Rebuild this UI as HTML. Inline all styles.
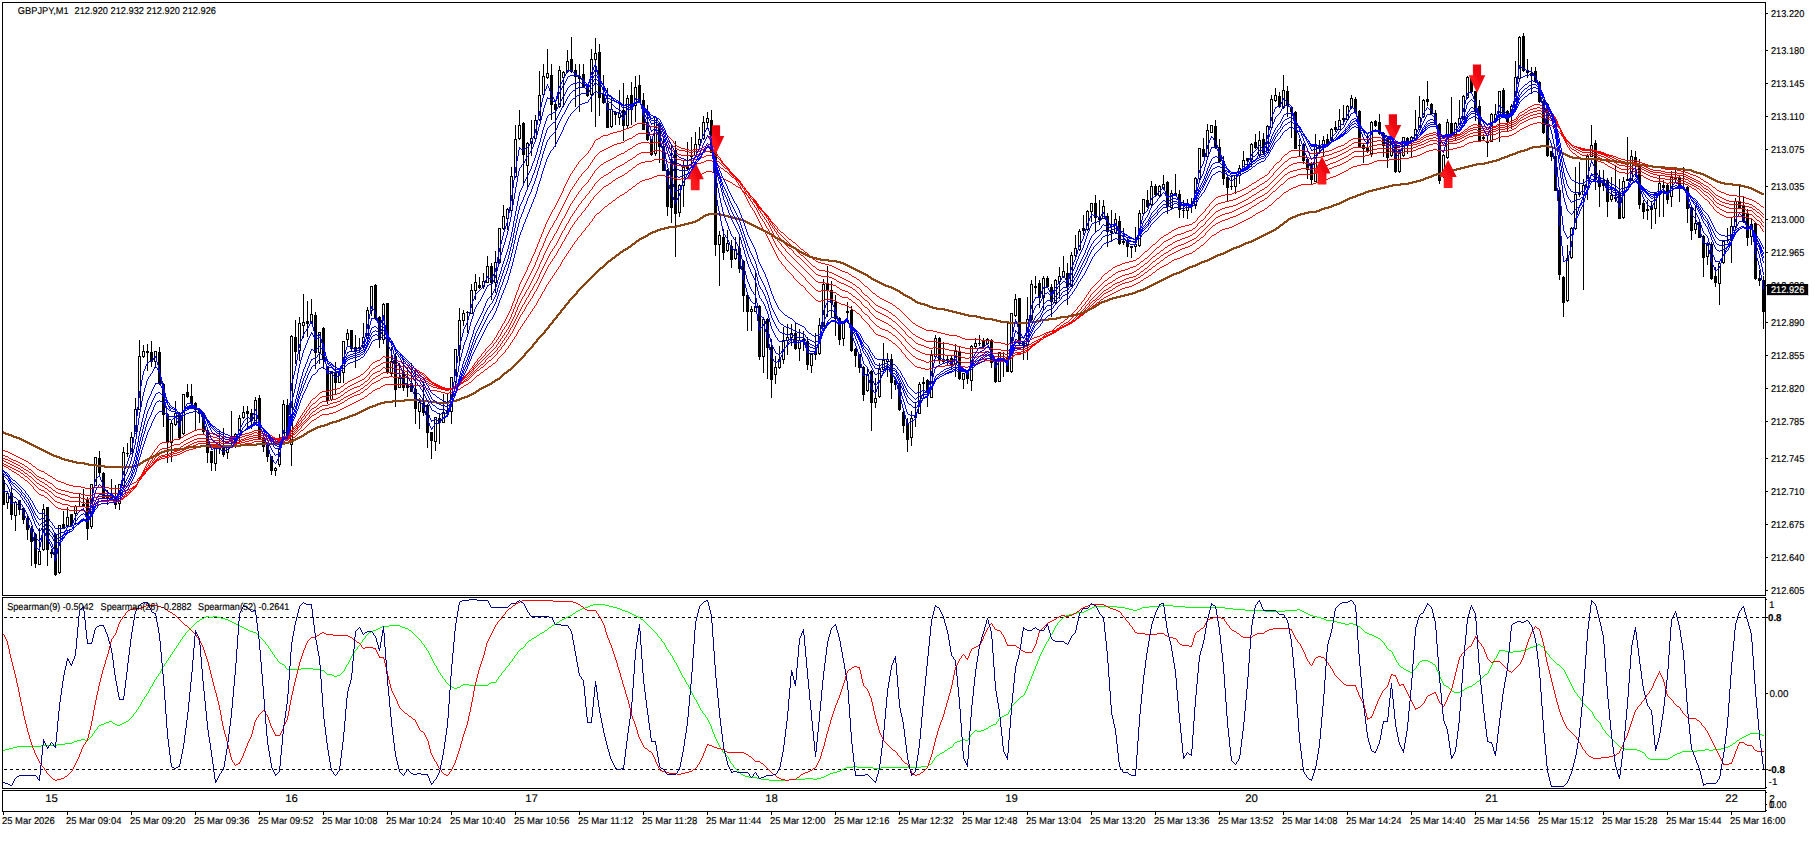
<!DOCTYPE html><html><head><meta charset="utf-8"><title>GBPJPY,M1</title><style>html,body{margin:0;padding:0;background:#fff;overflow:hidden}svg{display:block}</style></head><body><svg width="1816" height="847" viewBox="0 0 1816 847"><rect width="1816" height="847" fill="#fff"/><defs><clipPath id="cm"><rect x="3" y="3" width="1762" height="592"/></clipPath><clipPath id="ci"><rect x="3" y="598" width="1762" height="190"/></clipPath><linearGradient id="ag" x1="0" x2="1" y1="1" y2="0"><stop offset="0" stop-color="#ff2222"/><stop offset="0.45" stop-color="#fd1419"/><stop offset="0.55" stop-color="#ee0812"/><stop offset="1" stop-color="#e6000c"/></linearGradient></defs>
<g clip-path="url(#cm)" shape-rendering="crispEdges">
<g fill="#000"><rect x="3" y="473" width="1" height="32"/><rect x="2" y="480" width="3" height="25"/><rect x="7" y="493" width="1" height="16"/><rect x="6" y="493" width="3" height="10"/><rect x="7" y="494" width="1" height="8" fill="#fff"/><rect x="11" y="487" width="1" height="33"/><rect x="10" y="493" width="3" height="22"/><rect x="15" y="501" width="1" height="30"/><rect x="14" y="502" width="3" height="14"/><rect x="15" y="503" width="1" height="12" fill="#fff"/><rect x="19" y="500" width="1" height="15"/><rect x="18" y="500" width="3" height="10"/><rect x="23" y="507" width="1" height="17"/><rect x="22" y="508" width="3" height="12"/><rect x="27" y="516" width="1" height="24"/><rect x="26" y="518" width="3" height="12"/><rect x="31" y="526" width="1" height="40"/><rect x="30" y="528" width="3" height="14"/><rect x="35" y="533" width="1" height="35"/><rect x="34" y="534" width="3" height="30"/><rect x="39" y="528" width="1" height="37"/><rect x="38" y="551" width="3" height="14"/><rect x="39" y="552" width="1" height="12" fill="#fff"/><rect x="43" y="504" width="1" height="47"/><rect x="42" y="509" width="3" height="41"/><rect x="43" y="510" width="1" height="39" fill="#fff"/><rect x="47" y="507" width="1" height="59"/><rect x="46" y="507" width="3" height="43"/><rect x="51" y="549" width="1" height="9"/><rect x="50" y="552" width="3" height="2"/><rect x="55" y="533" width="1" height="43"/><rect x="54" y="534" width="3" height="41"/><rect x="59" y="525" width="1" height="49"/><rect x="58" y="525" width="3" height="48"/><rect x="59" y="526" width="1" height="46" fill="#fff"/><rect x="63" y="511" width="1" height="18"/><rect x="62" y="524" width="3" height="5"/><rect x="67" y="507" width="1" height="20"/><rect x="66" y="517" width="3" height="9"/><rect x="67" y="518" width="1" height="7" fill="#fff"/><rect x="71" y="514" width="1" height="13"/><rect x="70" y="514" width="3" height="12"/><rect x="75" y="505" width="1" height="20"/><rect x="74" y="506" width="3" height="8"/><rect x="75" y="507" width="1" height="6" fill="#fff"/><rect x="79" y="494" width="1" height="13"/><rect x="78" y="506" width="3" height="1"/><rect x="83" y="489" width="1" height="18"/><rect x="82" y="504" width="3" height="2"/><rect x="87" y="497" width="1" height="43"/><rect x="86" y="499" width="3" height="30"/><rect x="91" y="484" width="1" height="45"/><rect x="90" y="484" width="3" height="43"/><rect x="91" y="485" width="1" height="41" fill="#fff"/><rect x="95" y="457" width="1" height="29"/><rect x="94" y="457" width="3" height="29"/><rect x="95" y="458" width="1" height="27" fill="#fff"/><rect x="99" y="451" width="1" height="26"/><rect x="98" y="458" width="3" height="15"/><rect x="103" y="472" width="1" height="27"/><rect x="102" y="473" width="3" height="25"/><rect x="107" y="490" width="1" height="15"/><rect x="106" y="497" width="3" height="2"/><rect x="111" y="479" width="1" height="19"/><rect x="110" y="496" width="3" height="2"/><rect x="115" y="485" width="1" height="24"/><rect x="114" y="499" width="3" height="6"/><rect x="119" y="484" width="1" height="26"/><rect x="118" y="484" width="3" height="20"/><rect x="119" y="485" width="1" height="18" fill="#fff"/><rect x="123" y="447" width="1" height="39"/><rect x="122" y="452" width="3" height="34"/><rect x="123" y="453" width="1" height="32" fill="#fff"/><rect x="127" y="443" width="1" height="14"/><rect x="126" y="453" width="3" height="1"/><rect x="131" y="432" width="1" height="22"/><rect x="130" y="437" width="3" height="17"/><rect x="131" y="438" width="1" height="15" fill="#fff"/><rect x="135" y="398" width="1" height="36"/><rect x="134" y="409" width="3" height="25"/><rect x="135" y="410" width="1" height="23" fill="#fff"/><rect x="139" y="340" width="1" height="70"/><rect x="138" y="356" width="3" height="54"/><rect x="139" y="357" width="1" height="52" fill="#fff"/><rect x="143" y="345" width="1" height="13"/><rect x="142" y="351" width="3" height="6"/><rect x="143" y="352" width="1" height="4" fill="#fff"/><rect x="147" y="344" width="1" height="27"/><rect x="146" y="351" width="3" height="2"/><rect x="151" y="341" width="1" height="26"/><rect x="150" y="352" width="3" height="10"/><rect x="155" y="351" width="1" height="17"/><rect x="154" y="351" width="3" height="11"/><rect x="155" y="352" width="1" height="9" fill="#fff"/><rect x="159" y="347" width="1" height="38"/><rect x="158" y="352" width="3" height="32"/><rect x="163" y="383" width="1" height="44"/><rect x="162" y="384" width="3" height="31"/><rect x="167" y="413" width="1" height="50"/><rect x="166" y="414" width="3" height="29"/><rect x="171" y="420" width="1" height="42"/><rect x="170" y="423" width="3" height="20"/><rect x="171" y="424" width="1" height="18" fill="#fff"/><rect x="175" y="401" width="1" height="25"/><rect x="174" y="413" width="3" height="12"/><rect x="175" y="414" width="1" height="10" fill="#fff"/><rect x="179" y="412" width="1" height="28"/><rect x="178" y="413" width="3" height="25"/><rect x="183" y="394" width="1" height="41"/><rect x="182" y="394" width="3" height="40"/><rect x="183" y="395" width="1" height="38" fill="#fff"/><rect x="187" y="384" width="1" height="14"/><rect x="186" y="392" width="3" height="5"/><rect x="191" y="384" width="1" height="21"/><rect x="190" y="396" width="3" height="8"/><rect x="195" y="402" width="1" height="28"/><rect x="194" y="403" width="3" height="7"/><rect x="199" y="409" width="1" height="14"/><rect x="198" y="409" width="3" height="5"/><rect x="203" y="412" width="1" height="23"/><rect x="202" y="413" width="3" height="19"/><rect x="207" y="430" width="1" height="33"/><rect x="206" y="431" width="3" height="22"/><rect x="211" y="451" width="1" height="20"/><rect x="210" y="451" width="3" height="12"/><rect x="215" y="447" width="1" height="24"/><rect x="214" y="447" width="3" height="17"/><rect x="215" y="448" width="1" height="15" fill="#fff"/><rect x="219" y="430" width="1" height="24"/><rect x="218" y="444" width="3" height="5"/><rect x="223" y="428" width="1" height="29"/><rect x="222" y="446" width="3" height="9"/><rect x="227" y="445" width="1" height="14"/><rect x="226" y="446" width="3" height="7"/><rect x="227" y="447" width="1" height="5" fill="#fff"/><rect x="231" y="411" width="1" height="37"/><rect x="230" y="445" width="3" height="2"/><rect x="235" y="433" width="1" height="15"/><rect x="234" y="434" width="3" height="13"/><rect x="235" y="435" width="1" height="11" fill="#fff"/><rect x="239" y="415" width="1" height="28"/><rect x="238" y="418" width="3" height="16"/><rect x="239" y="419" width="1" height="14" fill="#fff"/><rect x="243" y="406" width="1" height="13"/><rect x="242" y="412" width="3" height="6"/><rect x="243" y="413" width="1" height="4" fill="#fff"/><rect x="247" y="406" width="1" height="24"/><rect x="246" y="411" width="3" height="3"/><rect x="251" y="409" width="1" height="20"/><rect x="250" y="413" width="3" height="8"/><rect x="255" y="397" width="1" height="27"/><rect x="254" y="400" width="3" height="24"/><rect x="255" y="401" width="1" height="22" fill="#fff"/><rect x="259" y="395" width="1" height="45"/><rect x="258" y="398" width="3" height="41"/><rect x="263" y="437" width="1" height="15"/><rect x="262" y="437" width="3" height="10"/><rect x="267" y="443" width="1" height="19"/><rect x="266" y="444" width="3" height="13"/><rect x="271" y="456" width="1" height="19"/><rect x="270" y="456" width="3" height="15"/><rect x="275" y="467" width="1" height="9"/><rect x="274" y="468" width="3" height="3"/><rect x="275" y="469" width="1" height="1" fill="#fff"/><rect x="279" y="434" width="1" height="33"/><rect x="278" y="449" width="3" height="16"/><rect x="279" y="450" width="1" height="14" fill="#fff"/><rect x="283" y="400" width="1" height="38"/><rect x="282" y="404" width="3" height="33"/><rect x="283" y="405" width="1" height="31" fill="#fff"/><rect x="287" y="399" width="1" height="39"/><rect x="286" y="405" width="3" height="32"/><rect x="291" y="335" width="1" height="131"/><rect x="290" y="336" width="3" height="109"/><rect x="291" y="337" width="1" height="107" fill="#fff"/><rect x="295" y="320" width="1" height="44"/><rect x="294" y="337" width="3" height="15"/><rect x="299" y="317" width="1" height="44"/><rect x="298" y="323" width="3" height="28"/><rect x="299" y="324" width="1" height="26" fill="#fff"/><rect x="303" y="294" width="1" height="44"/><rect x="302" y="322" width="3" height="4"/><rect x="303" y="323" width="1" height="2" fill="#fff"/><rect x="307" y="301" width="1" height="36"/><rect x="306" y="321" width="3" height="3"/><rect x="311" y="299" width="1" height="25"/><rect x="310" y="314" width="3" height="9"/><rect x="311" y="315" width="1" height="7" fill="#fff"/><rect x="315" y="312" width="1" height="57"/><rect x="314" y="315" width="3" height="38"/><rect x="319" y="332" width="1" height="32"/><rect x="318" y="332" width="3" height="21"/><rect x="319" y="333" width="1" height="19" fill="#fff"/><rect x="323" y="327" width="1" height="42"/><rect x="322" y="328" width="3" height="32"/><rect x="327" y="366" width="1" height="38"/><rect x="326" y="367" width="3" height="34"/><rect x="331" y="372" width="1" height="29"/><rect x="330" y="372" width="3" height="28"/><rect x="331" y="373" width="1" height="26" fill="#fff"/><rect x="335" y="362" width="1" height="33"/><rect x="334" y="372" width="3" height="11"/><rect x="339" y="372" width="1" height="11"/><rect x="338" y="372" width="3" height="11"/><rect x="339" y="373" width="1" height="9" fill="#fff"/><rect x="343" y="341" width="1" height="42"/><rect x="342" y="341" width="3" height="32"/><rect x="343" y="342" width="1" height="30" fill="#fff"/><rect x="347" y="329" width="1" height="18"/><rect x="346" y="333" width="3" height="7"/><rect x="347" y="334" width="1" height="5" fill="#fff"/><rect x="351" y="330" width="1" height="22"/><rect x="350" y="330" width="3" height="19"/><rect x="355" y="335" width="1" height="33"/><rect x="354" y="347" width="3" height="5"/><rect x="359" y="338" width="1" height="15"/><rect x="358" y="347" width="3" height="2"/><rect x="363" y="323" width="1" height="26"/><rect x="362" y="337" width="3" height="11"/><rect x="363" y="338" width="1" height="9" fill="#fff"/><rect x="367" y="307" width="1" height="32"/><rect x="366" y="310" width="3" height="28"/><rect x="367" y="311" width="1" height="26" fill="#fff"/><rect x="371" y="286" width="1" height="30"/><rect x="370" y="286" width="3" height="25"/><rect x="371" y="287" width="1" height="23" fill="#fff"/><rect x="375" y="284" width="1" height="36"/><rect x="374" y="285" width="3" height="34"/><rect x="379" y="316" width="1" height="32"/><rect x="378" y="317" width="3" height="23"/><rect x="383" y="303" width="1" height="41"/><rect x="382" y="304" width="3" height="36"/><rect x="383" y="305" width="1" height="34" fill="#fff"/><rect x="387" y="303" width="1" height="71"/><rect x="386" y="303" width="3" height="70"/><rect x="391" y="347" width="1" height="29"/><rect x="390" y="361" width="3" height="13"/><rect x="391" y="362" width="1" height="11" fill="#fff"/><rect x="395" y="353" width="1" height="54"/><rect x="394" y="356" width="3" height="34"/><rect x="399" y="363" width="1" height="25"/><rect x="398" y="378" width="3" height="10"/><rect x="399" y="379" width="1" height="8" fill="#fff"/><rect x="403" y="358" width="1" height="33"/><rect x="402" y="372" width="3" height="16"/><rect x="407" y="367" width="1" height="30"/><rect x="406" y="384" width="3" height="4"/><rect x="411" y="363" width="1" height="29"/><rect x="410" y="383" width="3" height="9"/><rect x="415" y="369" width="1" height="55"/><rect x="414" y="389" width="3" height="20"/><rect x="419" y="398" width="1" height="31"/><rect x="418" y="402" width="3" height="10"/><rect x="419" y="403" width="1" height="8" fill="#fff"/><rect x="423" y="382" width="1" height="34"/><rect x="422" y="403" width="3" height="10"/><rect x="427" y="404" width="1" height="44"/><rect x="426" y="405" width="3" height="28"/><rect x="431" y="432" width="1" height="27"/><rect x="430" y="432" width="3" height="9"/><rect x="435" y="417" width="1" height="34"/><rect x="434" y="417" width="3" height="25"/><rect x="435" y="418" width="1" height="23" fill="#fff"/><rect x="439" y="413" width="1" height="31"/><rect x="438" y="418" width="3" height="5"/><rect x="443" y="394" width="1" height="29"/><rect x="442" y="412" width="3" height="11"/><rect x="443" y="413" width="1" height="9" fill="#fff"/><rect x="447" y="393" width="1" height="24"/><rect x="446" y="411" width="3" height="2"/><rect x="451" y="377" width="1" height="47"/><rect x="450" y="377" width="3" height="35"/><rect x="451" y="378" width="1" height="33" fill="#fff"/><rect x="455" y="349" width="1" height="34"/><rect x="454" y="349" width="3" height="33"/><rect x="455" y="350" width="1" height="31" fill="#fff"/><rect x="459" y="308" width="1" height="53"/><rect x="458" y="320" width="3" height="30"/><rect x="459" y="321" width="1" height="28" fill="#fff"/><rect x="463" y="310" width="1" height="16"/><rect x="462" y="313" width="3" height="8"/><rect x="463" y="314" width="1" height="6" fill="#fff"/><rect x="467" y="311" width="1" height="22"/><rect x="466" y="312" width="3" height="1"/><rect x="471" y="284" width="1" height="30"/><rect x="470" y="290" width="3" height="24"/><rect x="471" y="291" width="1" height="22" fill="#fff"/><rect x="475" y="274" width="1" height="26"/><rect x="474" y="282" width="3" height="9"/><rect x="475" y="283" width="1" height="7" fill="#fff"/><rect x="479" y="277" width="1" height="12"/><rect x="478" y="285" width="3" height="3"/><rect x="483" y="273" width="1" height="16"/><rect x="482" y="281" width="3" height="6"/><rect x="483" y="282" width="1" height="4" fill="#fff"/><rect x="487" y="256" width="1" height="27"/><rect x="486" y="266" width="3" height="17"/><rect x="487" y="267" width="1" height="15" fill="#fff"/><rect x="491" y="263" width="1" height="37"/><rect x="490" y="266" width="3" height="17"/><rect x="495" y="251" width="1" height="42"/><rect x="494" y="262" width="3" height="21"/><rect x="495" y="263" width="1" height="19" fill="#fff"/><rect x="499" y="228" width="1" height="36"/><rect x="498" y="228" width="3" height="35"/><rect x="499" y="229" width="1" height="33" fill="#fff"/><rect x="503" y="205" width="1" height="25"/><rect x="502" y="216" width="3" height="13"/><rect x="503" y="217" width="1" height="11" fill="#fff"/><rect x="507" y="208" width="1" height="22"/><rect x="506" y="209" width="3" height="10"/><rect x="507" y="210" width="1" height="8" fill="#fff"/><rect x="511" y="167" width="1" height="45"/><rect x="510" y="176" width="3" height="35"/><rect x="511" y="177" width="1" height="33" fill="#fff"/><rect x="515" y="125" width="1" height="53"/><rect x="514" y="139" width="3" height="38"/><rect x="515" y="140" width="1" height="36" fill="#fff"/><rect x="519" y="110" width="1" height="30"/><rect x="518" y="125" width="3" height="14"/><rect x="519" y="126" width="1" height="12" fill="#fff"/><rect x="523" y="122" width="1" height="61"/><rect x="522" y="123" width="3" height="32"/><rect x="527" y="142" width="1" height="45"/><rect x="526" y="143" width="3" height="23"/><rect x="527" y="144" width="1" height="21" fill="#fff"/><rect x="531" y="120" width="1" height="36"/><rect x="530" y="138" width="3" height="6"/><rect x="531" y="139" width="1" height="4" fill="#fff"/><rect x="535" y="115" width="1" height="25"/><rect x="534" y="120" width="3" height="19"/><rect x="535" y="121" width="1" height="17" fill="#fff"/><rect x="539" y="71" width="1" height="50"/><rect x="538" y="95" width="3" height="25"/><rect x="539" y="96" width="1" height="23" fill="#fff"/><rect x="543" y="64" width="1" height="32"/><rect x="542" y="76" width="3" height="19"/><rect x="543" y="77" width="1" height="17" fill="#fff"/><rect x="547" y="49" width="1" height="30"/><rect x="546" y="73" width="3" height="5"/><rect x="547" y="74" width="1" height="3" fill="#fff"/><rect x="551" y="64" width="1" height="56"/><rect x="550" y="75" width="3" height="30"/><rect x="555" y="103" width="1" height="44"/><rect x="554" y="104" width="3" height="6"/><rect x="559" y="66" width="1" height="42"/><rect x="558" y="70" width="3" height="37"/><rect x="559" y="71" width="1" height="35" fill="#fff"/><rect x="563" y="71" width="1" height="36"/><rect x="562" y="72" width="3" height="6"/><rect x="563" y="73" width="1" height="4" fill="#fff"/><rect x="567" y="50" width="1" height="23"/><rect x="566" y="61" width="3" height="11"/><rect x="567" y="62" width="1" height="9" fill="#fff"/><rect x="571" y="37" width="1" height="36"/><rect x="570" y="59" width="3" height="13"/><rect x="575" y="64" width="1" height="43"/><rect x="574" y="70" width="3" height="7"/><rect x="579" y="64" width="1" height="48"/><rect x="578" y="76" width="3" height="3"/><rect x="583" y="64" width="1" height="24"/><rect x="582" y="74" width="3" height="13"/><rect x="587" y="84" width="1" height="13"/><rect x="586" y="85" width="3" height="11"/><rect x="591" y="49" width="1" height="63"/><rect x="590" y="59" width="3" height="36"/><rect x="591" y="60" width="1" height="34" fill="#fff"/><rect x="595" y="38" width="1" height="89"/><rect x="594" y="53" width="3" height="7"/><rect x="595" y="54" width="1" height="5" fill="#fff"/><rect x="599" y="44" width="1" height="72"/><rect x="598" y="52" width="3" height="46"/><rect x="603" y="75" width="1" height="29"/><rect x="602" y="94" width="3" height="9"/><rect x="607" y="88" width="1" height="40"/><rect x="606" y="103" width="3" height="25"/><rect x="611" y="98" width="1" height="30"/><rect x="610" y="109" width="3" height="18"/><rect x="611" y="110" width="1" height="16" fill="#fff"/><rect x="615" y="111" width="1" height="14"/><rect x="614" y="112" width="3" height="3"/><rect x="619" y="90" width="1" height="35"/><rect x="618" y="113" width="3" height="5"/><rect x="619" y="114" width="1" height="3" fill="#fff"/><rect x="623" y="83" width="1" height="58"/><rect x="622" y="110" width="3" height="16"/><rect x="627" y="95" width="1" height="34"/><rect x="626" y="98" width="3" height="28"/><rect x="627" y="99" width="1" height="26" fill="#fff"/><rect x="631" y="82" width="1" height="43"/><rect x="630" y="95" width="3" height="15"/><rect x="635" y="76" width="1" height="46"/><rect x="634" y="87" width="3" height="19"/><rect x="635" y="88" width="1" height="17" fill="#fff"/><rect x="639" y="75" width="1" height="28"/><rect x="638" y="85" width="3" height="17"/><rect x="643" y="93" width="1" height="37"/><rect x="642" y="100" width="3" height="30"/><rect x="647" y="105" width="1" height="36"/><rect x="646" y="122" width="3" height="18"/><rect x="651" y="139" width="1" height="17"/><rect x="650" y="139" width="3" height="16"/><rect x="655" y="117" width="1" height="39"/><rect x="654" y="117" width="3" height="37"/><rect x="655" y="118" width="1" height="35" fill="#fff"/><rect x="659" y="122" width="1" height="41"/><rect x="658" y="124" width="3" height="23"/><rect x="663" y="136" width="1" height="35"/><rect x="662" y="146" width="3" height="25"/><rect x="667" y="169" width="1" height="47"/><rect x="666" y="170" width="3" height="37"/><rect x="671" y="146" width="1" height="77"/><rect x="670" y="159" width="3" height="49"/><rect x="675" y="141" width="1" height="116"/><rect x="674" y="150" width="3" height="64"/><rect x="679" y="184" width="1" height="33"/><rect x="678" y="185" width="3" height="28"/><rect x="679" y="186" width="1" height="26" fill="#fff"/><rect x="683" y="161" width="1" height="46"/><rect x="682" y="167" width="3" height="19"/><rect x="683" y="168" width="1" height="17" fill="#fff"/><rect x="687" y="142" width="1" height="28"/><rect x="686" y="166" width="3" height="3"/><rect x="691" y="137" width="1" height="28"/><rect x="690" y="155" width="3" height="2"/><rect x="695" y="132" width="1" height="25"/><rect x="694" y="144" width="3" height="12"/><rect x="695" y="145" width="1" height="10" fill="#fff"/><rect x="699" y="127" width="1" height="19"/><rect x="698" y="139" width="3" height="6"/><rect x="699" y="140" width="1" height="4" fill="#fff"/><rect x="703" y="116" width="1" height="24"/><rect x="702" y="122" width="3" height="17"/><rect x="703" y="123" width="1" height="15" fill="#fff"/><rect x="707" y="112" width="1" height="17"/><rect x="706" y="118" width="3" height="5"/><rect x="707" y="119" width="1" height="3" fill="#fff"/><rect x="711" y="110" width="1" height="43"/><rect x="710" y="120" width="3" height="33"/><rect x="715" y="151" width="1" height="105"/><rect x="714" y="152" width="3" height="93"/><rect x="719" y="231" width="1" height="55"/><rect x="718" y="235" width="3" height="10"/><rect x="719" y="236" width="1" height="8" fill="#fff"/><rect x="723" y="229" width="1" height="31"/><rect x="722" y="237" width="3" height="16"/><rect x="727" y="230" width="1" height="22"/><rect x="726" y="243" width="3" height="8"/><rect x="727" y="244" width="1" height="6" fill="#fff"/><rect x="731" y="240" width="1" height="28"/><rect x="730" y="246" width="3" height="14"/><rect x="735" y="237" width="1" height="23"/><rect x="734" y="249" width="3" height="10"/><rect x="735" y="250" width="1" height="8" fill="#fff"/><rect x="739" y="237" width="1" height="36"/><rect x="738" y="248" width="3" height="21"/><rect x="743" y="260" width="1" height="52"/><rect x="742" y="261" width="3" height="35"/><rect x="747" y="294" width="1" height="37"/><rect x="746" y="295" width="3" height="17"/><rect x="751" y="306" width="1" height="25"/><rect x="750" y="309" width="3" height="3"/><rect x="751" y="310" width="1" height="1" fill="#fff"/><rect x="755" y="272" width="1" height="40"/><rect x="754" y="306" width="3" height="6"/><rect x="755" y="307" width="1" height="4" fill="#fff"/><rect x="759" y="305" width="1" height="55"/><rect x="758" y="306" width="3" height="51"/><rect x="763" y="318" width="1" height="55"/><rect x="762" y="319" width="3" height="38"/><rect x="763" y="320" width="1" height="36" fill="#fff"/><rect x="767" y="318" width="1" height="61"/><rect x="766" y="319" width="3" height="29"/><rect x="771" y="339" width="1" height="59"/><rect x="770" y="347" width="3" height="33"/><rect x="775" y="356" width="1" height="28"/><rect x="774" y="367" width="3" height="8"/><rect x="775" y="368" width="1" height="6" fill="#fff"/><rect x="779" y="346" width="1" height="23"/><rect x="778" y="359" width="3" height="9"/><rect x="779" y="360" width="1" height="7" fill="#fff"/><rect x="783" y="327" width="1" height="37"/><rect x="782" y="340" width="3" height="20"/><rect x="783" y="341" width="1" height="18" fill="#fff"/><rect x="787" y="324" width="1" height="31"/><rect x="786" y="337" width="3" height="4"/><rect x="787" y="338" width="1" height="2" fill="#fff"/><rect x="791" y="324" width="1" height="22"/><rect x="790" y="333" width="3" height="5"/><rect x="791" y="334" width="1" height="3" fill="#fff"/><rect x="795" y="323" width="1" height="27"/><rect x="794" y="333" width="3" height="16"/><rect x="799" y="329" width="1" height="32"/><rect x="798" y="340" width="3" height="9"/><rect x="799" y="341" width="1" height="7" fill="#fff"/><rect x="803" y="331" width="1" height="20"/><rect x="802" y="339" width="3" height="2"/><rect x="807" y="337" width="1" height="33"/><rect x="806" y="341" width="3" height="24"/><rect x="811" y="353" width="1" height="20"/><rect x="810" y="354" width="3" height="12"/><rect x="811" y="355" width="1" height="10" fill="#fff"/><rect x="815" y="333" width="1" height="27"/><rect x="814" y="352" width="3" height="3"/><rect x="815" y="353" width="1" height="1" fill="#fff"/><rect x="819" y="318" width="1" height="37"/><rect x="818" y="325" width="3" height="29"/><rect x="819" y="326" width="1" height="27" fill="#fff"/><rect x="823" y="279" width="1" height="48"/><rect x="822" y="284" width="3" height="43"/><rect x="823" y="285" width="1" height="41" fill="#fff"/><rect x="827" y="266" width="1" height="51"/><rect x="826" y="284" width="3" height="7"/><rect x="831" y="281" width="1" height="36"/><rect x="830" y="290" width="3" height="13"/><rect x="835" y="295" width="1" height="41"/><rect x="834" y="302" width="3" height="17"/><rect x="839" y="317" width="1" height="28"/><rect x="838" y="318" width="3" height="22"/><rect x="843" y="321" width="1" height="25"/><rect x="842" y="321" width="3" height="18"/><rect x="843" y="322" width="1" height="16" fill="#fff"/><rect x="847" y="302" width="1" height="21"/><rect x="846" y="311" width="3" height="2"/><rect x="851" y="306" width="1" height="46"/><rect x="850" y="310" width="3" height="41"/><rect x="855" y="348" width="1" height="19"/><rect x="854" y="349" width="3" height="7"/><rect x="859" y="354" width="1" height="19"/><rect x="858" y="354" width="3" height="14"/><rect x="863" y="366" width="1" height="35"/><rect x="862" y="367" width="3" height="28"/><rect x="867" y="368" width="1" height="24"/><rect x="866" y="374" width="3" height="17"/><rect x="867" y="375" width="1" height="15" fill="#fff"/><rect x="871" y="370" width="1" height="61"/><rect x="870" y="371" width="3" height="32"/><rect x="875" y="378" width="1" height="30"/><rect x="874" y="398" width="3" height="5"/><rect x="875" y="399" width="1" height="3" fill="#fff"/><rect x="879" y="363" width="1" height="35"/><rect x="878" y="369" width="3" height="28"/><rect x="879" y="370" width="1" height="26" fill="#fff"/><rect x="883" y="343" width="1" height="31"/><rect x="882" y="360" width="3" height="10"/><rect x="883" y="361" width="1" height="8" fill="#fff"/><rect x="887" y="353" width="1" height="24"/><rect x="886" y="359" width="3" height="3"/><rect x="887" y="360" width="1" height="1" fill="#fff"/><rect x="891" y="354" width="1" height="45"/><rect x="890" y="359" width="3" height="24"/><rect x="895" y="379" width="1" height="11"/><rect x="894" y="380" width="3" height="5"/><rect x="899" y="382" width="1" height="29"/><rect x="898" y="383" width="3" height="27"/><rect x="903" y="411" width="1" height="22"/><rect x="902" y="412" width="3" height="14"/><rect x="907" y="418" width="1" height="34"/><rect x="906" y="423" width="3" height="17"/><rect x="911" y="411" width="1" height="35"/><rect x="910" y="418" width="3" height="20"/><rect x="911" y="419" width="1" height="18" fill="#fff"/><rect x="915" y="402" width="1" height="25"/><rect x="914" y="415" width="3" height="3"/><rect x="919" y="382" width="1" height="32"/><rect x="918" y="384" width="3" height="30"/><rect x="919" y="385" width="1" height="28" fill="#fff"/><rect x="923" y="377" width="1" height="21"/><rect x="922" y="382" width="3" height="2"/><rect x="927" y="379" width="1" height="28"/><rect x="926" y="380" width="3" height="12"/><rect x="931" y="350" width="1" height="48"/><rect x="930" y="355" width="3" height="43"/><rect x="931" y="356" width="1" height="41" fill="#fff"/><rect x="935" y="335" width="1" height="23"/><rect x="934" y="338" width="3" height="19"/><rect x="935" y="339" width="1" height="17" fill="#fff"/><rect x="939" y="337" width="1" height="27"/><rect x="938" y="338" width="3" height="22"/><rect x="943" y="342" width="1" height="22"/><rect x="942" y="359" width="3" height="3"/><rect x="947" y="356" width="1" height="10"/><rect x="946" y="359" width="3" height="2"/><rect x="951" y="356" width="1" height="14"/><rect x="950" y="358" width="3" height="7"/><rect x="955" y="344" width="1" height="33"/><rect x="954" y="351" width="3" height="13"/><rect x="955" y="352" width="1" height="11" fill="#fff"/><rect x="959" y="346" width="1" height="34"/><rect x="958" y="351" width="3" height="28"/><rect x="963" y="373" width="1" height="16"/><rect x="962" y="373" width="3" height="7"/><rect x="963" y="374" width="1" height="5" fill="#fff"/><rect x="967" y="370" width="1" height="14"/><rect x="966" y="371" width="3" height="8"/><rect x="971" y="345" width="1" height="46"/><rect x="970" y="346" width="3" height="35"/><rect x="971" y="347" width="1" height="33" fill="#fff"/><rect x="975" y="338" width="1" height="10"/><rect x="974" y="343" width="3" height="4"/><rect x="975" y="344" width="1" height="2" fill="#fff"/><rect x="979" y="335" width="1" height="11"/><rect x="978" y="343" width="3" height="1"/><rect x="983" y="338" width="1" height="10"/><rect x="982" y="340" width="3" height="7"/><rect x="987" y="338" width="1" height="6"/><rect x="986" y="339" width="3" height="5"/><rect x="987" y="340" width="1" height="3" fill="#fff"/><rect x="991" y="339" width="1" height="29"/><rect x="990" y="340" width="3" height="23"/><rect x="995" y="362" width="1" height="21"/><rect x="994" y="362" width="3" height="20"/><rect x="999" y="352" width="1" height="30"/><rect x="998" y="352" width="3" height="30"/><rect x="999" y="353" width="1" height="28" fill="#fff"/><rect x="1003" y="352" width="1" height="25"/><rect x="1002" y="358" width="3" height="2"/><rect x="1007" y="323" width="1" height="49"/><rect x="1006" y="358" width="3" height="14"/><rect x="1011" y="313" width="1" height="60"/><rect x="1010" y="313" width="3" height="59"/><rect x="1011" y="314" width="1" height="57" fill="#fff"/><rect x="1015" y="294" width="1" height="23"/><rect x="1014" y="299" width="3" height="17"/><rect x="1015" y="300" width="1" height="15" fill="#fff"/><rect x="1019" y="298" width="1" height="48"/><rect x="1018" y="298" width="3" height="46"/><rect x="1023" y="341" width="1" height="19"/><rect x="1022" y="342" width="3" height="4"/><rect x="1027" y="297" width="1" height="63"/><rect x="1026" y="319" width="3" height="26"/><rect x="1027" y="320" width="1" height="24" fill="#fff"/><rect x="1031" y="280" width="1" height="41"/><rect x="1030" y="284" width="3" height="36"/><rect x="1031" y="285" width="1" height="34" fill="#fff"/><rect x="1035" y="276" width="1" height="18"/><rect x="1034" y="286" width="3" height="2"/><rect x="1039" y="280" width="1" height="28"/><rect x="1038" y="283" width="3" height="15"/><rect x="1043" y="276" width="1" height="35"/><rect x="1042" y="278" width="3" height="20"/><rect x="1043" y="279" width="1" height="18" fill="#fff"/><rect x="1047" y="276" width="1" height="12"/><rect x="1046" y="278" width="3" height="9"/><rect x="1051" y="284" width="1" height="33"/><rect x="1050" y="287" width="3" height="15"/><rect x="1055" y="279" width="1" height="25"/><rect x="1054" y="280" width="3" height="23"/><rect x="1055" y="281" width="1" height="21" fill="#fff"/><rect x="1059" y="267" width="1" height="32"/><rect x="1058" y="276" width="3" height="6"/><rect x="1059" y="277" width="1" height="4" fill="#fff"/><rect x="1063" y="256" width="1" height="22"/><rect x="1062" y="271" width="3" height="6"/><rect x="1063" y="272" width="1" height="4" fill="#fff"/><rect x="1067" y="263" width="1" height="42"/><rect x="1066" y="273" width="3" height="14"/><rect x="1071" y="252" width="1" height="35"/><rect x="1070" y="255" width="3" height="31"/><rect x="1071" y="256" width="1" height="29" fill="#fff"/><rect x="1075" y="235" width="1" height="22"/><rect x="1074" y="248" width="3" height="8"/><rect x="1075" y="249" width="1" height="6" fill="#fff"/><rect x="1079" y="229" width="1" height="22"/><rect x="1078" y="231" width="3" height="19"/><rect x="1079" y="232" width="1" height="17" fill="#fff"/><rect x="1083" y="215" width="1" height="20"/><rect x="1082" y="228" width="3" height="3"/><rect x="1087" y="210" width="1" height="21"/><rect x="1086" y="211" width="3" height="19"/><rect x="1087" y="212" width="1" height="17" fill="#fff"/><rect x="1091" y="203" width="1" height="19"/><rect x="1090" y="203" width="3" height="9"/><rect x="1091" y="204" width="1" height="7" fill="#fff"/><rect x="1095" y="195" width="1" height="38"/><rect x="1094" y="203" width="3" height="15"/><rect x="1099" y="200" width="1" height="25"/><rect x="1098" y="217" width="3" height="3"/><rect x="1103" y="200" width="1" height="19"/><rect x="1102" y="206" width="3" height="13"/><rect x="1103" y="207" width="1" height="11" fill="#fff"/><rect x="1107" y="213" width="1" height="34"/><rect x="1106" y="216" width="3" height="16"/><rect x="1111" y="210" width="1" height="31"/><rect x="1110" y="231" width="3" height="2"/><rect x="1115" y="213" width="1" height="21"/><rect x="1114" y="219" width="3" height="14"/><rect x="1115" y="220" width="1" height="12" fill="#fff"/><rect x="1119" y="216" width="1" height="29"/><rect x="1118" y="221" width="3" height="23"/><rect x="1123" y="228" width="1" height="17"/><rect x="1122" y="241" width="3" height="2"/><rect x="1127" y="239" width="1" height="18"/><rect x="1126" y="240" width="3" height="7"/><rect x="1131" y="246" width="1" height="12"/><rect x="1130" y="246" width="3" height="2"/><rect x="1135" y="227" width="1" height="25"/><rect x="1134" y="244" width="3" height="3"/><rect x="1135" y="245" width="1" height="1" fill="#fff"/><rect x="1139" y="210" width="1" height="37"/><rect x="1138" y="213" width="3" height="33"/><rect x="1139" y="214" width="1" height="31" fill="#fff"/><rect x="1143" y="199" width="1" height="15"/><rect x="1142" y="199" width="3" height="15"/><rect x="1143" y="200" width="1" height="13" fill="#fff"/><rect x="1147" y="190" width="1" height="18"/><rect x="1146" y="200" width="3" height="7"/><rect x="1151" y="181" width="1" height="25"/><rect x="1150" y="186" width="3" height="19"/><rect x="1151" y="187" width="1" height="17" fill="#fff"/><rect x="1155" y="184" width="1" height="12"/><rect x="1154" y="186" width="3" height="9"/><rect x="1159" y="185" width="1" height="12"/><rect x="1158" y="186" width="3" height="10"/><rect x="1159" y="187" width="1" height="8" fill="#fff"/><rect x="1163" y="175" width="1" height="15"/><rect x="1162" y="184" width="3" height="5"/><rect x="1163" y="185" width="1" height="3" fill="#fff"/><rect x="1167" y="181" width="1" height="33"/><rect x="1166" y="182" width="3" height="25"/><rect x="1171" y="190" width="1" height="19"/><rect x="1170" y="193" width="3" height="15"/><rect x="1171" y="194" width="1" height="13" fill="#fff"/><rect x="1175" y="174" width="1" height="21"/><rect x="1174" y="193" width="3" height="2"/><rect x="1179" y="190" width="1" height="28"/><rect x="1178" y="194" width="3" height="16"/><rect x="1183" y="200" width="1" height="18"/><rect x="1182" y="210" width="3" height="1"/><rect x="1187" y="199" width="1" height="20"/><rect x="1186" y="205" width="3" height="6"/><rect x="1187" y="206" width="1" height="4" fill="#fff"/><rect x="1191" y="198" width="1" height="15"/><rect x="1190" y="205" width="3" height="2"/><rect x="1195" y="177" width="1" height="32"/><rect x="1194" y="178" width="3" height="28"/><rect x="1195" y="179" width="1" height="26" fill="#fff"/><rect x="1199" y="148" width="1" height="32"/><rect x="1198" y="148" width="3" height="31"/><rect x="1199" y="149" width="1" height="29" fill="#fff"/><rect x="1203" y="138" width="1" height="19"/><rect x="1202" y="149" width="3" height="8"/><rect x="1207" y="124" width="1" height="33"/><rect x="1206" y="130" width="3" height="27"/><rect x="1207" y="131" width="1" height="25" fill="#fff"/><rect x="1211" y="125" width="1" height="8"/><rect x="1210" y="125" width="3" height="8"/><rect x="1211" y="126" width="1" height="6" fill="#fff"/><rect x="1215" y="120" width="1" height="29"/><rect x="1214" y="126" width="3" height="22"/><rect x="1219" y="139" width="1" height="24"/><rect x="1218" y="147" width="3" height="15"/><rect x="1223" y="156" width="1" height="29"/><rect x="1222" y="161" width="3" height="18"/><rect x="1227" y="176" width="1" height="25"/><rect x="1226" y="177" width="3" height="11"/><rect x="1231" y="176" width="1" height="14"/><rect x="1230" y="186" width="3" height="1"/><rect x="1235" y="175" width="1" height="19"/><rect x="1234" y="175" width="3" height="12"/><rect x="1235" y="176" width="1" height="10" fill="#fff"/><rect x="1239" y="165" width="1" height="19"/><rect x="1238" y="168" width="3" height="8"/><rect x="1239" y="169" width="1" height="6" fill="#fff"/><rect x="1243" y="151" width="1" height="19"/><rect x="1242" y="160" width="3" height="9"/><rect x="1243" y="161" width="1" height="7" fill="#fff"/><rect x="1247" y="158" width="1" height="11"/><rect x="1246" y="158" width="3" height="3"/><rect x="1251" y="143" width="1" height="24"/><rect x="1250" y="144" width="3" height="16"/><rect x="1251" y="145" width="1" height="14" fill="#fff"/><rect x="1255" y="134" width="1" height="15"/><rect x="1254" y="142" width="3" height="6"/><rect x="1259" y="131" width="1" height="26"/><rect x="1258" y="140" width="3" height="16"/><rect x="1259" y="141" width="1" height="14" fill="#fff"/><rect x="1263" y="133" width="1" height="21"/><rect x="1262" y="139" width="3" height="14"/><rect x="1267" y="125" width="1" height="29"/><rect x="1266" y="126" width="3" height="27"/><rect x="1267" y="127" width="1" height="25" fill="#fff"/><rect x="1271" y="95" width="1" height="34"/><rect x="1270" y="99" width="3" height="29"/><rect x="1271" y="100" width="1" height="27" fill="#fff"/><rect x="1275" y="88" width="1" height="14"/><rect x="1274" y="95" width="3" height="6"/><rect x="1275" y="96" width="1" height="4" fill="#fff"/><rect x="1279" y="92" width="1" height="16"/><rect x="1278" y="96" width="3" height="11"/><rect x="1283" y="75" width="1" height="34"/><rect x="1282" y="90" width="3" height="18"/><rect x="1283" y="91" width="1" height="16" fill="#fff"/><rect x="1287" y="86" width="1" height="31"/><rect x="1286" y="91" width="3" height="15"/><rect x="1291" y="106" width="1" height="32"/><rect x="1290" y="107" width="3" height="5"/><rect x="1295" y="111" width="1" height="38"/><rect x="1294" y="112" width="3" height="37"/><rect x="1299" y="139" width="1" height="17"/><rect x="1298" y="145" width="3" height="1"/><rect x="1303" y="143" width="1" height="21"/><rect x="1302" y="144" width="3" height="17"/><rect x="1307" y="158" width="1" height="21"/><rect x="1306" y="159" width="3" height="11"/><rect x="1311" y="162" width="1" height="22"/><rect x="1310" y="163" width="3" height="17"/><rect x="1315" y="134" width="1" height="48"/><rect x="1314" y="146" width="3" height="36"/><rect x="1315" y="147" width="1" height="34" fill="#fff"/><rect x="1319" y="140" width="1" height="14"/><rect x="1318" y="146" width="3" height="2"/><rect x="1323" y="136" width="1" height="21"/><rect x="1322" y="140" width="3" height="7"/><rect x="1323" y="141" width="1" height="5" fill="#fff"/><rect x="1327" y="134" width="1" height="10"/><rect x="1326" y="139" width="3" height="5"/><rect x="1331" y="128" width="1" height="13"/><rect x="1330" y="129" width="3" height="11"/><rect x="1331" y="130" width="1" height="9" fill="#fff"/><rect x="1335" y="121" width="1" height="11"/><rect x="1334" y="127" width="3" height="3"/><rect x="1339" y="109" width="1" height="21"/><rect x="1338" y="120" width="3" height="10"/><rect x="1339" y="121" width="1" height="8" fill="#fff"/><rect x="1343" y="105" width="1" height="20"/><rect x="1342" y="118" width="3" height="2"/><rect x="1347" y="105" width="1" height="16"/><rect x="1346" y="106" width="3" height="14"/><rect x="1347" y="107" width="1" height="12" fill="#fff"/><rect x="1351" y="95" width="1" height="14"/><rect x="1350" y="98" width="3" height="10"/><rect x="1351" y="99" width="1" height="8" fill="#fff"/><rect x="1355" y="97" width="1" height="16"/><rect x="1354" y="99" width="3" height="13"/><rect x="1359" y="110" width="1" height="38"/><rect x="1358" y="111" width="3" height="36"/><rect x="1363" y="144" width="1" height="19"/><rect x="1362" y="145" width="3" height="4"/><rect x="1367" y="133" width="1" height="20"/><rect x="1366" y="148" width="3" height="3"/><rect x="1371" y="121" width="1" height="36"/><rect x="1370" y="122" width="3" height="32"/><rect x="1371" y="123" width="1" height="30" fill="#fff"/><rect x="1375" y="120" width="1" height="7"/><rect x="1374" y="121" width="3" height="5"/><rect x="1379" y="114" width="1" height="21"/><rect x="1378" y="122" width="3" height="12"/><rect x="1383" y="132" width="1" height="25"/><rect x="1382" y="133" width="3" height="13"/><rect x="1387" y="137" width="1" height="31"/><rect x="1386" y="138" width="3" height="20"/><rect x="1391" y="137" width="1" height="20"/><rect x="1390" y="138" width="3" height="18"/><rect x="1391" y="139" width="1" height="16" fill="#fff"/><rect x="1395" y="142" width="1" height="31"/><rect x="1394" y="143" width="3" height="29"/><rect x="1399" y="149" width="1" height="24"/><rect x="1398" y="150" width="3" height="22"/><rect x="1399" y="151" width="1" height="20" fill="#fff"/><rect x="1403" y="137" width="1" height="20"/><rect x="1402" y="137" width="3" height="19"/><rect x="1403" y="138" width="1" height="17" fill="#fff"/><rect x="1407" y="137" width="1" height="17"/><rect x="1406" y="138" width="3" height="5"/><rect x="1411" y="136" width="1" height="21"/><rect x="1410" y="137" width="3" height="5"/><rect x="1411" y="138" width="1" height="3" fill="#fff"/><rect x="1415" y="110" width="1" height="30"/><rect x="1414" y="129" width="3" height="10"/><rect x="1415" y="130" width="1" height="8" fill="#fff"/><rect x="1419" y="96" width="1" height="35"/><rect x="1418" y="117" width="3" height="13"/><rect x="1419" y="118" width="1" height="11" fill="#fff"/><rect x="1423" y="99" width="1" height="19"/><rect x="1422" y="100" width="3" height="17"/><rect x="1423" y="101" width="1" height="15" fill="#fff"/><rect x="1427" y="81" width="1" height="25"/><rect x="1426" y="99" width="3" height="3"/><rect x="1431" y="103" width="1" height="12"/><rect x="1430" y="104" width="3" height="10"/><rect x="1435" y="110" width="1" height="15"/><rect x="1434" y="113" width="3" height="11"/><rect x="1439" y="123" width="1" height="61"/><rect x="1438" y="124" width="3" height="57"/><rect x="1443" y="154" width="1" height="24"/><rect x="1442" y="155" width="3" height="22"/><rect x="1443" y="156" width="1" height="20" fill="#fff"/><rect x="1447" y="119" width="1" height="40"/><rect x="1446" y="122" width="3" height="36"/><rect x="1447" y="123" width="1" height="34" fill="#fff"/><rect x="1451" y="97" width="1" height="40"/><rect x="1450" y="123" width="3" height="13"/><rect x="1455" y="122" width="1" height="18"/><rect x="1454" y="123" width="3" height="12"/><rect x="1455" y="124" width="1" height="10" fill="#fff"/><rect x="1459" y="100" width="1" height="25"/><rect x="1458" y="118" width="3" height="7"/><rect x="1459" y="119" width="1" height="5" fill="#fff"/><rect x="1463" y="95" width="1" height="25"/><rect x="1462" y="96" width="3" height="23"/><rect x="1463" y="97" width="1" height="21" fill="#fff"/><rect x="1467" y="76" width="1" height="23"/><rect x="1466" y="77" width="3" height="21"/><rect x="1467" y="78" width="1" height="19" fill="#fff"/><rect x="1471" y="76" width="1" height="16"/><rect x="1470" y="77" width="3" height="15"/><rect x="1475" y="91" width="1" height="30"/><rect x="1474" y="91" width="3" height="21"/><rect x="1479" y="100" width="1" height="42"/><rect x="1478" y="106" width="3" height="35"/><rect x="1483" y="134" width="1" height="7"/><rect x="1482" y="137" width="3" height="2"/><rect x="1487" y="136" width="1" height="21"/><rect x="1486" y="141" width="3" height="2"/><rect x="1491" y="113" width="1" height="29"/><rect x="1490" y="114" width="3" height="28"/><rect x="1491" y="115" width="1" height="26" fill="#fff"/><rect x="1495" y="104" width="1" height="17"/><rect x="1494" y="114" width="3" height="6"/><rect x="1495" y="115" width="1" height="4" fill="#fff"/><rect x="1499" y="91" width="1" height="51"/><rect x="1498" y="91" width="3" height="24"/><rect x="1499" y="92" width="1" height="22" fill="#fff"/><rect x="1503" y="88" width="1" height="26"/><rect x="1502" y="90" width="3" height="24"/><rect x="1507" y="110" width="1" height="22"/><rect x="1506" y="111" width="3" height="11"/><rect x="1511" y="104" width="1" height="25"/><rect x="1510" y="106" width="3" height="10"/><rect x="1511" y="107" width="1" height="8" fill="#fff"/><rect x="1515" y="61" width="1" height="47"/><rect x="1514" y="77" width="3" height="30"/><rect x="1515" y="78" width="1" height="28" fill="#fff"/><rect x="1519" y="36" width="1" height="44"/><rect x="1518" y="37" width="3" height="42"/><rect x="1519" y="38" width="1" height="40" fill="#fff"/><rect x="1523" y="33" width="1" height="39"/><rect x="1522" y="36" width="3" height="35"/><rect x="1527" y="59" width="1" height="19"/><rect x="1526" y="71" width="3" height="2"/><rect x="1531" y="67" width="1" height="27"/><rect x="1530" y="73" width="3" height="3"/><rect x="1531" y="74" width="1" height="1" fill="#fff"/><rect x="1535" y="67" width="1" height="16"/><rect x="1534" y="71" width="3" height="11"/><rect x="1539" y="81" width="1" height="22"/><rect x="1538" y="82" width="3" height="20"/><rect x="1543" y="100" width="1" height="34"/><rect x="1542" y="101" width="3" height="32"/><rect x="1547" y="103" width="1" height="54"/><rect x="1546" y="104" width="3" height="52"/><rect x="1551" y="151" width="1" height="10"/><rect x="1550" y="151" width="3" height="6"/><rect x="1555" y="155" width="1" height="36"/><rect x="1554" y="156" width="3" height="35"/><rect x="1559" y="189" width="1" height="91"/><rect x="1558" y="190" width="3" height="85"/><rect x="1563" y="276" width="1" height="41"/><rect x="1562" y="277" width="3" height="26"/><rect x="1567" y="245" width="1" height="57"/><rect x="1566" y="258" width="3" height="43"/><rect x="1567" y="259" width="1" height="41" fill="#fff"/><rect x="1571" y="227" width="1" height="32"/><rect x="1570" y="228" width="3" height="30"/><rect x="1571" y="229" width="1" height="28" fill="#fff"/><rect x="1575" y="167" width="1" height="63"/><rect x="1574" y="194" width="3" height="35"/><rect x="1575" y="195" width="1" height="33" fill="#fff"/><rect x="1579" y="162" width="1" height="35"/><rect x="1578" y="192" width="3" height="3"/><rect x="1583" y="179" width="1" height="111"/><rect x="1582" y="185" width="3" height="10"/><rect x="1583" y="186" width="1" height="8" fill="#fff"/><rect x="1587" y="154" width="1" height="46"/><rect x="1586" y="156" width="3" height="31"/><rect x="1587" y="157" width="1" height="29" fill="#fff"/><rect x="1591" y="125" width="1" height="32"/><rect x="1590" y="145" width="3" height="12"/><rect x="1591" y="146" width="1" height="10" fill="#fff"/><rect x="1595" y="140" width="1" height="50"/><rect x="1594" y="143" width="3" height="36"/><rect x="1599" y="170" width="1" height="37"/><rect x="1598" y="177" width="3" height="10"/><rect x="1603" y="170" width="1" height="21"/><rect x="1602" y="180" width="3" height="6"/><rect x="1607" y="178" width="1" height="39"/><rect x="1606" y="180" width="3" height="22"/><rect x="1611" y="177" width="1" height="25"/><rect x="1610" y="195" width="3" height="5"/><rect x="1611" y="196" width="1" height="3" fill="#fff"/><rect x="1615" y="165" width="1" height="37"/><rect x="1614" y="197" width="3" height="2"/><rect x="1619" y="179" width="1" height="40"/><rect x="1618" y="192" width="3" height="27"/><rect x="1623" y="177" width="1" height="42"/><rect x="1622" y="181" width="3" height="37"/><rect x="1623" y="182" width="1" height="35" fill="#fff"/><rect x="1627" y="137" width="1" height="44"/><rect x="1626" y="179" width="3" height="2"/><rect x="1631" y="150" width="1" height="31"/><rect x="1630" y="156" width="3" height="25"/><rect x="1631" y="157" width="1" height="23" fill="#fff"/><rect x="1635" y="151" width="1" height="26"/><rect x="1634" y="157" width="3" height="7"/><rect x="1639" y="159" width="1" height="50"/><rect x="1638" y="166" width="3" height="39"/><rect x="1643" y="200" width="1" height="19"/><rect x="1642" y="203" width="3" height="9"/><rect x="1647" y="200" width="1" height="20"/><rect x="1646" y="209" width="3" height="2"/><rect x="1651" y="201" width="1" height="28"/><rect x="1650" y="207" width="3" height="3"/><rect x="1655" y="192" width="1" height="32"/><rect x="1654" y="193" width="3" height="16"/><rect x="1655" y="194" width="1" height="14" fill="#fff"/><rect x="1659" y="175" width="1" height="42"/><rect x="1658" y="183" width="3" height="12"/><rect x="1659" y="184" width="1" height="10" fill="#fff"/><rect x="1663" y="180" width="1" height="37"/><rect x="1662" y="185" width="3" height="3"/><rect x="1667" y="183" width="1" height="21"/><rect x="1666" y="185" width="3" height="15"/><rect x="1671" y="171" width="1" height="36"/><rect x="1670" y="177" width="3" height="20"/><rect x="1671" y="178" width="1" height="18" fill="#fff"/><rect x="1675" y="167" width="1" height="15"/><rect x="1674" y="178" width="3" height="1"/><rect x="1679" y="176" width="1" height="26"/><rect x="1678" y="177" width="3" height="11"/><rect x="1683" y="167" width="1" height="23"/><rect x="1682" y="187" width="3" height="2"/><rect x="1687" y="186" width="1" height="37"/><rect x="1686" y="187" width="3" height="22"/><rect x="1691" y="206" width="1" height="34"/><rect x="1690" y="207" width="3" height="24"/><rect x="1695" y="205" width="1" height="29"/><rect x="1694" y="223" width="3" height="7"/><rect x="1695" y="224" width="1" height="5" fill="#fff"/><rect x="1699" y="221" width="1" height="17"/><rect x="1698" y="222" width="3" height="16"/><rect x="1703" y="235" width="1" height="42"/><rect x="1702" y="236" width="3" height="22"/><rect x="1707" y="242" width="1" height="23"/><rect x="1706" y="243" width="3" height="14"/><rect x="1707" y="244" width="1" height="12" fill="#fff"/><rect x="1711" y="242" width="1" height="38"/><rect x="1710" y="244" width="3" height="35"/><rect x="1715" y="267" width="1" height="20"/><rect x="1714" y="276" width="3" height="7"/><rect x="1719" y="262" width="1" height="43"/><rect x="1718" y="263" width="3" height="21"/><rect x="1719" y="264" width="1" height="19" fill="#fff"/><rect x="1723" y="240" width="1" height="24"/><rect x="1722" y="241" width="3" height="22"/><rect x="1723" y="242" width="1" height="20" fill="#fff"/><rect x="1727" y="228" width="1" height="15"/><rect x="1726" y="240" width="3" height="1"/><rect x="1731" y="217" width="1" height="46"/><rect x="1730" y="226" width="3" height="14"/><rect x="1731" y="227" width="1" height="12" fill="#fff"/><rect x="1735" y="198" width="1" height="30"/><rect x="1734" y="201" width="3" height="26"/><rect x="1735" y="202" width="1" height="24" fill="#fff"/><rect x="1739" y="186" width="1" height="23"/><rect x="1738" y="201" width="3" height="7"/><rect x="1743" y="196" width="1" height="27"/><rect x="1742" y="206" width="3" height="16"/><rect x="1747" y="209" width="1" height="37"/><rect x="1746" y="213" width="3" height="25"/><rect x="1751" y="219" width="1" height="26"/><rect x="1750" y="224" width="3" height="13"/><rect x="1751" y="225" width="1" height="11" fill="#fff"/><rect x="1755" y="222" width="1" height="58"/><rect x="1754" y="223" width="3" height="56"/><rect x="1759" y="270" width="1" height="16"/><rect x="1758" y="278" width="3" height="3"/><rect x="1763" y="276" width="1" height="53"/><rect x="1762" y="280" width="3" height="32"/></g>
<path d="M3.5 465v1m1 0v1m1 -1v1m1 0v1m1 -1v1m1 0v1m1 0v1m1 -1v1m1 0v1m1 0v1m1 -1v1m1 0v1m1 -1v1m1 0v1m1 0v1m1 -1v1m1 0v1m1 0v1m1 0v1m1 -1v1m1 0v1m1 0v1m1 0v1m1 -1v1m1 0v1m1 0v1m1 0v1m1 0v1m1 0v1m1 0v1m1 0v2m1 0v1m1 0v1m1 0v1m1 0v1m1 0v1m1 0v1m1 -1v1m1 0v1m1 -1v1m1 -1v1m1 0v1m1 0v1m1 -1v1m1 0v1m1 0v1m1 0v1m1 0v1m1 0v1m1 0v1m1 0v1m1 0v1m1 0v1m1 0v1m1 -1v1m1 0v1m1 -1v1m1 -1v1m1 0v1m1 -1v1m1 -1v1m1 -1v1m1 -1v1m1 -1v1m1 -1v1m1 -1v1m1 0v1m1 -1v1m1 -1v1m1 -1v1m1 -1v1m1 -1v1m1 -1v1m1 -1v1m1 -1v1m1 -1v1m1 -1v1m1 -1v1m1 -1v1m1 -1v1m1 -1v1m1 -1v1m1 0v1m1 -1v1m1 -1v1m1 -2v1m1 -1v1m1 -2v1m1 -1v1m1 -2v1m1 -2v1m1 -1v1m1 -2v1m1 -2v1m1 -1v1m1 -2v1m1 -1v1m1 -1v1m1 -2v1m1 -1v1m1 -1v1m1 -1v1m1 -1v1m1 -1v1m1 -1v1m1 -1v1m1 -2v1m1 -1v1m1 -1v1m1 -1v1m1 -1v1m1 -1v1m1 -1v1m1 -1v1m1 -2v1m1 -1v1m1 -1v1m1 -2v1m1 -2v1m1 -1v1m1 -2v1m1 -2v1m1 -2v1m1 -1v1m1 -2v1m1 -2v1m1 -2v1m1 -2v1m1 -2v1m1 -2v1m1 -3v2m1 -3v1m1 -2v1m1 -3v2m1 -4v2m1 -4v2m1 -4v2m1 -4v2m1 -4v2m1 -4v2m1 -4v2m1 -4v2m1 -4v2m1 -4v2m1 -4v2m1 -4v2m1 -4v2m1 -4v2m1 -3v1m1 -3v2m1 -3v1m1 -3v2m1 -3v1m1 -2v1m1 -3v2m1 -3v1m1 -2v1m1 -2v1m1 -1v1m1 -2v1m1 -1v1m1 -1v1m1 -1v1m1 -1v1m1 -1v1m1 -1v1m1 -2v1m1 -1v1m1 -1v1m1 -2v1m1 -1v1m1 -2v1m1 -1v1m1 -1v1m1 -1v1m1 -1v1m1 -1v1m1 -2v1m1 -2v1m1 -1v1m1 -2v1m1 -2v1m1 -1v1m1 -2v1m1 -1v1m1 -2v1m1 -1v1m1 -2v1m1 -1v1m1 -2v1m1 -1v1m1 -2v1m1 -1v1m1 -1v1m1 -2v1m1 -1v1m1 -1v1m1 -1v1m1 -1v1m1 -1v1m1 -1v1m1 0v1m1 -1v1m1 0v1m1 -1v1m1 0v1m1 -1v1m1 0v1m1 -1v1m1 -1v1m1 0v1m1 -1v1m1 -1v1m1 -1v1m1 0v1m1 -1v1m1 -1v1m1 -1v1m1 0v1m1 -1v1m1 -1v1m1 -1v1m1 0v1m1 -1v1m1 -1v1m1 -1v1m1 -1v1m1 -1v1m1 -1v1m1 -1v1m1 -1v1m1 -1v1m1 -1v1m1 -1v1m1 -2v1m1 -1v1m1 -1v1m1 -2v1m1 -1v1m1 -2v1m1 -1v1m1 -1v1m1 -2v1m1 -1v1m1 -1v1m1 -1v1m1 -2v1m1 -1v1m1 -1v1m1 -2v1m1 -1v1m1 -2v1m1 -1v1m1 -1v1m1 -1v1m1 -1v1m1 -1v1m1 -1v1m1 0v1m1 -1v1m1 -1v1m1 0v1m1 -1v1m1 0v1m1 -1v1m1 0v1m1 -1v1m1 0v1m1 -1v1m1 0v1m1 0v1m1 -1v1m1 0v1m1 -1v1m1 -1v1m1 -1v1m1 -1v1m1 -2v1m1 -1v1m1 -2v1m1 -1v1m1 -1v1m1 -1v1m1 -1v1m1 -1v1m1 -3v2m1 -3v1m1 -3v2m1 -3v1m1 -2v1m1 -3v2m1 -3v1m1 -2v1m1 -3v2m1 -4v2m1 -4v2m1 -3v1m1 -3v2m1 -3v1m1 -3v2m1 -3v1m1 -3v2m1 -3v1m1 -3v2m1 -3v1m1 -3v2m1 -3v1m1 -3v2m1 -3v1m1 -2v1m1 -2v1m1 -1v1m1 -2v1m1 -2v1m1 -2v1m1 -2v1m1 -2v1m1 -2v1m1 -1v1m1 -2v1m1 -1v1m1 -1v1m1 -1v1m1 -1v1m1 -1v1m1 -1v1m1 -2v1m1 -1v1m1 -1v1m1 -1v1m1 -2v1m1 -1v1m1 -1v1m1 -1v1m1 -2v1m1 -1v1m1 -1v1m1 -2v1m1 -2v1m1 -1v1m1 -2v1m1 -2v1m1 -2v1m1 -1v1m1 -2v1m1 -2v1m1 -1v1m1 -2v1m1 -1v1m1 -2v1m1 -1v1m1 -2v1m1 -1v1m1 -2v1m1 -1v1m1 -2v1m1 -1v1m1 -2v1m1 -2v1m1 -1v1m1 -2v1m1 -2v1m1 -2v1m1 -2v1m1 -2v1m1 -2v1m1 -3v2m1 -3v1m1 -2v1m1 -2v1m1 -2v1m1 -1v1m1 -2v1m1 -1v1m1 -2v1m1 -1v1m1 -1v1m1 -2v1m1 -2v1m1 -2v1m1 -2v1m1 -1v1m1 0v1m1 -1v1m1 -1v1m1 -1v1m1 -1v1m1 -1v1m1 -1v1m1 0v1m1 -1v1m1 0v1m1 -1v1m1 0v1m1 -1v1m1 0v1m1 -1v1m1 -1v1m1 0v1m1 -1v1m1 -1v1m1 0v1m1 -1v1m1 0v1m1 -1v1m1 0v1m1 -1v1m1 0v1m1 -1v1m1 0v1m1 -1v1m1 0v1m1 -1v1m1 0v1m1 0v1m1 -1v1m1 0v1m1 0v1m1 -1v1m1 0v1m1 -1v1m1 0v1m1 0v1m1 0v1m1 0v1m1 0v1m1 0v1m1 0v1m1 0v1m1 0v1m1 -1v1m1 0v1m1 -1v1m1 0v1m1 0v1m1 -1v1m1 0v1m1 0v1m1 -1v1m1 0v1m1 -1v1m1 -1v1m1 0v1m1 -1v1m1 -1v1m1 -1v1m1 -2v1m1 -1v1m1 -1v1m1 -2v1m1 -1v1m1 -2v1m1 -1v1m1 -2v1m1 -2v1m1 -2v1m1 -2v1m1 -2v1m1 -3v2m1 -3v1m1 -2v1m1 -2v1m1 -2v1m1 -2v1m1 -2v1m1 -2v1m1 -3v2m1 -3v1m1 -2v1m1 -3v2m1 -3v1m1 -3v2m1 -3v1m1 -2v1m1 -3v2m1 -3v1m1 -2v1m1 -2v1m1 -3v2m1 -3v1m1 -2v1m1 -2v1m1 -3v2m1 -3v1m1 -2v1m1 -2v1m1 -2v1m1 -2v1m1 -2v1m1 -3v2m1 -3v1m1 -3v2m1 -3v1m1 -3v2m1 -4v2m1 -4v2m1 -3v1m1 -3v2m1 -4v2m1 -4v2m1 -3v1m1 -3v2m1 -4v2m1 -4v2m1 -4v2m1 -4v2m1 -4v2m1 -4v2m1 -5v3m1 -6v3m1 -5v2m1 -5v3m1 -6v3m1 -6v3m1 -5v2m1 -5v3m1 -6v3m1 -5v2m1 -4v2m1 -4v2m1 -4v2m1 -4v2m1 -4v2m1 -4v2m1 -5v3m1 -5v2m1 -4v2m1 -4v2m1 -5v3m1 -5v2m1 -4v2m1 -4v2m1 -5v3m1 -5v2m1 -5v3m1 -5v2m1 -5v3m1 -5v2m1 -5v3m1 -5v2m1 -5v3m1 -5v2m1 -5v3m1 -5v2m1 -4v2m1 -4v2m1 -4v2m1 -4v2m1 -4v2m1 -4v2m1 -3v1m1 -3v2m1 -4v2m1 -4v2m1 -4v2m1 -4v2m1 -4v2m1 -4v2m1 -4v2m1 -4v2m1 -5v3m1 -5v2m1 -4v2m1 -4v2m1 -4v2m1 -4v2m1 -4v2m1 -4v2m1 -3v1m1 -3v2m1 -3v1m1 -3v2m1 -3v1m1 -3v2m1 -3v1m1 -3v2m1 -3v1m1 -2v1m1 -2v1m1 -2v1m1 -2v1m1 -2v1m1 -2v1m1 -2v1m1 -2v1m1 -3v2m1 -3v1m1 -3v2m1 -3v1m1 -3v2m1 -4v2m1 -4v2m1 -3v1m1 -2v1m1 -1v1m1 -2v1m1 -1v1m1 -2v1m1 -2v1m1 -1v1m1 -2v1m1 -1v1m1 -1v1m1 -1v1m1 -1v1m1 -2v1m1 -1v1m1 -2v1m1 -1v1m1 -1v1m1 -2v1m1 -1v1m1 -1v1m1 -1v1m1 -2v1m1 -1v1m1 -1v1m1 -1v1m1 -2v1m1 -1v1m1 -1v1m1 -2v1m1 -1v1m1 -2v1m1 -1v1m1 -1v1m1 -2v1m1 -1v1m1 -1v1m1 -2v1m1 -2v1m1 -1v1m1 -2v1m1 -1v1m1 -2v1m1 -1v1m1 -1v1m1 -1v1m1 -1v1m1 -1v1m1 -1v1m1 -1v1m1 0v1m1 -1v1m1 -1v1m1 0v1m1 -1v1m1 0v1m1 -1v1m1 -1v1m1 -1v1m1 -1v1m1 -1v1m1 -1v1m1 0v1m1 -1v1m1 -1v1m1 0v1m1 0v1m1 -1v1m1 0v1m1 0v1m1 0v2m1 0v1m1 0v1m1 0v1m1 0v1m1 0v1m1 0v1m1 0v1m1 0v2m1 0v1m1 0v1m1 0v1m1 0v1m1 -1v1m1 0v1m1 -1v1m1 0v1m1 -1v1m1 -1v1m1 -1v1m1 0v1m1 -1v1m1 -1v1m1 -1v1m1 0v1m1 -1v1m1 -1v1m1 -1v1m1 -2v1m1 -1v1m1 -1v1m1 -1v1m1 -1v1m1 -1v1m1 -1v1m1 -2v1m1 -1v1m1 -2v1m1 -1v1m1 -2v1m1 -1v1m1 -2v1m1 -1v1m1 -1v1m1 0v1m1 -1v1m1 -1v1m1 0v2m1 0v1m1 0v2m1 0v1m1 0v1m1 0v2m1 0v1m1 0v1m1 0v2m1 0v1m1 0v2m1 0v1m1 0v2m1 0v1m1 0v2m1 0v1m1 0v1m1 0v2m1 0v1m1 0v1m1 0v1m1 0v2m1 0v1m1 0v1m1 0v2m1 0v1m1 0v2m1 0v1m1 0v2m1 0v2m1 0v2m1 0v1m1 0v2m1 0v2m1 0v2m1 0v2m1 0v2m1 0v2m1 0v2m1 0v1m1 0v2m1 0v1m1 0v2m1 0v2m1 0v2m1 0v2m1 0v2m1 0v2m1 0v2m1 0v2m1 0v2m1 0v1m1 0v2m1 0v2m1 0v2m1 0v2m1 0v2m1 0v2m1 0v2m1 0v2m1 0v2m1 0v2m1 0v2m1 0v2m1 0v2m1 0v2m1 0v2m1 0v1m1 0v1m1 0v2m1 0v1m1 0v1m1 0v1m1 0v2m1 0v1m1 0v1m1 0v1m1 0v1m1 0v1m1 0v1m1 0v1m1 0v2m1 0v1m1 0v1m1 0v1m1 0v1m1 0v1m1 0v1m1 0v1m1 0v1m1 -1v1m1 0v1m1 0v1m1 0v2m1 0v1m1 0v1m1 0v1m1 0v1m1 0v1m1 0v1m1 0v1m1 0v1m1 0v1m1 0v1m1 0v1m1 -1v1m1 0v1m1 -1v1m1 -1v1m1 -2v1m1 -1v1m1 -1v1m1 -1v1m1 -2v1m1 -1v1m1 -1v1m1 -1v1m1 -1v1m1 -1v1m1 -1v1m1 -1v1m1 0v1m1 -1v1m1 -1v1m1 0v1m1 0v1m1 -1v1m1 0v1m1 -1v1m1 0v1m1 -1v1m1 -1v1m1 -1v1m1 0v1m1 -1v1m1 -1v1m1 0v1m1 0v1m1 -1v1m1 0v1m1 0v1m1 0v1m1 -1v1m1 0v1m1 0v1m1 0v1m1 -1v1m1 0v1m1 0v1m1 0v2m1 0v1m1 0v1m1 0v1m1 0v1m1 0v1m1 0v1m1 0v1m1 0v2m1 0v1m1 0v1m1 0v1m1 0v2m1 0v1m1 0v1m1 0v1m1 -1v1m1 0v1m1 -1v1m1 -1v1m1 0v1m1 -1v1m1 -1v1m1 0v1m1 -1v1m1 0v1m1 -1v1m1 0v1m1 0v1m1 -1v1m1 0v1m1 0v1m1 0v1m1 -1v1m1 0v1m1 0v1m1 0v1m1 0v1m1 0v1m1 0v1m1 0v2m1 0v1m1 0v1m1 0v1m1 0v2m1 0v1m1 0v1m1 0v1m1 0v1m1 0v1m1 0v1m1 0v1m1 0v1m1 0v1m1 0v1m1 -1v1m1 0v1m1 -1v1m1 -1v1m1 -1v1m1 0v1m1 -1v1m1 -1v1m1 -1v1m1 0v1m1 -1v1m1 -1v1m1 -1v1m1 -2v1m1 -1v1m1 -1v1m1 -1v1m1 -2v1m1 -1v1m1 -1v1m1 -1v1m1 -2v1m1 -1v1m1 -1v1m1 -1v1m1 -1v1m1 -1v1m1 -1v1m1 -1v1m1 -2v1m1 -1v1m1 -1v1m1 -1v1m1 -1v1m1 -1v1m1 -1v1m1 -1v1m1 -2v1m1 -1v1m1 -1v1m1 -1v1m1 0v1m1 -1v1m1 -1v1m1 -1v1m1 0v1m1 -1v1m1 -1v1m1 -1v1m1 0v1m1 -1v1m1 -1v1m1 -2v1m1 -1v1m1 -2v1m1 -1v1m1 -1v1m1 -2v1m1 -1v1m1 -1v1m1 -2v1m1 -1v1m1 -2v1m1 -1v1m1 -1v1m1 -2v1m1 -1v1m1 -1v1m1 -1v1m1 -2v1m1 -1v1m1 -1v1m1 -1v1m1 -1v1m1 -1v1m1 -1v1m1 -1v1m1 0v1m1 -1v1m1 -1v1m1 -1v1m1 -1v1m1 -1v1m1 -1v1m1 -1v1m1 -1v1m1 -1v1m1 -1v1m1 -1v1m1 -1v1m1 -1v1m1 -1v1m1 -2v1m1 -2v1m1 -1v1m1 -2v1m1 -2v1m1 -2v1m1 -2v1m1 -2v1m1 -1v1m1 -1v1m1 -1v1m1 -1v1m1 -1v1m1 -2v1m1 -1v1m1 -1v1m1 -2v1m1 -1v1m1 -2v1m1 -1v1m1 -2v1m1 -2v1m1 -2v1m1 -2v1m1 -2v1m1 -2v1m1 -2v1m1 -2v1m1 -2v1m1 -2v1m1 -1v1m1 -2v1m1 -2v1m1 -2v1m1 -2v1m1 -2v1m1 -2v1m1 -2v1m1 -1v1m1 -2v1m1 -2v1m1 -1v1m1 -2v1m1 -1v1m1 -2v1m1 -2v1m1 -2v1m1 -2v1m1 -2v1m1 -2v1m1 -1v1m1 -2v1m1 -2v1m1 -2v1m1 -1v1m1 -2v1m1 -2v1m1 -2v1m1 -1v1m1 -2v1m1 -2v1m1 -2v1m1 -2v1m1 -2v1m1 -2v1m1 -2v1m1 -2v1m1 -2v1m1 -2v1m1 -3v2m1 -3v1m1 -2v1m1 -2v1m1 -3v2m1 -3v1m1 -2v1m1 -3v2m1 -3v1m1 -3v2m1 -3v1m1 -3v2m1 -3v1m1 -3v2m1 -3v1m1 -2v1m1 -2v1m1 -2v1m1 -2v1m1 -2v1m1 -2v1m1 -2v1m1 -2v1m1 -2v1m1 -3v2m1 -3v1m1 -2v1m1 -2v1m1 -2v1m1 -1v1m1 -2v1m1 -2v1m1 -2v1m1 -1v1m1 -2v1m1 -2v1m1 -2v1m1 -1v1m1 -2v1m1 -1v1m1 -2v1m1 -1v1m1 -1v1m1 -2v1m1 -1v1m1 -2v1m1 -1v1m1 -1v1m1 -2v1m1 -1v1m1 -1v1m1 -1v1m1 -2v1m1 -1v1m1 -1v1m1 -1v1m1 -2v1m1 -1v1m1 -1v1m1 -2v1m1 -2v1m1 -1v1m1 -2v1m1 -2v1m1 -2v1m1 -2v1m1 -2v1m1 -2v1m1 -2v1m1 -1v1m1 -2v1m1 -2v1m1 -2v1m1 -2v1m1 -2v1m1 -2v1m1 -2v1m1 -1v1m1 -2v1m1 -2v1m1 -2v1m1 -2v1m1 -2v1m1 -2v1m1 -2v1m1 -1v1m1 -2v1m1 -2v1m1 -1v1m1 -2v1m1 -1v1m1 -2v1m1 -2v1m1 -1v1m1 -2v1m1 -2v1m1 -1v1m1 -2v1m1 -1v1m1 -2v1m1 -1v1m1 -2v1m1 -1v1m1 -1v1m1 -2v1m1 -1v1m1 -1v1m1 -1v1m1 -2v1m1 -1v1m1 -1v1m1 -1v1m1 -2v1m1 -1v1m1 -1v1m1 -2v1m1 -2v1m1 -1v1m1 -2v1m1 -2v1m1 -3v2m1 -3v1m1 -2v1m1 -2v1m1 -2v1m1 -2v1m1 -2v1m1 -2v1m1 -3v2m1 -3v1m1 -2v1m1 -2v1m1 -3v2m1 -3v1m1 -2v1m1 -2v1m1 -2v1m1 -2v1m1 -2v1m1 -2v1m1 -1v1m1 -2v1m1 -1v1m1 -1v1m1 -2v1m1 -1v1m1 -1v1m1 -1v1m1 -2v1m1 -1v1m1 -1v1m1 -1v1m1 -1v1m1 -1v1m1 -1v1m1 -2v1m1 -1v1m1 -2v1m1 -1v1m1 -1v1m1 -2v1m1 -1v1m1 -1v1m1 -2v1m1 -1v1m1 -2v1m1 -1v1m1 -2v1m1 -1v1m1 -2v1m1 -1v1m1 -2v1m1 -2v1m1 -1v1m1 -2v1m1 -2v1m1 -1v1m1 -2v1m1 -1v1m1 -2v1m1 -2v1m1 -1v1m1 -2v1m1 -2v1m1 -1v1m1 -2v1m1 -1v1m1 -2v1m1 -2v1m1 -1v1m1 -2v1m1 -2v1m1 -3v2m1 -3v1m1 -2v1m1 -2v1m1 -3v2m1 -3v1m1 -2v1m1 -2v1m1 -2v1m1 -1v1m1 -2v1m1 -2v1m1 -3v2m1 -3v1m1 -2v1m1 -2v1m1 -2v1m1 -1v1m1 -2v1m1 -2v1m1 -2v1m1 -1v1m1 -2v1m1 -1v1m1 -1v1m1 -1v1m1 -1v1m1 -1v1m1 -1v1m1 -1v1m1 -1v1m1 -1v1m1 -1v1m1 -1v1m1 -1v1m1 -1v1m1 0v1m1 -1v1m1 -1v1m1 0v1m1 -1v1m1 0v1m1 -1v1m1 -1v1m1 -1v1m1 -1v1m1 -1v1m1 -1v1m1 -2v1m1 -1v1m1 -1v1m1 -1v1m1 -1v1m1 -1v1m1 -1v1m1 -1v1m1 -2v1m1 -1v1m1 -1v1m1 -1v1m1 -2v1m1 -1v1m1 -1v1m1 -2v1m1 -1v1m1 -2v1m1 -1v1m1 -2v1m1 -1v1m1 -2v1m1 -1v1m1 -1v1m1 -2v1m1 -1v1m1 -1v1m1 -2v1m1 -2v1m1 -1v1m1 -2v1m1 -2v1m1 -2v1m1 -1v1m1 -2v1m1 -1v1m1 -2v1m1 -1v1m1 -1v1m1 -1v1m1 -1v1m1 -1v1m1 -1v1m1 -1v1m1 0v1m1 -1v1m1 -1v1m1 -1v1m1 -1v1m1 -1v1m1 -1v1m1 -1v1m1 -2v1m1 -1v1m1 -1v1m1 -1v1m1 -2v1m1 -1v1m1 -1v1m1 -1v1m1 -1v1m1 -1v1m1 -1v1m1 -1v1m1 0v1m1 -1v1m1 -1v1m1 -1v1m1 0v1m1 -1v1m1 -1v1m1 -1v1m1 -1v1m1 -1v1m1 -1v1m1 0v1m1 -1v1m1 0v1m1 -1v1m1 -1v1m1 0v1m1 -1v1m1 -1v1m1 -1v1m1 -2v1m1 -1v1m1 -1v1m1 -1v1m1 -1v1m1 -1v1m1 -1v1m1 -1v1m1 -1v1m1 -1v1m1 -1v1m1 -1v1m1 -2v1m1 -1v1m1 -1v1m1 -1v1m1 -2v1m1 -1v1m1 -1v1m1 -2v1m1 -2v1m1 -1v1m1 -2v1m1 -2v1m1 -1v1m1 -2v1m1 -1v1m1 -1v1m1 -2v1m1 -1v1m1 -1v1m1 -1v1m1 -2v1m1 -1v1m1 -1v1m1 0v1m1 0v1m1 -1v1m1 0v1m1 -1v1m1 0v1m1 -1v1m1 -1v1m1 -1v1m1 -2v1m1 -1v1m1 -1v1m1 -1v1m1 -1v1m1 -1v1m1 -1v1m1 -1v1m1 -1v1m1 -1v1m1 -1v1m1 -1v1m1 -2v1m1 -1v1m1 -1v1m1 -2v1m1 -2v1m1 -1v1m1 -2v1m1 -2v1m1 -2v1m1 -1v1m1 -2v1m1 -2v1m1 -2v1m1 -1v1m1 -2v1m1 -1v1m1 -2v1m1 -1v1m1 -1v1m1 -1v1m1 0v1m1 -1v1m1 -1v1m1 -1v1m1 0v1m1 -1v1m1 -1v1m1 -1v1m1 0v1m1 -1v1m1 -1v1m1 -1v1m1 -2v1m1 -1v1m1 -1v1m1 -1v1m1 -1v1m1 -1v1m1 -1v1m1 -2v1m1 -2v1m1 -1v1m1 -2v1m1 -1v1m1 -1v1m1 -1v1m1 -1v1m1 -1v1m1 -1v1m1 -1v1m1 -1v1m1 -2v1m1 -1v1m1 -2v1m1 -1v1m1 -2v1m1 -1v1m1 -2v1m1 -1v1m1 -3v2m1 -3v1m1 -3v2m1 -3v1m1 -2v1m1 -1v1m1 -2v1m1 -1v1m1 -2v1m1 -2v1m1 -1v1m1 -2v1m1 -2v1m1 -1v1m1 -2v1m1 -1v1m1 -2v1m1 -1v1m1 -2v1m1 -1v1m1 -1v1m1 -1v1m1 -1v1m1 -1v1m1 0v1m1 -1v1m1 0v1m1 -1v1m1 0v1m1 0v1m1 -1v1m1 0v1m1 0v1m1 0v1m1 -1v1m1 0v1m1 0v1m1 0v2m1 0v1m1 0v2m1 0v2m1 0v3m1 0v2m1 0v3m1 0v3m1 0v2m1 0v3m1 0v2m1 0v2m1 0v2m1 0v2m1 0v2m1 0v1m1 0v2m1 0v1m1 0v1m1 0v1m1 0v1m1 -1v1m1 0v1m1 0v1m1 0v1m1 -1v1m1 0v1m1 0v1m1 -1v1m1 0v1m1 -1v1m1 -1v1m1 -2v1m1 -1v1m1 -1v1m1 -1v1m1 -1v1m1 -1v1m1 -1v1m1 -1v1m1 0v1m1 -1v1m1 -1v1m1 0v1m1 -1v1m1 0v1m1 -1v1m1 -1v1m1 0v1m1 -1v1m1 -1v1m1 0v1m1 0v1m1 -1v1m1 0v1m1 0v1m1 -1v1m1 0v1m1 -1v1m1 0v1m1 -1v1m1 0v1m1 -1v1m1 0v1m1 0v1m1 -1v1m1 0v1m1 -1v1m1 -1v1m1 -1v1m1 -1v1m1 -1v1m1 0v1m1 -1v1m1 -1v1m1 -1v1m1 -2v1m1 -1v1m1 -1v1m1 -1v1m1 -2v1m1 -1v1m1 -1v1m1 0v1m1 -1v1m1 0v1m1 -1v1m1 0v1m1 0v1m1 -1v1m1 0v1m1 0v1m1 -1v1m1 0v1m1 -1v1m1 0v1m1 -1v1m1 0v1m1 -1v1m1 -1v1m1 0v1m1 -1v1m1 -1v1m1 -1v1m1 -1v1m1 -1v1m1 -1v1m1 -1v1m1 -1v1m1 -1v1m1 -1v1m1 0v1m1 -1v1m1 0v1m1 -1v1m1 -1v1m1 -2v1m1 -1v1m1 -1v1m1 -1v1m1 -1v1m1 -1v1m1 -1v1m1 -1v1m1 -1v1m1 -1v1m1 -1v1m1 -1v1m1 0v1m1 -1v1m1 -1v1m1 -1v1m1 0v1m1 -1v1m1 -1v1m1 0v1m1 0v1m1 -1v1m1 0v1m1 0v1m1 -1v1m1 0v1m1 -1v1m1 0v1m1 0v1m1 0v1m1 0v1m1 0v1m1 0v1m1 0v1m1 0v1m1 0v1m1 0v1m1 -1v1m1 0v1m1 0v1m1 0v2m1 0v1m1 0v1m1 0v1m1 0v2m1 0v1m1 0v1m1 0v1m1 0v1m1 -1v1m1 0v1m1 0v1m1 -1v1m1 0v1m1 -1v1m1 0v1m1 -1v1m1 0v1m1 -1v1m1 -1v1m1 -1v1m1 -1v1m1 -1v1m1 -1v1m1 -2v1m1 -1v1m1 -1v1m1 -1v1m1 -1v1m1 -1v1m1 -1v1m1 -1v1m1 -1v1m1 -1v1m1 -1v1m1 -1v1m1 0v1m1 -1v1m1 -1v1m1 -1v1m1 0v1m1 -1v1m1 -1v1m1 0v1m1 0v1m1 0v1m1 0v1m1 0v1m1 0v1m1 -1v1m1 0v1m1 0v2m1 0v1m1 0v2m1 0v1" fill="none" stroke="#ff0000" stroke-width="1"/>
<path d="M3.5 463v1m1 0v1m1 -1v1m1 0v1m1 -1v1m1 0v1m1 -1v1m1 0v1m1 -1v1m1 0v1m1 -1v1m1 0v1m1 -1v1m1 0v1m1 -1v1m1 0v1m1 -1v1m1 0v1m1 0v1m1 -1v1m1 0v1m1 0v1m1 0v1m1 -1v1m1 0v1m1 0v1m1 0v1m1 0v1m1 0v1m1 0v1m1 0v1m1 0v1m1 0v1m1 0v1m1 0v1m1 0v1m1 0v1m1 -1v1m1 0v1m1 -1v1m1 -1v1m1 0v1m1 0v1m1 -1v1m1 0v1m1 0v1m1 0v1m1 0v1m1 0v1m1 0v1m1 0v1m1 0v1m1 0v1m1 -1v1m1 0v1m1 -1v1m1 -1v1m1 0v1m1 -1v1m1 0v1m1 -1v1m1 -1v1m1 -1v1m1 -1v1m1 -1v1m1 0v1m1 -1v1m1 0v1m1 -1v1m1 -1v1m1 -1v1m1 -1v1m1 -1v1m1 -1v1m1 -1v1m1 -1v1m1 -1v1m1 -1v1m1 -1v1m1 -1v1m1 -1v1m1 -1v1m1 0v1m1 -1v1m1 -1v1m1 -1v1m1 -2v1m1 -1v1m1 -1v1m1 -2v1m1 -2v1m1 -1v1m1 -2v1m1 -2v1m1 -1v1m1 -2v1m1 -1v1m1 -1v1m1 -1v1m1 -1v1m1 -1v1m1 -1v1m1 -1v1m1 -1v1m1 -1v1m1 -1v1m1 -2v1m1 -1v1m1 -1v1m1 -1v1m1 0v1m1 -1v1m1 -1v1m1 -1v1m1 -2v1m1 -1v1m1 -1v1m1 -2v1m1 -2v1m1 -1v1m1 -2v1m1 -2v1m1 -1v1m1 -2v1m1 -1v1m1 -2v1m1 -2v1m1 -2v1m1 -2v1m1 -2v1m1 -2v1m1 -2v1m1 -2v1m1 -3v2m1 -4v2m1 -4v2m1 -3v1m1 -3v2m1 -4v2m1 -4v2m1 -4v2m1 -4v2m1 -3v1m1 -3v2m1 -3v1m1 -3v2m1 -3v1m1 -3v2m1 -3v1m1 -3v2m1 -3v1m1 -3v2m1 -3v1m1 -2v1m1 -2v1m1 -2v1m1 -2v1m1 -2v1m1 -1v1m1 -2v1m1 -1v1m1 -1v1m1 -1v1m1 -1v1m1 -1v1m1 -2v1m1 -1v1m1 -2v1m1 -1v1m1 -2v1m1 -1v1m1 -2v1m1 -1v1m1 -1v1m1 -1v1m1 -1v1m1 -1v1m1 -2v1m1 -2v1m1 -1v1m1 -2v1m1 -2v1m1 -1v1m1 -2v1m1 -1v1m1 -2v1m1 -1v1m1 -2v1m1 -1v1m1 -2v1m1 -1v1m1 -2v1m1 -1v1m1 -1v1m1 -2v1m1 -1v1m1 -1v1m1 -1v1m1 -1v1m1 -1v1m1 -1v1m1 -1v1m1 0v1m1 -1v1m1 -1v1m1 -1v1m1 0v1m1 -1v1m1 -1v1m1 -1v1m1 0v1m1 -1v1m1 -1v1m1 -1v1m1 0v1m1 -1v1m1 -1v1m1 -1v1m1 -1v1m1 -1v1m1 -1v1m1 -1v1m1 0v1m1 -1v1m1 -1v1m1 -1v1m1 -1v1m1 -1v1m1 -1v1m1 -1v1m1 -1v1m1 -1v1m1 -1v1m1 -1v1m1 -2v1m1 -1v1m1 -1v1m1 -2v1m1 -1v1m1 -2v1m1 -1v1m1 -1v1m1 -2v1m1 -1v1m1 -1v1m1 -1v1m1 -2v1m1 -1v1m1 -1v1m1 -2v1m1 -1v1m1 -2v1m1 -1v1m1 -1v1m1 0v1m1 -1v1m1 -1v1m1 -1v1m1 -1v1m1 -1v1m1 -1v1m1 0v1m1 -1v1m1 0v1m1 -1v1m1 0v1m1 -1v1m1 0v1m1 -1v1m1 -1v1m1 0v1m1 -1v1m1 -1v1m1 -1v1m1 0v1m1 -1v1m1 -1v1m1 -2v1m1 -1v1m1 -2v1m1 -1v1m1 -1v1m1 -1v1m1 -1v1m1 -1v1m1 -3v2m1 -3v1m1 -3v2m1 -3v1m1 -2v1m1 -2v1m1 -2v1m1 -2v1m1 -3v2m1 -3v1m1 -3v2m1 -3v1m1 -2v1m1 -3v2m1 -3v1m1 -2v1m1 -3v2m1 -3v1m1 -3v2m1 -3v1m1 -2v1m1 -3v2m1 -3v1m1 -2v1m1 -2v1m1 -2v1m1 -1v1m1 -2v1m1 -2v1m1 -2v1m1 -2v1m1 -2v1m1 -2v1m1 -1v1m1 -2v1m1 -1v1m1 -1v1m1 -1v1m1 -1v1m1 -1v1m1 -1v1m1 -2v1m1 -1v1m1 -1v1m1 -1v1m1 -2v1m1 -1v1m1 -1v1m1 -1v1m1 -2v1m1 -1v1m1 -1v1m1 -2v1m1 -2v1m1 -1v1m1 -2v1m1 -2v1m1 -2v1m1 -1v1m1 -2v1m1 -2v1m1 -1v1m1 -2v1m1 -1v1m1 -2v1m1 -1v1m1 -2v1m1 -1v1m1 -2v1m1 -1v1m1 -2v1m1 -1v1m1 -2v1m1 -1v1m1 -2v1m1 -1v1m1 -2v1m1 -2v1m1 -2v1m1 -2v1m1 -2v1m1 -3v2m1 -3v1m1 -2v1m1 -2v1m1 -2v1m1 -1v1m1 -2v1m1 -2v1m1 -1v1m1 -2v1m1 -1v1m1 -2v1m1 -2v1m1 -1v1m1 -2v1m1 -1v1m1 -1v1m1 -1v1m1 -1v1m1 -1v1m1 -1v1m1 -1v1m1 -1v1m1 0v1m1 -1v1m1 0v1m1 -1v1m1 -1v1m1 0v1m1 -1v1m1 -1v1m1 -1v1m1 0v1m1 -1v1m1 -1v1m1 -1v1m1 0v1m1 -1v1m1 -1v1m1 -1v1m1 0v1m1 -1v1m1 -1v1m1 0v1m1 0v1m1 -1v1m1 0v1m1 -1v1m1 0v1m1 -1v1m1 -1v1m1 0v1m1 0v1m1 -1v1m1 0v1m1 0v1m1 0v1m1 -1v1m1 0v1m1 0v1m1 0v1m1 -1v1m1 0v1m1 0v1m1 -1v1m1 0v1m1 -1v1m1 0v1m1 -1v1m1 0v1m1 -1v1m1 0v1m1 -1v1m1 0v1m1 -1v1m1 -1v1m1 0v1m1 -1v1m1 -1v1m1 -1v1m1 -1v1m1 -1v1m1 -1v1m1 -2v1m1 -2v1m1 -1v1m1 -2v1m1 -2v1m1 -2v1m1 -1v1m1 -2v1m1 -2v1m1 -2v1m1 -2v1m1 -2v1m1 -2v1m1 -2v1m1 -2v1m1 -2v1m1 -2v1m1 -2v1m1 -2v1m1 -2v1m1 -2v1m1 -3v2m1 -3v1m1 -2v1m1 -2v1m1 -3v2m1 -3v1m1 -2v1m1 -2v1m1 -2v1m1 -2v1m1 -2v1m1 -2v1m1 -3v2m1 -3v1m1 -2v1m1 -2v1m1 -2v1m1 -2v1m1 -2v1m1 -2v1m1 -3v2m1 -3v1m1 -2v1m1 -3v2m1 -3v1m1 -3v2m1 -3v1m1 -3v2m1 -4v2m1 -4v2m1 -3v1m1 -3v2m1 -3v1m1 -3v2m1 -3v1m1 -3v2m1 -4v2m1 -4v2m1 -5v3m1 -5v2m1 -5v3m1 -5v2m1 -5v3m1 -5v2m1 -5v3m1 -5v2m1 -4v2m1 -4v2m1 -4v2m1 -4v2m1 -4v2m1 -4v2m1 -4v2m1 -4v2m1 -4v2m1 -4v2m1 -4v2m1 -4v2m1 -4v2m1 -4v2m1 -4v2m1 -4v2m1 -5v3m1 -5v2m1 -5v3m1 -5v2m1 -5v3m1 -5v2m1 -4v2m1 -4v2m1 -5v3m1 -5v2m1 -5v3m1 -5v2m1 -4v2m1 -4v2m1 -4v2m1 -4v2m1 -3v1m1 -3v2m1 -4v2m1 -4v2m1 -3v1m1 -3v2m1 -4v2m1 -4v2m1 -4v2m1 -4v2m1 -4v2m1 -4v2m1 -4v2m1 -4v2m1 -4v2m1 -4v2m1 -4v2m1 -4v2m1 -4v2m1 -4v2m1 -3v1m1 -3v2m1 -3v1m1 -3v2m1 -3v1m1 -3v2m1 -3v1m1 -3v2m1 -3v1m1 -2v1m1 -3v2m1 -3v1m1 -2v1m1 -2v1m1 -2v1m1 -2v1m1 -2v1m1 -3v2m1 -3v1m1 -3v2m1 -3v1m1 -3v2m1 -3v1m1 -3v2m1 -3v1m1 -2v1m1 -2v1m1 -2v1m1 -2v1m1 -2v1m1 -1v1m1 -2v1m1 -1v1m1 -2v1m1 -1v1m1 -2v1m1 -1v1m1 -2v1m1 -1v1m1 -2v1m1 -1v1m1 -2v1m1 -1v1m1 -2v1m1 -1v1m1 -1v1m1 -2v1m1 -1v1m1 -1v1m1 -1v1m1 -2v1m1 -1v1m1 -1v1m1 -2v1m1 -2v1m1 -1v1m1 -2v1m1 -1v1m1 -2v1m1 -1v1m1 -1v1m1 -2v1m1 -2v1m1 -1v1m1 -2v1m1 -2v1m1 -1v1m1 -2v1m1 -1v1m1 -1v1m1 -1v1m1 -1v1m1 -1v1m1 -1v1m1 -1v1m1 -1v1m1 -1v1m1 -1v1m1 0v1m1 -1v1m1 -1v1m1 -1v1m1 -2v1m1 -1v1m1 -1v1m1 -1v1m1 0v1m1 -1v1m1 -1v1m1 0v1m1 -1v1m1 0v1m1 -1v1m1 0v1m1 0v1m1 0v1m1 0v1m1 0v1m1 0v1m1 0v1m1 0v1m1 0v1m1 0v1m1 -1v1m1 0v1m1 0v1m1 0v1m1 -1v1m1 0v1m1 -1v1m1 -1v1m1 -1v1m1 -1v1m1 -1v1m1 0v1m1 -1v1m1 -1v1m1 -1v1m1 0v1m1 -1v1m1 -1v1m1 -1v1m1 -2v1m1 -1v1m1 -1v1m1 -1v1m1 -1v1m1 -1v1m1 -1v1m1 -2v1m1 -1v1m1 -2v1m1 -1v1m1 -2v1m1 -1v1m1 -2v1m1 -1v1m1 -1v1m1 0v1m1 -1v1m1 -1v1m1 0v1m1 0v2m1 0v1m1 0v1m1 0v1m1 0v1m1 0v1m1 0v1m1 0v2m1 0v1m1 0v2m1 0v1m1 0v1m1 0v1m1 0v1m1 0v1m1 0v1m1 0v2m1 0v1m1 0v1m1 0v1m1 0v2m1 0v1m1 0v1m1 0v1m1 0v2m1 0v1m1 0v1m1 0v2m1 0v1m1 0v2m1 0v1m1 0v2m1 0v2m1 0v2m1 0v1m1 0v2m1 0v1m1 0v2m1 0v1m1 0v2m1 0v1m1 0v2m1 0v1m1 0v2m1 0v2m1 0v2m1 0v2m1 0v2m1 0v1m1 0v2m1 0v1m1 0v2m1 0v2m1 0v2m1 0v1m1 0v2m1 0v2m1 0v2m1 0v2m1 0v2m1 0v2m1 0v2m1 0v2m1 0v2m1 0v1m1 0v2m1 0v1m1 0v1m1 0v2m1 0v1m1 0v1m1 0v1m1 0v2m1 0v1m1 0v1m1 0v1m1 0v1m1 0v1m1 0v1m1 0v1m1 0v1m1 0v1m1 0v1m1 0v1m1 0v1m1 0v1m1 0v1m1 0v1m1 0v1m1 0v1m1 0v1m1 0v1m1 0v2m1 0v1m1 0v1m1 0v1m1 0v1m1 0v1m1 0v1m1 0v1m1 0v1m1 0v1m1 0v1m1 0v1m1 -1v1m1 0v1m1 -1v1m1 -1v1m1 -2v1m1 -1v1m1 -1v1m1 -1v1m1 -1v1m1 -1v1m1 -1v1m1 -1v1m1 0v1m1 -1v1m1 -1v1m1 -1v1m1 0v1m1 -1v1m1 -1v1m1 0v1m1 0v1m1 -1v1m1 0v1m1 0v1m1 -1v1m1 0v1m1 -1v1m1 -1v1m1 -1v1m1 -1v1m1 -1v1m1 0v1m1 0v1m1 -1v1m1 0v1m1 0v1m1 0v1m1 -1v1m1 0v1m1 0v1m1 0v1m1 0v1m1 0v1m1 0v1m1 0v2m1 0v1m1 0v1m1 0v1m1 0v1m1 -1v1m1 0v1m1 0v1m1 0v2m1 0v1m1 0v1m1 0v1m1 0v1m1 0v1m1 0v1m1 0v1m1 0v1m1 -1v1m1 0v1m1 0v1m1 -1v1m1 0v1m1 -1v1m1 -1v1m1 0v1m1 -1v1m1 -1v1m1 0v1m1 0v1m1 -1v1m1 0v1m1 0v1m1 0v1m1 -1v1m1 0v1m1 0v1m1 0v1m1 0v1m1 0v1m1 0v1m1 0v2m1 0v1m1 0v1m1 0v1m1 0v2m1 0v1m1 0v1m1 0v1m1 0v1m1 0v1m1 0v1m1 0v1m1 0v1m1 -1v1m1 0v1m1 0v1m1 -1v1m1 0v1m1 -1v1m1 -1v1m1 0v1m1 -1v1m1 -1v1m1 0v1m1 -1v1m1 0v1m1 -1v1m1 -1v1m1 -2v1m1 -1v1m1 -1v1m1 -1v1m1 -2v1m1 -1v1m1 -1v1m1 -1v1m1 -1v1m1 -1v1m1 -1v1m1 -1v1m1 -1v1m1 -1v1m1 -1v1m1 -1v1m1 -1v1m1 -1v1m1 -1v1m1 -1v1m1 -1v1m1 -1v1m1 -1v1m1 -1v1m1 -1v1m1 -1v1m1 -1v1m1 -1v1m1 0v1m1 -1v1m1 -1v1m1 -1v1m1 0v1m1 -1v1m1 -1v1m1 -1v1m1 -1v1m1 -1v1m1 -1v1m1 -1v1m1 -1v1m1 -1v1m1 -1v1m1 -1v1m1 -2v1m1 -1v1m1 -1v1m1 -1v1m1 -2v1m1 -1v1m1 -1v1m1 -1v1m1 -2v1m1 -1v1m1 -1v1m1 -1v1m1 -2v1m1 -1v1m1 -1v1m1 -1v1m1 -1v1m1 -1v1m1 -1v1m1 -1v1m1 0v1m1 -1v1m1 -1v1m1 -1v1m1 -1v1m1 -1v1m1 -1v1m1 -1v1m1 -1v1m1 -1v1m1 -1v1m1 -1v1m1 -1v1m1 -1v1m1 -1v1m1 -2v1m1 -1v1m1 -2v1m1 -1v1m1 -2v1m1 -2v1m1 -1v1m1 -2v1m1 -1v1m1 -2v1m1 -1v1m1 -1v1m1 -1v1m1 -1v1m1 -1v1m1 -1v1m1 -2v1m1 -1v1m1 -2v1m1 -1v1m1 -2v1m1 -2v1m1 -2v1m1 -2v1m1 -2v1m1 -2v1m1 -1v1m1 -2v1m1 -2v1m1 -2v1m1 -1v1m1 -2v1m1 -2v1m1 -2v1m1 -1v1m1 -2v1m1 -2v1m1 -2v1m1 -1v1m1 -2v1m1 -2v1m1 -1v1m1 -2v1m1 -1v1m1 -2v1m1 -2v1m1 -1v1m1 -2v1m1 -2v1m1 -2v1m1 -1v1m1 -2v1m1 -2v1m1 -2v1m1 -1v1m1 -2v1m1 -2v1m1 -1v1m1 -2v1m1 -1v1m1 -2v1m1 -2v1m1 -2v1m1 -2v1m1 -2v1m1 -2v1m1 -2v1m1 -2v1m1 -2v1m1 -2v1m1 -2v1m1 -2v1m1 -2v1m1 -3v2m1 -3v1m1 -2v1m1 -2v1m1 -3v2m1 -3v1m1 -2v1m1 -3v2m1 -3v1m1 -3v2m1 -3v1m1 -2v1m1 -2v1m1 -2v1m1 -2v1m1 -2v1m1 -2v1m1 -2v1m1 -2v1m1 -2v1m1 -2v1m1 -2v1m1 -2v1m1 -2v1m1 -2v1m1 -1v1m1 -2v1m1 -2v1m1 -2v1m1 -1v1m1 -2v1m1 -2v1m1 -2v1m1 -1v1m1 -2v1m1 -2v1m1 -1v1m1 -2v1m1 -1v1m1 -1v1m1 -2v1m1 -1v1m1 -1v1m1 -1v1m1 -2v1m1 -1v1m1 -1v1m1 -2v1m1 -1v1m1 -2v1m1 -1v1m1 -1v1m1 -2v1m1 -1v1m1 -1v1m1 -2v1m1 -2v1m1 -1v1m1 -2v1m1 -2v1m1 -2v1m1 -1v1m1 -2v1m1 -2v1m1 -2v1m1 -1v1m1 -2v1m1 -2v1m1 -2v1m1 -2v1m1 -2v1m1 -2v1m1 -2v1m1 -2v1m1 -2v1m1 -2v1m1 -2v1m1 -1v1m1 -2v1m1 -2v1m1 -2v1m1 -2v1m1 -2v1m1 -2v1m1 -1v1m1 -2v1m1 -1v1m1 -2v1m1 -1v1m1 -2v1m1 -1v1m1 -2v1m1 -2v1m1 -1v1m1 -2v1m1 -1v1m1 -2v1m1 -1v1m1 -1v1m1 -1v1m1 -2v1m1 -1v1m1 -1v1m1 -2v1m1 -1v1m1 -2v1m1 -1v1m1 -1v1m1 -2v1m1 -1v1m1 -1v1m1 -2v1m1 -2v1m1 -1v1m1 -2v1m1 -2v1m1 -3v2m1 -3v1m1 -2v1m1 -2v1m1 -2v1m1 -1v1m1 -2v1m1 -2v1m1 -3v2m1 -3v1m1 -2v1m1 -2v1m1 -3v2m1 -3v1m1 -2v1m1 -2v1m1 -2v1m1 -2v1m1 -2v1m1 -2v1m1 -1v1m1 -2v1m1 -1v1m1 -1v1m1 -2v1m1 -1v1m1 -1v1m1 -1v1m1 -2v1m1 -1v1m1 -1v1m1 -1v1m1 -2v1m1 -1v1m1 -1v1m1 -1v1m1 -2v1m1 -1v1m1 -1v1m1 -2v1m1 -1v1m1 -2v1m1 -1v1m1 -2v1m1 -1v1m1 -2v1m1 -1v1m1 -2v1m1 -1v1m1 -2v1m1 -1v1m1 -2v1m1 -2v1m1 -1v1m1 -2v1m1 -2v1m1 -1v1m1 -2v1m1 -1v1m1 -2v1m1 -2v1m1 -1v1m1 -2v1m1 -2v1m1 -1v1m1 -2v1m1 -1v1m1 -2v1m1 -2v1m1 -1v1m1 -2v1m1 -2v1m1 -2v1m1 -2v1m1 -2v1m1 -2v1m1 -3v2m1 -3v1m1 -2v1m1 -2v1m1 -2v1m1 -2v1m1 -2v1m1 -2v1m1 -2v1m1 -2v1m1 -2v1m1 -2v1m1 -2v1m1 -1v1m1 -2v1m1 -2v1m1 -2v1m1 -1v1m1 -2v1m1 -1v1m1 -1v1m1 -1v1m1 -1v1m1 -1v1m1 -2v1m1 -1v1m1 -1v1m1 -1v1m1 -1v1m1 -1v1m1 -1v1m1 -1v1m1 0v1m1 -1v1m1 -1v1m1 -1v1m1 0v1m1 -1v1m1 -1v1m1 -1v1m1 -1v1m1 -1v1m1 -1v1m1 -1v1m1 -2v1m1 -1v1m1 -1v1m1 -1v1m1 -2v1m1 -1v1m1 -1v1m1 -1v1m1 -2v1m1 -1v1m1 -1v1m1 -1v1m1 -2v1m1 -1v1m1 -1v1m1 -2v1m1 -1v1m1 -2v1m1 -1v1m1 -1v1m1 -2v1m1 -1v1m1 -1v1m1 -2v1m1 -1v1m1 -2v1m1 -1v1m1 -2v1m1 -1v1m1 -2v1m1 -1v1m1 -2v1m1 -2v1m1 -1v1m1 -2v1m1 -2v1m1 -1v1m1 -2v1m1 -1v1m1 -1v1m1 -1v1m1 -1v1m1 -1v1m1 -1v1m1 0v1m1 -1v1m1 -1v1m1 -1v1m1 -1v1m1 -1v1m1 -1v1m1 -1v1m1 -2v1m1 -1v1m1 -1v1m1 -1v1m1 -2v1m1 -1v1m1 -1v1m1 -1v1m1 -2v1m1 -1v1m1 -1v1m1 -1v1m1 0v1m1 -1v1m1 -1v1m1 -1v1m1 0v1m1 -1v1m1 -1v1m1 -1v1m1 -2v1m1 -1v1m1 -1v1m1 0v1m1 -1v1m1 0v1m1 -1v1m1 -1v1m1 -1v1m1 -1v1m1 -1v1m1 -1v1m1 -1v1m1 -1v1m1 -1v1m1 -1v1m1 -1v1m1 -1v1m1 -1v1m1 -1v1m1 -1v1m1 -1v1m1 -1v1m1 -1v1m1 -2v1m1 -1v1m1 -1v1m1 -1v1m1 -2v1m1 -1v1m1 -1v1m1 -2v1m1 -2v1m1 -1v1m1 -2v1m1 -2v1m1 -1v1m1 -2v1m1 -1v1m1 -1v1m1 -2v1m1 -1v1m1 -1v1m1 -1v1m1 -2v1m1 -1v1m1 -1v1m1 0v1m1 0v1m1 -1v1m1 0v1m1 -1v1m1 0v1m1 -1v1m1 -1v1m1 -1v1m1 -2v1m1 -1v1m1 -1v1m1 -1v1m1 -1v1m1 -1v1m1 -1v1m1 -1v1m1 -2v1m1 -1v1m1 -1v1m1 -1v1m1 -2v1m1 -1v1m1 -1v1m1 -2v1m1 -1v1m1 -2v1m1 -1v1m1 -2v1m1 -2v1m1 -1v1m1 -2v1m1 -2v1m1 -1v1m1 -2v1m1 -1v1m1 -1v1m1 -2v1m1 -1v1m1 -1v1m1 -1v1m1 -1v1m1 -1v1m1 -1v1m1 -1v1m1 0v1m1 -1v1m1 -1v1m1 -1v1m1 0v1m1 -1v1m1 -1v1m1 -1v1m1 -2v1m1 -1v1m1 -1v1m1 -1v1m1 -2v1m1 -1v1m1 -1v1m1 -2v1m1 -1v1m1 -2v1m1 -1v1m1 -1v1m1 -1v1m1 -1v1m1 -1v1m1 -1v1m1 -2v1m1 -1v1m1 -1v1m1 -1v1m1 -2v1m1 -1v1m1 -1v1m1 -2v1m1 -1v1m1 -2v1m1 -1v1m1 -2v1m1 -3v2m1 -3v1m1 -2v1m1 -2v1m1 -1v1m1 -2v1m1 -1v1m1 -2v1m1 -2v1m1 -1v1m1 -2v1m1 -2v1m1 -1v1m1 -2v1m1 -1v1m1 -1v1m1 -2v1m1 -1v1m1 -1v1m1 -1v1m1 -2v1m1 -1v1m1 -1v1m1 0v1m1 -1v1m1 0v1m1 -1v1m1 0v1m1 -1v1m1 0v1m1 -1v1m1 0v1m1 0v1m1 -1v1m1 0v1m1 0v1m1 0v1m1 0v1m1 0v2m1 0v2m1 0v2m1 0v2m1 0v3m1 0v2m1 0v2m1 0v2m1 0v2m1 0v2m1 0v2m1 0v2m1 0v1m1 0v1m1 0v2m1 0v1m1 0v1m1 0v1m1 -1v1m1 0v1m1 -1v1m1 0v1m1 0v1m1 -1v1m1 0v1m1 0v1m1 -1v1m1 0v1m1 -1v1m1 -1v1m1 -1v1m1 -1v1m1 -1v1m1 -1v1m1 -2v1m1 -1v1m1 -1v1m1 -1v1m1 0v1m1 -1v1m1 -1v1m1 0v1m1 -1v1m1 0v1m1 -1v1m1 0v1m1 -1v1m1 0v1m1 -1v1m1 0v1m1 -1v1m1 0v1m1 -1v1m1 0v1m1 -1v1m1 0v1m1 -1v1m1 0v1m1 -1v1m1 0v1m1 -1v1m1 0v1m1 0v1m1 -1v1m1 0v1m1 -1v1m1 0v1m1 -1v1m1 -1v1m1 -1v1m1 -1v1m1 -1v1m1 -1v1m1 -1v1m1 -2v1m1 -1v1m1 -1v1m1 -1v1m1 -1v1m1 -1v1m1 -1v1m1 0v1m1 -1v1m1 0v1m1 -1v1m1 0v1m1 -1v1m1 0v1m1 -1v1m1 0v1m1 -1v1m1 0v1m1 -1v1m1 0v1m1 -1v1m1 0v1m1 -1v1m1 -1v1m1 0v1m1 -1v1m1 -1v1m1 -1v1m1 0v1m1 -1v1m1 -1v1m1 -1v1m1 -1v1m1 -1v1m1 -1v1m1 -1v1m1 0v1m1 -1v1m1 -1v1m1 -1v1m1 -1v1m1 -1v1m1 -1v1m1 -1v1m1 -1v1m1 -1v1m1 -1v1m1 -1v1m1 0v1m1 -1v1m1 -1v1m1 -1v1m1 -1v1m1 -1v1m1 -1v1m1 0v1m1 -1v1m1 0v1m1 -1v1m1 0v1m1 -1v1m1 0v1m1 -1v1m1 0v1m1 -1v1m1 0v1m1 -1v1m1 0v1m1 0v1m1 -1v1m1 0v1m1 0v1m1 0v1m1 0v1m1 0v1m1 0v1m1 0v1m1 -1v1m1 0v1m1 0v1m1 0v1m1 0v1m1 0v1m1 0v1m1 0v2m1 0v1m1 0v1m1 0v1m1 0v1m1 -1v1m1 0v1m1 0v1m1 -1v1m1 0v1m1 -1v1m1 0v1m1 -1v1m1 0v1m1 -1v1m1 -1v1m1 -1v1m1 -1v1m1 -1v1m1 -1v1m1 -1v1m1 -1v1m1 -1v1m1 -1v1m1 -1v1m1 -1v1m1 -1v1m1 -1v1m1 -1v1m1 -1v1m1 -1v1m1 -1v1m1 0v1m1 -1v1m1 -1v1m1 -1v1m1 0v1m1 -1v1m1 -1v1m1 0v1m1 0v1m1 0v1m1 0v1m1 0v1m1 0v1m1 -1v1m1 0v1m1 0v1m1 0v2m1 0v1m1 0v1" fill="none" stroke="#ff0000" stroke-width="1"/>
<path d="M3.5 460v1m1 0v1m1 -1v1m1 0v1m1 -1v1m1 0v1m1 -1v1m1 0v1m1 -1v1m1 0v1m1 -1v1m1 0v1m1 -1v1m1 0v1m1 -1v1m1 0v1m1 -1v1m1 0v1m1 0v1m1 -1v1m1 0v1m1 0v1m1 0v1m1 -1v1m1 0v1m1 0v1m1 0v1m1 -1v1m1 0v1m1 0v1m1 0v1m1 0v1m1 0v1m1 0v1m1 0v1m1 -1v1m1 0v1m1 0v1m1 -1v1m1 0v1m1 -1v1m1 0v1m1 0v1m1 -1v1m1 0v1m1 0v1m1 0v1m1 -1v1m1 0v1m1 0v1m1 0v1m1 0v1m1 0v1m1 -1v1m1 0v1m1 -1v1m1 -1v1m1 0v1m1 -1v1m1 0v1m1 -1v1m1 -1v1m1 0v1m1 -1v1m1 -1v1m1 -1v1m1 0v1m1 -1v1m1 -1v1m1 -1v1m1 -1v1m1 -1v1m1 -1v1m1 -1v1m1 -1v1m1 -1v1m1 -1v1m1 -1v1m1 0v1m1 -1v1m1 -1v1m1 -1v1m1 0v1m1 -1v1m1 -1v1m1 -1v1m1 -2v1m1 -1v1m1 -1v1m1 -2v1m1 -1v1m1 -2v1m1 -1v1m1 -2v1m1 -1v1m1 -2v1m1 -1v1m1 -1v1m1 -1v1m1 -1v1m1 -1v1m1 -1v1m1 -1v1m1 -1v1m1 -1v1m1 -1v1m1 -1v1m1 -1v1m1 -1v1m1 -1v1m1 0v1m1 -1v1m1 -1v1m1 -1v1m1 -2v1m1 -1v1m1 -1v1m1 -2v1m1 -1v1m1 -2v1m1 -1v1m1 -2v1m1 -2v1m1 -1v1m1 -2v1m1 -2v1m1 -1v1m1 -2v1m1 -1v1m1 -2v1m1 -2v1m1 -2v1m1 -2v1m1 -3v2m1 -4v2m1 -4v2m1 -3v1m1 -3v2m1 -3v1m1 -3v2m1 -3v1m1 -3v2m1 -3v1m1 -3v2m1 -3v1m1 -2v1m1 -3v2m1 -3v1m1 -2v1m1 -3v2m1 -3v1m1 -3v2m1 -3v1m1 -2v1m1 -2v1m1 -1v1m1 -2v1m1 -2v1m1 -1v1m1 -2v1m1 -1v1m1 -1v1m1 -2v1m1 -1v1m1 -1v1m1 -1v1m1 -2v1m1 -1v1m1 -1v1m1 -2v1m1 -1v1m1 -2v1m1 -1v1m1 -1v1m1 -1v1m1 -1v1m1 -1v1m1 -2v1m1 -2v1m1 -1v1m1 -2v1m1 -2v1m1 -1v1m1 -2v1m1 -1v1m1 -2v1m1 -1v1m1 -2v1m1 -1v1m1 -2v1m1 -1v1m1 -2v1m1 -1v1m1 -1v1m1 -2v1m1 -1v1m1 -1v1m1 -1v1m1 -1v1m1 -1v1m1 -1v1m1 -1v1m1 -1v1m1 -1v1m1 -1v1m1 -1v1m1 0v1m1 -1v1m1 -1v1m1 -1v1m1 0v1m1 -1v1m1 -1v1m1 -1v1m1 -1v1m1 -1v1m1 -1v1m1 -1v1m1 0v1m1 -1v1m1 -1v1m1 -1v1m1 -1v1m1 -1v1m1 -1v1m1 -1v1m1 -1v1m1 -1v1m1 -1v1m1 -1v1m1 -1v1m1 -1v1m1 -1v1m1 -1v1m1 -2v1m1 -1v1m1 -1v1m1 -1v1m1 -2v1m1 -1v1m1 -1v1m1 -2v1m1 -1v1m1 -2v1m1 -1v1m1 -1v1m1 -2v1m1 -1v1m1 -1v1m1 -1v1m1 -2v1m1 -1v1m1 -1v1m1 -1v1m1 -1v1m1 -1v1m1 -1v1m1 -1v1m1 -1v1m1 -1v1m1 -1v1m1 -1v1m1 0v1m1 -1v1m1 -1v1m1 0v1m1 -1v1m1 0v1m1 -1v1m1 -1v1m1 0v1m1 -1v1m1 -1v1m1 -1v1m1 0v1m1 -1v1m1 -1v1m1 -2v1m1 -1v1m1 -2v1m1 -1v1m1 -1v1m1 -1v1m1 -1v1m1 -1v1m1 -2v1m1 -3v2m1 -3v1m1 -2v1m1 -2v1m1 -2v1m1 -2v1m1 -2v1m1 -2v1m1 -3v2m1 -3v1m1 -2v1m1 -2v1m1 -3v2m1 -3v1m1 -2v1m1 -2v1m1 -3v2m1 -3v1m1 -2v1m1 -2v1m1 -3v2m1 -3v1m1 -2v1m1 -2v1m1 -1v1m1 -2v1m1 -1v1m1 -2v1m1 -2v1m1 -2v1m1 -2v1m1 -2v1m1 -1v1m1 -2v1m1 -1v1m1 -1v1m1 -1v1m1 -1v1m1 -1v1m1 -2v1m1 -1v1m1 -2v1m1 -1v1m1 -1v1m1 -1v1m1 -1v1m1 -1v1m1 -2v1m1 -1v1m1 -2v1m1 -1v1m1 -2v1m1 -2v1m1 -1v1m1 -2v1m1 -2v1m1 -2v1m1 -1v1m1 -2v1m1 -2v1m1 -1v1m1 -2v1m1 -1v1m1 -2v1m1 -1v1m1 -2v1m1 -1v1m1 -1v1m1 -2v1m1 -1v1m1 -1v1m1 -2v1m1 -2v1m1 -1v1m1 -2v1m1 -2v1m1 -2v1m1 -1v1m1 -2v1m1 -2v1m1 -3v2m1 -3v1m1 -2v1m1 -2v1m1 -2v1m1 -1v1m1 -2v1m1 -1v1m1 -2v1m1 -1v1m1 -1v1m1 -2v1m1 -2v1m1 -2v1m1 -2v1m1 -1v1m1 0v1m1 -1v1m1 -1v1m1 -1v1m1 -2v1m1 -1v1m1 -1v1m1 -1v1m1 0v1m1 -1v1m1 -1v1m1 -1v1m1 0v1m1 -1v1m1 -1v1m1 -1v1m1 0v1m1 -1v1m1 -1v1m1 -1v1m1 0v1m1 -1v1m1 -1v1m1 -1v1m1 0v1m1 -1v1m1 -1v1m1 -1v1m1 0v1m1 -1v1m1 -1v1m1 0v1m1 -1v1m1 0v1m1 -1v1m1 0v1m1 -1v1m1 0v1m1 -1v1m1 0v1m1 -1v1m1 0v1m1 -1v1m1 0v1m1 0v1m1 -1v1m1 0v1m1 0v1m1 -1v1m1 0v1m1 -1v1m1 0v1m1 -1v1m1 0v1m1 -1v1m1 -1v1m1 0v1m1 -1v1m1 -1v1m1 -1v1m1 0v1m1 -1v1m1 -1v1m1 -1v1m1 -1v1m1 -1v1m1 -1v1m1 -2v1m1 -1v1m1 -2v1m1 -1v1m1 -2v1m1 -2v1m1 -1v1m1 -2v1m1 -2v1m1 -2v1m1 -2v1m1 -2v1m1 -2v1m1 -2v1m1 -1v1m1 -2v1m1 -2v1m1 -2v1m1 -2v1m1 -2v1m1 -2v1m1 -3v2m1 -3v1m1 -2v1m1 -2v1m1 -2v1m1 -2v1m1 -2v1m1 -2v1m1 -2v1m1 -2v1m1 -2v1m1 -2v1m1 -2v1m1 -2v1m1 -2v1m1 -2v1m1 -2v1m1 -2v1m1 -2v1m1 -2v1m1 -2v1m1 -2v1m1 -2v1m1 -3v2m1 -3v1m1 -3v2m1 -3v1m1 -3v2m1 -3v1m1 -3v2m1 -3v1m1 -3v2m1 -3v1m1 -3v2m1 -3v1m1 -3v2m1 -4v2m1 -4v2m1 -4v2m1 -4v2m1 -4v2m1 -4v2m1 -5v3m1 -5v2m1 -5v3m1 -5v2m1 -4v2m1 -4v2m1 -4v2m1 -4v2m1 -3v1m1 -3v2m1 -4v2m1 -4v2m1 -3v1m1 -3v2m1 -4v2m1 -4v2m1 -4v2m1 -4v2m1 -4v2m1 -4v2m1 -4v2m1 -4v2m1 -4v2m1 -4v2m1 -5v3m1 -5v2m1 -4v2m1 -4v2m1 -5v3m1 -5v2m1 -4v2m1 -4v2m1 -4v2m1 -4v2m1 -4v2m1 -4v2m1 -3v1m1 -3v2m1 -4v2m1 -4v2m1 -3v1m1 -3v2m1 -4v2m1 -4v2m1 -4v2m1 -4v2m1 -4v2m1 -4v2m1 -3v1m1 -3v2m1 -4v2m1 -4v2m1 -4v2m1 -4v2m1 -4v2m1 -4v2m1 -3v1m1 -3v2m1 -3v1m1 -3v2m1 -3v1m1 -3v2m1 -3v1m1 -3v2m1 -3v1m1 -2v1m1 -3v2m1 -3v1m1 -2v1m1 -2v1m1 -2v1m1 -2v1m1 -2v1m1 -3v2m1 -3v1m1 -3v2m1 -3v1m1 -3v2m1 -3v1m1 -3v2m1 -3v1m1 -2v1m1 -2v1m1 -2v1m1 -2v1m1 -2v1m1 -2v1m1 -1v1m1 -2v1m1 -2v1m1 -1v1m1 -2v1m1 -1v1m1 -2v1m1 -1v1m1 -2v1m1 -1v1m1 -2v1m1 -1v1m1 -2v1m1 -1v1m1 -2v1m1 -2v1m1 -1v1m1 -2v1m1 -1v1m1 -2v1m1 -1v1m1 -1v1m1 -2v1m1 -2v1m1 -1v1m1 -2v1m1 -2v1m1 -1v1m1 -2v1m1 -1v1m1 -2v1m1 -2v1m1 -1v1m1 -2v1m1 -2v1m1 -1v1m1 -2v1m1 -1v1m1 -1v1m1 -2v1m1 -1v1m1 -1v1m1 -1v1m1 -1v1m1 -1v1m1 -1v1m1 -1v1m1 0v1m1 -1v1m1 -1v1m1 -1v1m1 -2v1m1 -1v1m1 -1v1m1 -1v1m1 -1v1m1 -1v1m1 -1v1m1 -1v1m1 0v1m1 -1v1m1 -1v1m1 0v1m1 0v1m1 -1v1m1 0v1m1 0v1m1 0v1m1 -1v1m1 0v1m1 0v1m1 0v1m1 -1v1m1 0v1m1 0v1m1 -1v1m1 0v1m1 -1v1m1 -1v1m1 0v1m1 -1v1m1 -1v1m1 -1v1m1 -1v1m1 -1v1m1 -1v1m1 -1v1m1 -1v1m1 -1v1m1 -1v1m1 -1v1m1 -1v1m1 -1v1m1 -1v1m1 -1v1m1 -2v1m1 -1v1m1 -1v1m1 -2v1m1 -1v1m1 -2v1m1 -1v1m1 -1v1m1 -2v1m1 -1v1m1 -1v1m1 -1v1m1 -1v1m1 -1v1m1 -1v1m1 0v1m1 0v1m1 0v1m1 0v1m1 0v1m1 0v1m1 0v1m1 0v1m1 0v1m1 0v2m1 0v1m1 0v1m1 0v1m1 0v1m1 0v1m1 0v1m1 0v1m1 0v1m1 0v1m1 0v1m1 0v1m1 0v1m1 0v1m1 0v1m1 0v1m1 0v1m1 0v1m1 0v1m1 0v2m1 0v1m1 0v2m1 0v1m1 0v2m1 0v1m1 0v2m1 0v1m1 0v2m1 0v1m1 0v2m1 0v1m1 0v1m1 0v2m1 0v1m1 0v1m1 0v2m1 0v2m1 0v2m1 0v1m1 0v2m1 0v1m1 0v2m1 0v1m1 0v2m1 0v1m1 0v2m1 0v1m1 0v2m1 0v2m1 0v2m1 0v2m1 0v2m1 0v2m1 0v2m1 0v1m1 0v1m1 0v2m1 0v1m1 0v1m1 0v1m1 0v2m1 0v1m1 0v1m1 0v1m1 0v2m1 0v1m1 0v1m1 0v1m1 0v1m1 0v1m1 0v1m1 0v1m1 0v1m1 0v1m1 0v1m1 0v1m1 0v1m1 0v1m1 0v1m1 0v1m1 0v1m1 0v1m1 0v1m1 0v1m1 0v1m1 0v1m1 0v1m1 0v1m1 0v1m1 0v1m1 0v1m1 0v1m1 0v1m1 0v1m1 0v1m1 0v1m1 -1v1m1 0v1m1 -1v1m1 -1v1m1 -1v1m1 -1v1m1 -1v1m1 -1v1m1 0v1m1 -1v1m1 -1v1m1 -1v1m1 0v1m1 -1v1m1 -1v1m1 -1v1m1 0v1m1 -1v1m1 -1v1m1 0v1m1 0v1m1 -1v1m1 0v1m1 0v1m1 -1v1m1 0v1m1 -1v1m1 -1v1m1 0v1m1 -1v1m1 -1v1m1 0v1m1 0v1m1 -1v1m1 0v1m1 0v1m1 0v1m1 -1v1m1 0v1m1 0v1m1 0v1m1 -1v1m1 0v1m1 0v1m1 0v2m1 0v1m1 0v1m1 0v1m1 0v1m1 -1v1m1 0v1m1 0v1m1 0v2m1 0v1m1 0v1m1 0v1m1 0v1m1 0v1m1 0v1m1 0v1m1 -1v1m1 0v1m1 -1v1m1 0v1m1 -1v1m1 0v1m1 -1v1m1 0v1m1 -1v1m1 0v1m1 -1v1m1 0v1m1 0v1m1 -1v1m1 0v1m1 0v1m1 0v1m1 -1v1m1 0v1m1 0v1m1 0v1m1 0v1m1 0v1m1 0v1m1 0v1m1 0v1m1 0v1m1 0v1m1 0v2m1 0v1m1 0v1m1 0v1m1 0v1m1 0v1m1 0v1m1 0v1m1 0v1m1 -1v1m1 0v1m1 0v1m1 -1v1m1 0v1m1 -1v1m1 0v1m1 -1v1m1 0v1m1 -1v1m1 -1v1m1 0v1m1 -1v1m1 -1v1m1 -1v1m1 -1v1m1 -1v1m1 -1v1m1 -1v1m1 -1v1m1 -1v1m1 -1v1m1 -1v1m1 -1v1m1 -1v1m1 -1v1m1 -1v1m1 -1v1m1 -1v1m1 -1v1m1 -1v1m1 0v1m1 -1v1m1 -1v1m1 -1v1m1 -1v1m1 -1v1m1 -1v1m1 -1v1m1 -1v1m1 -1v1m1 -1v1m1 -1v1m1 0v1m1 -1v1m1 -1v1m1 -1v1m1 0v1m1 -1v1m1 -1v1m1 -1v1m1 0v1m1 -1v1m1 -1v1m1 -1v1m1 -2v1m1 -1v1m1 -1v1m1 -1v1m1 -1v1m1 -1v1m1 -1v1m1 -1v1m1 -2v1m1 -1v1m1 -1v1m1 -1v1m1 -2v1m1 -1v1m1 -1v1m1 -1v1m1 -1v1m1 -1v1m1 -1v1m1 -1v1m1 -1v1m1 -1v1m1 -1v1m1 -1v1m1 0v1m1 -1v1m1 -1v1m1 -1v1m1 -1v1m1 -1v1m1 -1v1m1 -1v1m1 -1v1m1 -1v1m1 -1v1m1 -1v1m1 0v1m1 -1v1m1 -1v1m1 -2v1m1 -1v1m1 -2v1m1 -1v1m1 -2v1m1 -2v1m1 -1v1m1 -2v1m1 -1v1m1 -1v1m1 -1v1m1 -1v1m1 -1v1m1 -2v1m1 -1v1m1 -1v1m1 -1v1m1 -2v1m1 -1v1m1 -1v1m1 -2v1m1 -2v1m1 -2v1m1 -2v1m1 -2v1m1 -1v1m1 -2v1m1 -1v1m1 -2v1m1 -2v1m1 -1v1m1 -2v1m1 -2v1m1 -2v1m1 -1v1m1 -2v1m1 -2v1m1 -1v1m1 -2v1m1 -1v1m1 -2v1m1 -1v1m1 -2v1m1 -1v1m1 -2v1m1 -2v1m1 -1v1m1 -2v1m1 -2v1m1 -1v1m1 -2v1m1 -1v1m1 -2v1m1 -2v1m1 -1v1m1 -2v1m1 -2v1m1 -1v1m1 -2v1m1 -1v1m1 -2v1m1 -2v1m1 -1v1m1 -2v1m1 -2v1m1 -2v1m1 -2v1m1 -2v1m1 -2v1m1 -2v1m1 -2v1m1 -2v1m1 -2v1m1 -2v1m1 -2v1m1 -2v1m1 -2v1m1 -3v2m1 -3v1m1 -2v1m1 -2v1m1 -3v2m1 -3v1m1 -2v1m1 -2v1m1 -2v1m1 -2v1m1 -2v1m1 -2v1m1 -2v1m1 -2v1m1 -2v1m1 -2v1m1 -2v1m1 -2v1m1 -2v1m1 -2v1m1 -2v1m1 -1v1m1 -2v1m1 -2v1m1 -1v1m1 -2v1m1 -1v1m1 -2v1m1 -2v1m1 -1v1m1 -2v1m1 -2v1m1 -1v1m1 -2v1m1 -1v1m1 -2v1m1 -1v1m1 -2v1m1 -1v1m1 -1v1m1 -2v1m1 -1v1m1 -1v1m1 -1v1m1 -2v1m1 -1v1m1 -1v1m1 -2v1m1 -1v1m1 -2v1m1 -1v1m1 -2v1m1 -2v1m1 -1v1m1 -2v1m1 -2v1m1 -2v1m1 -1v1m1 -2v1m1 -2v1m1 -2v1m1 -1v1m1 -2v1m1 -2v1m1 -2v1m1 -2v1m1 -2v1m1 -2v1m1 -2v1m1 -1v1m1 -2v1m1 -2v1m1 -2v1m1 -1v1m1 -2v1m1 -2v1m1 -2v1m1 -1v1m1 -2v1m1 -2v1m1 -2v1m1 -1v1m1 -2v1m1 -2v1m1 -1v1m1 -2v1m1 -1v1m1 -2v1m1 -2v1m1 -1v1m1 -2v1m1 -1v1m1 -2v1m1 -1v1m1 -1v1m1 -2v1m1 -1v1m1 -2v1m1 -1v1m1 -1v1m1 -2v1m1 -1v1m1 -1v1m1 -2v1m1 -1v1m1 -2v1m1 -1v1m1 -2v1m1 -2v1m1 -1v1m1 -2v1m1 -2v1m1 -2v1m1 -2v1m1 -2v1m1 -2v1m1 -2v1m1 -1v1m1 -2v1m1 -2v1m1 -3v2m1 -3v1m1 -2v1m1 -2v1m1 -2v1m1 -2v1m1 -2v1m1 -2v1m1 -2v1m1 -2v1m1 -2v1m1 -2v1m1 -1v1m1 -2v1m1 -1v1m1 -2v1m1 -1v1m1 -2v1m1 -1v1m1 -1v1m1 -2v1m1 -1v1m1 -1v1m1 -1v1m1 -2v1m1 -1v1m1 -1v1m1 -1v1m1 -2v1m1 -1v1m1 -1v1m1 -2v1m1 -1v1m1 -2v1m1 -1v1m1 -2v1m1 -1v1m1 -2v1m1 -1v1m1 -2v1m1 -1v1m1 -2v1m1 -1v1m1 -2v1m1 -2v1m1 -1v1m1 -2v1m1 -2v1m1 -1v1m1 -2v1m1 -1v1m1 -2v1m1 -2v1m1 -1v1m1 -2v1m1 -2v1m1 -1v1m1 -2v1m1 -1v1m1 -2v1m1 -2v1m1 -1v1m1 -2v1m1 -2v1m1 -2v1m1 -2v1m1 -2v1m1 -2v1m1 -2v1m1 -2v1m1 -2v1m1 -2v1m1 -2v1m1 -2v1m1 -2v1m1 -2v1m1 -2v1m1 -2v1m1 -2v1m1 -2v1m1 -2v1m1 -1v1m1 -2v1m1 -2v1m1 -2v1m1 -1v1m1 -2v1m1 -1v1m1 -2v1m1 -1v1m1 -1v1m1 -1v1m1 -2v1m1 -1v1m1 -1v1m1 -1v1m1 -1v1m1 -1v1m1 -1v1m1 -1v1m1 0v1m1 -1v1m1 -1v1m1 -1v1m1 -1v1m1 -1v1m1 -1v1m1 -1v1m1 -1v1m1 -1v1m1 -1v1m1 -1v1m1 -2v1m1 -1v1m1 -1v1m1 -1v1m1 -2v1m1 -1v1m1 -1v1m1 -1v1m1 -2v1m1 -1v1m1 -1v1m1 -2v1m1 -1v1m1 -2v1m1 -1v1m1 -1v1m1 -2v1m1 -1v1m1 -1v1m1 -2v1m1 -1v1m1 -2v1m1 -1v1m1 -2v1m1 -1v1m1 -2v1m1 -1v1m1 -2v1m1 -1v1m1 -2v1m1 -1v1m1 -2v1m1 -2v1m1 -1v1m1 -2v1m1 -1v1m1 -2v1m1 -1v1m1 -1v1m1 -1v1m1 -1v1m1 -1v1m1 -1v1m1 -1v1m1 -1v1m1 -1v1m1 -1v1m1 -1v1m1 -1v1m1 -1v1m1 -1v1m1 -1v1m1 -2v1m1 -1v1m1 -1v1m1 -1v1m1 -2v1m1 -1v1m1 -1v1m1 -1v1m1 -2v1m1 -1v1m1 -1v1m1 -1v1m1 -1v1m1 -1v1m1 -1v1m1 -1v1m1 0v1m1 -1v1m1 -1v1m1 -1v1m1 -2v1m1 -1v1m1 -1v1m1 0v1m1 -1v1m1 0v1m1 -1v1m1 -1v1m1 -1v1m1 -1v1m1 -1v1m1 -1v1m1 -2v1m1 -1v1m1 -1v1m1 -1v1m1 -1v1m1 -1v1m1 -1v1m1 -1v1m1 -1v1m1 -1v1m1 -1v1m1 -1v1m1 -2v1m1 -1v1m1 -1v1m1 -1v1m1 -2v1m1 -1v1m1 -1v1m1 -2v1m1 -1v1m1 -2v1m1 -1v1m1 -2v1m1 -1v1m1 -2v1m1 -1v1m1 -1v1m1 -2v1m1 -1v1m1 -1v1m1 -1v1m1 -2v1m1 -1v1m1 -1v1m1 0v1m1 -1v1m1 0v1m1 -1v1m1 -1v1m1 0v1m1 -1v1m1 -1v1m1 -1v1m1 -2v1m1 -1v1m1 -1v1m1 -1v1m1 -1v1m1 -1v1m1 -1v1m1 -1v1m1 -2v1m1 -1v1m1 -1v1m1 -1v1m1 -2v1m1 -1v1m1 -1v1m1 -2v1m1 -1v1m1 -2v1m1 -1v1m1 -2v1m1 -2v1m1 -1v1m1 -2v1m1 -2v1m1 -1v1m1 -2v1m1 -1v1m1 -1v1m1 -2v1m1 -1v1m1 -1v1m1 -1v1m1 0v1m1 -1v1m1 -1v1m1 -1v1m1 -1v1m1 -1v1m1 -1v1m1 -1v1m1 0v1m1 -1v1m1 -1v1m1 -1v1m1 -2v1m1 -1v1m1 -1v1m1 -1v1m1 -2v1m1 -1v1m1 -1v1m1 -2v1m1 -1v1m1 -2v1m1 -1v1m1 -1v1m1 -1v1m1 -1v1m1 -1v1m1 -1v1m1 -2v1m1 -1v1m1 -1v1m1 -1v1m1 -2v1m1 -1v1m1 -1v1m1 -2v1m1 -1v1m1 -2v1m1 -1v1m1 -2v1m1 -2v1m1 -2v1m1 -2v1m1 -2v1m1 -2v1m1 -1v1m1 -2v1m1 -2v1m1 -1v1m1 -2v1m1 -1v1m1 -2v1m1 -1v1m1 -2v1m1 -1v1m1 -1v1m1 -2v1m1 -1v1m1 -1v1m1 -1v1m1 -2v1m1 -1v1m1 -1v1m1 -1v1m1 0v1m1 -1v1m1 -1v1m1 0v1m1 -1v1m1 0v1m1 -1v1m1 0v1m1 -1v1m1 0v1m1 -1v1m1 0v1m1 0v1m1 0v1m1 0v1m1 0v2m1 0v2m1 0v2m1 0v2m1 0v2m1 0v2m1 0v2m1 0v2m1 0v2m1 0v1m1 0v2m1 0v1m1 0v1m1 0v1m1 0v1m1 0v1m1 0v1m1 0v1m1 -1v1m1 0v1m1 0v1m1 -1v1m1 0v1m1 -1v1m1 0v1m1 -1v1m1 0v1m1 -1v1m1 -1v1m1 -1v1m1 -1v1m1 -1v1m1 -1v1m1 -1v1m1 -1v1m1 -1v1m1 -1v1m1 0v1m1 -1v1m1 -1v1m1 0v1m1 -1v1m1 0v1m1 -1v1m1 -1v1m1 0v1m1 -1v1m1 -1v1m1 0v1m1 -1v1m1 0v1m1 -1v1m1 0v1m1 -1v1m1 0v1m1 -1v1m1 0v1m1 -1v1m1 0v1m1 -1v1m1 0v1m1 0v1m1 -1v1m1 0v1m1 -1v1m1 -1v1m1 -1v1m1 -1v1m1 -1v1m1 0v1m1 -1v1m1 -1v1m1 -1v1m1 -1v1m1 -1v1m1 -1v1m1 -1v1m1 -2v1m1 -1v1m1 -1v1m1 0v1m1 -1v1m1 0v1m1 -1v1m1 0v1m1 -1v1m1 0v1m1 -1v1m1 0v1m1 -1v1m1 0v1m1 -1v1m1 0v1m1 -1v1m1 0v1m1 -1v1m1 -1v1m1 0v1m1 -1v1m1 -1v1m1 -1v1m1 0v1m1 -1v1m1 -1v1m1 -1v1m1 -1v1m1 -1v1m1 -1v1m1 -1v1m1 0v1m1 -1v1m1 -1v1m1 -1v1m1 -1v1m1 -1v1m1 -1v1m1 -1v1m1 0v1m1 -1v1m1 -1v1m1 -1v1m1 -1v1m1 -1v1m1 -1v1m1 -1v1m1 0v1m1 -1v1m1 -1v1m1 -1v1m1 0v1m1 -1v1m1 -1v1m1 0v1m1 0v1m1 -1v1m1 0v1m1 0v1m1 -1v1m1 0v1m1 -1v1m1 0v1m1 -1v1m1 0v1m1 -1v1m1 0v1m1 0v1m1 0v1m1 0v1m1 0v1m1 -1v1m1 0v1m1 -1v1m1 0v1m1 0v1m1 0v1m1 0v1m1 0v1m1 0v2m1 0v1m1 0v1m1 0v1m1 0v1m1 -1v1m1 0v1m1 -1v1m1 0v1m1 -1v1m1 -1v1m1 0v1m1 -1v1m1 0v1m1 -1v1m1 -1v1m1 0v1m1 -1v1m1 -1v1m1 -1v1m1 -1v1m1 -1v1m1 -1v1m1 -1v1m1 -1v1m1 -1v1m1 -1v1m1 -1v1m1 -1v1m1 -1v1m1 -1v1m1 0v1m1 -1v1m1 0v1m1 -1v1m1 -1v1m1 -1v1m1 -1v1m1 -1v1m1 0v1m1 0v1m1 0v1m1 0v1m1 0v1m1 0v1m1 -1v1m1 0v1m1 0v1m1 0v2m1 0v1m1 0v1" fill="none" stroke="#ff0000" stroke-width="1"/>
<path d="M3.5 458v1m1 -1v1m1 0v1m1 -1v1m1 -1v1m1 0v1m1 -1v1m1 0v1m1 -1v1m1 0v1m1 -1v1m1 0v1m1 -1v1m1 0v1m1 -1v1m1 0v1m1 -1v1m1 0v1m1 0v1m1 -1v1m1 0v1m1 0v1m1 -1v1m1 0v1m1 -1v1m1 0v1m1 0v1m1 -1v1m1 0v1m1 0v1m1 0v1m1 0v1m1 0v1m1 0v1m1 0v1m1 -1v1m1 0v1m1 0v1m1 -1v1m1 0v1m1 -1v1m1 0v1m1 0v1m1 -1v1m1 0v1m1 0v1m1 0v1m1 -1v1m1 0v1m1 0v1m1 0v1m1 -1v1m1 0v1m1 0v1m1 -1v1m1 0v1m1 -1v1m1 -1v1m1 0v1m1 -1v1m1 -1v1m1 -1v1m1 0v1m1 -1v1m1 -1v1m1 0v1m1 -1v1m1 0v1m1 -1v1m1 -1v1m1 -1v1m1 -1v1m1 -1v1m1 -1v1m1 -1v1m1 -1v1m1 -1v1m1 -1v1m1 0v1m1 -1v1m1 -1v1m1 -1v1m1 0v1m1 -1v1m1 -1v1m1 -1v1m1 -2v1m1 -1v1m1 -1v1m1 -1v1m1 -2v1m1 -1v1m1 -1v1m1 -1v1m1 -2v1m1 -1v1m1 -1v1m1 -1v1m1 -1v1m1 -1v1m1 -1v1m1 -1v1m1 -1v1m1 -1v1m1 -1v1m1 -1v1m1 -1v1m1 -1v1m1 -1v1m1 -1v1m1 -1v1m1 -1v1m1 -1v1m1 -1v1m1 -1v1m1 -1v1m1 -1v1m1 -2v1m1 -1v1m1 -2v1m1 -1v1m1 -2v1m1 -1v1m1 -2v1m1 -1v1m1 -2v1m1 -2v1m1 -1v1m1 -2v1m1 -2v1m1 -2v1m1 -1v1m1 -2v1m1 -3v2m1 -3v1m1 -3v2m1 -3v1m1 -2v1m1 -3v2m1 -3v1m1 -2v1m1 -3v2m1 -3v1m1 -3v2m1 -3v1m1 -2v1m1 -2v1m1 -2v1m1 -2v1m1 -2v1m1 -3v2m1 -3v1m1 -2v1m1 -2v1m1 -2v1m1 -2v1m1 -2v1m1 -1v1m1 -2v1m1 -1v1m1 -1v1m1 -1v1m1 -2v1m1 -1v1m1 -1v1m1 -1v1m1 -2v1m1 -1v1m1 -1v1m1 -2v1m1 -1v1m1 -2v1m1 -1v1m1 -1v1m1 -2v1m1 -1v1m1 -1v1m1 -2v1m1 -1v1m1 -2v1m1 -1v1m1 -2v1m1 -1v1m1 -2v1m1 -1v1m1 -2v1m1 -1v1m1 -2v1m1 -1v1m1 -2v1m1 -1v1m1 -2v1m1 -1v1m1 -1v1m1 -2v1m1 -1v1m1 -1v1m1 -1v1m1 -1v1m1 -1v1m1 -1v1m1 -1v1m1 -1v1m1 -1v1m1 -1v1m1 -1v1m1 0v1m1 -1v1m1 -1v1m1 -1v1m1 -1v1m1 -1v1m1 -1v1m1 -1v1m1 -1v1m1 -1v1m1 -1v1m1 -1v1m1 0v1m1 -1v1m1 -1v1m1 -1v1m1 -1v1m1 -1v1m1 -1v1m1 -1v1m1 -1v1m1 -1v1m1 -1v1m1 -1v1m1 -1v1m1 -1v1m1 -1v1m1 -1v1m1 -2v1m1 -1v1m1 -1v1m1 -2v1m1 -1v1m1 -2v1m1 -1v1m1 -1v1m1 -2v1m1 -1v1m1 -1v1m1 -1v1m1 -2v1m1 -1v1m1 -1v1m1 -1v1m1 -2v1m1 -1v1m1 -1v1m1 -1v1m1 -1v1m1 -1v1m1 -1v1m1 -1v1m1 -1v1m1 -1v1m1 -1v1m1 -1v1m1 0v1m1 -1v1m1 -1v1m1 -1v1m1 0v1m1 -1v1m1 -1v1m1 0v1m1 -1v1m1 0v1m1 -1v1m1 -1v1m1 -1v1m1 -1v1m1 -1v1m1 -2v1m1 -1v1m1 -2v1m1 -1v1m1 -1v1m1 -1v1m1 -1v1m1 -1v1m1 -2v1m1 -2v1m1 -2v1m1 -2v1m1 -2v1m1 -2v1m1 -2v1m1 -2v1m1 -2v1m1 -3v2m1 -3v1m1 -2v1m1 -2v1m1 -2v1m1 -2v1m1 -2v1m1 -2v1m1 -2v1m1 -2v1m1 -2v1m1 -2v1m1 -3v2m1 -3v1m1 -2v1m1 -2v1m1 -2v1m1 -1v1m1 -2v1m1 -2v1m1 -2v1m1 -1v1m1 -2v1m1 -2v1m1 -1v1m1 -2v1m1 -1v1m1 -1v1m1 -1v1m1 -1v1m1 -1v1m1 -2v1m1 -1v1m1 -2v1m1 -1v1m1 -1v1m1 -2v1m1 -1v1m1 -1v1m1 -1v1m1 -2v1m1 -1v1m1 -1v1m1 -2v1m1 -2v1m1 -1v1m1 -2v1m1 -2v1m1 -1v1m1 -2v1m1 -1v1m1 -2v1m1 -1v1m1 -2v1m1 -1v1m1 -2v1m1 -1v1m1 -2v1m1 -1v1m1 -2v1m1 -1v1m1 -2v1m1 -1v1m1 -2v1m1 -2v1m1 -1v1m1 -2v1m1 -2v1m1 -2v1m1 -1v1m1 -2v1m1 -2v1m1 -2v1m1 -2v1m1 -2v1m1 -2v1m1 -2v1m1 -1v1m1 -2v1m1 -2v1m1 -1v1m1 -2v1m1 -1v1m1 -2v1m1 -2v1m1 -1v1m1 -2v1m1 -1v1m1 -1v1m1 -1v1m1 -1v1m1 -1v1m1 -1v1m1 -1v1m1 -1v1m1 -1v1m1 0v1m1 -1v1m1 -1v1m1 -1v1m1 -1v1m1 -1v1m1 -1v1m1 -1v1m1 -1v1m1 -1v1m1 -1v1m1 -1v1m1 0v1m1 -1v1m1 -1v1m1 -1v1m1 0v1m1 -1v1m1 -1v1m1 -1v1m1 0v1m1 -1v1m1 -1v1m1 -1v1m1 0v1m1 -1v1m1 -1v1m1 0v1m1 -1v1m1 0v1m1 -1v1m1 0v1m1 -1v1m1 0v1m1 -1v1m1 0v1m1 0v1m1 -1v1m1 0v1m1 -1v1m1 0v1m1 -1v1m1 -1v1m1 0v1m1 -1v1m1 0v1m1 -1v1m1 -1v1m1 0v1m1 -1v1m1 -1v1m1 -1v1m1 0v1m1 -1v1m1 -1v1m1 -1v1m1 -2v1m1 -1v1m1 -1v1m1 -1v1m1 -2v1m1 -1v1m1 -1v1m1 -2v1m1 -2v1m1 -1v1m1 -2v1m1 -2v1m1 -2v1m1 -1v1m1 -2v1m1 -2v1m1 -2v1m1 -1v1m1 -2v1m1 -2v1m1 -2v1m1 -2v1m1 -2v1m1 -2v1m1 -2v1m1 -2v1m1 -2v1m1 -2v1m1 -2v1m1 -2v1m1 -2v1m1 -2v1m1 -2v1m1 -1v1m1 -2v1m1 -2v1m1 -3v2m1 -3v1m1 -2v1m1 -2v1m1 -2v1m1 -1v1m1 -2v1m1 -2v1m1 -2v1m1 -2v1m1 -2v1m1 -2v1m1 -3v2m1 -3v1m1 -2v1m1 -3v2m1 -3v1m1 -3v2m1 -3v1m1 -3v2m1 -3v1m1 -3v2m1 -3v1m1 -3v2m1 -4v2m1 -4v2m1 -3v1m1 -3v2m1 -4v2m1 -4v2m1 -4v2m1 -4v2m1 -4v2m1 -4v2m1 -4v2m1 -4v2m1 -4v2m1 -4v2m1 -3v1m1 -3v2m1 -4v2m1 -4v2m1 -3v1m1 -3v2m1 -4v2m1 -4v2m1 -3v1m1 -3v2m1 -4v2m1 -4v2m1 -3v1m1 -3v2m1 -4v2m1 -4v2m1 -5v3m1 -5v2m1 -4v2m1 -4v2m1 -4v2m1 -4v2m1 -4v2m1 -4v2m1 -4v2m1 -4v2m1 -4v2m1 -4v2m1 -3v1m1 -3v2m1 -3v1m1 -3v2m1 -3v1m1 -3v2m1 -4v2m1 -4v2m1 -4v2m1 -4v2m1 -4v2m1 -4v2m1 -3v1m1 -3v2m1 -4v2m1 -4v2m1 -3v1m1 -3v2m1 -4v2m1 -4v2m1 -3v1m1 -3v2m1 -3v1m1 -3v2m1 -3v1m1 -3v2m1 -3v1m1 -3v2m1 -3v1m1 -2v1m1 -3v2m1 -3v1m1 -2v1m1 -2v1m1 -3v2m1 -3v1m1 -2v1m1 -2v1m1 -3v2m1 -3v1m1 -2v1m1 -3v2m1 -3v1m1 -3v2m1 -3v1m1 -2v1m1 -2v1m1 -2v1m1 -2v1m1 -2v1m1 -2v1m1 -1v1m1 -2v1m1 -2v1m1 -1v1m1 -2v1m1 -1v1m1 -2v1m1 -2v1m1 -1v1m1 -2v1m1 -2v1m1 -2v1m1 -1v1m1 -2v1m1 -2v1m1 -1v1m1 -2v1m1 -1v1m1 -2v1m1 -1v1m1 -2v1m1 -1v1m1 -2v1m1 -2v1m1 -1v1m1 -2v1m1 -2v1m1 -1v1m1 -2v1m1 -1v1m1 -2v1m1 -2v1m1 -1v1m1 -2v1m1 -2v1m1 -2v1m1 -1v1m1 -2v1m1 -1v1m1 -2v1m1 -1v1m1 -1v1m1 -1v1m1 -1v1m1 -1v1m1 -1v1m1 -1v1m1 -1v1m1 -1v1m1 -1v1m1 -2v1m1 -1v1m1 -2v1m1 -1v1m1 -1v1m1 -1v1m1 -1v1m1 -1v1m1 -1v1m1 0v1m1 -1v1m1 -1v1m1 0v1m1 -1v1m1 0v1m1 -1v1m1 0v1m1 0v1m1 -1v1m1 0v1m1 0v1m1 -1v1m1 0v1m1 -1v1m1 -1v1m1 0v1m1 -1v1m1 -1v1m1 -1v1m1 0v1m1 -1v1m1 -1v1m1 -1v1m1 -1v1m1 -1v1m1 -1v1m1 -1v1m1 -1v1m1 -1v1m1 -1v1m1 -1v1m1 -2v1m1 -1v1m1 -1v1m1 -1v1m1 -2v1m1 -1v1m1 -1v1m1 -1v1m1 -2v1m1 -1v1m1 -1v1m1 -2v1m1 -1v1m1 -2v1m1 -1v1m1 -1v1m1 -1v1m1 -1v1m1 -1v1m1 0v1m1 0v1m1 0v1m1 0v1m1 0v1m1 0v1m1 -1v1m1 0v1m1 0v1m1 0v1m1 0v1m1 0v1m1 0v1m1 0v1m1 -1v1m1 0v1m1 0v1m1 0v1m1 0v1m1 0v1m1 0v1m1 0v1m1 0v1m1 0v1m1 0v1m1 0v1m1 0v1m1 0v1m1 0v1m1 0v2m1 0v1m1 0v1m1 0v1m1 0v2m1 0v1m1 0v1m1 0v1m1 0v2m1 0v1m1 0v1m1 0v1m1 0v2m1 0v1m1 0v1m1 0v2m1 0v2m1 0v2m1 0v1m1 0v1m1 0v1m1 0v1m1 0v1m1 0v2m1 0v1m1 0v2m1 0v1m1 0v2m1 0v2m1 0v2m1 0v1m1 0v2m1 0v1m1 0v2m1 0v1m1 0v2m1 0v1m1 0v2m1 0v1m1 0v1m1 0v1m1 0v1m1 0v1m1 0v1m1 0v2m1 0v1m1 0v1m1 0v1m1 0v1m1 -1v1m1 0v1m1 0v1m1 0v2m1 0v1m1 0v1m1 0v1m1 0v1m1 -1v1m1 0v1m1 0v1m1 0v1m1 0v1m1 0v1m1 0v1m1 0v1m1 0v1m1 0v1m1 0v1m1 0v1m1 0v1m1 0v1m1 0v1m1 0v1m1 0v1m1 0v1m1 0v1m1 -1v1m1 0v1m1 -1v1m1 -1v1m1 0v1m1 -1v1m1 -1v1m1 -1v1m1 -1v1m1 -1v1m1 -1v1m1 -1v1m1 0v1m1 -1v1m1 -1v1m1 0v1m1 -1v1m1 0v1m1 -1v1m1 0v1m1 0v1m1 -1v1m1 0v1m1 -1v1m1 0v1m1 -1v1m1 -1v1m1 0v1m1 -1v1m1 0v1m1 -1v1m1 0v1m1 -1v1m1 0v1m1 -1v1m1 0v1m1 0v1m1 -1v1m1 0v1m1 0v1m1 0v1m1 0v1m1 0v1m1 0v1m1 0v1m1 0v1m1 0v1m1 0v1m1 0v1m1 -1v1m1 0v1m1 0v1m1 0v2m1 0v1m1 0v1m1 0v1m1 0v1m1 0v1m1 0v1m1 0v1m1 -1v1m1 0v1m1 -1v1m1 0v1m1 -1v1m1 0v1m1 -1v1m1 0v1m1 -1v1m1 0v1m1 -1v1m1 0v1m1 0v1m1 -1v1m1 0v1m1 0v1m1 0v1m1 -1v1m1 0v1m1 0v1m1 0v1m1 0v1m1 0v1m1 0v1m1 0v1m1 0v1m1 0v1m1 0v1m1 0v2m1 0v1m1 0v1m1 0v1m1 0v1m1 -1v1m1 0v1m1 0v1m1 0v1m1 0v1m1 0v1m1 0v1m1 -1v1m1 0v1m1 -1v1m1 -1v1m1 0v1m1 -1v1m1 -1v1m1 0v1m1 -1v1m1 0v1m1 -1v1m1 -1v1m1 0v1m1 -1v1m1 -1v1m1 -1v1m1 -2v1m1 -1v1m1 -1v1m1 -1v1m1 0v1m1 -1v1m1 -1v1m1 -1v1m1 -1v1m1 -1v1m1 -1v1m1 -1v1m1 0v1m1 -1v1m1 -1v1m1 -1v1m1 0v1m1 -1v1m1 -1v1m1 -1v1m1 -1v1m1 -1v1m1 -1v1m1 -1v1m1 0v1m1 -1v1m1 -1v1m1 -1v1m1 0v1m1 -1v1m1 -1v1m1 -1v1m1 0v1m1 -1v1m1 -1v1m1 -1v1m1 -1v1m1 -1v1m1 -1v1m1 -1v1m1 -2v1m1 -1v1m1 -1v1m1 -1v1m1 -1v1m1 -1v1m1 -1v1m1 -1v1m1 -1v1m1 -1v1m1 -1v1m1 -1v1m1 -2v1m1 -1v1m1 -1v1m1 -1v1m1 0v1m1 -1v1m1 -1v1m1 -1v1m1 0v1m1 -1v1m1 -1v1m1 -1v1m1 -1v1m1 -1v1m1 -1v1m1 -1v1m1 -1v1m1 -1v1m1 -1v1m1 -1v1m1 0v1m1 -1v1m1 -1v1m1 -2v1m1 -1v1m1 -2v1m1 -1v1m1 -2v1m1 -1v1m1 -2v1m1 -1v1m1 -1v1m1 -2v1m1 -1v1m1 -1v1m1 -1v1m1 -1v1m1 -1v1m1 -1v1m1 -1v1m1 -2v1m1 -1v1m1 -1v1m1 -2v1m1 -2v1m1 -1v1m1 -2v1m1 -2v1m1 -1v1m1 -2v1m1 -1v1m1 -2v1m1 -1v1m1 -2v1m1 -1v1m1 -2v1m1 -2v1m1 -1v1m1 -2v1m1 -2v1m1 -1v1m1 -2v1m1 -1v1m1 -2v1m1 -1v1m1 -2v1m1 -1v1m1 -2v1m1 -1v1m1 -2v1m1 -1v1m1 -2v1m1 -2v1m1 -1v1m1 -2v1m1 -2v1m1 -1v1m1 -2v1m1 -1v1m1 -2v1m1 -1v1m1 -2v1m1 -1v1m1 -2v1m1 -2v1m1 -1v1m1 -2v1m1 -2v1m1 -2v1m1 -1v1m1 -2v1m1 -2v1m1 -2v1m1 -2v1m1 -2v1m1 -2v1m1 -2v1m1 -2v1m1 -2v1m1 -2v1m1 -2v1m1 -2v1m1 -2v1m1 -2v1m1 -3v2m1 -3v1m1 -2v1m1 -2v1m1 -2v1m1 -1v1m1 -2v1m1 -2v1m1 -2v1m1 -2v1m1 -2v1m1 -2v1m1 -2v1m1 -2v1m1 -2v1m1 -2v1m1 -1v1m1 -2v1m1 -1v1m1 -2v1m1 -2v1m1 -1v1m1 -2v1m1 -2v1m1 -2v1m1 -1v1m1 -2v1m1 -1v1m1 -2v1m1 -1v1m1 -1v1m1 -2v1m1 -1v1m1 -2v1m1 -1v1m1 -2v1m1 -1v1m1 -2v1m1 -1v1m1 -1v1m1 -2v1m1 -1v1m1 -1v1m1 -1v1m1 -2v1m1 -1v1m1 -1v1m1 -2v1m1 -2v1m1 -1v1m1 -2v1m1 -2v1m1 -2v1m1 -1v1m1 -2v1m1 -2v1m1 -2v1m1 -1v1m1 -2v1m1 -2v1m1 -2v1m1 -2v1m1 -2v1m1 -2v1m1 -2v1m1 -1v1m1 -2v1m1 -2v1m1 -2v1m1 -1v1m1 -2v1m1 -2v1m1 -2v1m1 -1v1m1 -2v1m1 -2v1m1 -1v1m1 -2v1m1 -1v1m1 -2v1m1 -2v1m1 -1v1m1 -2v1m1 -2v1m1 -1v1m1 -2v1m1 -1v1m1 -2v1m1 -1v1m1 -2v1m1 -1v1m1 -1v1m1 -2v1m1 -1v1m1 -1v1m1 -2v1m1 -1v1m1 -2v1m1 -1v1m1 -2v1m1 -1v1m1 -2v1m1 -1v1m1 -2v1m1 -1v1m1 -2v1m1 -1v1m1 -2v1m1 -2v1m1 -2v1m1 -2v1m1 -2v1m1 -2v1m1 -2v1m1 -2v1m1 -2v1m1 -2v1m1 -2v1m1 -2v1m1 -2v1m1 -2v1m1 -2v1m1 -2v1m1 -2v1m1 -2v1m1 -2v1m1 -2v1m1 -2v1m1 -1v1m1 -2v1m1 -1v1m1 -2v1m1 -1v1m1 -2v1m1 -1v1m1 -1v1m1 -2v1m1 -1v1m1 -1v1m1 -1v1m1 -2v1m1 -1v1m1 -1v1m1 -2v1m1 -1v1m1 -2v1m1 -1v1m1 -2v1m1 -1v1m1 -2v1m1 -1v1m1 -2v1m1 -1v1m1 -2v1m1 -1v1m1 -2v1m1 -1v1m1 -2v1m1 -1v1m1 -2v1m1 -1v1m1 -2v1m1 -1v1m1 -2v1m1 -2v1m1 -1v1m1 -2v1m1 -2v1m1 -1v1m1 -2v1m1 -1v1m1 -2v1m1 -1v1m1 -2v1m1 -1v1m1 -2v1m1 -2v1m1 -1v1m1 -2v1m1 -2v1m1 -2v1m1 -2v1m1 -2v1m1 -2v1m1 -2v1m1 -2v1m1 -2v1m1 -2v1m1 -2v1m1 -2v1m1 -2v1m1 -2v1m1 -2v1m1 -2v1m1 -2v1m1 -2v1m1 -2v1m1 -1v1m1 -2v1m1 -2v1m1 -1v1m1 -2v1m1 -1v1m1 -1v1m1 -2v1m1 -1v1m1 -1v1m1 -1v1m1 -2v1m1 -1v1m1 -1v1m1 -1v1m1 -2v1m1 -1v1m1 -1v1m1 -1v1m1 -1v1m1 -1v1m1 -1v1m1 -1v1m1 0v1m1 -1v1m1 -1v1m1 -1v1m1 -2v1m1 -1v1m1 -1v1m1 -1v1m1 -2v1m1 -1v1m1 -1v1m1 -1v1m1 -2v1m1 -1v1m1 -1v1m1 -1v1m1 -2v1m1 -1v1m1 -1v1m1 -2v1m1 -1v1m1 -2v1m1 -1v1m1 -1v1m1 -2v1m1 -1v1m1 -1v1m1 -2v1m1 -1v1m1 -2v1m1 -1v1m1 -2v1m1 -1v1m1 -2v1m1 -1v1m1 -2v1m1 -1v1m1 -2v1m1 -1v1m1 -2v1m1 -2v1m1 -1v1m1 -2v1m1 -2v1m1 -1v1m1 -2v1m1 -1v1m1 -1v1m1 -1v1m1 -1v1m1 -1v1m1 -1v1m1 -1v1m1 -1v1m1 -1v1m1 -1v1m1 -1v1m1 -1v1m1 -1v1m1 -1v1m1 -2v1m1 -1v1m1 -1v1m1 -1v1m1 -2v1m1 -1v1m1 -1v1m1 -1v1m1 -2v1m1 -1v1m1 -1v1m1 -1v1m1 -1v1m1 -1v1m1 -1v1m1 -1v1m1 -1v1m1 -1v1m1 -1v1m1 -1v1m1 -1v1m1 -1v1m1 -1v1m1 -1v1m1 0v1m1 -1v1m1 -1v1m1 -1v1m1 -1v1m1 -1v1m1 -1v1m1 -1v1m1 -2v1m1 -1v1m1 -1v1m1 -1v1m1 -1v1m1 -1v1m1 -1v1m1 -1v1m1 -1v1m1 -1v1m1 -1v1m1 -1v1m1 -2v1m1 -1v1m1 -1v1m1 -2v1m1 -1v1m1 -2v1m1 -1v1m1 -1v1m1 -2v1m1 -1v1m1 -1v1m1 -2v1m1 -1v1m1 -2v1m1 -1v1m1 -2v1m1 -1v1m1 -2v1m1 -1v1m1 -1v1m1 -1v1m1 -1v1m1 -1v1m1 -1v1m1 0v1m1 -1v1m1 -1v1m1 -1v1m1 0v1m1 -1v1m1 -1v1m1 -1v1m1 -2v1m1 -1v1m1 -1v1m1 -1v1m1 -1v1m1 -1v1m1 -1v1m1 -1v1m1 -2v1m1 -1v1m1 -1v1m1 -1v1m1 -2v1m1 -1v1m1 -1v1m1 -2v1m1 -1v1m1 -2v1m1 -1v1m1 -2v1m1 -1v1m1 -2v1m1 -1v1m1 -2v1m1 -1v1m1 -2v1m1 -1v1m1 -1v1m1 -2v1m1 -1v1m1 -1v1m1 -1v1m1 -1v1m1 -1v1m1 -1v1m1 -1v1m1 -1v1m1 -1v1m1 -1v1m1 -1v1m1 0v1m1 -1v1m1 -1v1m1 -1v1m1 -2v1m1 -1v1m1 -1v1m1 -1v1m1 -2v1m1 -1v1m1 -1v1m1 -2v1m1 -1v1m1 -2v1m1 -1v1m1 -1v1m1 -1v1m1 -1v1m1 -1v1m1 -1v1m1 -2v1m1 -1v1m1 -1v1m1 -1v1m1 -2v1m1 -1v1m1 -1v1m1 -2v1m1 -1v1m1 -2v1m1 -1v1m1 -2v1m1 -2v1m1 -2v1m1 -2v1m1 -2v1m1 -1v1m1 -2v1m1 -1v1m1 -2v1m1 -1v1m1 -2v1m1 -1v1m1 -2v1m1 -1v1m1 -2v1m1 -1v1m1 -1v1m1 -2v1m1 -1v1m1 -1v1m1 -1v1m1 -2v1m1 -1v1m1 -1v1m1 -1v1m1 0v1m1 -1v1m1 -1v1m1 0v1m1 -1v1m1 0v1m1 -1v1m1 0v1m1 -1v1m1 0v1m1 -1v1m1 0v1m1 0v1m1 -1v1m1 0v1m1 0v2m1 0v1m1 0v2m1 0v1m1 0v2m1 0v2m1 0v2m1 0v2m1 0v1m1 0v2m1 0v1m1 0v1m1 0v1m1 0v1m1 0v1m1 0v1m1 0v1m1 -1v1m1 0v1m1 -1v1m1 0v1m1 -1v1m1 0v1m1 -1v1m1 0v1m1 -1v1m1 0v1m1 -1v1m1 -1v1m1 -1v1m1 -1v1m1 -1v1m1 -1v1m1 -1v1m1 -1v1m1 -1v1m1 -1v1m1 0v1m1 -1v1m1 -1v1m1 0v1m1 -1v1m1 0v1m1 -1v1m1 -1v1m1 0v1m1 -1v1m1 -1v1m1 0v1m1 -1v1m1 0v1m1 -1v1m1 0v1m1 -1v1m1 0v1m1 -1v1m1 0v1m1 -1v1m1 0v1m1 -1v1m1 0v1m1 -1v1m1 0v1m1 -1v1m1 -1v1m1 0v1m1 -1v1m1 -1v1m1 -1v1m1 0v1m1 -1v1m1 -1v1m1 -1v1m1 -2v1m1 -1v1m1 -1v1m1 -1v1m1 -1v1m1 -1v1m1 -1v1m1 0v1m1 -1v1m1 0v1m1 -1v1m1 0v1m1 -1v1m1 0v1m1 -1v1m1 0v1m1 -1v1m1 0v1m1 -1v1m1 0v1m1 -1v1m1 0v1m1 -1v1m1 -1v1m1 0v1m1 -1v1m1 -1v1m1 -1v1m1 -1v1m1 -1v1m1 -1v1m1 -1v1m1 0v1m1 -1v1m1 -1v1m1 -1v1m1 0v1m1 -1v1m1 -1v1m1 -1v1m1 -1v1m1 -1v1m1 -1v1m1 -1v1m1 -1v1m1 -1v1m1 -1v1m1 -1v1m1 0v1m1 -1v1m1 -1v1m1 -1v1m1 -1v1m1 -1v1m1 -1v1m1 0v1m1 -1v1m1 0v1m1 -1v1m1 0v1m1 -1v1m1 0v1m1 -1v1m1 0v1m1 -1v1m1 0v1m1 -1v1m1 0v1m1 -1v1m1 0v1m1 -1v1m1 0v1m1 0v1m1 0v1m1 0v1m1 0v1m1 -1v1m1 0v1m1 -1v1m1 0v1m1 0v1m1 0v1m1 0v1m1 0v1m1 0v1m1 0v1m1 0v1m1 0v1m1 0v1m1 -1v1m1 0v1m1 0v1m1 -1v1m1 0v1m1 -1v1m1 -1v1m1 0v1m1 -1v1m1 -1v1m1 -1v1m1 0v1m1 -1v1m1 -1v1m1 -1v1m1 -1v1m1 -1v1m1 -1v1m1 -1v1m1 -1v1m1 -1v1m1 -1v1m1 -1v1m1 0v1m1 -1v1m1 -1v1m1 -1v1m1 0v1m1 -1v1m1 -1v1m1 -1v1m1 0v1m1 -1v1m1 -1v1m1 0v1m1 0v1m1 -1v1m1 0v1m1 0v1m1 0v1m1 -1v1m1 0v1m1 0v1m1 0v1m1 0v1m1 0v1" fill="none" stroke="#ff0000" stroke-width="1"/>
<path d="M3.5 455v1m1 -1v1m1 0v1m1 -1v1m1 -1v1m1 0v1m1 0v1m1 -1v1m1 0v1m1 -1v1m1 0v1m1 -1v1m1 -1v1m1 0v1m1 -1v1m1 0v1m1 -1v1m1 0v1m1 -1v1m1 0v1m1 -1v1m1 0v1m1 0v1m1 -1v1m1 0v1m1 0v1m1 0v1m1 -1v1m1 0v1m1 0v1m1 0v1m1 0v1m1 0v1m1 0v1m1 0v1m1 -1v1m1 0v1m1 -1v1m1 0v1m1 -1v1m1 -1v1m1 0v1m1 0v1m1 -1v1m1 0v1m1 0v1m1 -1v1m1 0v1m1 -1v1m1 0v1m1 0v1m1 0v1m1 0v1m1 0v1m1 -1v1m1 0v1m1 -1v1m1 -1v1m1 0v1m1 -1v1m1 -1v1m1 -1v1m1 0v1m1 -1v1m1 -1v1m1 -1v1m1 0v1m1 -1v1m1 -1v1m1 -1v1m1 0v1m1 -1v1m1 -1v1m1 -1v1m1 -1v1m1 -1v1m1 -1v1m1 -1v1m1 0v1m1 -1v1m1 -1v1m1 -1v1m1 0v1m1 -1v1m1 -1v1m1 -1v1m1 -1v1m1 -1v1m1 -1v1m1 -2v1m1 -1v1m1 -2v1m1 -1v1m1 -1v1m1 -1v1m1 -1v1m1 -1v1m1 -1v1m1 -1v1m1 -1v1m1 -1v1m1 -1v1m1 -1v1m1 -1v1m1 -1v1m1 -1v1m1 -1v1m1 -1v1m1 -1v1m1 -1v1m1 -1v1m1 -1v1m1 -1v1m1 -1v1m1 -1v1m1 -1v1m1 -1v1m1 -2v1m1 -1v1m1 -2v1m1 -1v1m1 -1v1m1 -2v1m1 -1v1m1 -1v1m1 -2v1m1 -1v1m1 -2v1m1 -1v1m1 -2v1m1 -2v1m1 -1v1m1 -2v1m1 -2v1m1 -3v2m1 -3v1m1 -2v1m1 -2v1m1 -3v2m1 -3v1m1 -2v1m1 -2v1m1 -3v2m1 -3v1m1 -2v1m1 -2v1m1 -2v1m1 -2v1m1 -2v1m1 -2v1m1 -3v2m1 -3v1m1 -2v1m1 -2v1m1 -2v1m1 -1v1m1 -2v1m1 -2v1m1 -1v1m1 -2v1m1 -1v1m1 -1v1m1 -1v1m1 -1v1m1 -1v1m1 -2v1m1 -1v1m1 -2v1m1 -1v1m1 -1v1m1 -2v1m1 -1v1m1 -1v1m1 -1v1m1 -2v1m1 -1v1m1 -1v1m1 -2v1m1 -1v1m1 -2v1m1 -1v1m1 -2v1m1 -1v1m1 -2v1m1 -1v1m1 -2v1m1 -1v1m1 -2v1m1 -1v1m1 -1v1m1 -2v1m1 -1v1m1 -1v1m1 -2v1m1 -1v1m1 -2v1m1 -1v1m1 -1v1m1 -1v1m1 -1v1m1 -1v1m1 -1v1m1 -1v1m1 -1v1m1 -1v1m1 -1v1m1 0v1m1 -1v1m1 -1v1m1 -1v1m1 -1v1m1 -1v1m1 -1v1m1 -1v1m1 -1v1m1 -1v1m1 -1v1m1 -1v1m1 0v1m1 -1v1m1 -1v1m1 -1v1m1 -1v1m1 -1v1m1 -1v1m1 -1v1m1 -1v1m1 -1v1m1 -1v1m1 -1v1m1 -2v1m1 -1v1m1 -1v1m1 -1v1m1 -2v1m1 -1v1m1 -1v1m1 -1v1m1 -2v1m1 -1v1m1 -1v1m1 -1v1m1 -2v1m1 -1v1m1 -1v1m1 -1v1m1 -2v1m1 -1v1m1 -1v1m1 -1v1m1 -2v1m1 -1v1m1 -1v1m1 -1v1m1 -1v1m1 -1v1m1 -1v1m1 -1v1m1 -1v1m1 -1v1m1 -1v1m1 -1v1m1 -1v1m1 -1v1m1 -1v1m1 0v1m1 -1v1m1 0v1m1 -1v1m1 -1v1m1 0v1m1 -1v1m1 -1v1m1 -1v1m1 -1v1m1 -1v1m1 -1v1m1 -1v1m1 -2v1m1 -1v1m1 -1v1m1 -1v1m1 -2v1m1 -1v1m1 -1v1m1 -2v1m1 -2v1m1 -2v1m1 -2v1m1 -2v1m1 -2v1m1 -1v1m1 -2v1m1 -2v1m1 -2v1m1 -2v1m1 -2v1m1 -2v1m1 -3v2m1 -3v1m1 -2v1m1 -2v1m1 -2v1m1 -2v1m1 -2v1m1 -2v1m1 -2v1m1 -2v1m1 -2v1m1 -2v1m1 -1v1m1 -2v1m1 -1v1m1 -2v1m1 -2v1m1 -1v1m1 -2v1m1 -2v1m1 -1v1m1 -2v1m1 -1v1m1 -1v1m1 -2v1m1 -1v1m1 -1v1m1 -1v1m1 -2v1m1 -1v1m1 -1v1m1 -1v1m1 -2v1m1 -1v1m1 -1v1m1 -2v1m1 -1v1m1 -2v1m1 -1v1m1 -2v1m1 -1v1m1 -2v1m1 -1v1m1 -2v1m1 -2v1m1 -1v1m1 -2v1m1 -2v1m1 -1v1m1 -2v1m1 -1v1m1 -2v1m1 -1v1m1 -2v1m1 -1v1m1 -1v1m1 -2v1m1 -1v1m1 -1v1m1 -2v1m1 -2v1m1 -1v1m1 -2v1m1 -2v1m1 -2v1m1 -1v1m1 -2v1m1 -2v1m1 -2v1m1 -2v1m1 -2v1m1 -2v1m1 -1v1m1 -2v1m1 -1v1m1 -2v1m1 -1v1m1 -2v1m1 -1v1m1 -2v1m1 -2v1m1 -1v1m1 -2v1m1 -1v1m1 -1v1m1 -1v1m1 -1v1m1 -1v1m1 -2v1m1 -1v1m1 -1v1m1 -1v1m1 0v1m1 -1v1m1 -1v1m1 -1v1m1 -1v1m1 -1v1m1 -1v1m1 -1v1m1 -1v1m1 -1v1m1 -1v1m1 -1v1m1 -1v1m1 -1v1m1 -1v1m1 -1v1m1 0v1m1 -1v1m1 -1v1m1 -1v1m1 0v1m1 -1v1m1 -1v1m1 -1v1m1 0v1m1 -1v1m1 -1v1m1 -1v1m1 0v1m1 -1v1m1 -1v1m1 0v1m1 -1v1m1 0v1m1 -1v1m1 0v1m1 0v1m1 -1v1m1 0v1m1 -1v1m1 0v1m1 -1v1m1 -1v1m1 -1v1m1 0v1m1 -1v1m1 -1v1m1 -1v1m1 0v1m1 -1v1m1 -1v1m1 -1v1m1 0v1m1 -1v1m1 -1v1m1 -1v1m1 -2v1m1 -1v1m1 -1v1m1 -1v1m1 -2v1m1 -1v1m1 -1v1m1 -2v1m1 -2v1m1 -1v1m1 -2v1m1 -2v1m1 -2v1m1 -1v1m1 -2v1m1 -2v1m1 -1v1m1 -2v1m1 -1v1m1 -2v1m1 -2v1m1 -2v1m1 -2v1m1 -2v1m1 -2v1m1 -2v1m1 -2v1m1 -2v1m1 -2v1m1 -1v1m1 -2v1m1 -2v1m1 -2v1m1 -1v1m1 -2v1m1 -2v1m1 -2v1m1 -2v1m1 -2v1m1 -2v1m1 -2v1m1 -1v1m1 -2v1m1 -2v1m1 -2v1m1 -2v1m1 -2v1m1 -2v1m1 -3v2m1 -3v1m1 -2v1m1 -2v1m1 -3v2m1 -3v1m1 -2v1m1 -3v2m1 -3v1m1 -3v2m1 -3v1m1 -3v2m1 -3v1m1 -3v2m1 -3v1m1 -3v2m1 -4v2m1 -4v2m1 -4v2m1 -4v2m1 -4v2m1 -4v2m1 -4v2m1 -4v2m1 -3v1m1 -3v2m1 -3v1m1 -3v2m1 -4v2m1 -4v2m1 -3v1m1 -3v2m1 -3v1m1 -3v2m1 -3v1m1 -3v2m1 -4v2m1 -4v2m1 -3v1m1 -3v2m1 -4v2m1 -4v2m1 -4v2m1 -4v2m1 -4v2m1 -4v2m1 -4v2m1 -4v2m1 -4v2m1 -4v2m1 -4v2m1 -4v2m1 -3v1m1 -3v2m1 -3v1m1 -3v2m1 -3v1m1 -3v2m1 -3v1m1 -3v2m1 -4v2m1 -4v2m1 -3v1m1 -3v2m1 -4v2m1 -4v2m1 -3v1m1 -3v2m1 -4v2m1 -4v2m1 -3v1m1 -3v2m1 -4v2m1 -4v2m1 -3v1m1 -3v2m1 -3v1m1 -3v2m1 -3v1m1 -2v1m1 -3v2m1 -3v1m1 -2v1m1 -2v1m1 -3v2m1 -3v1m1 -2v1m1 -2v1m1 -3v2m1 -3v1m1 -2v1m1 -3v2m1 -3v1m1 -3v2m1 -3v1m1 -2v1m1 -3v2m1 -3v1m1 -2v1m1 -2v1m1 -2v1m1 -2v1m1 -2v1m1 -2v1m1 -2v1m1 -2v1m1 -2v1m1 -2v1m1 -1v1m1 -2v1m1 -1v1m1 -2v1m1 -2v1m1 -1v1m1 -2v1m1 -2v1m1 -2v1m1 -1v1m1 -2v1m1 -2v1m1 -1v1m1 -2v1m1 -1v1m1 -2v1m1 -1v1m1 -2v1m1 -1v1m1 -2v1m1 -2v1m1 -1v1m1 -2v1m1 -2v1m1 -2v1m1 -1v1m1 -2v1m1 -2v1m1 -2v1m1 -1v1m1 -2v1m1 -2v1m1 -2v1m1 -1v1m1 -2v1m1 -1v1m1 -2v1m1 -1v1m1 -1v1m1 -1v1m1 -2v1m1 -1v1m1 -1v1m1 -1v1m1 -1v1m1 -1v1m1 -1v1m1 -2v1m1 -1v1m1 -2v1m1 -1v1m1 -1v1m1 -1v1m1 -1v1m1 -1v1m1 -1v1m1 -1v1m1 -1v1m1 -1v1m1 0v1m1 -1v1m1 0v1m1 -1v1m1 0v1m1 -1v1m1 0v1m1 -1v1m1 0v1m1 -1v1m1 0v1m1 -1v1m1 -1v1m1 -1v1m1 -1v1m1 -1v1m1 -1v1m1 0v1m1 -1v1m1 -1v1m1 -1v1m1 -1v1m1 -1v1m1 -1v1m1 -1v1m1 -2v1m1 -1v1m1 -1v1m1 -1v1m1 -2v1m1 -1v1m1 -1v1m1 -1v1m1 -2v1m1 -1v1m1 -1v1m1 -1v1m1 -2v1m1 -1v1m1 -1v1m1 -2v1m1 -1v1m1 -2v1m1 -1v1m1 -1v1m1 -1v1m1 -1v1m1 -1v1m1 0v1m1 0v1m1 -1v1m1 0v1m1 0v1m1 0v1m1 -1v1m1 0v1m1 0v1m1 0v1m1 -1v1m1 0v1m1 0v1m1 0v1m1 -1v1m1 0v1m1 0v1m1 0v1m1 0v1m1 0v1m1 0v1m1 -1v1m1 0v1m1 -1v1m1 0v1m1 0v1m1 0v1m1 0v1m1 0v1m1 0v1m1 0v1m1 0v1m1 0v1m1 0v2m1 0v1m1 0v1m1 0v1m1 0v2m1 0v1m1 0v1m1 0v1m1 0v1m1 0v1m1 0v1m1 0v2m1 0v1m1 0v2m1 0v1m1 0v1m1 0v2m1 0v1m1 0v1m1 0v1m1 0v2m1 0v1m1 0v1m1 0v2m1 0v1m1 0v2m1 0v1m1 0v2m1 0v1m1 0v2m1 0v1m1 0v1m1 0v2m1 0v1m1 0v1m1 0v1m1 0v1m1 0v1m1 0v1m1 0v1m1 0v1m1 0v1m1 0v1m1 0v1m1 0v1m1 0v1m1 0v1m1 0v1m1 0v1m1 0v1m1 0v1m1 0v1m1 0v1m1 0v1m1 0v1m1 0v1m1 0v1m1 -1v1m1 0v1m1 0v1m1 0v1m1 0v1m1 0v1m1 0v1m1 0v1m1 0v1m1 0v1m1 0v1m1 0v1m1 -1v1m1 0v1m1 0v1m1 0v1m1 -1v1m1 0v1m1 -1v1m1 -1v1m1 -1v1m1 -1v1m1 -1v1m1 0v1m1 -1v1m1 -1v1m1 -1v1m1 0v1m1 -1v1m1 -1v1m1 0v1m1 -1v1m1 0v1m1 -1v1m1 0v1m1 -1v1m1 0v1m1 -1v1m1 0v1m1 -1v1m1 0v1m1 -1v1m1 0v1m1 -1v1m1 0v1m1 -1v1m1 0v1m1 -1v1m1 0v1m1 -1v1m1 0v1m1 0v1m1 -1v1m1 0v1m1 0v1m1 0v1m1 -1v1m1 0v1m1 0v1m1 0v2m1 0v1m1 0v1m1 0v1m1 0v1m1 -1v1m1 0v1m1 0v1m1 0v1m1 0v1m1 0v1m1 0v1m1 0v1m1 0v1m1 0v1m1 0v1m1 -1v1m1 0v1m1 -1v1m1 0v1m1 -1v1m1 0v1m1 -1v1m1 0v1m1 -1v1m1 0v1m1 -1v1m1 0v1m1 0v1m1 -1v1m1 0v1m1 0v1m1 0v1m1 -1v1m1 0v1m1 0v1m1 0v1m1 0v1m1 0v1m1 0v1m1 0v1m1 0v1m1 0v1m1 0v1m1 0v1m1 0v1m1 0v1m1 0v1m1 0v1m1 0v1m1 0v1m1 0v1m1 0v1m1 -1v1m1 0v1m1 0v1m1 -1v1m1 0v1m1 -1v1m1 0v1m1 -1v1m1 0v1m1 -1v1m1 0v1m1 -1v1m1 0v1m1 -1v1m1 -1v1m1 -1v1m1 -1v1m1 -1v1m1 -1v1m1 -1v1m1 -1v1m1 -1v1m1 -1v1m1 0v1m1 -1v1m1 -1v1m1 -1v1m1 0v1m1 -1v1m1 -1v1m1 -1v1m1 -1v1m1 -1v1m1 -1v1m1 -1v1m1 0v1m1 -1v1m1 -1v1m1 -1v1m1 0v1m1 -1v1m1 -1v1m1 -1v1m1 0v1m1 -1v1m1 -1v1m1 -1v1m1 0v1m1 -1v1m1 -1v1m1 -1v1m1 0v1m1 -1v1m1 -1v1m1 -1v1m1 -1v1m1 -1v1m1 -1v1m1 -1v1m1 -1v1m1 -1v1m1 -1v1m1 -1v1m1 -1v1m1 -1v1m1 -1v1m1 -1v1m1 -1v1m1 -1v1m1 -1v1m1 -1v1m1 -2v1m1 -1v1m1 -1v1m1 -1v1m1 0v1m1 -1v1m1 -1v1m1 -1v1m1 0v1m1 -1v1m1 -1v1m1 -1v1m1 -1v1m1 -1v1m1 -1v1m1 -1v1m1 0v1m1 -1v1m1 -1v1m1 -1v1m1 -1v1m1 -1v1m1 -1v1m1 -1v1m1 -2v1m1 -1v1m1 -1v1m1 -2v1m1 -1v1m1 -2v1m1 -1v1m1 -1v1m1 -1v1m1 -1v1m1 -1v1m1 -1v1m1 -1v1m1 -1v1m1 -1v1m1 -1v1m1 -2v1m1 -1v1m1 -1v1m1 -2v1m1 -2v1m1 -1v1m1 -2v1m1 -2v1m1 -1v1m1 -2v1m1 -1v1m1 -2v1m1 -1v1m1 -2v1m1 -1v1m1 -2v1m1 -1v1m1 -2v1m1 -1v1m1 -2v1m1 -1v1m1 -2v1m1 -1v1m1 -1v1m1 -2v1m1 -1v1m1 -1v1m1 -2v1m1 -1v1m1 -2v1m1 -1v1m1 -2v1m1 -2v1m1 -1v1m1 -2v1m1 -2v1m1 -1v1m1 -2v1m1 -1v1m1 -2v1m1 -1v1m1 -2v1m1 -1v1m1 -2v1m1 -1v1m1 -2v1m1 -1v1m1 -2v1m1 -2v1m1 -1v1m1 -2v1m1 -2v1m1 -2v1m1 -2v1m1 -2v1m1 -2v1m1 -2v1m1 -1v1m1 -2v1m1 -2v1m1 -2v1m1 -2v1m1 -2v1m1 -2v1m1 -2v1m1 -2v1m1 -2v1m1 -2v1m1 -2v1m1 -2v1m1 -2v1m1 -2v1m1 -2v1m1 -1v1m1 -2v1m1 -2v1m1 -2v1m1 -2v1m1 -2v1m1 -2v1m1 -1v1m1 -2v1m1 -1v1m1 -2v1m1 -1v1m1 -2v1m1 -1v1m1 -2v1m1 -2v1m1 -1v1m1 -2v1m1 -2v1m1 -1v1m1 -2v1m1 -1v1m1 -2v1m1 -1v1m1 -2v1m1 -1v1m1 -1v1m1 -2v1m1 -1v1m1 -1v1m1 -1v1m1 -2v1m1 -1v1m1 -1v1m1 -2v1m1 -1v1m1 -2v1m1 -1v1m1 -2v1m1 -1v1m1 -2v1m1 -1v1m1 -2v1m1 -2v1m1 -1v1m1 -2v1m1 -2v1m1 -2v1m1 -1v1m1 -2v1m1 -2v1m1 -2v1m1 -1v1m1 -2v1m1 -2v1m1 -2v1m1 -1v1m1 -2v1m1 -2v1m1 -2v1m1 -1v1m1 -2v1m1 -2v1m1 -2v1m1 -1v1m1 -2v1m1 -2v1m1 -2v1m1 -1v1m1 -2v1m1 -2v1m1 -1v1m1 -2v1m1 -1v1m1 -2v1m1 -1v1m1 -2v1m1 -1v1m1 -2v1m1 -1v1m1 -2v1m1 -1v1m1 -2v1m1 -1v1m1 -2v1m1 -1v1m1 -1v1m1 -2v1m1 -1v1m1 -1v1m1 -2v1m1 -1v1m1 -2v1m1 -1v1m1 -2v1m1 -2v1m1 -1v1m1 -2v1m1 -2v1m1 -2v1m1 -1v1m1 -2v1m1 -2v1m1 -2v1m1 -1v1m1 -2v1m1 -2v1m1 -3v2m1 -3v1m1 -2v1m1 -2v1m1 -2v1m1 -2v1m1 -2v1m1 -2v1m1 -2v1m1 -1v1m1 -2v1m1 -2v1m1 -1v1m1 -2v1m1 -1v1m1 -2v1m1 -1v1m1 -2v1m1 -1v1m1 -1v1m1 -2v1m1 -1v1m1 -1v1m1 -2v1m1 -1v1m1 -2v1m1 -1v1m1 -1v1m1 -2v1m1 -1v1m1 -1v1m1 -2v1m1 -1v1m1 -2v1m1 -1v1m1 -2v1m1 -1v1m1 -2v1m1 -1v1m1 -2v1m1 -1v1m1 -2v1m1 -1v1m1 -2v1m1 -2v1m1 -1v1m1 -2v1m1 -2v1m1 -1v1m1 -2v1m1 -1v1m1 -2v1m1 -2v1m1 -1v1m1 -2v1m1 -2v1m1 -1v1m1 -2v1m1 -1v1m1 -2v1m1 -2v1m1 -1v1m1 -2v1m1 -2v1m1 -2v1m1 -2v1m1 -2v1m1 -2v1m1 -2v1m1 -1v1m1 -2v1m1 -2v1m1 -2v1m1 -2v1m1 -2v1m1 -2v1m1 -2v1m1 -1v1m1 -2v1m1 -2v1m1 -2v1m1 -2v1m1 -2v1m1 -2v1m1 -1v1m1 -2v1m1 -1v1m1 -1v1m1 -2v1m1 -1v1m1 -1v1m1 -2v1m1 -1v1m1 -2v1m1 -1v1m1 -1v1m1 -1v1m1 -1v1m1 -1v1m1 -1v1m1 -1v1m1 -1v1m1 -1v1m1 -1v1m1 -1v1m1 -1v1m1 -1v1m1 -1v1m1 -2v1m1 -1v1m1 -1v1m1 -1v1m1 -2v1m1 -1v1m1 -1v1m1 -1v1m1 -2v1m1 -1v1m1 -1v1m1 -2v1m1 -1v1m1 -2v1m1 -1v1m1 -1v1m1 -2v1m1 -1v1m1 -1v1m1 -2v1m1 -1v1m1 -2v1m1 -1v1m1 -1v1m1 -2v1m1 -1v1m1 -1v1m1 -2v1m1 -1v1m1 -2v1m1 -1v1m1 -2v1m1 -1v1m1 -2v1m1 -1v1m1 -2v1m1 -2v1m1 -1v1m1 -2v1m1 -2v1m1 -1v1m1 -2v1m1 -1v1m1 -1v1m1 -1v1m1 -1v1m1 -1v1m1 -1v1m1 -1v1m1 -1v1m1 -1v1m1 -1v1m1 -2v1m1 -1v1m1 -1v1m1 -1v1m1 -2v1m1 -1v1m1 -1v1m1 -1v1m1 -2v1m1 -1v1m1 -1v1m1 -1v1m1 -2v1m1 -1v1m1 -1v1m1 -1v1m1 -1v1m1 -1v1m1 -1v1m1 -1v1m1 -1v1m1 -1v1m1 -1v1m1 -1v1m1 -2v1m1 -1v1m1 -1v1m1 -1v1m1 0v1m1 -1v1m1 -1v1m1 -1v1m1 -1v1m1 -1v1m1 -1v1m1 -1v1m1 -1v1m1 -1v1m1 -1v1m1 -1v1m1 -2v1m1 -1v1m1 -1v1m1 -1v1m1 -1v1m1 -1v1m1 -1v1m1 -1v1m1 -2v1m1 -1v1m1 -1v1m1 -2v1m1 -1v1m1 -2v1m1 -1v1m1 -1v1m1 -2v1m1 -1v1m1 -1v1m1 -2v1m1 -1v1m1 -2v1m1 -1v1m1 -1v1m1 -2v1m1 -1v1m1 -1v1m1 -1v1m1 -2v1m1 -1v1m1 -1v1m1 -1v1m1 0v1m1 -1v1m1 -1v1m1 -1v1m1 0v1m1 -1v1m1 -1v1m1 -1v1m1 -2v1m1 -1v1m1 -1v1m1 -1v1m1 -2v1m1 -1v1m1 -1v1m1 -1v1m1 -1v1m1 -1v1m1 -1v1m1 -1v1m1 -2v1m1 -1v1m1 -1v1m1 -2v1m1 -1v1m1 -2v1m1 -1v1m1 -2v1m1 -2v1m1 -1v1m1 -2v1m1 -1v1m1 -2v1m1 -1v1m1 -1v1m1 -1v1m1 -2v1m1 -1v1m1 -1v1m1 -1v1m1 -1v1m1 -1v1m1 -1v1m1 -1v1m1 -1v1m1 -1v1m1 -1v1m1 -1v1m1 -1v1m1 -1v1m1 -1v1m1 -1v1m1 -2v1m1 -1v1m1 -1v1m1 -1v1m1 -1v1m1 -1v1m1 -1v1m1 -2v1m1 -1v1m1 -2v1m1 -1v1m1 -1v1m1 -2v1m1 -1v1m1 -1v1m1 -1v1m1 -1v1m1 -1v1m1 -1v1m1 -1v1m1 -2v1m1 -1v1m1 -1v1m1 -2v1m1 -1v1m1 -2v1m1 -1v1m1 -2v1m1 -2v1m1 -2v1m1 -2v1m1 -2v1m1 -1v1m1 -2v1m1 -1v1m1 -2v1m1 -1v1m1 -2v1m1 -1v1m1 -2v1m1 -1v1m1 -2v1m1 -1v1m1 -1v1m1 -2v1m1 -1v1m1 -1v1m1 -1v1m1 -2v1m1 -1v1m1 -1v1m1 -1v1m1 0v1m1 -1v1m1 -1v1m1 -1v1m1 0v1m1 -1v1m1 -1v1m1 0v1m1 -1v1m1 0v1m1 -1v1m1 0v1m1 0v1m1 -1v1m1 0v1m1 0v1m1 0v2m1 0v1m1 0v1m1 0v2m1 0v2m1 0v2m1 0v1m1 0v1m1 0v2m1 0v1m1 0v1m1 0v1m1 0v1m1 0v1m1 0v1m1 0v1m1 -1v1m1 0v1m1 -1v1m1 -1v1m1 0v1m1 -1v1m1 -1v1m1 0v1m1 -1v1m1 0v1m1 -1v1m1 -1v1m1 -1v1m1 -1v1m1 -1v1m1 -1v1m1 -1v1m1 -1v1m1 -1v1m1 -1v1m1 0v1m1 -1v1m1 -1v1m1 0v1m1 -1v1m1 0v1m1 -1v1m1 -1v1m1 0v1m1 -1v1m1 -1v1m1 0v1m1 -1v1m1 0v1m1 -1v1m1 -1v1m1 0v1m1 -1v1m1 -1v1m1 0v1m1 -1v1m1 0v1m1 -1v1m1 0v1m1 -1v1m1 0v1m1 -1v1m1 -1v1m1 0v1m1 -1v1m1 -1v1m1 -1v1m1 0v1m1 -1v1m1 -1v1m1 -1v1m1 -1v1m1 -1v1m1 -1v1m1 -1v1m1 -1v1m1 -1v1m1 -1v1m1 -1v1m1 0v1m1 -1v1m1 -1v1m1 0v1m1 -1v1m1 0v1m1 -1v1m1 0v1m1 -1v1m1 0v1m1 -1v1m1 0v1m1 -1v1m1 0v1m1 -1v1m1 -1v1m1 0v1m1 -1v1m1 -1v1m1 -1v1m1 -1v1m1 -1v1m1 -1v1m1 -1v1m1 0v1m1 -1v1m1 -1v1m1 -1v1m1 0v1m1 -1v1m1 -1v1m1 -1v1m1 -1v1m1 -1v1m1 -1v1m1 -1v1m1 -1v1m1 -1v1m1 -1v1m1 -1v1m1 0v1m1 -1v1m1 -1v1m1 -1v1m1 -1v1m1 -1v1m1 -1v1m1 0v1m1 -1v1m1 0v1m1 -1v1m1 0v1m1 -1v1m1 0v1m1 -1v1m1 0v1m1 -1v1m1 0v1m1 -1v1m1 0v1m1 -1v1m1 0v1m1 -1v1m1 0v1m1 0v1m1 -1v1m1 0v1m1 0v1m1 -1v1m1 0v1m1 -1v1m1 0v1m1 0v1m1 0v1m1 0v1m1 0v1m1 0v1m1 0v1m1 0v1m1 0v1m1 -1v1m1 0v1m1 -1v1m1 0v1m1 -1v1m1 0v1m1 -1v1m1 0v1m1 -1v1m1 0v1m1 -1v1m1 -1v1m1 0v1m1 -1v1m1 -1v1m1 -1v1m1 -1v1m1 -1v1m1 -1v1m1 -1v1m1 -1v1m1 -1v1m1 -1v1m1 -1v1m1 0v1m1 -1v1m1 -1v1m1 -1v1m1 0v1m1 -1v1m1 -1v1m1 -1v1m1 0v1m1 -1v1m1 -1v1m1 0v1m1 0v1m1 -1v1m1 0v1m1 0v1m1 0v1m1 -1v1m1 0v1m1 0v1m1 0v1m1 0v1m1 0v1" fill="none" stroke="#ff0000" stroke-width="1"/>
<path d="M3.5 450v1m1 -1v1m1 0v1m1 -1v1m1 -1v1m1 0v1m1 -1v1m1 0v1m1 -1v1m1 0v1m1 -1v1m1 0v1m1 -1v1m1 0v1m1 -1v1m1 0v1m1 -1v1m1 0v1m1 -1v1m1 0v1m1 -1v1m1 0v1m1 -1v1m1 0v1m1 -1v1m1 0v1m1 0v1m1 -1v1m1 0v1m1 0v1m1 0v1m1 -1v1m1 0v1m1 0v1m1 0v1m1 -1v1m1 0v1m1 -1v1m1 0v1m1 -1v1m1 -1v1m1 0v1m1 0v1m1 -1v1m1 0v1m1 0v1m1 -1v1m1 0v1m1 -1v1m1 0v1m1 0v1m1 -1v1m1 0v1m1 0v1m1 -1v1m1 0v1m1 -1v1m1 -1v1m1 0v1m1 -1v1m1 -1v1m1 0v1m1 -1v1m1 0v1m1 -1v1m1 -1v1m1 0v1m1 -1v1m1 -1v1m1 -1v1m1 0v1m1 -1v1m1 -1v1m1 -1v1m1 -1v1m1 -1v1m1 -1v1m1 -1v1m1 0v1m1 -1v1m1 -1v1m1 -1v1m1 0v1m1 -1v1m1 -1v1m1 -1v1m1 -1v1m1 -1v1m1 -1v1m1 -1v1m1 -2v1m1 -1v1m1 -1v1m1 -1v1m1 -1v1m1 -1v1m1 -1v1m1 -1v1m1 -1v1m1 -1v1m1 -1v1m1 -1v1m1 -1v1m1 -1v1m1 -1v1m1 -1v1m1 0v1m1 -1v1m1 -1v1m1 -1v1m1 -1v1m1 -1v1m1 -1v1m1 -1v1m1 -1v1m1 -1v1m1 -1v1m1 -1v1m1 -2v1m1 -1v1m1 -1v1m1 -1v1m1 -2v1m1 -1v1m1 -1v1m1 -2v1m1 -1v1m1 -2v1m1 -1v1m1 -2v1m1 -1v1m1 -2v1m1 -1v1m1 -2v1m1 -3v2m1 -3v1m1 -2v1m1 -2v1m1 -2v1m1 -2v1m1 -2v1m1 -2v1m1 -2v1m1 -2v1m1 -2v1m1 -2v1m1 -2v1m1 -1v1m1 -2v1m1 -2v1m1 -2v1m1 -2v1m1 -2v1m1 -2v1m1 -2v1m1 -1v1m1 -2v1m1 -1v1m1 -2v1m1 -1v1m1 -1v1m1 -1v1m1 -2v1m1 -1v1m1 -1v1m1 -1v1m1 -2v1m1 -1v1m1 -1v1m1 -1v1m1 -2v1m1 -1v1m1 -1v1m1 -1v1m1 -2v1m1 -1v1m1 -1v1m1 -2v1m1 -1v1m1 -2v1m1 -1v1m1 -2v1m1 -1v1m1 -2v1m1 -1v1m1 -1v1m1 -2v1m1 -1v1m1 -1v1m1 -1v1m1 -2v1m1 -1v1m1 -1v1m1 -2v1m1 -1v1m1 -2v1m1 -1v1m1 -1v1m1 -1v1m1 -1v1m1 -1v1m1 -1v1m1 -1v1m1 -1v1m1 -1v1m1 -1v1m1 0v1m1 -1v1m1 -1v1m1 -1v1m1 -1v1m1 -1v1m1 -1v1m1 -1v1m1 -1v1m1 -1v1m1 -1v1m1 -1v1m1 -1v1m1 -1v1m1 -1v1m1 -1v1m1 -1v1m1 -1v1m1 -1v1m1 -1v1m1 -1v1m1 -1v1m1 -1v1m1 -1v1m1 -2v1m1 -1v1m1 -1v1m1 -1v1m1 -1v1m1 -1v1m1 -1v1m1 -2v1m1 -1v1m1 -2v1m1 -1v1m1 -1v1m1 -2v1m1 -1v1m1 -1v1m1 -1v1m1 -1v1m1 -1v1m1 -1v1m1 -2v1m1 -1v1m1 -2v1m1 -1v1m1 -1v1m1 -1v1m1 -1v1m1 -1v1m1 -1v1m1 -1v1m1 -1v1m1 -1v1m1 -1v1m1 0v1m1 -1v1m1 -1v1m1 -1v1m1 0v1m1 -1v1m1 -1v1m1 -1v1m1 0v1m1 -1v1m1 -1v1m1 -1v1m1 -1v1m1 -1v1m1 -1v1m1 -2v1m1 -1v1m1 -2v1m1 -1v1m1 -1v1m1 -1v1m1 -1v1m1 -1v1m1 -2v1m1 -2v1m1 -1v1m1 -2v1m1 -2v1m1 -2v1m1 -1v1m1 -2v1m1 -2v1m1 -2v1m1 -2v1m1 -2v1m1 -2v1m1 -2v1m1 -1v1m1 -2v1m1 -2v1m1 -2v1m1 -2v1m1 -2v1m1 -2v1m1 -2v1m1 -2v1m1 -2v1m1 -2v1m1 -1v1m1 -2v1m1 -1v1m1 -2v1m1 -2v1m1 -1v1m1 -2v1m1 -2v1m1 -1v1m1 -2v1m1 -1v1m1 -1v1m1 -1v1m1 -1v1m1 -1v1m1 -1v1m1 -2v1m1 -1v1m1 -1v1m1 -1v1m1 -2v1m1 -1v1m1 -1v1m1 -2v1m1 -1v1m1 -2v1m1 -1v1m1 -2v1m1 -1v1m1 -2v1m1 -1v1m1 -2v1m1 -1v1m1 -2v1m1 -1v1m1 -2v1m1 -1v1m1 -2v1m1 -1v1m1 -2v1m1 -1v1m1 -2v1m1 -1v1m1 -2v1m1 -1v1m1 -2v1m1 -1v1m1 -2v1m1 -1v1m1 -2v1m1 -1v1m1 -2v1m1 -2v1m1 -1v1m1 -2v1m1 -2v1m1 -2v1m1 -1v1m1 -2v1m1 -2v1m1 -2v1m1 -1v1m1 -2v1m1 -1v1m1 -2v1m1 -1v1m1 -1v1m1 -2v1m1 -2v1m1 -1v1m1 -2v1m1 -1v1m1 -2v1m1 -1v1m1 -1v1m1 -1v1m1 -1v1m1 -1v1m1 -1v1m1 -1v1m1 -1v1m1 -1v1m1 -1v1m1 -1v1m1 -1v1m1 -1v1m1 -1v1m1 -1v1m1 -1v1m1 -1v1m1 -1v1m1 -1v1m1 -1v1m1 -1v1m1 -1v1m1 -1v1m1 -1v1m1 -1v1m1 -1v1m1 -1v1m1 0v1m1 -1v1m1 -1v1m1 -1v1m1 -1v1m1 -1v1m1 -1v1m1 -1v1m1 0v1m1 -1v1m1 -1v1m1 0v1m1 -1v1m1 0v1m1 -1v1m1 0v1m1 -1v1m1 0v1m1 -1v1m1 -1v1m1 -1v1m1 -1v1m1 -1v1m1 -1v1m1 0v1m1 -1v1m1 -1v1m1 -1v1m1 0v1m1 -1v1m1 -1v1m1 -1v1m1 0v1m1 -1v1m1 -1v1m1 -1v1m1 -2v1m1 -1v1m1 -1v1m1 -1v1m1 -2v1m1 -1v1m1 -1v1m1 -2v1m1 -1v1m1 -2v1m1 -1v1m1 -2v1m1 -2v1m1 -1v1m1 -2v1m1 -2v1m1 -1v1m1 -2v1m1 -1v1m1 -2v1m1 -2v1m1 -1v1m1 -2v1m1 -2v1m1 -2v1m1 -2v1m1 -2v1m1 -2v1m1 -2v1m1 -1v1m1 -2v1m1 -2v1m1 -2v1m1 -1v1m1 -2v1m1 -2v1m1 -2v1m1 -1v1m1 -2v1m1 -2v1m1 -2v1m1 -1v1m1 -2v1m1 -2v1m1 -2v1m1 -1v1m1 -2v1m1 -2v1m1 -3v2m1 -3v1m1 -2v1m1 -2v1m1 -2v1m1 -2v1m1 -2v1m1 -2v1m1 -3v2m1 -3v1m1 -2v1m1 -3v2m1 -3v1m1 -3v2m1 -3v1m1 -3v2m1 -3v1m1 -3v2m1 -3v1m1 -3v2m1 -4v2m1 -4v2m1 -3v1m1 -3v2m1 -3v1m1 -3v2m1 -3v1m1 -3v2m1 -3v1m1 -3v2m1 -3v1m1 -3v2m1 -3v1m1 -3v2m1 -3v1m1 -3v2m1 -3v1m1 -3v2m1 -3v1m1 -3v2m1 -4v2m1 -4v2m1 -3v1m1 -3v2m1 -4v2m1 -4v2m1 -3v1m1 -3v2m1 -4v2m1 -4v2m1 -3v1m1 -3v2m1 -3v1m1 -3v2m1 -3v1m1 -3v2m1 -3v1m1 -3v2m1 -3v1m1 -3v2m1 -3v1m1 -3v2m1 -3v1m1 -3v2m1 -4v2m1 -4v2m1 -3v1m1 -3v2m1 -3v1m1 -3v2m1 -3v1m1 -3v2m1 -3v1m1 -3v2m1 -3v1m1 -3v2m1 -3v1m1 -3v2m1 -3v1m1 -2v1m1 -3v2m1 -3v1m1 -2v1m1 -2v1m1 -3v2m1 -3v1m1 -2v1m1 -2v1m1 -3v2m1 -3v1m1 -2v1m1 -2v1m1 -3v2m1 -3v1m1 -2v1m1 -3v2m1 -3v1m1 -3v2m1 -3v1m1 -2v1m1 -2v1m1 -1v1m1 -2v1m1 -2v1m1 -2v1m1 -2v1m1 -2v1m1 -2v1m1 -2v1m1 -1v1m1 -2v1m1 -2v1m1 -2v1m1 -1v1m1 -2v1m1 -2v1m1 -2v1m1 -1v1m1 -2v1m1 -2v1m1 -2v1m1 -1v1m1 -2v1m1 -2v1m1 -1v1m1 -2v1m1 -1v1m1 -2v1m1 -2v1m1 -1v1m1 -2v1m1 -2v1m1 -2v1m1 -1v1m1 -2v1m1 -2v1m1 -2v1m1 -1v1m1 -2v1m1 -2v1m1 -2v1m1 -1v1m1 -2v1m1 -2v1m1 -1v1m1 -2v1m1 -1v1m1 -1v1m1 -2v1m1 -1v1m1 -1v1m1 -1v1m1 -2v1m1 -1v1m1 -1v1m1 -2v1m1 -1v1m1 -2v1m1 -1v1m1 -1v1m1 -2v1m1 -1v1m1 -1v1m1 -1v1m1 -1v1m1 -1v1m1 -1v1m1 -1v1m1 0v1m1 -1v1m1 -1v1m1 -1v1m1 0v1m1 -1v1m1 -1v1m1 -1v1m1 0v1m1 -1v1m1 -1v1m1 -1v1m1 0v1m1 -1v1m1 -1v1m1 -1v1m1 -2v1m1 -1v1m1 -1v1m1 -1v1m1 -1v1m1 -1v1m1 -1v1m1 -1v1m1 -2v1m1 -1v1m1 -1v1m1 -1v1m1 -2v1m1 -1v1m1 -1v1m1 -1v1m1 -2v1m1 -1v1m1 -1v1m1 -2v1m1 -1v1m1 -2v1m1 -1v1m1 -2v1m1 -1v1m1 -2v1m1 -1v1m1 -1v1m1 -1v1m1 -1v1m1 -1v1m1 0v1m1 -1v1m1 0v1m1 -1v1m1 0v1m1 -1v1m1 0v1m1 -1v1m1 0v1m1 0v1m1 -1v1m1 0v1m1 0v1m1 -1v1m1 0v1m1 -1v1m1 0v1m1 -1v1m1 0v1m1 -1v1m1 0v1m1 0v1m1 -1v1m1 0v1m1 0v1m1 -1v1m1 0v1m1 -1v1m1 0v1m1 0v1m1 0v1m1 0v1m1 0v1m1 0v1m1 0v1m1 0v1m1 0v1m1 0v1m1 -1v1m1 0v1m1 0v1m1 0v1m1 0v1m1 0v1m1 0v1m1 0v2m1 0v1m1 0v1m1 0v1m1 0v1m1 0v1m1 0v1m1 0v1m1 0v1m1 0v1m1 0v1m1 0v2m1 0v1m1 0v2m1 0v1m1 0v1m1 0v1m1 0v1m1 0v1m1 0v1m1 0v2m1 0v1m1 0v1m1 0v1m1 0v1m1 -1v1m1 0v1m1 0v1m1 0v1m1 0v1m1 0v1m1 0v1m1 0v1m1 -1v1m1 0v1m1 0v1m1 0v1m1 -1v1m1 0v1m1 0v1m1 0v1m1 0v1m1 0v1m1 0v1m1 0v1m1 -1v1m1 0v1m1 0v1m1 0v1m1 -1v1m1 0v1m1 0v1m1 0v1m1 0v1m1 0v1m1 0v1m1 0v1m1 -1v1m1 0v1m1 0v1m1 -1v1m1 0v1m1 -1v1m1 -1v1m1 0v1m1 -1v1m1 -1v1m1 -1v1m1 0v1m1 -1v1m1 -1v1m1 -1v1m1 0v1m1 -1v1m1 -1v1m1 0v1m1 -1v1m1 0v1m1 -1v1m1 0v1m1 -1v1m1 0v1m1 -1v1m1 0v1m1 -1v1m1 0v1m1 -1v1m1 -1v1m1 0v1m1 -1v1m1 -1v1m1 0v1m1 0v1m1 -1v1m1 0v1m1 0v1m1 -1v1m1 0v1m1 -1v1m1 0v1m1 0v1m1 -1v1m1 0v1m1 0v1m1 0v1m1 0v1m1 0v1m1 0v1m1 0v1m1 -1v1m1 0v1m1 0v1m1 0v1m1 0v1m1 0v1m1 0v1m1 0v1m1 -1v1m1 0v1m1 0v1m1 0v1m1 -1v1m1 0v1m1 0v1m1 -1v1m1 0v1m1 -1v1m1 0v1m1 -1v1m1 0v1m1 -1v1m1 0v1m1 -1v1m1 0v1m1 -1v1m1 0v1m1 0v1m1 -1v1m1 0v1m1 0v1m1 0v1m1 -1v1m1 0v1m1 0v1m1 0v1m1 0v1m1 0v1m1 0v1m1 0v1m1 0v1m1 0v1m1 0v1m1 0v1m1 0v1m1 0v1m1 0v1m1 0v1m1 -1v1m1 0v1m1 0v1m1 -1v1m1 0v1m1 -1v1m1 0v1m1 -1v1m1 0v1m1 -1v1m1 0v1m1 -1v1m1 0v1m1 -1v1m1 -1v1m1 -1v1m1 -1v1m1 -1v1m1 -1v1m1 0v1m1 -1v1m1 -1v1m1 -1v1m1 0v1m1 -1v1m1 -1v1m1 -1v1m1 0v1m1 -1v1m1 -1v1m1 -1v1m1 0v1m1 -1v1m1 -1v1m1 -1v1m1 0v1m1 -1v1m1 -1v1m1 -1v1m1 -1v1m1 -1v1m1 -1v1m1 -1v1m1 0v1m1 -1v1m1 -1v1m1 0v1m1 -1v1m1 0v1m1 -1v1m1 -1v1m1 0v1m1 -1v1m1 -1v1m1 -1v1m1 -1v1m1 -1v1m1 -1v1m1 -1v1m1 -1v1m1 -1v1m1 -1v1m1 -1v1m1 -1v1m1 -1v1m1 -1v1m1 -1v1m1 0v1m1 -1v1m1 -1v1m1 -1v1m1 -1v1m1 -1v1m1 -1v1m1 -1v1m1 -1v1m1 -1v1m1 -1v1m1 0v1m1 -1v1m1 0v1m1 -1v1m1 -1v1m1 -1v1m1 -1v1m1 -1v1m1 -1v1m1 0v1m1 -1v1m1 -1v1m1 -1v1m1 0v1m1 -1v1m1 -1v1m1 -1v1m1 -2v1m1 -1v1m1 -1v1m1 -2v1m1 -1v1m1 -2v1m1 -1v1m1 -1v1m1 -1v1m1 -1v1m1 -1v1m1 -1v1m1 -1v1m1 -1v1m1 -1v1m1 -1v1m1 -1v1m1 -1v1m1 -1v1m1 -2v1m1 -1v1m1 -2v1m1 -1v1m1 -2v1m1 -1v1m1 -2v1m1 -1v1m1 -1v1m1 -2v1m1 -1v1m1 -1v1m1 -2v1m1 -1v1m1 -2v1m1 -1v1m1 -2v1m1 -1v1m1 -2v1m1 -1v1m1 -1v1m1 -2v1m1 -1v1m1 -1v1m1 -1v1m1 -2v1m1 -1v1m1 -1v1m1 -2v1m1 -1v1m1 -2v1m1 -1v1m1 -2v1m1 -1v1m1 -2v1m1 -1v1m1 -1v1m1 -2v1m1 -1v1m1 -1v1m1 -2v1m1 -2v1m1 -1v1m1 -2v1m1 -2v1m1 -1v1m1 -2v1m1 -1v1m1 -2v1m1 -2v1m1 -1v1m1 -2v1m1 -2v1m1 -2v1m1 -1v1m1 -2v1m1 -2v1m1 -2v1m1 -1v1m1 -2v1m1 -2v1m1 -2v1m1 -2v1m1 -2v1m1 -2v1m1 -2v1m1 -1v1m1 -2v1m1 -2v1m1 -2v1m1 -1v1m1 -2v1m1 -2v1m1 -2v1m1 -1v1m1 -2v1m1 -2v1m1 -1v1m1 -2v1m1 -1v1m1 -2v1m1 -1v1m1 -2v1m1 -1v1m1 -2v1m1 -1v1m1 -2v1m1 -1v1m1 -2v1m1 -1v1m1 -2v1m1 -1v1m1 -2v1m1 -1v1m1 -2v1m1 -1v1m1 -1v1m1 -2v1m1 -1v1m1 -1v1m1 -1v1m1 -2v1m1 -1v1m1 -1v1m1 -2v1m1 -1v1m1 -2v1m1 -1v1m1 -2v1m1 -1v1m1 -2v1m1 -1v1m1 -2v1m1 -2v1m1 -1v1m1 -2v1m1 -2v1m1 -1v1m1 -2v1m1 -1v1m1 -2v1m1 -2v1m1 -1v1m1 -2v1m1 -2v1m1 -2v1m1 -1v1m1 -2v1m1 -2v1m1 -2v1m1 -1v1m1 -2v1m1 -2v1m1 -1v1m1 -2v1m1 -1v1m1 -2v1m1 -1v1m1 -2v1m1 -1v1m1 -2v1m1 -2v1m1 -1v1m1 -2v1m1 -2v1m1 -1v1m1 -2v1m1 -1v1m1 -1v1m1 -2v1m1 -1v1m1 -1v1m1 -2v1m1 -1v1m1 -2v1m1 -1v1m1 -2v1m1 -1v1m1 -2v1m1 -1v1m1 -1v1m1 -2v1m1 -1v1m1 -1v1m1 -2v1m1 -2v1m1 -1v1m1 -2v1m1 -2v1m1 -2v1m1 -1v1m1 -2v1m1 -2v1m1 -2v1m1 -1v1m1 -2v1m1 -2v1m1 -2v1m1 -2v1m1 -2v1m1 -2v1m1 -2v1m1 -2v1m1 -2v1m1 -2v1m1 -1v1m1 -2v1m1 -1v1m1 -2v1m1 -2v1m1 -1v1m1 -2v1m1 -2v1m1 -1v1m1 -2v1m1 -1v1m1 -1v1m1 -2v1m1 -1v1m1 -1v1m1 -1v1m1 -2v1m1 -1v1m1 -1v1m1 -2v1m1 -1v1m1 -2v1m1 -1v1m1 -2v1m1 -1v1m1 -2v1m1 -1v1m1 -2v1m1 -1v1m1 -2v1m1 -1v1m1 -2v1m1 -1v1m1 -2v1m1 -1v1m1 -2v1m1 -1v1m1 -2v1m1 -1v1m1 -2v1m1 -2v1m1 -1v1m1 -2v1m1 -2v1m1 -1v1m1 -2v1m1 -1v1m1 -2v1m1 -1v1m1 -2v1m1 -1v1m1 -2v1m1 -2v1m1 -1v1m1 -2v1m1 -2v1m1 -2v1m1 -1v1m1 -2v1m1 -2v1m1 -2v1m1 -2v1m1 -2v1m1 -2v1m1 -2v1m1 -1v1m1 -2v1m1 -2v1m1 -2v1m1 -2v1m1 -2v1m1 -2v1m1 -1v1m1 -2v1m1 -1v1m1 -2v1m1 -2v1m1 -1v1m1 -2v1m1 -1v1m1 -2v1m1 -1v1m1 -1v1m1 -2v1m1 -1v1m1 -2v1m1 -1v1m1 -1v1m1 -2v1m1 -1v1m1 -1v1m1 -1v1m1 -1v1m1 -1v1m1 -1v1m1 -1v1m1 -1v1m1 -1v1m1 -1v1m1 -1v1m1 -2v1m1 -1v1m1 -1v1m1 -2v1m1 -1v1m1 -2v1m1 -1v1m1 -1v1m1 -2v1m1 -1v1m1 -1v1m1 -1v1m1 -2v1m1 -1v1m1 -1v1m1 -2v1m1 -1v1m1 -2v1m1 -1v1m1 -1v1m1 -2v1m1 -1v1m1 -1v1m1 -2v1m1 -1v1m1 -2v1m1 -1v1m1 -2v1m1 -1v1m1 -2v1m1 -1v1m1 -2v1m1 -1v1m1 -2v1m1 -1v1m1 -2v1m1 -2v1m1 -1v1m1 -2v1m1 -1v1m1 -2v1m1 -1v1m1 -1v1m1 -1v1m1 -2v1m1 -1v1m1 -1v1m1 -1v1m1 -2v1m1 -1v1m1 -1v1m1 -1v1m1 -1v1m1 -1v1m1 -1v1m1 -1v1m1 -2v1m1 -1v1m1 -1v1m1 -2v1m1 -1v1m1 -2v1m1 -1v1m1 -1v1m1 -2v1m1 -1v1m1 -1v1m1 -1v1m1 -1v1m1 -1v1m1 -1v1m1 -1v1m1 -1v1m1 -1v1m1 -1v1m1 -1v1m1 -2v1m1 -1v1m1 -1v1m1 -1v1m1 -1v1m1 -1v1m1 -1v1m1 -1v1m1 -1v1m1 -1v1m1 -1v1m1 -1v1m1 -2v1m1 -1v1m1 -1v1m1 -1v1m1 -1v1m1 -1v1m1 -1v1m1 -1v1m1 -2v1m1 -1v1m1 -1v1m1 -1v1m1 -2v1m1 -1v1m1 -1v1m1 -1v1m1 -2v1m1 -1v1m1 -1v1m1 -2v1m1 -1v1m1 -2v1m1 -1v1m1 -2v1m1 -1v1m1 -2v1m1 -1v1m1 -1v1m1 -2v1m1 -1v1m1 -1v1m1 -1v1m1 -2v1m1 -1v1m1 -1v1m1 -1v1m1 0v1m1 -1v1m1 -1v1m1 -1v1m1 -1v1m1 -1v1m1 -1v1m1 -1v1m1 -1v1m1 -1v1m1 -1v1m1 -1v1m1 -2v1m1 -1v1m1 -1v1m1 -1v1m1 -2v1m1 -1v1m1 -1v1m1 -1v1m1 -2v1m1 -1v1m1 -1v1m1 -1v1m1 -2v1m1 -1v1m1 -1v1m1 -2v1m1 -2v1m1 -1v1m1 -2v1m1 -1v1m1 -2v1m1 -1v1m1 -1v1m1 -1v1m1 -2v1m1 -1v1m1 -1v1m1 -1v1m1 -1v1m1 -1v1m1 -1v1m1 -1v1m1 -2v1m1 -1v1m1 -1v1m1 -1v1m1 0v1m1 -1v1m1 -1v1m1 -1v1m1 -2v1m1 -1v1m1 -1v1m1 -1v1m1 -2v1m1 -1v1m1 -1v1m1 -2v1m1 -1v1m1 -2v1m1 -1v1m1 -1v1m1 -2v1m1 -1v1m1 -1v1m1 -1v1m1 -1v1m1 -1v1m1 -1v1m1 -1v1m1 -2v1m1 -1v1m1 -1v1m1 -2v1m1 -1v1m1 -2v1m1 -1v1m1 -2v1m1 -2v1m1 -1v1m1 -2v1m1 -2v1m1 -1v1m1 -2v1m1 -1v1m1 -2v1m1 -1v1m1 -2v1m1 -1v1m1 -2v1m1 -1v1m1 -2v1m1 -1v1m1 -1v1m1 -2v1m1 -1v1m1 -1v1m1 -1v1m1 -2v1m1 -1v1m1 -1v1m1 -1v1m1 0v1m1 -1v1m1 -1v1m1 -1v1m1 0v1m1 -1v1m1 -1v1m1 -1v1m1 0v1m1 -1v1m1 -1v1m1 0v1m1 -1v1m1 0v1m1 -1v1m1 0v1m1 0v2m1 0v1m1 0v1m1 0v1m1 0v2m1 0v1m1 0v1m1 0v1m1 0v1m1 0v1m1 0v1m1 0v1m1 0v1m1 -1v1m1 0v1m1 0v1m1 -1v1m1 0v1m1 -1v1m1 -1v1m1 0v1m1 -1v1m1 -1v1m1 -1v1m1 0v1m1 -1v1m1 -1v1m1 -1v1m1 0v1m1 -1v1m1 -1v1m1 -1v1m1 -1v1m1 -1v1m1 -1v1m1 -1v1m1 0v1m1 -1v1m1 -1v1m1 -1v1m1 0v1m1 -1v1m1 -1v1m1 -1v1m1 0v1m1 -1v1m1 -1v1m1 0v1m1 -1v1m1 0v1m1 -1v1m1 -1v1m1 0v1m1 -1v1m1 -1v1m1 -1v1m1 0v1m1 -1v1m1 -1v1m1 0v1m1 -1v1m1 0v1m1 -1v1m1 -1v1m1 0v1m1 -1v1m1 -1v1m1 -1v1m1 0v1m1 -1v1m1 -1v1m1 -1v1m1 -1v1m1 -1v1m1 -1v1m1 -1v1m1 -1v1m1 -1v1m1 -1v1m1 -1v1m1 0v1m1 -1v1m1 -1v1m1 0v1m1 -1v1m1 0v1m1 -1v1m1 -1v1m1 0v1m1 -1v1m1 -1v1m1 0v1m1 -1v1m1 0v1m1 -1v1m1 -1v1m1 0v1m1 -1v1m1 -1v1m1 -1v1m1 -1v1m1 -1v1m1 -1v1m1 -1v1m1 0v1m1 -1v1m1 -1v1m1 -1v1m1 0v1m1 -1v1m1 -1v1m1 -1v1m1 -1v1m1 -1v1m1 -1v1m1 -1v1m1 -1v1m1 -1v1m1 -1v1m1 -1v1m1 0v1m1 -1v1m1 -1v1m1 -1v1m1 0v1m1 -1v1m1 -1v1m1 -1v1m1 0v1m1 -1v1m1 -1v1m1 0v1m1 -1v1m1 0v1m1 -1v1m1 -1v1m1 0v1m1 -1v1m1 -1v1m1 0v1m1 -1v1m1 0v1m1 -1v1m1 0v1m1 0v1m1 -1v1m1 0v1m1 0v1m1 -1v1m1 0v1m1 -1v1m1 0v1m1 0v1m1 -1v1m1 0v1m1 0v1m1 0v1m1 -1v1m1 0v1m1 0v1m1 0v1m1 -1v1m1 0v1m1 -1v1m1 0v1m1 -1v1m1 -1v1m1 0v1m1 -1v1m1 0v1m1 -1v1m1 -1v1m1 0v1m1 -1v1m1 -1v1m1 -1v1m1 -1v1m1 -1v1m1 -1v1m1 -1v1m1 0v1m1 -1v1m1 -1v1m1 -1v1m1 -1v1m1 -1v1m1 -1v1m1 0v1m1 -1v1m1 0v1m1 -1v1m1 -1v1m1 0v1m1 -1v1m1 -1v1m1 0v1m1 -1v1m1 0v1m1 -1v1m1 0v1m1 0v1m1 -1v1m1 0v1m1 0v1m1 0v1m1 -1v1m1 0v1" fill="none" stroke="#ff0000" stroke-width="1"/>
<path d="M1540 145h9v1h-9zM1532 146h21v1h-21zM1529 147h12v1h-12zM1548 147h8v1h-8zM1527 148h6v1h-6zM1552 148h5v1h-5zM1524 149h6v1h-6zM1555 149h4v1h-4zM1520 150h8v1h-8zM1556 150h4v1h-4zM1517 151h8v1h-8zM1558 151h4v1h-4zM1515 152h6v1h-6zM1559 152h5v1h-5zM1512 153h6v1h-6zM1561 153h5v1h-5zM1509 154h7v1h-7zM1563 154h5v1h-5zM1507 155h6v1h-6zM1565 155h5v1h-5zM1504 156h6v1h-6zM1567 156h6v1h-6zM1501 157h7v1h-7zM1569 157h12v1h-12zM1499 158h6v1h-6zM1572 158h29v1h-29zM1496 159h6v1h-6zM1580 159h29v1h-29zM1492 160h8v1h-8zM1600 160h17v1h-17zM1488 161h9v1h-9zM1608 161h17v1h-17zM1484 162h9v1h-9zM1616 162h17v1h-17zM1476 163h13v1h-13zM1624 163h13v1h-13zM1472 164h13v1h-13zM1632 164h13v1h-13zM1468 165h9v1h-9zM1636 165h17v1h-17zM1464 166h9v1h-9zM1644 166h21v1h-21zM1460 167h9v1h-9zM1652 167h25v1h-25zM1456 168h9v1h-9zM1664 168h21v1h-21zM1452 169h9v1h-9zM1676 169h16v1h-16zM1448 170h9v1h-9zM1684 170h10v1h-10zM1444 171h9v1h-9zM1691 171h6v1h-6zM1440 172h9v1h-9zM1693 172h8v1h-8zM1436 173h9v1h-9zM1696 173h8v1h-8zM1433 174h8v1h-8zM1700 174h6v1h-6zM1431 175h6v1h-6zM1703 175h5v1h-5zM1428 176h6v1h-6zM1705 176h5v1h-5zM1425 177h7v1h-7zM1707 177h5v1h-5zM1423 178h6v1h-6zM1709 178h5v1h-5zM1420 179h6v1h-6zM1711 179h5v1h-5zM1416 180h8v1h-8zM1713 180h5v1h-5zM1412 181h9v1h-9zM1715 181h6v1h-6zM1408 182h9v1h-9zM1717 182h8v1h-8zM1400 183h13v1h-13zM1720 183h13v1h-13zM1392 184h17v1h-17zM1724 184h17v1h-17zM1388 185h13v1h-13zM1732 185h13v1h-13zM1384 186h9v1h-9zM1740 186h9v1h-9zM1380 187h9v1h-9zM1744 187h8v1h-8zM1376 188h9v1h-9zM1748 188h6v1h-6zM1372 189h9v1h-9zM1751 189h5v1h-5zM1368 190h9v1h-9zM1753 190h5v1h-5zM1365 191h8v1h-8zM1755 191h5v1h-5zM1363 192h6v1h-6zM1757 192h5v1h-5zM1360 193h6v1h-6zM1759 193h5v1h-5zM1357 194h7v1h-7zM1761 194h3v1h-3zM1355 195h6v1h-6zM1352 196h6v1h-6zM1349 197h7v1h-7zM1347 198h6v1h-6zM1345 199h5v1h-5zM1343 200h5v1h-5zM1341 201h5v1h-5zM1339 202h5v1h-5zM1336 203h6v1h-6zM1333 204h7v1h-7zM1331 205h6v1h-6zM1328 206h6v1h-6zM1324 207h8v1h-8zM1321 208h8v1h-8zM1319 209h6v1h-6zM1316 210h6v1h-6zM1308 211h12v1h-12zM1304 212h13v1h-13zM708 213h13v1h-13zM1300 213h9v1h-9zM705 214h20v1h-20zM1297 214h8v1h-8zM703 215h6v1h-6zM720 215h9v1h-9zM1295 215h6v1h-6zM702 216h4v1h-4zM724 216h9v1h-9zM1292 216h6v1h-6zM700 217h4v1h-4zM728 217h9v1h-9zM1290 217h6v1h-6zM699 218h4v1h-4zM732 218h9v1h-9zM1288 218h5v1h-5zM697 219h4v1h-4zM736 219h8v1h-8zM1287 219h4v1h-4zM695 220h5v1h-5zM740 220h6v1h-6zM1286 220h3v1h-3zM692 221h6v1h-6zM743 221h5v1h-5zM1284 221h4v1h-4zM688 222h8v1h-8zM745 222h5v1h-5zM1283 222h4v1h-4zM684 223h9v1h-9zM747 223h5v1h-5zM1282 223h3v1h-3zM680 224h9v1h-9zM749 224h5v1h-5zM1280 224h4v1h-4zM676 225h9v1h-9zM751 225h5v1h-5zM1279 225h4v1h-4zM668 226h13v1h-13zM753 226h5v1h-5zM1278 226h3v1h-3zM664 227h13v1h-13zM755 227h5v1h-5zM1276 227h4v1h-4zM660 228h9v1h-9zM757 228h5v1h-5zM1275 228h4v1h-4zM657 229h8v1h-8zM759 229h5v1h-5zM1273 229h4v1h-4zM655 230h6v1h-6zM761 230h5v1h-5zM1271 230h5v1h-5zM652 231h6v1h-6zM763 231h5v1h-5zM1269 231h5v1h-5zM650 232h6v1h-6zM765 232h5v1h-5zM1267 232h5v1h-5zM648 233h5v1h-5zM767 233h5v1h-5zM1265 233h5v1h-5zM647 234h4v1h-4zM769 234h4v1h-4zM1263 234h5v1h-5zM645 235h4v1h-4zM771 235h4v1h-4zM1261 235h5v1h-5zM643 236h5v1h-5zM772 236h4v1h-4zM1259 236h5v1h-5zM641 237h5v1h-5zM774 237h4v1h-4zM1257 237h5v1h-5zM639 238h5v1h-5zM775 238h5v1h-5zM1255 238h5v1h-5zM638 239h4v1h-4zM777 239h5v1h-5zM1253 239h5v1h-5zM636 240h4v1h-4zM779 240h5v1h-5zM1251 240h5v1h-5zM635 241h4v1h-4zM781 241h4v1h-4zM1248 241h6v1h-6zM634 242h3v1h-3zM783 242h4v1h-4zM1245 242h7v1h-7zM632 243h4v1h-4zM784 243h4v1h-4zM1243 243h6v1h-6zM631 244h4v1h-4zM786 244h4v1h-4zM1241 244h5v1h-5zM630 245h3v1h-3zM787 245h5v1h-5zM1239 245h5v1h-5zM628 246h4v1h-4zM789 246h5v1h-5zM1236 246h6v1h-6zM627 247h4v1h-4zM791 247h5v1h-5zM1233 247h7v1h-7zM625 248h4v1h-4zM793 248h4v1h-4zM1231 248h6v1h-6zM623 249h5v1h-5zM795 249h4v1h-4zM1229 249h5v1h-5zM622 250h4v1h-4zM796 250h4v1h-4zM1227 250h5v1h-5zM620 251h4v1h-4zM798 251h4v1h-4zM1225 251h5v1h-5zM619 252h4v1h-4zM799 252h5v1h-5zM1223 252h5v1h-5zM618 253h3v1h-3zM801 253h5v1h-5zM1220 253h6v1h-6zM616 254h4v1h-4zM803 254h5v1h-5zM1217 254h7v1h-7zM615 255h4v1h-4zM805 255h5v1h-5zM1215 255h6v1h-6zM614 256h3v1h-3zM807 256h6v1h-6zM1213 256h5v1h-5zM612 257h4v1h-4zM809 257h8v1h-8zM1211 257h5v1h-5zM611 258h4v1h-4zM812 258h9v1h-9zM1209 258h5v1h-5zM610 259h3v1h-3zM816 259h13v1h-13zM1207 259h5v1h-5zM608 260h4v1h-4zM820 260h17v1h-17zM1204 260h6v1h-6zM607 261h4v1h-4zM828 261h13v1h-13zM1201 261h7v1h-7zM606 262h3v1h-3zM836 262h8v1h-8zM1199 262h6v1h-6zM605 263h3v1h-3zM840 263h6v1h-6zM1197 263h5v1h-5zM604 264h3v1h-3zM843 264h5v1h-5zM1195 264h5v1h-5zM603 265h3v1h-3zM845 265h5v1h-5zM1192 265h6v1h-6zM602 266h3v1h-3zM847 266h5v1h-5zM1189 266h7v1h-7zM600 267h4v1h-4zM849 267h5v1h-5zM1187 267h6v1h-6zM599 268h4v1h-4zM851 268h5v1h-5zM1185 268h5v1h-5zM598 269h3v1h-3zM853 269h5v1h-5zM1183 269h5v1h-5zM597 270h3v1h-3zM855 270h5v1h-5zM1181 270h5v1h-5zM596 271h3v1h-3zM857 271h5v1h-5zM1179 271h5v1h-5zM595 272h3v1h-3zM859 272h5v1h-5zM1176 272h6v1h-6zM594 273h3v1h-3zM861 273h5v1h-5zM1173 273h7v1h-7zM593 274h3v1h-3zM863 274h5v1h-5zM1171 274h6v1h-6zM592 275h3v1h-3zM865 275h4v1h-4zM1169 275h5v1h-5zM591 276h3v1h-3zM867 276h4v1h-4zM1167 276h5v1h-5zM590 277h3v1h-3zM868 277h4v1h-4zM1165 277h5v1h-5zM589 278h3v1h-3zM870 278h4v1h-4zM1163 278h5v1h-5zM588 279h3v1h-3zM871 279h5v1h-5zM1161 279h5v1h-5zM587 280h3v1h-3zM873 280h5v1h-5zM1159 280h5v1h-5zM586 281h3v1h-3zM875 281h5v1h-5zM1157 281h5v1h-5zM585 282h3v1h-3zM877 282h5v1h-5zM1155 282h5v1h-5zM584 283h3v1h-3zM879 283h5v1h-5zM1153 283h5v1h-5zM583 284h3v1h-3zM881 284h5v1h-5zM1151 284h5v1h-5zM582 285h3v1h-3zM883 285h6v1h-6zM1149 285h5v1h-5zM581 286h3v1h-3zM885 286h7v1h-7zM1147 286h5v1h-5zM580 287h3v1h-3zM888 287h6v1h-6zM1145 287h5v1h-5zM579 288h3v1h-3zM891 288h5v1h-5zM1143 288h5v1h-5zM578 289h3v1h-3zM893 289h5v1h-5zM1140 289h6v1h-6zM577 290h3v1h-3zM895 290h5v1h-5zM1137 290h7v1h-7zM576 291h3v1h-3zM897 291h4v1h-4zM1135 291h6v1h-6zM576 292h2v1h-2zM899 292h4v1h-4zM1132 292h6v1h-6zM575 293h3v1h-3zM900 293h4v1h-4zM1128 293h8v1h-8zM574 294h3v1h-3zM902 294h4v1h-4zM1124 294h9v1h-9zM573 295h3v1h-3zM903 295h5v1h-5zM1120 295h9v1h-9zM572 296h3v1h-3zM905 296h5v1h-5zM1116 296h9v1h-9zM571 297h3v1h-3zM907 297h5v1h-5zM1112 297h9v1h-9zM570 298h3v1h-3zM909 298h4v1h-4zM1109 298h8v1h-8zM569 299h3v1h-3zM911 299h4v1h-4zM1107 299h6v1h-6zM568 300h3v1h-3zM912 300h4v1h-4zM1104 300h6v1h-6zM568 301h2v1h-2zM914 301h4v1h-4zM1101 301h7v1h-7zM567 302h3v1h-3zM915 302h6v1h-6zM1099 302h6v1h-6zM566 303h3v1h-3zM917 303h8v1h-8zM1098 303h4v1h-4zM565 304h3v1h-3zM920 304h8v1h-8zM1096 304h4v1h-4zM564 305h3v1h-3zM924 305h6v1h-6zM1095 305h4v1h-4zM564 306h2v1h-2zM927 306h6v1h-6zM1093 306h4v1h-4zM563 307h3v1h-3zM929 307h8v1h-8zM1091 307h5v1h-5zM562 308h3v1h-3zM932 308h13v1h-13zM1089 308h5v1h-5zM561 309h3v1h-3zM936 309h13v1h-13zM1087 309h5v1h-5zM560 310h3v1h-3zM944 310h9v1h-9zM1085 310h5v1h-5zM560 311h2v1h-2zM948 311h9v1h-9zM1083 311h5v1h-5zM559 312h3v1h-3zM952 312h9v1h-9zM1080 312h6v1h-6zM558 313h3v1h-3zM956 313h9v1h-9zM1076 313h8v1h-8zM557 314h3v1h-3zM960 314h9v1h-9zM1072 314h9v1h-9zM556 315h3v1h-3zM964 315h13v1h-13zM1068 315h9v1h-9zM556 316h2v1h-2zM968 316h13v1h-13zM1060 316h13v1h-13zM555 317h3v1h-3zM976 317h9v1h-9zM1056 317h13v1h-13zM554 318h3v1h-3zM980 318h13v1h-13zM1048 318h13v1h-13zM553 319h3v1h-3zM984 319h13v1h-13zM1040 319h17v1h-17zM552 320h3v1h-3zM992 320h9v1h-9zM1036 320h13v1h-13zM552 321h2v1h-2zM996 321h13v1h-13zM1028 321h13v1h-13zM551 322h3v1h-3zM1000 322h37v1h-37zM550 323h3v1h-3zM1008 323h21v1h-21zM549 324h3v1h-3zM548 325h3v1h-3zM548 326h2v1h-2zM547 327h3v1h-3zM546 328h3v1h-3zM545 329h3v1h-3zM544 330h3v1h-3zM544 331h2v1h-2zM543 332h3v1h-3zM542 333h3v1h-3zM541 334h3v1h-3zM540 335h3v1h-3zM539 336h3v1h-3zM538 337h3v1h-3zM537 338h3v1h-3zM536 339h3v1h-3zM536 340h2v1h-2zM535 341h3v1h-3zM534 342h3v1h-3zM533 343h3v1h-3zM532 344h3v1h-3zM532 345h2v1h-2zM531 346h3v1h-3zM530 347h3v1h-3zM529 348h3v1h-3zM528 349h3v1h-3zM527 350h3v1h-3zM526 351h3v1h-3zM525 352h3v1h-3zM524 353h3v1h-3zM524 354h2v1h-2zM523 355h3v1h-3zM522 356h3v1h-3zM521 357h3v1h-3zM520 358h3v1h-3zM519 359h3v1h-3zM518 360h3v1h-3zM517 361h3v1h-3zM516 362h3v1h-3zM515 363h3v1h-3zM514 364h3v1h-3zM513 365h3v1h-3zM512 366h3v1h-3zM511 367h3v1h-3zM510 368h3v1h-3zM508 369h4v1h-4zM507 370h4v1h-4zM506 371h3v1h-3zM504 372h4v1h-4zM503 373h4v1h-4zM502 374h3v1h-3zM501 375h3v1h-3zM500 376h3v1h-3zM499 377h3v1h-3zM497 378h4v1h-4zM495 379h5v1h-5zM494 380h4v1h-4zM492 381h4v1h-4zM491 382h4v1h-4zM489 383h4v1h-4zM487 384h5v1h-5zM485 385h5v1h-5zM483 386h5v1h-5zM481 387h5v1h-5zM479 388h5v1h-5zM478 389h4v1h-4zM476 390h4v1h-4zM475 391h4v1h-4zM473 392h4v1h-4zM471 393h5v1h-5zM469 394h5v1h-5zM467 395h5v1h-5zM464 396h6v1h-6zM461 397h7v1h-7zM459 398h6v1h-6zM404 399h17v1h-17zM456 399h6v1h-6zM392 400h37v1h-37zM452 400h8v1h-8zM384 401h21v1h-21zM420 401h17v1h-17zM448 401h9v1h-9zM380 402h13v1h-13zM428 402h25v1h-25zM377 403h8v1h-8zM436 403h13v1h-13zM375 404h6v1h-6zM372 405h6v1h-6zM369 406h7v1h-7zM367 407h6v1h-6zM365 408h5v1h-5zM363 409h5v1h-5zM361 410h5v1h-5zM359 411h5v1h-5zM357 412h5v1h-5zM355 413h5v1h-5zM352 414h6v1h-6zM349 415h7v1h-7zM347 416h6v1h-6zM344 417h6v1h-6zM341 418h7v1h-7zM339 419h6v1h-6zM336 420h6v1h-6zM332 421h8v1h-8zM329 422h8v1h-8zM327 423h6v1h-6zM324 424h6v1h-6zM320 425h8v1h-8zM317 426h8v1h-8zM315 427h6v1h-6zM313 428h5v1h-5zM311 429h5v1h-5zM309 430h5v1h-5zM2 431h2v1h-2zM307 431h5v1h-5zM2 432h4v1h-4zM306 432h4v1h-4zM3 433h6v1h-6zM304 433h4v1h-4zM5 434h7v1h-7zM303 434h4v1h-4zM8 435h6v1h-6zM301 435h4v1h-4zM11 436h6v1h-6zM299 436h5v1h-5zM13 437h7v1h-7zM297 437h5v1h-5zM16 438h6v1h-6zM295 438h5v1h-5zM19 439h5v1h-5zM293 439h5v1h-5zM21 440h5v1h-5zM291 440h5v1h-5zM23 441h5v1h-5zM288 441h6v1h-6zM25 442h5v1h-5zM284 442h8v1h-8zM27 443h5v1h-5zM256 443h33v1h-33zM29 444h5v1h-5zM240 444h45v1h-45zM31 445h5v1h-5zM200 445h57v1h-57zM33 446h5v1h-5zM188 446h53v1h-53zM35 447h5v1h-5zM184 447h17v1h-17zM37 448h5v1h-5zM176 448h13v1h-13zM39 449h5v1h-5zM168 449h17v1h-17zM41 450h5v1h-5zM164 450h13v1h-13zM43 451h5v1h-5zM161 451h8v1h-8zM45 452h5v1h-5zM159 452h6v1h-6zM47 453h5v1h-5zM157 453h5v1h-5zM49 454h5v1h-5zM155 454h5v1h-5zM51 455h6v1h-6zM153 455h5v1h-5zM53 456h7v1h-7zM151 456h5v1h-5zM56 457h6v1h-6zM149 457h5v1h-5zM59 458h6v1h-6zM147 458h5v1h-5zM61 459h8v1h-8zM145 459h5v1h-5zM64 460h9v1h-9zM143 460h5v1h-5zM68 461h9v1h-9zM142 461h4v1h-4zM72 462h13v1h-13zM140 462h4v1h-4zM76 463h13v1h-13zM139 463h4v1h-4zM84 464h13v1h-13zM136 464h5v1h-5zM88 465h17v1h-17zM132 465h8v1h-8zM96 466h41v1h-41zM104 467h29v1h-29z" fill="#8b4513"/>
</g>
<g clip-path="url(#cm)">
<path d="M695.2 162 L703.8 179.3 L699.6 179.3 L699.6 190.2 L690.8 190.2 L690.8 179.3 L686.6 179.3 Z" fill="url(#ag)"/>
<path d="M1322 156.2 L1330.6 173.5 L1326.4 173.5 L1326.4 184.4 L1317.6 184.4 L1317.6 173.5 L1313.4 173.5 Z" fill="url(#ag)"/>
<path d="M1448.1 159.7 L1456.7 177 L1452.5 177 L1452.5 187.9 L1443.7 187.9 L1443.7 177 L1439.5 177 Z" fill="url(#ag)"/>
<path d="M716 153.7 L724.3 135.9 L720.1 135.9 L720.1 125.3 L711.9 125.3 L711.9 135.9 L707.7 135.9 Z" fill="url(#ag)"/>
<path d="M1392.9 142.7 L1401.2 124.9 L1397 124.9 L1397 114.3 L1388.8 114.3 L1388.8 124.9 L1384.6 124.9 Z" fill="url(#ag)"/>
<path d="M1477 93 L1485.3 75.2 L1481.1 75.2 L1481.1 64.6 L1472.9 64.6 L1472.9 75.2 L1468.7 75.2 Z" fill="url(#ag)"/>
</g>
<g clip-path="url(#cm)" shape-rendering="crispEdges">
<path d="M3.5 470v1m1 0v1m1 0v1m1 -1v1m1 0v1m1 0v1m1 0v2m1 0v1m1 0v1m1 0v1m1 0v1m1 -1v1m1 0v1m1 0v1m1 0v1m1 0v1m1 0v1m1 0v1m1 0v1m1 0v1m1 0v1m1 0v1m1 0v2m1 0v1m1 0v1m1 0v2m1 0v1m1 0v2m1 0v1m1 0v2m1 0v2m1 0v2m1 0v2m1 0v1m1 0v2m1 0v1m1 0v1m1 -1v1m1 -1v1m1 -1v1m1 -1v1m1 0v1m1 0v1m1 0v1m1 0v1m1 0v1m1 0v2m1 0v1m1 0v1m1 0v2m1 0v1m1 0v2m1 0v1m1 -1v1m1 -1v1m1 -1v1m1 -1v1m1 -1v1m1 -1v1m1 -1v1m1 -1v1m1 -2v1m1 -1v1m1 -2v1m1 -1v1m1 -1v1m1 -1v1m1 -1v1m1 -1v1m1 -2v1m1 -1v1m1 -2v1m1 -1v1m1 -2v1m1 -1v1m1 -2v1m1 -1v1m1 -2v1m1 -2v1m1 -1v1m1 -2v1m1 0v1m1 -1v1m1 0v1m1 -1v1m1 -2v1m1 -3v2m1 -3v1m1 -2v1m1 -3v2m1 -4v2m1 -4v2m1 -3v1m1 -2v1m1 -3v2m1 -3v1m1 -2v1m1 -1v1m1 -2v1m1 -1v1m1 -1v1m1 -1v1m1 -1v1m1 -1v1m1 -1v1m1 -1v1m1 -2v1m1 -1v1m1 -1v1m1 -1v1m1 -1v1m1 -1v1m1 -1v1m1 -2v1m1 -1v1m1 -2v1m1 -1v1m1 -3v2m1 -3v1m1 -3v2m1 -3v1m1 -2v1m1 -3v2m1 -3v1m1 -2v1m1 -3v2m1 -4v2m1 -4v2m1 -4v2m1 -4v2m1 -4v2m1 -4v2m1 -5v3m1 -7v4m1 -8v4m1 -8v4m1 -7v3m1 -6v3m1 -7v4m1 -7v3m1 -6v3m1 -6v3m1 -6v3m1 -6v3m1 -6v3m1 -5v2m1 -4v2m1 -4v2m1 -5v3m1 -5v2m1 -4v2m1 -4v2m1 -4v2m1 -3v1m1 -2v1m1 -2v1m1 -2v1m1 -1v1m1 -1v1m1 -1v1m1 -1v1m1 0v1m1 0v1m1 0v1m1 0v1m1 -1v1m1 0v1m1 -1v1m1 -1v1m1 -1v1m1 -1v1m1 -1v1m1 -1v1m1 0v1m1 0v1m1 -1v1m1 0v1m1 -2v1m1 -2v1m1 -2v1m1 -2v1m1 -2v1m1 -1v1m1 -2v1m1 -1v1m1 -1v1m1 -2v1m1 -1v1m1 -1v1m1 -1v1m1 -2v1m1 -1v1m1 -1v1m1 -1v1m1 0v1m1 -1v1m1 -1v1m1 0v1m1 -1v1m1 0v1m1 -1v1m1 0v1m1 0v2m1 0v1m1 0v1m1 0v1m1 0v2m1 0v1m1 0v1m1 0v1m1 0v1m1 -1v1m1 0v1m1 0v1m1 0v1m1 -1v1m1 0v1m1 0v1m1 0v1m1 -1v1m1 0v1m1 -1v1m1 0v1m1 -1v1m1 -1v1m1 0v1m1 -1v1m1 0v1m1 -1v1m1 -1v1m1 -1v1m1 -1v1m1 -1v1m1 -2v1m1 -2v1m1 -1v1m1 -2v1m1 -2v1m1 -1v1m1 -2v1m1 -1v1m1 -2v1m1 -1v1m1 -2v1m1 -1v1m1 -2v1m1 -1v1m1 -2v1m1 -1v1m1 -2v1m1 -2v1m1 -1v1m1 -2v1m1 0v1m1 -1v1m1 0v1m1 -1v1m1 0v1m1 -1v1m1 0v1m1 -1v1m1 0v1m1 0v1m1 0v1m1 0v1m1 0v1m1 0v2m1 0v1m1 0v1m1 0v1m1 0v1m1 -1v1m1 0v1m1 0v1m1 -1v1m1 0v1m1 -1v1m1 -2v1m1 -3v2m1 -3v1m1 -2v1m1 -1v1m1 -1v1m1 -1v1m1 -2v2m1 -5v3m1 -7v4m1 -7v3m1 -6v3m1 -5v2m1 -4v2m1 -4v2m1 -5v3m1 -6v3m1 -5v2m1 -5v3m1 -6v3m1 -6v3m1 -5v2m1 -5v3m1 -5v2m1 -4v2m1 -4v2m1 -4v2m1 -5v3m1 -5v2m1 -4v2m1 -4v2m1 -4v2m1 -3v1m1 -2v1m1 -1v1m1 -2v1m1 -2v1m1 -3v2m1 -3v1m1 -2v1m1 -1v1m1 -2v1m1 -1v1m1 -1v1m1 0v1m1 0v1m1 0v1m1 0v1m1 -1v1m1 -1v1m1 -1v1m1 -1v1m1 -1v1m1 0v1m1 -1v1m1 -1v1m1 -1v1m1 -1v1m1 -1v1m1 -1v1m1 -2v1m1 -2v1m1 -2v1m1 -2v1m1 -2v1m1 -2v1m1 -2v1m1 -2v1m1 -2v1m1 -1v1m1 -2v1m1 -1v1m1 -1v1m1 -2v1m1 -1v1m1 -1v1m1 -2v1m1 -1v1m1 -2v1m1 -1v1m1 -2v1m1 -2v1m1 -1v1m1 -2v1m1 -3v2m1 -3v1m1 -3v2m1 -3v1m1 -3v2m1 -4v2m1 -4v2m1 -4v2m1 -3v1m1 -2v1m1 -1v1m1 -2v1m1 -1v1m1 -1v1m1 -1v1m1 -1v1m1 -2v1m1 -2v1m1 -2v1m1 -2v1m1 0v1m1 0v2m1 0v1m1 0v1m1 0v1m1 -1v1m1 0v1m1 -1v1m1 0v2m1 0v1m1 0v2m1 0v1m1 0v1m1 0v1m1 0v1m1 0v1m1 0v1m1 0v1m1 0v1m1 0v1m1 0v1m1 0v1m1 0v1m1 0v1m1 0v1m1 0v1m1 0v1m1 0v1m1 0v1m1 0v2m1 0v1m1 0v1m1 0v1m1 0v2m1 0v1m1 0v1m1 0v1m1 0v1m1 0v1m1 0v1m1 0v2m1 0v2m1 0v2m1 0v1m1 0v2m1 0v2m1 0v2m1 0v1m1 0v1m1 0v1m1 -1v1m1 0v1m1 0v1m1 0v1m1 -1v1m1 0v1m1 0v1m1 -1v1m1 0v1m1 -1v1m1 0v1m1 -1v1m1 0v1m1 -1v1m1 -2v1m1 -2v1m1 -1v1m1 -2v1m1 -3v2m1 -4v2m1 -4v2m1 -4v2m1 -4v2m1 -4v2m1 -4v2m1 -4v2m1 -4v2m1 -4v2m1 -4v2m1 -4v2m1 -4v2m1 -4v2m1 -4v2m1 -5v3m1 -5v2m1 -5v3m1 -5v2m1 -5v3m1 -5v2m1 -4v2m1 -4v2m1 -4v2m1 -4v2m1 -4v2m1 -4v2m1 -4v2m1 -4v2m1 -4v2m1 -4v2m1 -4v2m1 -4v2m1 -4v2m1 -4v2m1 -4v2m1 -3v1m1 -3v2m1 -3v1m1 -2v1m1 -3v2m1 -4v2m1 -4v2m1 -4v2m1 -5v3m1 -5v2m1 -5v3m1 -6v3m1 -5v2m1 -5v3m1 -5v2m1 -5v3m1 -5v2m1 -5v3m1 -5v2m1 -5v3m1 -7v4m1 -7v3m1 -7v4m1 -7v3m1 -7v4m1 -8v4m1 -8v4m1 -8v4m1 -8v4m1 -8v4m1 -8v4m1 -7v3m1 -6v3m1 -5v2m1 -5v3m1 -6v3m1 -5v2m1 -5v3m1 -5v2m1 -5v3m1 -5v2m1 -5v3m1 -5v2m1 -5v3m1 -5v2m1 -5v3m1 -5v2m1 -5v3m1 -6v3m1 -7v4m1 -7v3m1 -6v3m1 -6v3m1 -7v4m1 -7v3m1 -6v3m1 -6v3m1 -6v3m1 -6v3m1 -5v2m1 -4v2m1 -4v2m1 -4v2m1 -3v1m1 -2v1m1 -3v2m1 -3v1m1 -3v2m1 -4v2m1 -4v2m1 -4v2m1 -4v2m1 -4v2m1 -4v2m1 -4v2m1 -5v3m1 -5v2m1 -4v2m1 -4v2m1 -4v2m1 -4v2m1 -3v1m1 -3v2m1 -3v1m1 -2v1m1 -2v1m1 -2v1m1 -2v1m1 -2v1m1 -2v1m1 -2v1m1 -2v1m1 -2v1m1 -1v1m1 -2v1m1 -1v1m1 -1v1m1 -2v1m1 -1v1m1 -1v1m1 -3v2m1 -3v1m1 -3v2m1 -3v1m1 -2v1m1 -3v2m1 -3v1m1 -2v1m1 -1v1m1 0v1m1 -1v1m1 -1v1m1 -1v1m1 0v1m1 -1v1m1 -1v1m1 0v1m1 0v1m1 0v1m1 0v1m1 0v1m1 -1v1m1 0v1m1 -1v1m1 0v1m1 -1v1m1 0v1m1 -1v1m1 -1v1m1 0v1m1 -1v1m1 -1v1m1 0v1m1 0v1m1 -1v1m1 0v1m1 -1v1m1 -2v1m1 -1v1m1 -1v1m1 -1v1m1 0v1m1 -1v1m1 -1v1m1 -2v1m1 -1v1m1 -2v1m1 -1v1m1 -1v1m1 -2v1m1 -1v1m1 -1v1m1 0v1m1 0v1m1 0v1m1 0v1m1 0v1m1 0v1m1 0v1m1 0v1m1 0v1m1 0v2m1 0v1m1 0v1m1 -1v1m1 0v1m1 -1v1m1 -1v1m1 0v1m1 0v1m1 -1v1m1 0v1m1 0v2m1 0v2m1 0v2m1 0v2m1 0v2m1 0v3m1 0v2m1 0v3m1 0v2m1 0v2m1 0v2m1 0v2m1 0v2m1 0v2m1 0v2m1 0v2m1 0v1m1 0v1m1 0v1m1 0v1m1 -1v1m1 0v1m1 -1v1m1 -1v1m1 0v1m1 -1v1m1 0v1m1 -1v1m1 -1v1m1 -2v1m1 -1v1m1 -1v1m1 -2v1m1 -1v1m1 -2v1m1 -1v1m1 -2v1m1 -1v1m1 -2v1m1 -1v1m1 -2v1m1 -2v1m1 -2v1m1 -2v1m1 -2v1m1 -2v1m1 -2v1m1 -2v1m1 -1v1m1 -1v1m1 -1v1m1 -1v2m1 0v3m1 0v3m1 0v3m1 0v3m1 0v2m1 0v3m1 0v2m1 0v3m1 0v2m1 0v3m1 0v2m1 0v2m1 0v2m1 0v2m1 0v2m1 0v3m1 0v2m1 0v2m1 0v2m1 0v2m1 0v2m1 0v2m1 0v2m1 0v1m1 0v2m1 0v2m1 0v2m1 0v3m1 0v2m1 0v3m1 0v2m1 0v3m1 0v3m1 0v3m1 0v3m1 0v3m1 0v2m1 0v2m1 0v2m1 0v2m1 0v2m1 0v2m1 0v2m1 0v3m1 0v3m1 0v4m1 0v3m1 0v2m1 0v2m1 0v2m1 0v2m1 0v2m1 0v2m1 0v3m1 0v2m1 0v3m1 0v3m1 0v3m1 0v3m1 0v3m1 0v2m1 0v3m1 0v2m1 0v2m1 0v2m1 0v2m1 0v2m1 0v1m1 0v1m1 0v1m1 0v1m1 0v1m1 0v1m1 0v1m1 -1v1m1 0v1m1 0v1m1 -1v1m1 0v1m1 -1v1m1 0v1m1 0v1m1 0v1m1 0v1m1 0v1m1 -1v1m1 0v1m1 -1v1m1 0v1m1 -1v1m1 0v1m1 -1v1m1 0v1m1 0v2m1 0v1m1 0v1m1 0v1m1 0v1m1 -1v1m1 0v1m1 0v1m1 -1v1m1 0v1m1 -1v1m1 -2v1m1 -1v1m1 -2v1m1 -1v1m1 -3v2m1 -3v1m1 -3v2m1 -3v1m1 -2v1m1 -3v2m1 -3v1m1 -2v1m1 -2v1m1 -1v1m1 -2v1m1 -1v1m1 -1v1m1 -2v1m1 -1v1m1 -1v1m1 0v1m1 0v1m1 -1v1m1 0v1m1 -1v1m1 -1v1m1 -1v1m1 -1v1m1 -2v1m1 -1v1m1 -2v1m1 -1v1m1 0v1m1 0v1m1 0v1m1 0v1m1 0v1m1 0v1m1 0v1m1 0v1m1 0v1m1 0v1m1 0v1m1 0v1m1 0v2m1 0v2m1 0v2m1 0v2m1 0v1m1 0v1m1 0v1m1 0v1m1 0v2m1 0v2m1 0v2m1 0v1m1 0v2m1 0v1m1 0v2m1 0v1m1 -1v1m1 0v1m1 -1v1m1 -1v1m1 -1v1m1 -1v1m1 -1v1m1 -1v1m1 -1v1m1 -1v1m1 -1v1m1 -1v1m1 0v1m1 0v1m1 -1v1m1 0v1m1 0v1m1 0v1m1 -1v1m1 0v1m1 0v1m1 0v2m1 0v1m1 0v1m1 0v2m1 0v2m1 0v2m1 0v1m1 0v2m1 0v2m1 0v2m1 0v2m1 0v1m1 0v1m1 0v1m1 0v1m1 0v1m1 0v1m1 0v1m1 0v1m1 -1v1m1 -2v1m1 -1v1m1 -1v1m1 -2v1m1 -1v1m1 -2v1m1 -1v1m1 -1v1m1 0v1m1 -1v1m1 -1v1m1 -2v1m1 -3v2m1 -3v1m1 -2v1m1 -3v2m1 -3v1m1 -3v2m1 -3v1m1 -2v1m1 -2v1m1 -1v1m1 -2v1m1 -2v1m1 -1v1m1 -2v1m1 -1v1m1 -2v1m1 -1v1m1 -2v1m1 -1v1m1 -1v1m1 -2v1m1 -1v1m1 -1v1m1 -2v1m1 -1v1m1 -2v1m1 -1v1m1 -1v1m1 0v1m1 -1v1m1 -1v1m1 -1v1m1 -1v1m1 -1v1m1 -1v1m1 -1v1m1 0v1m1 -1v1m1 -1v1m1 -2v1m1 -2v1m1 -1v1m1 -2v1m1 -2v1m1 -2v1m1 -2v1m1 -2v1m1 -2v1m1 -1v1m1 -2v1m1 -1v1m1 -2v1m1 -1v1m1 -2v1m1 -1v1m1 -2v1m1 -2v1m1 -1v1m1 -2v1m1 -1v1m1 -1v1m1 -1v1m1 -1v1m1 0v1m1 0v1m1 -1v1m1 0v1m1 -1v1m1 -2v1m1 -1v1m1 -1v1m1 -1v1m1 -1v1m1 -1v1m1 -1v1m1 -1v1m1 0v1m1 -1v1m1 -1v1m1 -3v2m1 -3v1m1 -3v2m1 -3v1m1 -3v2m1 -4v2m1 -4v2m1 -3v1m1 -1v1m1 -1v1m1 -1v1m1 -1v1m1 -1v1m1 -2v1m1 -1v1m1 -1v1m1 -2v1m1 -2v1m1 -1v1m1 -2v1m1 -3v2m1 -4v2m1 -4v2m1 -4v2m1 -4v2m1 -3v1m1 -3v2m1 -3v1m1 -2v1m1 -2v1m1 -2v1m1 -2v1m1 -3v2m1 -3v1m1 -3v2m1 -3v1m1 -2v1m1 -2v1m1 -2v1m1 -2v1m1 -2v1m1 -1v1m1 -2v1m1 -1v1m1 -2v1m1 -2v1m1 -2v1m1 -2v1m1 -2v1m1 -3v2m1 -3v1m1 -2v1m1 -2v1m1 -2v1m1 -2v1m1 -2v1m1 -2v1m1 -1v1m1 -2v1m1 -1v1m1 -2v1m1 -3v2m1 -3v1m1 -2v1m1 -3v2m1 -3v1m1 -3v2m1 -3v1m1 -3v2m1 -4v2m1 -4v2m1 -3v1m1 -3v2m1 -3v1m1 -3v2m1 -3v1m1 -3v2m1 -4v2m1 -4v2m1 -4v2m1 -4v2m1 -4v2m1 -4v2m1 -4v2m1 -4v2m1 -3v1m1 -3v2m1 -3v1m1 -2v1m1 -2v1m1 -2v1m1 -2v1m1 -2v1m1 -3v2m1 -3v1m1 -2v1m1 -2v1m1 -1v1m1 -2v1m1 -1v1m1 -1v1m1 -2v1m1 -1v1m1 -1v1m1 -2v1m1 -2v1m1 -1v1m1 -2v1m1 -1v1m1 0v1m1 -1v1m1 -1v1m1 -1v1m1 -1v1m1 -1v1m1 -1v1m1 -1v1m1 0v1m1 -1v1m1 -1v1m1 -1v1m1 0v1m1 -1v1m1 -1v1m1 -1v1m1 -1v1m1 -1v1m1 -1v1m1 -2v1m1 -2v1m1 -1v1m1 -2v1m1 -2v1m1 -3v2m1 -3v1m1 -2v1m1 -2v1m1 -2v1m1 -1v1m1 -2v1m1 -3v2m1 -3v1m1 -3v2m1 -3v1m1 -2v1m1 -2v1m1 -2v1m1 -2v1m1 -2v1m1 -2v1m1 -2v1m1 -2v1m1 -2v1m1 -2v1m1 -2v1m1 -2v1m1 -1v1m1 -2v1m1 -1v1m1 -1v1m1 -2v1m1 -1v1m1 -2v1m1 -1v1m1 -2v1m1 -1v1m1 -2v1m1 -1v1m1 -1v1m1 -1v1m1 -1v1m1 -1v1m1 -1v1m1 0v1m1 -1v1m1 -1v1m1 -1v1m1 -2v1m1 -1v1m1 -1v1m1 -1v1m1 -1v1m1 -1v1m1 -1v1m1 -2v1m1 -2v1m1 -1v1m1 -2v1m1 -3v2m1 -4v2m1 -4v2m1 -3v1m1 -2v1m1 -3v2m1 -3v1m1 -2v1m1 -3v2m1 -4v2m1 -4v2m1 -4v2m1 -4v2m1 -4v2m1 -4v2m1 -4v2m1 -3v1m1 -2v1m1 -1v1m1 -2v1m1 -2v1m1 -1v1m1 -2v1m1 -1v1m1 -1v1m1 0v1m1 -1v1m1 -1v1m1 0v1m1 -1v1m1 0v1m1 -1v1m1 0v1m1 -1v1m1 0v1m1 -1v1m1 -1v1m1 -2v1m1 -1v1m1 -1v1m1 -1v1m1 -1v1m1 -1v1m1 -1v1m1 -2v1m1 -1v1m1 -2v1m1 -1v1m1 -2v1m1 -1v1m1 -2v1m1 -1v1m1 -2v1m1 -2v1m1 -1v1m1 -2v1m1 -2v1m1 -2v1m1 -1v1m1 -2v1m1 -2v1m1 -2v1m1 -1v1m1 -2v1m1 -1v1m1 -2v1m1 -1v1m1 -1v1m1 -2v1m1 -3v2m1 -3v1m1 -2v1m1 -3v2m1 -4v2m1 -4v2m1 -3v1m1 -3v2m1 -4v2m1 -4v2m1 -3v1m1 -2v1m1 -2v1m1 -2v1m1 -2v1m1 -3v2m1 -3v1m1 -3v2m1 -3v1m1 -2v1m1 -2v1m1 -1v1m1 -2v1m1 -2v1m1 -2v1m1 -1v1m1 -2v1m1 0v1m1 0v1m1 -1v1m1 0v1m1 0v1m1 -1v1m1 0v1m1 -1v1m1 0v1m1 0v1m1 0v1m1 0v1m1 0v1m1 0v1m1 0v1m1 0v1m1 0v1m1 0v2m1 0v1m1 0v1m1 -1v1m1 -1v1m1 -1v1m1 -1v1m1 -1v1m1 0v1m1 -1v1m1 -1v1m1 -1v1m1 -2v1m1 -1v1m1 -1v1m1 -1v1m1 -1v1m1 -1v1m1 -1v1m1 -2v1m1 -1v1m1 -2v1m1 -1v1m1 -2v1m1 -1v1m1 -2v1m1 -1v1m1 -2v1m1 -1v1m1 -2v1m1 -1v1m1 -2v1m1 -2v1m1 -1v1m1 -2v1m1 -2v1m1 -2v1m1 -1v1m1 -2v1m1 -2v1m1 -2v1m1 -2v1m1 -2v1m1 -2v1m1 -1v1m1 -2v1m1 -1v1m1 0v1m1 -1v1m1 0v1m1 -1v1m1 0v1m1 0v1m1 -1v1m1 0v1m1 0v1m1 -1v1m1 0v1m1 -1v1m1 -1v1m1 -2v1m1 -1v1m1 -1v1m1 -1v1m1 -2v1m1 -1v1m1 -1v1m1 -1v1m1 -1v1m1 -1v1m1 -1v1m1 0v1m1 -1v1m1 0v1m1 -1v1m1 0v1m1 0v1m1 -1v1m1 0v1m1 -1v1m1 -1v1m1 -1v1m1 -1v1m1 0v1m1 0v1m1 0v1m1 0v1m1 0v1m1 -1v1m1 0v1m1 -1v1m1 -1v1m1 -2v1m1 -1v1m1 -1v1m1 -1v1m1 -1v1m1 -1v1m1 -1v1m1 -1v1m1 -1v1m1 -1v1m1 -1v1m1 -2v1m1 -1v1m1 -2v1m1 -1v1m1 -2v1m1 -2v1m1 -1v1m1 -2v1m1 -2v1m1 -2v1m1 -2v1m1 -2v1m1 -2v1m1 -2v1m1 -2v1m1 -2v1m1 -2v1m1 -1v1m1 -2v1m1 -1v1m1 -1v1m1 -1v1m1 -1v1m1 -1v1m1 0v2m1 0v2m1 0v2m1 0v1m1 0v1m1 -1v1m1 0v1m1 -1v1m1 -1v1m1 -2v1m1 -1v1m1 -1v1m1 -1v1m1 -1v1m1 -1v1m1 -1v1m1 -2v1m1 -1v1m1 -2v1m1 -1v1m1 -1v1m1 -2v1m1 -1v1m1 -1v1m1 -2v1m1 -3v2m1 -3v1m1 -2v1m1 -3v2m1 -3v1m1 -3v2m1 -3v1m1 -2v1m1 -2v1m1 -1v1m1 -2v1m1 -1v1m1 -2v1m1 -1v1m1 -1v1m1 0v1m1 0v1m1 -1v1m1 0v1m1 0v1m1 -1v1m1 0v1m1 -1v1m1 0v1m1 0v1m1 -1v1m1 0v1m1 -1v1m1 -2v1m1 -1v1m1 -1v1m1 -1v1m1 -2v1m1 -1v1m1 -1v1m1 -2v1m1 -2v1m1 -2v1m1 -2v1m1 -1v1m1 -2v1m1 -1v1m1 -1v1m1 -1v1m1 0v1m1 -1v1m1 -1v1m1 -2v1m1 -1v1m1 -2v1m1 -1v1m1 -2v1m1 -3v2m1 -3v1m1 -3v2m1 -4v2m1 -4v2m1 -4v2m1 -4v2m1 -3v1m1 -2v1m1 -2v1m1 -2v1m1 -2v1m1 -2v1m1 -1v1m1 -2v1m1 -2v1m1 -2v1m1 -1v1m1 -2v1m1 -1v1m1 -2v1m1 -1v1m1 -1v1m1 -1v1m1 0v1m1 -1v1m1 -1v1m1 0v1m1 0v2m1 0v1m1 0v1m1 0v2m1 0v2m1 0v2m1 0v1m1 0v2m1 0v2m1 0v2m1 0v2m1 0v2m1 0v3m1 0v2m1 0v4m1 0v5m1 0v4m1 0v5m1 0v5m1 0v5m1 0v5m1 0v5m1 0v4m1 0v3m1 0v3m1 0v3m1 0v2m1 0v2m1 0v2m1 0v2m1 0v1m1 0v1m1 -1v1m1 0v1m1 -1v1m1 0v1m1 -1v1m1 0v1m1 -1v1m1 -1v1m1 -1v1m1 -1v1m1 -1v1m1 -2v1m1 -2v1m1 -1v1m1 -2v1m1 -2v1m1 -3v2m1 -3v1m1 -2v1m1 -1v1m1 0v1m1 -1v1m1 -1v1m1 -1v1m1 0v1m1 -1v1m1 -1v1m1 -1v1m1 0v1m1 -1v1m1 -1v1m1 0v1m1 0v1m1 -1v1m1 0v1m1 0v1m1 -1v1m1 0v1m1 -1v1m1 0v1m1 -1v1m1 0v1m1 -1v1m1 0v1m1 0v1m1 0v1m1 0v1m1 -1v1m1 -2v1m1 -1v1m1 -1v1m1 -1v1m1 -2v1m1 -1v1m1 -1v1m1 -2v1m1 -2v1m1 -2v1m1 -2v1m1 -2v1m1 -2v1m1 -1v1m1 -2v1m1 0v1m1 0v1m1 -1v1m1 0v1m1 0v1m1 0v1m1 0v1m1 0v1m1 0v1m1 0v1m1 -1v1m1 0v1m1 0v1m1 -1v1m1 0v1m1 -1v1m1 -1v1m1 -1v1m1 -1v1m1 -1v1m1 -1v1m1 -2v1m1 -1v1m1 -1v1m1 -1v1m1 -1v1m1 -1v1m1 -1v1m1 -1v1m1 0v1m1 -1v1m1 -1v1m1 -2v1m1 -1v1m1 -2v1m1 -1v1m1 -2v1m1 -1v1m1 -2v1m1 -1v1m1 -1v1m1 -1v1m1 -1v1m1 -1v1m1 -1v1m1 -1v1m1 -1v1m1 -1v1m1 0v1m1 0v1m1 -1v1m1 0v1m1 0v1m1 0v2m1 0v1m1 0v1m1 0v1m1 0v1m1 -1v1m1 0v1m1 0v1m1 0v2m1 0v1m1 0v1m1 0v2m1 0v1m1 0v2m1 0v1m1 0v1m1 0v1m1 0v1m1 0v1m1 0v2m1 0v2m1 0v2m1 0v2m1 0v2m1 0v2m1 0v2m1 0v2m1 0v1m1 0v1m1 0v1m1 0v1m1 -1v1m1 0v1m1 -1v1m1 -1v1m1 -1v1m1 0v1m1 -1v1m1 -1v1m1 -2v1m1 -1v1m1 -2v1m1 -1v1m1 -2v1m1 -2v1m1 -2v1m1 -2v1m1 -2v1m1 -2v1m1 -1v1m1 -2v1m1 -1v1m1 -2v1m1 -1v1m1 -1v1m1 0v1m1 -1v1m1 0v1m1 -1v1m1 -1v1m1 -2v1m1 -1v1m1 -1v1m1 0v2m1 0v2m1 0v2m1 0v1m1 0v1m1 0v2m1 0v1m1 0v2m1 0v2m1 0v2m1 0v2m1 0v2" fill="none" stroke="#0000ff" stroke-width="1"/>
<path d="M3.5 471v1m1 0v1m1 0v1m1 0v1m1 0v1m1 0v2m1 0v1m1 0v2m1 0v1m1 0v1m1 0v1m1 -1v1m1 0v1m1 0v1m1 0v1m1 0v1m1 0v1m1 0v1m1 0v2m1 0v1m1 0v1m1 0v1m1 0v2m1 0v1m1 0v1m1 0v2m1 0v2m1 0v2m1 0v2m1 0v2m1 0v2m1 0v2m1 0v2m1 0v1m1 0v2m1 0v1m1 0v1m1 -1v1m1 -2v1m1 -1v1m1 -1v1m1 0v1m1 0v2m1 0v1m1 0v1m1 0v1m1 0v1m1 0v1m1 0v1m1 0v2m1 0v2m1 0v2m1 0v2m1 -2v1m1 -1v1m1 -2v1m1 -1v1m1 -1v1m1 -2v1m1 -1v1m1 -1v1m1 -2v1m1 -1v1m1 -2v1m1 -1v1m1 -1v1m1 -2v1m1 -1v1m1 -1v1m1 -2v1m1 -2v1m1 -1v1m1 -2v1m1 -2v1m1 -2v1m1 -1v1m1 -2v1m1 -2v1m1 -2v1m1 -1v1m1 -2v1m1 -1v1m1 0v1m1 -1v1m1 -1v1m1 -3v2m1 -3v1m1 -3v2m1 -4v2m1 -4v2m1 -4v2m1 -4v2m1 -4v2m1 -3v1m1 -3v2m1 -3v1m1 -2v1m1 -1v1m1 -2v1m1 -1v1m1 -1v1m1 -1v1m1 -1v1m1 -1v1m1 -1v1m1 -1v1m1 -2v1m1 -1v1m1 -1v1m1 -1v1m1 0v1m1 -1v1m1 -1v1m1 -2v1m1 -1v1m1 -2v1m1 -1v1m1 -3v2m1 -4v2m1 -4v2m1 -3v1m1 -3v2m1 -3v1m1 -3v2m1 -3v1m1 -3v2m1 -4v2m1 -4v2m1 -4v2m1 -5v3m1 -5v2m1 -5v3m1 -7v4m1 -8v4m1 -8v4m1 -8v4m1 -8v4m1 -8v4m1 -8v4m1 -8v4m1 -7v3m1 -6v3m1 -7v4m1 -7v3m1 -6v3m1 -5v2m1 -4v2m1 -4v2m1 -5v3m1 -5v2m1 -5v3m1 -5v2m1 -4v2m1 -3v1m1 -2v1m1 -1v1m1 -2v1m1 0v1m1 -1v1m1 0v1m1 -1v1m1 0v2m1 0v1m1 0v2m1 0v1m1 0v1m1 0v1m1 -1v1m1 0v1m1 -1v1m1 -1v1m1 -1v1m1 -1v1m1 0v1m1 0v1m1 0v1m1 0v1m1 -2v1m1 -2v1m1 -1v1m1 -2v1m1 -2v1m1 -2v1m1 -1v1m1 -2v1m1 -1v1m1 -2v1m1 -1v1m1 -1v1m1 -1v1m1 -1v1m1 -1v1m1 -1v1m1 -1v1m1 0v1m1 -1v1m1 -1v1m1 0v1m1 0v1m1 0v1m1 0v1m1 0v2m1 0v1m1 0v2m1 0v1m1 0v2m1 0v1m1 0v2m1 0v1m1 0v1m1 0v1m1 0v1m1 0v1m1 0v1m1 0v1m1 -1v1m1 0v1m1 0v1m1 0v1m1 -1v1m1 0v1m1 0v1m1 -1v1m1 0v1m1 -1v1m1 -1v1m1 0v1m1 -1v1m1 -1v1m1 -1v1m1 -1v1m1 -1v1m1 -1v1m1 -2v1m1 -2v1m1 -1v1m1 -2v1m1 -2v1m1 -2v1m1 -2v1m1 -2v1m1 -2v1m1 -2v1m1 -1v1m1 -2v1m1 -1v1m1 -2v1m1 -1v1m1 -1v1m1 -2v1m1 -2v1m1 -2v1m1 -2v1m1 0v1m1 -1v1m1 0v1m1 -1v1m1 0v1m1 0v1m1 -1v1m1 0v1m1 0v1m1 0v2m1 0v1m1 0v1m1 0v1m1 0v2m1 0v1m1 0v1m1 0v1m1 0v2m1 0v1m1 0v1m1 -1v1m1 0v1m1 -1v1m1 -1v1m1 -3v2m1 -3v1m1 -3v2m1 -3v1m1 -1v1m1 -2v1m1 -1v1m1 -2v2m1 -6v4m1 -8v4m1 -8v4m1 -7v3m1 -6v3m1 -5v2m1 -5v3m1 -6v3m1 -7v4m1 -7v3m1 -7v4m1 -7v3m1 -6v3m1 -5v2m1 -5v3m1 -6v3m1 -5v2m1 -5v3m1 -5v2m1 -5v3m1 -5v2m1 -4v2m1 -4v2m1 -4v2m1 -3v1m1 -2v1m1 -1v1m1 -2v1m1 -2v1m1 -3v2m1 -3v1m1 -2v1m1 -1v1m1 -1v1m1 -1v1m1 -1v1m1 0v2m1 0v2m1 0v2m1 0v1m1 -1v1m1 0v1m1 -1v1m1 -1v1m1 0v1m1 -1v1m1 0v1m1 -1v1m1 -1v1m1 -1v1m1 -1v1m1 -1v1m1 -2v1m1 -2v1m1 -2v1m1 -2v1m1 -2v1m1 -3v2m1 -3v1m1 -2v1m1 -2v1m1 -1v1m1 -2v1m1 -1v1m1 -1v1m1 -2v1m1 -1v1m1 -1v1m1 -1v1m1 -2v1m1 -1v1m1 -1v1m1 -2v1m1 -2v1m1 -1v1m1 -2v1m1 -3v2m1 -4v2m1 -4v2m1 -4v2m1 -4v2m1 -4v2m1 -4v2m1 -4v2m1 -3v1m1 -2v1m1 -1v1m1 -2v1m1 -1v1m1 0v1m1 -1v1m1 -1v1m1 -2v1m1 -3v2m1 -3v1m1 -2v1m1 0v2m1 0v2m1 0v2m1 0v1m1 0v1m1 0v1m1 -1v1m1 0v1m1 0v2m1 0v2m1 0v2m1 0v2m1 0v1m1 0v1m1 0v1m1 0v1m1 0v2m1 0v1m1 0v2m1 0v1m1 0v1m1 0v1m1 0v1m1 0v1m1 0v1m1 0v2m1 0v1m1 0v1m1 0v2m1 0v1m1 0v2m1 0v1m1 0v1m1 0v1m1 0v1m1 0v1m1 0v2m1 0v1m1 0v2m1 0v1m1 0v2m1 0v2m1 0v2m1 0v1m1 0v2m1 0v2m1 0v2m1 0v2m1 0v1m1 0v1m1 -1v1m1 0v1m1 0v1m1 0v1m1 -1v1m1 0v1m1 -1v1m1 0v1m1 -1v1m1 -1v1m1 -1v1m1 0v1m1 -1v1m1 -1v1m1 -2v1m1 -2v1m1 -2v1m1 -2v1m1 -3v2m1 -4v2m1 -4v2m1 -5v3m1 -6v3m1 -6v3m1 -6v3m1 -6v3m1 -5v2m1 -5v3m1 -5v2m1 -5v3m1 -5v2m1 -4v2m1 -4v2m1 -5v3m1 -6v3m1 -6v3m1 -6v3m1 -6v3m1 -5v2m1 -5v3m1 -5v2m1 -5v3m1 -5v2m1 -4v2m1 -4v2m1 -4v2m1 -4v2m1 -4v2m1 -4v2m1 -4v2m1 -4v2m1 -4v2m1 -4v2m1 -4v2m1 -4v2m1 -3v1m1 -3v2m1 -3v1m1 -3v2m1 -4v2m1 -4v2m1 -4v2m1 -5v3m1 -6v3m1 -6v3m1 -6v3m1 -6v3m1 -5v2m1 -5v3m1 -6v3m1 -6v3m1 -5v2m1 -5v3m1 -6v3m1 -7v4m1 -7v3m1 -7v4m1 -8v4m1 -8v4m1 -9v5m1 -9v4m1 -9v5m1 -9v4m1 -8v4m1 -8v4m1 -8v4m1 -6v2m1 -5v3m1 -5v2m1 -5v3m1 -6v3m1 -5v2m1 -5v3m1 -6v3m1 -5v2m1 -4v2m1 -4v2m1 -5v3m1 -6v3m1 -5v2m1 -5v3m1 -6v3m1 -6v3m1 -7v4m1 -7v3m1 -6v3m1 -7v4m1 -7v3m1 -7v4m1 -7v3m1 -6v3m1 -6v3m1 -6v3m1 -5v2m1 -3v1m1 -3v2m1 -3v1m1 -2v1m1 -2v1m1 -2v1m1 -2v1m1 -3v2m1 -4v2m1 -5v3m1 -5v2m1 -4v2m1 -4v2m1 -4v2m1 -4v2m1 -3v1m1 -3v2m1 -4v2m1 -4v2m1 -4v2m1 -4v2m1 -3v1m1 -3v2m1 -3v1m1 -2v1m1 -2v1m1 -1v1m1 -2v1m1 -2v1m1 -2v1m1 -1v1m1 -2v1m1 -1v1m1 -2v1m1 -1v1m1 -1v1m1 -1v1m1 -1v1m1 -1v1m1 -1v1m1 -2v1m1 -3v2m1 -3v1m1 -2v1m1 -3v2m1 -3v1m1 -3v2m1 -3v1m1 0v1m1 0v1m1 -1v1m1 0v1m1 0v1m1 -1v1m1 0v1m1 -1v1m1 0v2m1 0v1m1 0v2m1 0v1m1 0v1m1 0v1m1 -1v1m1 0v1m1 0v1m1 0v1m1 -1v1m1 0v1m1 0v1m1 -1v1m1 0v1m1 -1v1m1 0v1m1 0v1m1 0v1m1 0v1m1 -1v1m1 -2v1m1 -1v1m1 -1v1m1 -1v1m1 -1v1m1 -1v1m1 -1v1m1 -2v1m1 -1v1m1 -2v1m1 -1v1m1 -1v1m1 -1v1m1 -1v1m1 -1v1m1 0v1m1 0v1m1 0v1m1 0v1m1 0v1m1 0v2m1 0v1m1 0v1m1 0v2m1 0v2m1 0v2m1 0v1m1 -1v1m1 -2v1m1 -1v1m1 -1v1m1 0v1m1 0v2m1 0v1m1 0v1m1 0v2m1 0v2m1 0v2m1 0v2m1 0v3m1 0v3m1 0v3m1 0v3m1 0v2m1 0v3m1 0v2m1 0v3m1 0v2m1 0v3m1 0v2m1 0v2m1 0v1m1 0v1m1 -1v1m1 0v1m1 -1v1m1 0v1m1 -1v1m1 -1v1m1 -1v1m1 -1v1m1 -1v1m1 -1v1m1 -1v1m1 -2v1m1 -1v1m1 -1v1m1 -2v1m1 -2v1m1 -1v1m1 -2v1m1 -2v1m1 -2v1m1 -2v1m1 -2v1m1 -2v1m1 -3v2m1 -3v1m1 -2v1m1 -2v1m1 -3v2m1 -3v1m1 -2v1m1 -1v1m1 0v1m1 -1v1m1 -1v2m1 0v4m1 0v3m1 0v4m1 0v3m1 0v3m1 0v3m1 0v3m1 0v3m1 0v3m1 0v3m1 0v3m1 0v2m1 0v2m1 0v2m1 0v2m1 0v3m1 0v2m1 0v3m1 0v2m1 0v2m1 0v2m1 0v2m1 0v2m1 0v2m1 0v2m1 0v2m1 0v2m1 0v3m1 0v3m1 0v3m1 0v3m1 0v3m1 0v3m1 0v3m1 0v3m1 0v3m1 0v2m1 0v3m1 0v2m1 0v2m1 0v2m1 0v2m1 0v2m1 0v3m1 0v4m1 0v3m1 0v4m1 0v2m1 0v2m1 0v2m1 0v2m1 0v2m1 0v2m1 0v3m1 0v2m1 0v3m1 0v3m1 0v4m1 0v3m1 0v3m1 0v2m1 0v2m1 0v2m1 0v2m1 0v2m1 0v2m1 0v2m1 0v1m1 0v1m1 0v1m1 -1v1m1 0v1m1 0v1m1 -1v1m1 0v1m1 -1v1m1 -1v1m1 0v1m1 -1v1m1 -1v1m1 0v1m1 0v1m1 -1v1m1 0v1m1 -1v1m1 0v1m1 -1v1m1 -1v1m1 -1v1m1 0v1m1 -1v1m1 -1v1m1 0v1m1 0v2m1 0v1m1 0v1m1 0v1m1 -1v1m1 0v1m1 -1v1m1 0v1m1 -1v1m1 0v1m1 -1v1m1 -2v1m1 -1v1m1 -2v1m1 -2v2m1 -4v2m1 -4v2m1 -4v2m1 -4v2m1 -4v2m1 -3v1m1 -3v2m1 -3v1m1 -2v1m1 -2v1m1 -2v1m1 -2v1m1 -1v1m1 -1v1m1 -1v1m1 -1v1m1 0v1m1 0v1m1 -1v1m1 0v1m1 -1v1m1 -2v1m1 -1v1m1 -1v1m1 -2v1m1 -1v1m1 -2v1m1 -1v1m1 0v1m1 0v2m1 0v1m1 0v1m1 0v1m1 0v1m1 0v1m1 0v1m1 0v2m1 0v1m1 0v2m1 0v2m1 0v2m1 0v2m1 0v2m1 0v2m1 0v1m1 0v1m1 0v1m1 0v1m1 0v2m1 0v2m1 0v2m1 0v2m1 0v2m1 0v2m1 0v2m1 0v1m1 -1v1m1 0v1m1 -1v1m1 -1v1m1 -1v1m1 -2v1m1 -1v1m1 -1v1m1 -1v1m1 -2v1m1 -1v1m1 -1v1m1 0v1m1 0v1m1 -1v1m1 0v1m1 0v1m1 0v1m1 -1v1m1 0v1m1 0v2m1 0v1m1 0v2m1 0v1m1 0v2m1 0v2m1 0v2m1 0v2m1 0v2m1 0v2m1 0v2m1 0v2m1 0v1m1 0v1m1 0v1m1 0v1m1 0v1m1 0v1m1 0v1m1 0v1m1 -2v1m1 -2v1m1 -1v1m1 -2v1m1 -2v1m1 -1v1m1 -2v1m1 -1v1m1 -1v1m1 -1v1m1 -1v1m1 -1v1m1 -3v2m1 -3v1m1 -3v2m1 -3v1m1 -3v2m1 -4v2m1 -4v2m1 -4v2m1 -3v1m1 -2v1m1 -1v1m1 -2v1m1 -2v1m1 -1v1m1 -2v1m1 -1v1m1 -2v1m1 -2v1m1 -1v1m1 -2v1m1 -1v1m1 -2v1m1 -1v1m1 -1v1m1 -2v1m1 -2v1m1 -1v1m1 -2v1m1 -1v1m1 0v1m1 -1v1m1 -1v1m1 -1v1m1 0v1m1 -1v1m1 -1v1m1 -1v1m1 0v1m1 -1v1m1 -1v1m1 -2v1m1 -2v1m1 -2v1m1 -2v1m1 -2v1m1 -2v1m1 -1v1m1 -2v1m1 -2v1m1 -2v1m1 -2v1m1 -2v1m1 -2v1m1 -1v1m1 -2v1m1 -1v1m1 -2v1m1 -2v1m1 -1v1m1 -2v1m1 -1v1m1 0v1m1 -1v1m1 -1v1m1 0v1m1 0v1m1 0v1m1 0v1m1 -1v1m1 -2v1m1 -1v1m1 -1v1m1 -1v1m1 -1v1m1 -1v1m1 -1v1m1 0v1m1 -1v1m1 0v1m1 -1v1m1 -3v2m1 -4v2m1 -4v2m1 -4v2m1 -4v2m1 -4v2m1 -4v2m1 -4v2m1 -2v1m1 -1v1m1 -1v1m1 -1v1m1 -1v1m1 -1v1m1 -1v1m1 -1v1m1 -2v1m1 -2v1m1 -2v1m1 -3v2m1 -4v2m1 -4v2m1 -4v2m1 -4v2m1 -4v2m1 -4v2m1 -4v2m1 -3v1m1 -2v1m1 -2v1m1 -2v1m1 -2v1m1 -3v2m1 -4v2m1 -4v2m1 -3v1m1 -2v1m1 -2v1m1 -2v1m1 -2v1m1 -1v1m1 -2v1m1 -1v1m1 -1v1m1 -2v1m1 -3v2m1 -3v1m1 -2v1m1 -2v1m1 -2v1m1 -2v1m1 -2v1m1 -2v1m1 -3v2m1 -3v1m1 -2v1m1 -1v1m1 -2v1m1 -1v1m1 -1v1m1 -3v2m1 -3v1m1 -3v2m1 -3v1m1 -3v2m1 -3v1m1 -3v2m1 -3v1m1 -3v2m1 -4v2m1 -4v2m1 -4v2m1 -4v2m1 -4v2m1 -4v2m1 -3v1m1 -3v2m1 -4v2m1 -4v2m1 -5v3m1 -5v2m1 -4v2m1 -4v2m1 -4v2m1 -3v1m1 -3v2m1 -3v1m1 -2v1m1 -2v1m1 -2v1m1 -2v1m1 -2v1m1 -2v1m1 -3v2m1 -3v1m1 -2v1m1 -1v1m1 -2v1m1 -1v1m1 -1v1m1 -1v1m1 -2v1m1 -1v1m1 -1v1m1 -2v1m1 -1v1m1 -2v1m1 -1v1m1 0v1m1 -1v1m1 0v1m1 -1v1m1 -1v1m1 0v1m1 -1v1m1 -1v1m1 0v1m1 -1v1m1 0v1m1 -1v1m1 -1v1m1 0v1m1 -1v1m1 -1v1m1 -1v1m1 0v1m1 -1v1m1 -1v1m1 -2v1m1 -2v1m1 -2v1m1 -2v1m1 -2v1m1 -3v2m1 -3v1m1 -2v1m1 -2v1m1 -2v1m1 -2v1m1 -2v1m1 -3v2m1 -3v1m1 -3v2m1 -3v1m1 -2v1m1 -2v1m1 -2v1m1 -2v1m1 -2v1m1 -3v2m1 -3v1m1 -2v1m1 -2v1m1 -2v1m1 -2v1m1 -2v1m1 -1v1m1 -1v1m1 -1v1m1 -1v1m1 -2v1m1 -1v1m1 -2v1m1 -1v1m1 -2v1m1 -1v1m1 -2v1m1 -1v1m1 -1v1m1 0v1m1 -1v1m1 -1v1m1 -1v1m1 0v1m1 -1v1m1 -1v1m1 -1v1m1 -1v1m1 -1v1m1 -1v1m1 -1v1m1 -1v1m1 -1v1m1 -1v1m1 -2v1m1 -2v1m1 -2v1m1 -2v1m1 -3v2m1 -4v2m1 -4v2m1 -4v2m1 -4v2m1 -3v1m1 -3v2m1 -4v2m1 -4v2m1 -4v2m1 -4v2m1 -4v2m1 -4v2m1 -4v2m1 -4v2m1 -4v2m1 -3v1m1 -2v1m1 -1v1m1 -2v1m1 -1v1m1 -2v1m1 -1v1m1 -1v1m1 0v1m1 -1v1m1 0v1m1 -1v1m1 0v1m1 0v1m1 -1v1m1 0v1m1 0v1m1 -1v1m1 0v1m1 -1v1m1 -1v1m1 -1v1m1 -1v1m1 -1v1m1 -1v1m1 -2v1m1 -1v1m1 -1v1m1 -1v1m1 -2v1m1 -1v1m1 -1v1m1 -2v1m1 -1v1m1 -2v1m1 -1v1m1 -2v1m1 -2v1m1 -2v1m1 -2v1m1 -2v1m1 -2v1m1 -1v1m1 -2v1m1 -2v1m1 -2v1m1 -1v1m1 -2v1m1 -1v1m1 -2v1m1 -1v1m1 -1v1m1 -2v1m1 -3v2m1 -3v1m1 -2v1m1 -3v2m1 -4v2m1 -4v2m1 -4v2m1 -4v2m1 -4v2m1 -4v2m1 -4v2m1 -3v1m1 -3v2m1 -3v1m1 -2v1m1 -3v2m1 -3v1m1 -3v2m1 -3v1m1 -2v1m1 -2v1m1 -1v1m1 -2v1m1 -2v1m1 -1v1m1 -2v1m1 -1v1m1 0v1m1 0v1m1 0v1m1 0v1m1 0v1m1 0v1m1 -1v1m1 0v1m1 0v1m1 0v2m1 0v1m1 0v1m1 0v2m1 0v1m1 0v2m1 0v1m1 0v2m1 0v1m1 0v2m1 0v1m1 -1v1m1 -1v1m1 -1v1m1 -1v1m1 -1v1m1 -1v1m1 -1v1m1 -1v1m1 -1v1m1 -2v1m1 -1v1m1 -1v1m1 -1v1m1 -1v1m1 -1v1m1 -1v1m1 -2v1m1 -1v1m1 -2v1m1 -1v1m1 -2v1m1 -1v1m1 -2v1m1 -1v1m1 -2v1m1 -2v1m1 -1v1m1 -2v1m1 -2v1m1 -2v1m1 -1v1m1 -2v1m1 -2v1m1 -2v1m1 -2v1m1 -2v1m1 -2v1m1 -3v2m1 -3v1m1 -2v1m1 -2v1m1 -1v1m1 -2v1m1 -1v1m1 0v1m1 0v1m1 -1v1m1 0v1m1 0v1m1 0v1m1 0v1m1 0v1m1 0v1m1 0v1m1 -1v1m1 0v1m1 -2v1m1 -1v1m1 -2v1m1 -1v1m1 -1v1m1 -2v1m1 -1v1m1 -1v1m1 -1v1m1 0v1m1 -1v1m1 -1v1m1 0v1m1 -1v1m1 0v1m1 -1v1m1 0v1m1 0v1m1 0v1m1 0v1m1 -1v1m1 -1v1m1 -1v1m1 -1v1m1 0v1m1 0v2m1 0v1m1 0v1m1 -1v1m1 0v1m1 -1v1m1 -1v1m1 -1v1m1 -2v1m1 -1v1m1 -1v1m1 -1v1m1 -1v1m1 -1v1m1 -1v1m1 -1v1m1 -2v1m1 -1v1m1 -1v1m1 -1v1m1 -2v1m1 -1v1m1 -1v1m1 -2v1m1 -2v1m1 -2v1m1 -2v1m1 -2v1m1 -3v2m1 -3v1m1 -2v1m1 -2v1m1 -3v2m1 -3v1m1 -2v1m1 -2v1m1 -1v1m1 -2v1m1 -1v1m1 -1v1m1 -1v1m1 -1v1m1 -1v1m1 0v2m1 0v2m1 0v2m1 0v2m1 0v1m1 0v1m1 0v1m1 0v1m1 -2v1m1 -1v1m1 -2v1m1 -1v1m1 -1v1m1 -1v1m1 -1v1m1 -1v1m1 -2v1m1 -1v1m1 -2v1m1 -1v1m1 -2v1m1 -1v1m1 -2v1m1 -1v1m1 -2v1m1 -3v2m1 -3v1m1 -2v1m1 -3v2m1 -4v2m1 -4v2m1 -4v2m1 -3v1m1 -2v1m1 -2v1m1 -2v1m1 -1v1m1 -1v1m1 -1v1m1 -1v1m1 0v1m1 0v1m1 0v1m1 0v1m1 0v1m1 0v1m1 -1v1m1 0v1m1 0v1m1 0v1m1 0v1m1 0v1m1 -2v1m1 -1v1m1 -2v1m1 -1v1m1 -1v1m1 -2v1m1 -1v1m1 -1v1m1 -2v1m1 -3v2m1 -3v1m1 -2v1m1 -1v1m1 -1v1m1 -1v1m1 -1v1m1 -1v1m1 0v1m1 -1v1m1 -1v1m1 -2v1m1 -1v1m1 -2v1m1 -1v1m1 -3v2m1 -3v1m1 -3v2m1 -4v2m1 -5v3m1 -5v2m1 -5v3m1 -5v2m1 -3v1m1 -2v1m1 -2v1m1 -2v1m1 -2v1m1 -2v1m1 -2v1m1 -2v1m1 -2v1m1 -1v1m1 -2v1m1 -1v1m1 -1v1m1 -2v1m1 -1v1m1 -1v1m1 0v1m1 -1v1m1 0v1m1 -1v1m1 0v2m1 0v2m1 0v2m1 0v2m1 0v2m1 0v2m1 0v2m1 0v2m1 0v2m1 0v2m1 0v2m1 0v3m1 0v3m1 0v2m1 0v3m1 0v4m1 0v6m1 0v6m1 0v6m1 0v5m1 0v6m1 0v6m1 0v6m1 0v5m1 0v4m1 0v3m1 0v4m1 0v2m1 0v2m1 0v1m1 0v2m1 0v1m1 -1v1m1 0v1m1 -1v1m1 -1v1m1 -1v1m1 -1v1m1 -1v1m1 -1v1m1 -1v1m1 -2v1m1 -1v1m1 -1v1m1 -2v1m1 -3v2m1 -3v1m1 -2v1m1 -3v2m1 -4v2m1 -4v2m1 -3v1m1 -1v1m1 -1v1m1 -1v1m1 -1v1m1 -1v1m1 0v1m1 -1v1m1 -1v1m1 -1v1m1 0v1m1 -1v1m1 -1v1m1 0v1m1 0v1m1 -1v1m1 0v1m1 0v1m1 -1v1m1 0v1m1 -1v1m1 0v1m1 -1v1m1 0v1m1 -1v1m1 0v1m1 0v1m1 0v1m1 0v1m1 -1v1m1 -2v1m1 -1v1m1 -1v1m1 -2v1m1 -1v1m1 -2v1m1 -1v1m1 -2v1m1 -3v2m1 -3v1m1 -2v1m1 -2v1m1 -2v1m1 -1v1m1 -2v1m1 0v1m1 0v1m1 -1v1m1 0v1m1 0v1m1 0v1m1 0v1m1 0v1m1 0v1m1 0v1m1 0v1m1 0v1m1 0v1m1 -1v1m1 0v1m1 -1v1m1 -1v1m1 -1v1m1 -1v1m1 -1v1m1 -2v1m1 -1v1m1 -2v1m1 -1v1m1 -1v1m1 -1v1m1 -1v1m1 -1v1m1 -1v1m1 0v1m1 -1v1m1 -1v1m1 -2v1m1 -2v1m1 -1v1m1 -2v1m1 -2v1m1 -1v1m1 -2v1m1 -1v1m1 -1v1m1 -1v1m1 -1v1m1 -1v1m1 -1v1m1 -1v1m1 -1v1m1 -1v1m1 0v1m1 0v1m1 -1v1m1 0v1m1 0v2m1 0v1m1 0v2m1 0v1m1 0v1m1 0v1m1 0v1m1 0v1m1 0v2m1 0v1m1 0v2m1 0v1m1 0v2m1 0v2m1 0v2m1 0v1m1 0v1m1 0v2m1 0v1m1 0v2m1 0v2m1 0v2m1 0v2m1 0v2m1 0v2m1 0v2m1 0v2m1 0v2m1 0v1m1 0v1m1 0v1m1 0v1m1 -1v1m1 -1v1m1 -1v1m1 -1v1m1 -1v1m1 -1v1m1 -1v1m1 -1v1m1 -2v1m1 -1v1m1 -2v1m1 -1v1m1 -3v2m1 -3v1m1 -3v2m1 -3v1m1 -2v1m1 -2v1m1 -1v1m1 -2v1m1 -2v1m1 -1v1m1 -2v1m1 -1v1m1 0v1m1 -1v1m1 0v1m1 -1v1m1 -1v1m1 -2v1m1 -1v1m1 -1v1m1 0v2m1 0v2m1 0v2m1 0v2m1 0v2m1 0v2m1 0v2m1 0v2m1 0v2m1 0v3m1 0v2m1 0v2" fill="none" stroke="#0000ff" stroke-width="1"/>
<path d="M3.5 473v1m1 0v1m1 0v1m1 -1v1m1 0v1m1 0v2m1 0v2m1 0v2m1 0v1m1 0v1m1 0v1m1 0v1m1 0v1m1 0v1m1 0v1m1 0v1m1 0v1m1 0v1m1 0v2m1 0v1m1 0v1m1 0v2m1 0v1m1 0v2m1 0v1m1 0v2m1 0v2m1 0v2m1 0v2m1 0v2m1 0v3m1 0v2m1 0v2m1 0v2m1 0v1m1 0v2m1 0v1m1 -2v1m1 -2v1m1 -1v1m1 -2v1m1 0v1m1 0v2m1 0v1m1 0v1m1 0v1m1 0v2m1 0v1m1 0v1m1 0v2m1 0v2m1 0v2m1 0v1m1 -2v1m1 -1v1m1 -2v1m1 -1v1m1 -2v1m1 -1v1m1 -2v1m1 -1v1m1 -2v1m1 -2v1m1 -1v1m1 -2v1m1 -1v1m1 -2v1m1 -1v1m1 -1v1m1 -2v1m1 -3v2m1 -3v1m1 -2v1m1 -2v1m1 -2v1m1 -2v1m1 -2v1m1 -2v1m1 -2v1m1 -1v1m1 -2v1m1 0v1m1 -1v1m1 0v1m1 -1v1m1 -3v2m1 -4v2m1 -4v2m1 -4v2m1 -4v2m1 -5v3m1 -5v2m1 -4v2m1 -4v2m1 -3v1m1 -3v2m1 -3v1m1 -1v1m1 -1v1m1 -1v1m1 -1v1m1 -1v1m1 -1v1m1 -1v1m1 -1v1m1 -1v1m1 -1v1m1 -1v1m1 -1v1m1 -1v1m1 0v1m1 -1v1m1 -1v1m1 -2v1m1 -2v1m1 -1v1m1 -2v1m1 -3v2m1 -4v2m1 -4v2m1 -4v2m1 -4v2m1 -3v1m1 -3v2m1 -3v1m1 -3v2m1 -4v2m1 -4v2m1 -5v3m1 -6v3m1 -6v3m1 -6v3m1 -7v4m1 -9v5m1 -9v4m1 -9v5m1 -10v5m1 -9v4m1 -8v4m1 -8v4m1 -8v4m1 -8v4m1 -7v3m1 -7v4m1 -7v3m1 -5v2m1 -4v2m1 -4v2m1 -5v3m1 -5v2m1 -4v2m1 -4v2m1 -4v2m1 -3v1m1 -1v1m1 -2v1m1 -1v1m1 0v1m1 0v1m1 0v1m1 0v1m1 0v2m1 0v2m1 0v2m1 0v2m1 0v1m1 0v1m1 0v1m1 0v1m1 -1v1m1 0v1m1 -1v1m1 -1v1m1 0v1m1 0v2m1 0v1m1 0v1m1 -2v1m1 -2v1m1 -2v1m1 -2v1m1 -2v1m1 -1v1m1 -2v1m1 -1v1m1 -1v1m1 -2v1m1 -1v1m1 -1v1m1 -1v1m1 -1v1m1 -1v1m1 -1v1m1 -1v1m1 0v1m1 -1v1m1 -1v1m1 0v1m1 0v1m1 0v1m1 0v1m1 0v2m1 0v2m1 0v2m1 0v2m1 0v2m1 0v2m1 0v2m1 0v1m1 0v1m1 0v1m1 0v1m1 0v1m1 0v1m1 0v1m1 -1v1m1 0v1m1 0v1m1 0v1m1 0v1m1 0v1m1 -1v1m1 0v1m1 -1v1m1 -1v1m1 -1v1m1 0v1m1 -1v1m1 -1v1m1 -1v1m1 -2v1m1 -1v1m1 -1v1m1 -2v1m1 -2v1m1 -2v1m1 -2v1m1 -2v1m1 -2v1m1 -2v1m1 -2v1m1 -2v1m1 -2v1m1 -1v1m1 -2v1m1 -2v1m1 -1v1m1 -2v1m1 -1v1m1 -2v1m1 -2v1m1 -2v1m1 -2v1m1 0v1m1 0v1m1 -1v1m1 0v1m1 0v1m1 0v1m1 -1v1m1 0v1m1 0v1m1 0v2m1 0v1m1 0v1m1 0v2m1 0v2m1 0v2m1 0v1m1 0v1m1 0v2m1 0v1m1 0v1m1 -1v1m1 0v1m1 -1v1m1 -1v1m1 -3v2m1 -4v2m1 -4v2m1 -4v2m1 -2v1m1 -1v1m1 -1v1m1 -3v3m1 -8v5m1 -9v4m1 -9v5m1 -9v4m1 -7v3m1 -6v3m1 -6v3m1 -6v3m1 -7v4m1 -8v4m1 -8v4m1 -7v3m1 -6v3m1 -7v4m1 -7v3m1 -6v3m1 -5v2m1 -5v3m1 -5v2m1 -5v3m1 -5v2m1 -5v3m1 -5v2m1 -4v2m1 -2v1m1 -2v1m1 -1v1m1 -1v1m1 -2v1m1 -3v2m1 -3v1m1 -2v1m1 -1v1m1 0v1m1 -1v1m1 -1v1m1 0v2m1 0v2m1 0v2m1 0v2m1 0v1m1 -1v1m1 0v1m1 -1v1m1 0v1m1 0v1m1 -1v1m1 0v1m1 -1v1m1 0v1m1 -1v1m1 -1v1m1 -2v1m1 -3v2m1 -3v1m1 -2v1m1 -2v1m1 -3v2m1 -3v1m1 -2v1m1 -2v1m1 -1v1m1 -2v1m1 -1v1m1 -1v1m1 -2v1m1 -1v1m1 -1v1m1 -1v1m1 -2v1m1 -1v1m1 -1v1m1 -2v1m1 -2v1m1 -1v1m1 -2v1m1 -3v2m1 -4v2m1 -4v2m1 -5v3m1 -5v2m1 -5v3m1 -5v2m1 -4v2m1 -3v1m1 -2v1m1 -1v1m1 -2v1m1 0v1m1 -1v1m1 0v1m1 -1v1m1 -2v1m1 -3v2m1 -3v1m1 -2v1m1 0v2m1 0v2m1 0v2m1 0v2m1 0v1m1 0v2m1 0v1m1 0v2m1 0v2m1 0v2m1 0v2m1 0v2m1 0v1m1 0v2m1 0v1m1 0v1m1 0v2m1 0v1m1 0v2m1 0v1m1 0v1m1 0v2m1 0v1m1 0v1m1 0v1m1 0v2m1 0v1m1 0v1m1 0v2m1 0v2m1 0v2m1 0v1m1 0v1m1 0v1m1 0v1m1 0v1m1 0v2m1 0v1m1 0v2m1 0v1m1 0v2m1 0v2m1 0v2m1 0v2m1 0v2m1 0v2m1 0v2m1 0v2m1 0v1m1 0v1m1 -1v1m1 0v1m1 0v1m1 0v1m1 -1v1m1 0v1m1 -1v1m1 -1v1m1 -1v1m1 -1v1m1 -1v1m1 0v1m1 -1v1m1 -1v1m1 -3v2m1 -3v1m1 -3v2m1 -4v2m1 -4v2m1 -5v3m1 -5v2m1 -5v3m1 -7v4m1 -7v3m1 -7v4m1 -7v3m1 -6v3m1 -6v3m1 -6v3m1 -6v3m1 -5v2m1 -5v3m1 -5v2m1 -5v3m1 -6v3m1 -6v3m1 -6v3m1 -6v3m1 -6v3m1 -6v3m1 -6v3m1 -6v3m1 -5v2m1 -4v2m1 -4v2m1 -4v2m1 -4v2m1 -4v2m1 -4v2m1 -5v3m1 -5v2m1 -4v2m1 -4v2m1 -4v2m1 -3v1m1 -3v2m1 -3v1m1 -2v1m1 -3v2m1 -4v2m1 -4v2m1 -4v2m1 -5v3m1 -7v4m1 -7v3m1 -6v3m1 -6v3m1 -6v3m1 -6v3m1 -6v3m1 -6v3m1 -5v2m1 -5v3m1 -6v3m1 -7v4m1 -8v4m1 -8v4m1 -8v4m1 -9v5m1 -10v5m1 -10v5m1 -10v5m1 -9v4m1 -9v5m1 -9v4m1 -8v4m1 -6v2m1 -4v2m1 -4v2m1 -5v3m1 -5v2m1 -5v3m1 -5v2m1 -5v3m1 -5v2m1 -4v2m1 -4v2m1 -5v3m1 -6v3m1 -5v2m1 -5v3m1 -6v3m1 -6v3m1 -7v4m1 -7v3m1 -6v3m1 -7v4m1 -8v4m1 -8v4m1 -7v3m1 -6v3m1 -6v3m1 -6v3m1 -5v2m1 -3v1m1 -2v1m1 -2v1m1 -2v1m1 -2v1m1 -2v1m1 -1v1m1 -3v2m1 -4v2m1 -4v2m1 -4v2m1 -4v2m1 -4v2m1 -4v2m1 -4v2m1 -3v1m1 -3v2m1 -4v2m1 -4v2m1 -4v2m1 -3v1m1 -3v2m1 -3v1m1 -2v1m1 -2v1m1 -2v1m1 -1v1m1 -2v1m1 -2v1m1 -1v1m1 -2v1m1 -1v1m1 -1v1m1 -1v1m1 -1v1m1 -1v1m1 -1v1m1 0v1m1 -1v1m1 -1v1m1 -2v1m1 -3v2m1 -3v1m1 -2v1m1 -2v1m1 -3v2m1 -3v1m1 -2v1m1 0v1m1 0v1m1 -1v1m1 0v1m1 0v1m1 0v1m1 0v1m1 0v1m1 0v2m1 0v2m1 0v2m1 0v2m1 0v1m1 0v1m1 -1v1m1 0v1m1 0v1m1 0v1m1 -1v1m1 0v1m1 0v1m1 -1v1m1 0v1m1 -1v1m1 0v1m1 0v2m1 0v1m1 0v1m1 -2v1m1 -1v1m1 -2v1m1 -1v1m1 -1v1m1 0v1m1 -1v1m1 -1v1m1 -2v1m1 -2v1m1 -1v1m1 -2v1m1 -1v1m1 -1v1m1 -1v1m1 -1v1m1 0v1m1 0v2m1 0v1m1 0v1m1 0v2m1 0v1m1 0v2m1 0v1m1 0v2m1 0v2m1 0v2m1 0v1m1 -1v1m1 -1v1m1 -1v1m1 -1v1m1 0v1m1 0v1m1 0v1m1 0v2m1 0v2m1 0v2m1 0v2m1 0v3m1 0v3m1 0v4m1 0v3m1 0v3m1 0v3m1 0v2m1 0v3m1 0v3m1 0v2m1 0v3m1 0v2m1 0v2m1 0v1m1 0v1m1 -1v1m1 0v1m1 -1v1m1 -1v1m1 -1v1m1 -1v1m1 -1v1m1 -1v1m1 -1v1m1 -1v1m1 -2v1m1 -2v1m1 -1v1m1 -2v1m1 -2v1m1 -2v1m1 -2v1m1 -2v1m1 -2v1m1 -2v1m1 -2v1m1 -2v1m1 -3v2m1 -4v2m1 -4v2m1 -3v1m1 -3v2m1 -3v1m1 -3v2m1 -3v1m1 -1v1m1 0v1m1 -1v1m1 -1v3m1 0v4m1 0v5m1 0v4m1 0v4m1 0v3m1 0v3m1 0v3m1 0v3m1 0v4m1 0v3m1 0v4m1 0v3m1 0v2m1 0v2m1 0v2m1 0v3m1 0v3m1 0v2m1 0v3m1 0v2m1 0v2m1 0v2m1 0v2m1 0v2m1 0v2m1 0v2m1 0v2m1 0v3m1 0v3m1 0v3m1 0v3m1 0v3m1 0v3m1 0v4m1 0v3m1 0v3m1 0v3m1 0v2m1 0v3m1 0v2m1 0v2m1 0v2m1 0v2m1 0v3m1 0v4m1 0v4m1 0v4m1 0v2m1 0v2m1 0v1m1 0v2m1 0v2m1 0v2m1 0v3m1 0v2m1 0v3m1 0v4m1 0v3m1 0v4m1 0v3m1 0v2m1 0v2m1 0v2m1 0v2m1 0v2m1 0v1m1 0v2m1 0v1m1 0v1m1 -1v1m1 0v1m1 -1v1m1 -1v1m1 0v1m1 -1v1m1 -1v1m1 -1v1m1 -1v1m1 -1v1m1 -1v1m1 0v1m1 -1v1m1 0v1m1 -1v1m1 -1v1m1 0v1m1 -1v1m1 -1v1m1 -1v1m1 -1v1m1 -1v1m1 -1v1m1 0v1m1 0v2m1 0v1m1 0v1m1 0v1m1 -1v1m1 0v1m1 -1v1m1 0v1m1 -1v1m1 0v1m1 -1v1m1 -2v1m1 -2v1m1 -2v1m1 -3v2m1 -5v3m1 -5v2m1 -5v3m1 -5v2m1 -4v2m1 -4v2m1 -4v2m1 -3v1m1 -2v1m1 -2v1m1 -2v1m1 -2v1m1 -1v1m1 -1v1m1 -1v1m1 -1v1m1 0v1m1 0v1m1 -1v1m1 0v1m1 -1v1m1 -1v1m1 -1v1m1 -1v1m1 -2v1m1 -1v1m1 -2v1m1 -1v1m1 0v1m1 0v2m1 0v1m1 0v1m1 0v1m1 0v2m1 0v1m1 0v1m1 0v2m1 0v2m1 0v2m1 0v2m1 0v2m1 0v3m1 0v2m1 0v2m1 0v1m1 0v2m1 0v1m1 0v2m1 0v2m1 0v2m1 0v2m1 0v2m1 0v2m1 0v1m1 0v2m1 0v1m1 -1v1m1 -1v1m1 -1v1m1 -1v1m1 -1v1m1 -2v1m1 -1v1m1 -1v1m1 -2v1m1 -1v1m1 -2v1m1 -1v1m1 0v1m1 0v1m1 -1v1m1 0v1m1 0v1m1 0v1m1 -1v1m1 0v1m1 0v2m1 0v2m1 0v2m1 0v2m1 0v2m1 0v2m1 0v2m1 0v3m1 0v2m1 0v2m1 0v2m1 0v2m1 0v1m1 0v1m1 0v1m1 0v1m1 0v1m1 0v1m1 -1v1m1 0v1m1 -2v1m1 -2v1m1 -1v1m1 -2v1m1 -2v1m1 -2v1m1 -1v1m1 -2v1m1 -1v1m1 -2v1m1 -1v1m1 -1v1m1 -3v2m1 -4v2m1 -4v2m1 -5v3m1 -5v2m1 -4v2m1 -4v2m1 -4v2m1 -3v1m1 -2v1m1 -2v1m1 -2v1m1 -2v1m1 -1v1m1 -2v1m1 -1v1m1 -2v1m1 -2v1m1 -1v1m1 -2v1m1 -1v1m1 -2v1m1 -1v1m1 -1v1m1 -2v1m1 -2v1m1 -1v1m1 -2v1m1 0v1m1 -1v1m1 0v1m1 -1v1m1 -1v1m1 0v1m1 -1v1m1 -1v1m1 0v1m1 -1v1m1 0v1m1 -1v1m1 -2v1m1 -3v2m1 -3v1m1 -2v1m1 -2v1m1 -2v1m1 -2v1m1 -2v1m1 -2v1m1 -2v1m1 -1v1m1 -2v1m1 -2v1m1 -2v1m1 -1v1m1 -2v1m1 -2v1m1 -2v1m1 -1v1m1 -2v1m1 0v1m1 -1v1m1 0v1m1 -1v1m1 0v1m1 0v2m1 0v1m1 0v1m1 -2v1m1 -1v1m1 -2v1m1 -1v1m1 -1v1m1 -1v1m1 -1v1m1 -1v1m1 0v1m1 0v1m1 -1v1m1 -1v2m1 -4v2m1 -4v2m1 -4v2m1 -5v3m1 -5v2m1 -5v3m1 -5v2m1 -4v2m1 -2v1m1 -1v1m1 -1v1m1 -1v1m1 -1v1m1 0v1m1 -1v1m1 -1v1m1 -2v1m1 -2v1m1 -2v1m1 -3v2m1 -4v2m1 -5v3m1 -5v2m1 -4v2m1 -4v2m1 -4v2m1 -4v2m1 -4v2m1 -3v1m1 -2v1m1 -2v1m1 -2v1m1 -3v2m1 -4v2m1 -4v2m1 -3v1m1 -2v1m1 -3v2m1 -3v1m1 -2v1m1 -1v1m1 -1v1m1 -1v1m1 -1v1m1 -2v1m1 -3v2m1 -3v1m1 -2v1m1 -2v1m1 -2v1m1 -2v1m1 -2v1m1 -2v1m1 -3v2m1 -3v1m1 -2v1m1 -1v1m1 -2v1m1 -1v1m1 -1v1m1 -3v2m1 -3v1m1 -3v2m1 -3v1m1 -3v2m1 -4v2m1 -4v2m1 -3v1m1 -3v2m1 -4v2m1 -4v2m1 -4v2m1 -4v2m1 -4v2m1 -4v2m1 -4v2m1 -4v2m1 -4v2m1 -4v2m1 -5v3m1 -5v2m1 -4v2m1 -4v2m1 -4v2m1 -3v1m1 -3v2m1 -3v1m1 -2v1m1 -2v1m1 -2v1m1 -2v1m1 -2v1m1 -2v1m1 -3v2m1 -3v1m1 -2v1m1 -1v1m1 -1v1m1 -1v1m1 -1v1m1 -1v1m1 -1v1m1 -1v1m1 -1v1m1 -2v1m1 -1v1m1 -2v1m1 -1v1m1 0v1m1 0v1m1 -1v1m1 0v1m1 0v1m1 -1v1m1 0v1m1 -1v1m1 0v1m1 -1v1m1 0v1m1 -1v1m1 0v1m1 -1v1m1 0v1m1 -1v1m1 0v1m1 -1v1m1 0v1m1 -1v1m1 -2v1m1 -3v2m1 -3v1m1 -2v1m1 -3v2m1 -3v1m1 -3v2m1 -3v1m1 -2v1m1 -2v1m1 -2v1m1 -2v1m1 -3v2m1 -4v2m1 -4v2m1 -3v1m1 -2v1m1 -2v1m1 -2v1m1 -2v1m1 -2v1m1 -3v2m1 -3v1m1 -2v1m1 -2v1m1 -2v1m1 -2v1m1 -2v1m1 -1v1m1 -1v1m1 -1v1m1 -1v1m1 -2v1m1 -1v1m1 -2v1m1 -1v1m1 -1v1m1 -2v1m1 -1v1m1 -1v1m1 -1v1m1 0v1m1 -1v1m1 -1v1m1 0v1m1 -1v1m1 0v1m1 -1v1m1 -1v1m1 -1v1m1 -1v1m1 -1v1m1 -1v1m1 -1v1m1 -1v1m1 -1v1m1 -2v1m1 -3v2m1 -3v1m1 -3v2m1 -4v2m1 -4v2m1 -4v2m1 -4v2m1 -4v2m1 -3v1m1 -3v2m1 -4v2m1 -4v2m1 -5v3m1 -5v2m1 -5v3m1 -5v2m1 -4v2m1 -4v2m1 -4v2m1 -3v1m1 -2v1m1 -1v1m1 -2v1m1 -1v1m1 -1v1m1 -1v1m1 -1v1m1 0v1m1 0v1m1 -1v1m1 0v1m1 0v1m1 0v1m1 0v1m1 0v1m1 0v1m1 0v1m1 -1v1m1 0v1m1 -1v1m1 -1v1m1 -1v1m1 -1v1m1 -1v1m1 -1v1m1 -1v1m1 -1v1m1 -2v1m1 -1v1m1 -2v1m1 -1v1m1 -2v1m1 -1v1m1 -2v1m1 -1v1m1 -2v1m1 -3v2m1 -3v1m1 -2v1m1 -2v1m1 -2v1m1 -1v1m1 -2v1m1 -2v1m1 -2v1m1 -1v1m1 -2v1m1 -1v1m1 -2v1m1 -1v1m1 -1v1m1 -3v2m1 -3v1m1 -3v2m1 -4v2m1 -4v2m1 -4v2m1 -4v2m1 -4v2m1 -4v2m1 -4v2m1 -4v2m1 -4v2m1 -3v1m1 -3v2m1 -3v1m1 -2v1m1 -3v2m1 -4v2m1 -4v2m1 -3v1m1 -2v1m1 -2v1m1 -1v1m1 -2v1m1 -1v1m1 -2v1m1 -1v1m1 -1v1m1 0v1m1 0v2m1 0v1m1 0v1m1 0v1m1 0v2m1 0v1m1 0v1m1 0v2m1 0v1m1 0v2m1 0v1m1 0v2m1 0v1m1 0v2m1 0v1m1 0v2m1 0v2m1 0v2m1 0v1m1 -1v1m1 -1v1m1 -1v1m1 -1v1m1 -1v1m1 0v1m1 -1v1m1 -1v1m1 -2v1m1 -1v1m1 -2v1m1 -1v1m1 -1v1m1 -1v1m1 -1v1m1 -1v1m1 -2v1m1 -2v1m1 -1v1m1 -2v1m1 -2v1m1 -1v1m1 -2v1m1 -1v1m1 -2v1m1 -2v1m1 -2v1m1 -2v1m1 -2v1m1 -2v1m1 -1v1m1 -2v1m1 -2v1m1 -3v2m1 -3v1m1 -2v1m1 -2v1m1 -3v2m1 -3v1m1 -2v1m1 -2v1m1 -2v1m1 -1v1m1 -2v1m1 0v1m1 0v2m1 0v1m1 0v1m1 0v1m1 0v1m1 0v1m1 0v1m1 0v1m1 0v1m1 0v1m1 0v1m1 -2v1m1 -1v1m1 -2v1m1 -1v1m1 -1v1m1 -2v1m1 -1v1m1 -1v1m1 -1v1m1 -1v1m1 -1v1m1 -1v1m1 0v1m1 0v1m1 -1v1m1 0v1m1 0v1m1 0v1m1 0v1m1 0v1m1 -1v1m1 0v1m1 -1v1m1 -1v1m1 0v2m1 0v1m1 0v2m1 0v1m1 -1v1m1 0v1m1 -1v1m1 -1v1m1 -2v1m1 -1v1m1 -2v1m1 -1v1m1 -1v1m1 -1v1m1 -1v1m1 -1v1m1 -1v1m1 -2v1m1 -1v1m1 -1v1m1 -2v1m1 -1v1m1 -2v1m1 -1v1m1 -2v1m1 -2v1m1 -2v1m1 -2v1m1 -3v2m1 -4v2m1 -4v2m1 -3v1m1 -2v1m1 -3v2m1 -3v1m1 -2v1m1 -2v1m1 -1v1m1 -2v1m1 -1v1m1 -1v1m1 -1v1m1 -1v1m1 -1v2m1 0v3m1 0v2m1 0v3m1 0v2m1 0v1m1 0v1m1 0v1m1 0v1m1 -2v1m1 -2v1m1 -1v1m1 -2v1m1 -1v1m1 -1v1m1 -1v1m1 -1v1m1 -2v1m1 -1v1m1 -2v1m1 -1v1m1 -2v1m1 -1v1m1 -2v1m1 -1v1m1 -3v2m1 -4v2m1 -4v2m1 -3v1m1 -3v2m1 -4v2m1 -4v2m1 -4v2m1 -3v1m1 -2v1m1 -2v1m1 -2v1m1 -1v1m1 -1v1m1 -1v1m1 -1v1m1 0v1m1 0v2m1 0v1m1 0v1m1 0v1m1 0v1m1 0v1m1 0v1m1 0v1m1 0v1m1 0v1m1 0v1m1 -2v1m1 -1v1m1 -2v1m1 -1v1m1 -1v1m1 -2v1m1 -1v1m1 -1v1m1 -3v2m1 -3v1m1 -3v2m1 -3v1m1 -1v1m1 -1v1m1 -1v1m1 -1v1m1 -1v1m1 0v1m1 -1v1m1 -1v1m1 -2v1m1 -1v1m1 -2v1m1 -1v1m1 -3v2m1 -4v2m1 -4v2m1 -4v2m1 -5v3m1 -6v3m1 -6v3m1 -5v2m1 -3v1m1 -3v2m1 -3v1m1 -2v1m1 -2v1m1 -2v1m1 -1v1m1 -2v1m1 -2v1m1 -2v1m1 -1v1m1 -2v1m1 -1v1m1 -1v1m1 -1v1m1 -1v1m1 0v1m1 0v1m1 -1v1m1 0v1m1 0v2m1 0v2m1 0v2m1 0v3m1 0v3m1 0v2m1 0v3m1 0v3m1 0v2m1 0v2m1 0v2m1 0v3m1 0v4m1 0v3m1 0v4m1 0v5m1 0v6m1 0v7m1 0v6m1 0v7m1 0v7m1 0v6m1 0v7m1 0v5m1 0v4m1 0v3m1 0v4m1 0v2m1 0v2m1 0v1m1 0v2m1 0v1m1 -2v1m1 -1v1m1 -2v1m1 -1v1m1 -1v1m1 -2v1m1 -1v1m1 -1v1m1 -2v1m1 -2v1m1 -1v1m1 -2v1m1 -3v2m1 -4v2m1 -4v2m1 -3v1m1 -3v2m1 -4v2m1 -4v2m1 -4v2m1 -2v1m1 -1v1m1 -1v1m1 -1v1m1 -1v1m1 0v1m1 -1v1m1 -1v1m1 -1v1m1 -1v1m1 -1v1m1 -1v1m1 0v1m1 0v1m1 0v1m1 0v1m1 -1v1m1 0v1m1 -1v1m1 -1v1m1 0v1m1 -1v1m1 0v1m1 -1v1m1 0v1m1 0v2m1 0v1m1 0v1m1 -2v1m1 -1v1m1 -2v1m1 -1v1m1 -2v1m1 -1v1m1 -2v1m1 -1v1m1 -3v2m1 -3v1m1 -3v2m1 -3v1m1 -2v1m1 -2v1m1 -2v1m1 -2v1m1 0v1m1 0v1m1 0v1m1 0v1m1 0v1m1 0v2m1 0v1m1 0v1m1 0v1m1 0v1m1 0v1m1 0v1m1 0v1m1 0v1m1 -1v1m1 0v1m1 -1v1m1 -2v1m1 -1v1m1 -1v1m1 -2v1m1 -1v1m1 -2v1m1 -1v1m1 -1v1m1 -2v1m1 -1v1m1 -1v1m1 -1v1m1 0v1m1 -1v1m1 -1v1m1 -2v1m1 -2v1m1 -1v1m1 -2v1m1 -2v1m1 -1v1m1 -2v1m1 -1v1m1 -1v1m1 -1v1m1 -1v1m1 -1v1m1 -1v1m1 -1v1m1 -1v1m1 -1v1m1 0v1m1 0v1m1 0v1m1 0v1m1 0v2m1 0v2m1 0v2m1 0v1m1 0v1m1 0v1m1 0v1m1 0v1m1 0v2m1 0v1m1 0v2m1 0v2m1 0v2m1 0v2m1 0v2m1 0v2m1 0v1m1 0v1m1 0v1m1 0v2m1 0v3m1 0v2m1 0v3m1 0v3m1 0v2m1 0v2m1 0v2m1 0v2m1 0v1m1 0v1m1 -1v1m1 0v1m1 -1v1m1 -1v1m1 -1v1m1 -1v1m1 -1v1m1 -2v1m1 -1v1m1 -1v1m1 -2v1m1 -2v1m1 -1v1m1 -2v1m1 -3v2m1 -4v2m1 -4v2m1 -4v2m1 -3v1m1 -2v1m1 -2v1m1 -2v1m1 -2v1m1 -1v1m1 -2v1m1 -1v1m1 0v1m1 -1v1m1 0v1m1 -1v1m1 -1v1m1 -2v1m1 -1v1m1 -1v2m1 0v2m1 0v2m1 0v2m1 0v2m1 0v2m1 0v2m1 0v2m1 0v3m1 0v3m1 0v3m1 0v3m1 0v2" fill="none" stroke="#0000ff" stroke-width="1"/>
<path d="M3.5 475v1m1 0v1m1 0v1m1 0v1m1 0v1m1 0v2m1 0v2m1 0v2m1 0v2m1 0v1m1 0v1m1 -1v1m1 0v1m1 0v1m1 0v1m1 0v1m1 0v1m1 0v2m1 0v1m1 0v2m1 0v1m1 0v2m1 0v1m1 0v2m1 0v1m1 0v2m1 0v2m1 0v2m1 0v3m1 0v3m1 0v2m1 0v3m1 0v2m1 0v2m1 0v1m1 0v2m1 0v1m1 -2v1m1 -3v2m1 -3v1m1 -2v1m1 0v1m1 0v2m1 0v1m1 0v1m1 0v1m1 0v2m1 0v1m1 0v1m1 0v2m1 0v2m1 0v2m1 0v2m1 -2v1m1 -2v1m1 -2v1m1 -2v1m1 -2v1m1 -2v1m1 -1v1m1 -2v1m1 -2v1m1 -2v1m1 -2v1m1 -2v1m1 -2v1m1 -1v1m1 -2v1m1 -1v1m1 -2v1m1 -3v2m1 -3v1m1 -2v1m1 -2v1m1 -3v2m1 -3v1m1 -2v1m1 -2v1m1 -2v1m1 -1v1m1 -2v1m1 0v1m1 -1v1m1 0v1m1 -1v1m1 -3v2m1 -4v2m1 -4v2m1 -5v3m1 -6v3m1 -6v3m1 -6v3m1 -5v2m1 -4v2m1 -3v1m1 -3v2m1 -3v1m1 -1v1m1 -1v1m1 -1v1m1 -1v1m1 -1v1m1 0v1m1 -1v1m1 -1v1m1 -1v1m1 -1v1m1 -1v1m1 -1v1m1 0v1m1 -1v1m1 0v1m1 -1v1m1 -2v1m1 -2v1m1 -1v1m1 -3v2m1 -4v2m1 -4v2m1 -4v2m1 -4v2m1 -4v2m1 -4v2m1 -4v2m1 -4v2m1 -4v2m1 -4v2m1 -4v2m1 -5v3m1 -7v4m1 -7v3m1 -7v4m1 -8v4m1 -10v6m1 -11v5m1 -11v6m1 -11v5m1 -9v4m1 -9v5m1 -9v4m1 -8v4m1 -8v4m1 -7v3m1 -7v4m1 -7v3m1 -5v2m1 -4v2m1 -4v2m1 -5v3m1 -5v2m1 -4v2m1 -4v2m1 -4v2m1 -2v1m1 -1v1m1 -1v1m1 -1v1m1 0v2m1 0v2m1 0v2m1 0v2m1 0v3m1 0v2m1 0v3m1 0v2m1 0v1m1 0v2m1 0v1m1 0v1m1 0v1m1 -1v1m1 0v1m1 -1v1m1 0v2m1 0v1m1 0v2m1 0v1m1 -2v1m1 -2v1m1 -2v1m1 -2v1m1 -2v1m1 -2v1m1 -1v1m1 -2v1m1 -1v1m1 -2v1m1 -1v1m1 -1v1m1 -1v1m1 0v1m1 -1v1m1 -1v1m1 -1v1m1 0v1m1 -1v1m1 -1v1m1 0v1m1 0v2m1 0v1m1 0v2m1 0v2m1 0v2m1 0v2m1 0v3m1 0v2m1 0v2m1 0v2m1 0v2m1 0v1m1 0v1m1 -1v1m1 0v1m1 0v1m1 0v1m1 -1v1m1 0v1m1 0v1m1 0v1m1 0v1m1 0v1m1 -1v1m1 0v1m1 -1v1m1 -1v1m1 -1v1m1 0v1m1 -1v1m1 -1v1m1 -2v1m1 -1v1m1 -2v1m1 -1v1m1 -2v1m1 -3v2m1 -3v1m1 -2v1m1 -2v1m1 -3v2m1 -3v1m1 -2v1m1 -2v1m1 -2v1m1 -2v1m1 -2v1m1 -2v1m1 -1v1m1 -2v1m1 -1v1m1 -2v1m1 -3v2m1 -3v1m1 -2v1m1 0v1m1 0v1m1 0v1m1 0v1m1 0v1m1 0v2m1 0v1m1 0v1m1 0v2m1 0v1m1 0v2m1 0v1m1 0v2m1 0v2m1 0v2m1 0v2m1 0v1m1 0v2m1 0v1m1 0v1m1 -1v1m1 -1v1m1 -1v1m1 -2v2m1 -4v2m1 -4v2m1 -4v2m1 -4v2m1 -2v1m1 -2v1m1 -1v1m1 -3v3m1 -9v6m1 -12v6m1 -12v6m1 -10v4m1 -8v4m1 -7v3m1 -7v4m1 -8v4m1 -8v4m1 -8v4m1 -8v4m1 -8v4m1 -8v4m1 -7v3m1 -7v4m1 -7v3m1 -5v2m1 -5v3m1 -5v2m1 -5v3m1 -6v3m1 -5v2m1 -5v3m1 -5v2m1 -2v1m1 0v1m1 -1v1m1 -1v1m1 -2v1m1 -2v1m1 -2v1m1 -2v1m1 0v1m1 0v1m1 -1v1m1 0v2m1 0v3m1 0v2m1 0v3m1 0v2m1 0v1m1 0v1m1 -1v1m1 0v1m1 0v1m1 0v1m1 0v1m1 0v1m1 -1v1m1 0v1m1 -1v1m1 -1v1m1 -3v2m1 -3v1m1 -3v2m1 -3v1m1 -3v2m1 -3v1m1 -3v2m1 -3v1m1 -2v1m1 -1v1m1 -2v1m1 -1v1m1 -1v1m1 -2v1m1 -1v1m1 -1v1m1 -1v1m1 -2v1m1 -1v1m1 -1v1m1 -2v1m1 -2v1m1 -1v1m1 -3v2m1 -4v2m1 -4v2m1 -4v2m1 -5v3m1 -6v3m1 -6v3m1 -6v3m1 -5v2m1 -3v1m1 -1v1m1 -2v1m1 -1v1m1 0v1m1 0v1m1 -1v1m1 0v1m1 -3v2m1 -3v1m1 -3v2m1 -3v2m1 0v3m1 0v2m1 0v3m1 0v2m1 0v2m1 0v1m1 0v2m1 0v2m1 0v3m1 0v2m1 0v3m1 0v2m1 0v2m1 0v1m1 0v2m1 0v1m1 0v2m1 0v2m1 0v2m1 0v1m1 0v1m1 0v2m1 0v1m1 0v1m1 0v1m1 0v2m1 0v1m1 0v1m1 0v2m1 0v2m1 0v2m1 0v1m1 0v1m1 0v2m1 0v1m1 0v1m1 0v2m1 0v1m1 0v2m1 0v2m1 0v2m1 0v2m1 0v2m1 0v2m1 0v2m1 0v2m1 0v2m1 0v2m1 0v1m1 -1v1m1 0v1m1 -1v1m1 0v1m1 0v1m1 -1v1m1 0v1m1 -1v1m1 -2v1m1 -1v1m1 -1v1m1 -1v1m1 -1v1m1 -1v1m1 -1v1m1 -3v2m1 -4v2m1 -4v2m1 -5v3m1 -6v3m1 -6v3m1 -6v3m1 -7v4m1 -8v4m1 -8v4m1 -8v4m1 -8v4m1 -8v4m1 -7v3m1 -7v4m1 -7v3m1 -6v3m1 -5v2m1 -5v3m1 -6v3m1 -6v3m1 -7v4m1 -7v3m1 -6v3m1 -6v3m1 -7v4m1 -7v3m1 -5v2m1 -4v2m1 -4v2m1 -4v2m1 -4v2m1 -4v2m1 -4v2m1 -4v2m1 -5v3m1 -5v2m1 -5v3m1 -5v2m1 -4v2m1 -3v1m1 -2v1m1 -2v1m1 -2v1m1 -3v2m1 -4v2m1 -4v2m1 -4v2m1 -5v3m1 -7v4m1 -7v3m1 -6v3m1 -6v3m1 -7v4m1 -7v3m1 -6v3m1 -6v3m1 -6v3m1 -6v3m1 -6v3m1 -7v4m1 -8v4m1 -8v4m1 -9v5m1 -10v5m1 -11v6m1 -11v5m1 -10v5m1 -10v5m1 -10v5m1 -10v5m1 -9v4m1 -6v2m1 -4v2m1 -4v2m1 -5v3m1 -5v2m1 -4v2m1 -4v2m1 -4v2m1 -4v2m1 -4v2m1 -4v2m1 -5v3m1 -6v3m1 -5v2m1 -5v3m1 -6v3m1 -6v3m1 -7v4m1 -7v3m1 -6v3m1 -7v4m1 -8v4m1 -8v4m1 -7v3m1 -6v3m1 -6v3m1 -6v3m1 -5v2m1 -3v1m1 -2v1m1 -1v1m1 -2v1m1 -1v1m1 -2v1m1 -1v1m1 -2v2m1 -4v2m1 -4v2m1 -4v2m1 -4v2m1 -4v2m1 -4v2m1 -4v2m1 -3v1m1 -3v2m1 -4v2m1 -4v2m1 -4v2m1 -3v1m1 -2v1m1 -2v1m1 -2v1m1 -1v1m1 -2v1m1 -1v1m1 -1v1m1 -1v1m1 -2v1m1 -1v1m1 -1v1m1 -1v1m1 0v1m1 -1v1m1 -1v1m1 0v1m1 -1v1m1 0v1m1 -1v1m1 -3v2m1 -3v1m1 -3v2m1 -3v1m1 -2v1m1 -3v2m1 -3v1m1 -2v1m1 0v1m1 0v2m1 0v1m1 0v1m1 0v1m1 0v2m1 0v1m1 0v2m1 0v2m1 0v3m1 0v2m1 0v2m1 0v1m1 0v1m1 -1v1m1 0v1m1 0v1m1 0v1m1 0v1m1 0v1m1 0v1m1 -1v1m1 0v1m1 -1v1m1 0v1m1 0v2m1 0v1m1 0v1m1 -2v1m1 -1v1m1 -2v1m1 -1v1m1 -1v1m1 0v1m1 -1v1m1 -1v1m1 -2v1m1 -3v2m1 -3v1m1 -2v1m1 -1v1m1 -1v1m1 -1v1m1 -1v1m1 0v2m1 0v1m1 0v2m1 0v1m1 0v2m1 0v2m1 0v2m1 0v2m1 0v2m1 0v2m1 0v2m1 0v2m1 -2v1m1 -1v1m1 -2v1m1 -1v1m1 0v1m1 0v2m1 0v1m1 0v2m1 0v2m1 0v3m1 0v2m1 0v3m1 0v4m1 0v4m1 0v4m1 0v3m1 0v3m1 0v3m1 0v3m1 0v3m1 0v3m1 0v2m1 0v3m1 0v2m1 0v1m1 -1v1m1 0v1m1 -1v1m1 -2v1m1 -1v1m1 -2v1m1 -1v1m1 -1v1m1 -2v1m1 -1v1m1 -1v1m1 -2v1m1 -2v1m1 -2v1m1 -2v1m1 -3v2m1 -3v1m1 -3v2m1 -3v1m1 -3v2m1 -3v1m1 -3v2m1 -3v1m1 -3v2m1 -4v2m1 -4v2m1 -4v2m1 -4v2m1 -4v2m1 -4v2m1 -3v1m1 0v1m1 -1v1m1 0v1m1 -1v3m1 0v6m1 0v5m1 0v6m1 0v4m1 0v4m1 0v4m1 0v4m1 0v3m1 0v4m1 0v4m1 0v4m1 0v4m1 0v2m1 0v3m1 0v2m1 0v3m1 0v3m1 0v2m1 0v3m1 0v2m1 0v2m1 0v2m1 0v2m1 0v2m1 0v2m1 0v2m1 0v2m1 0v3m1 0v3m1 0v4m1 0v3m1 0v3m1 0v4m1 0v3m1 0v4m1 0v3m1 0v3m1 0v2m1 0v3m1 0v2m1 0v2m1 0v2m1 0v2m1 0v3m1 0v4m1 0v4m1 0v4m1 0v3m1 0v1m1 0v2m1 0v1m1 0v2m1 0v2m1 0v3m1 0v2m1 0v3m1 0v4m1 0v4m1 0v4m1 0v3m1 0v2m1 0v2m1 0v2m1 0v2m1 0v1m1 0v2m1 0v1m1 0v1m1 -1v1m1 -1v1m1 -1v1m1 -1v1m1 -1v1m1 -2v1m1 -1v1m1 -1v1m1 -2v1m1 -1v1m1 -2v1m1 -1v1m1 0v1m1 -1v1m1 0v1m1 -1v1m1 -1v1m1 -1v1m1 -1v1m1 -1v1m1 -1v1m1 -1v1m1 -1v1m1 -1v1m1 0v1m1 0v2m1 0v1m1 0v1m1 0v1m1 -1v1m1 0v1m1 -1v1m1 -1v1m1 0v1m1 -1v1m1 -1v1m1 -2v1m1 -3v2m1 -3v1m1 -3v2m1 -5v3m1 -7v4m1 -7v3m1 -6v3m1 -5v2m1 -4v2m1 -4v2m1 -4v2m1 -3v1m1 -2v1m1 -2v1m1 -2v1m1 -1v1m1 -1v1m1 -1v1m1 -1v1m1 0v1m1 0v2m1 0v1m1 0v1m1 -1v1m1 -1v1m1 -1v1m1 -1v1m1 -2v1m1 -1v1m1 -2v1m1 -1v1m1 0v2m1 0v1m1 0v2m1 0v1m1 0v2m1 0v2m1 0v2m1 0v1m1 0v2m1 0v2m1 0v2m1 0v2m1 0v3m1 0v3m1 0v3m1 0v2m1 0v1m1 0v2m1 0v1m1 0v2m1 0v2m1 0v3m1 0v2m1 0v2m1 0v2m1 0v2m1 0v2m1 0v1m1 -1v1m1 -2v1m1 -1v1m1 -1v1m1 -2v1m1 -2v1m1 -1v1m1 -2v1m1 -2v1m1 -1v1m1 -2v1m1 -1v1m1 0v1m1 0v1m1 -1v1m1 0v1m1 0v1m1 0v1m1 -1v1m1 0v1m1 0v2m1 0v2m1 0v2m1 0v3m1 0v2m1 0v2m1 0v2m1 0v3m1 0v3m1 0v2m1 0v3m1 0v2m1 0v1m1 0v1m1 -1v1m1 0v1m1 0v1m1 0v1m1 -1v1m1 0v1m1 -2v1m1 -3v2m1 -3v1m1 -2v1m1 -2v1m1 -3v2m1 -3v1m1 -2v1m1 -1v1m1 -2v1m1 -1v1m1 -2v2m1 -4v2m1 -5v3m1 -5v2m1 -5v3m1 -6v3m1 -5v2m1 -5v3m1 -5v2m1 -3v1m1 -2v1m1 -1v1m1 -2v1m1 -2v1m1 -2v1m1 -1v1m1 -2v1m1 -2v1m1 -1v1m1 -2v1m1 -1v1m1 -1v1m1 -2v1m1 -1v1m1 -1v1m1 -2v1m1 -2v1m1 -2v1m1 -2v1m1 0v1m1 0v1m1 0v1m1 0v1m1 -1v1m1 0v1m1 -1v1m1 -1v1m1 0v1m1 -1v1m1 0v1m1 -1v1m1 -2v1m1 -3v2m1 -3v1m1 -2v1m1 -2v1m1 -3v2m1 -3v1m1 -2v1m1 -2v1m1 -2v1m1 -2v1m1 -2v1m1 -2v1m1 -1v1m1 -2v1m1 -1v1m1 -2v1m1 -2v1m1 -1v1m1 -2v1m1 0v1m1 -1v1m1 0v1m1 -1v1m1 0v2m1 0v1m1 0v2m1 0v1m1 -1v1m1 -2v1m1 -1v1m1 -1v1m1 -1v1m1 -1v1m1 -1v1m1 -1v1m1 0v1m1 0v1m1 -1v1m1 -1v2m1 -5v3m1 -5v2m1 -5v3m1 -6v3m1 -6v3m1 -5v2m1 -5v3m1 -5v2m1 -2v1m1 0v1m1 -1v1m1 -1v1m1 -1v1m1 0v1m1 -1v1m1 -1v1m1 -2v1m1 -3v2m1 -3v1m1 -3v2m1 -5v3m1 -6v3m1 -6v3m1 -5v2m1 -4v2m1 -4v2m1 -4v2m1 -4v2m1 -3v1m1 -2v1m1 -2v1m1 -2v1m1 -3v2m1 -4v2m1 -4v2m1 -4v2m1 -3v1m1 -2v1m1 -2v1m1 -2v1m1 -1v1m1 -1v1m1 -1v1m1 -1v1m1 -2v1m1 -2v1m1 -2v1m1 -2v1m1 -2v1m1 -3v2m1 -3v1m1 -2v1m1 -2v1m1 -2v1m1 -2v1m1 -2v1m1 -1v1m1 -1v1m1 -1v1m1 -1v1m1 -3v2m1 -4v2m1 -4v2m1 -3v1m1 -3v2m1 -4v2m1 -4v2m1 -4v2m1 -4v2m1 -5v3m1 -5v2m1 -4v2m1 -4v2m1 -4v2m1 -4v2m1 -4v2m1 -4v2m1 -5v3m1 -5v2m1 -5v3m1 -5v2m1 -5v3m1 -5v2m1 -4v2m1 -3v1m1 -2v1m1 -2v1m1 -2v1m1 -2v1m1 -2v1m1 -1v1m1 -2v1m1 -2v1m1 -3v2m1 -3v1m1 -2v1m1 0v1m1 -1v1m1 0v1m1 -1v1m1 -1v1m1 0v1m1 -1v1m1 -1v1m1 -2v1m1 -1v1m1 -2v1m1 -1v1m1 0v1m1 0v1m1 0v1m1 0v1m1 0v1m1 0v1m1 -1v1m1 0v1m1 0v1m1 0v1m1 -1v1m1 0v1m1 0v1m1 0v1m1 -1v1m1 0v1m1 -1v1m1 0v1m1 -1v1m1 -1v1m1 -3v2m1 -3v1m1 -3v2m1 -3v1m1 -3v2m1 -4v2m1 -4v2m1 -3v1m1 -2v1m1 -3v2m1 -3v1m1 -2v1m1 -3v2m1 -4v2m1 -4v2m1 -4v2m1 -3v1m1 -2v1m1 -2v1m1 -2v1m1 -2v1m1 -3v2m1 -3v1m1 -2v1m1 -2v1m1 -2v1m1 -2v1m1 -2v1m1 -1v1m1 0v1m1 -1v1m1 -1v1m1 -2v1m1 -1v1m1 -2v1m1 -1v1m1 -1v1m1 -2v1m1 -1v1m1 -1v1m1 0v1m1 -1v1m1 0v1m1 -1v1m1 0v1m1 0v1m1 -1v1m1 0v1m1 -1v1m1 -1v1m1 -1v1m1 -1v1m1 -1v1m1 0v1m1 -1v1m1 -1v1m1 -3v2m1 -3v1m1 -3v2m1 -4v2m1 -5v3m1 -5v2m1 -5v3m1 -5v2m1 -4v2m1 -4v2m1 -4v2m1 -4v2m1 -5v3m1 -5v2m1 -5v3m1 -6v3m1 -5v2m1 -5v3m1 -5v2m1 -4v2m1 -3v1m1 -2v1m1 -1v1m1 -2v1m1 -1v1m1 0v1m1 -1v1m1 -1v1m1 0v1m1 0v2m1 0v1m1 0v1m1 0v2m1 0v1m1 0v2m1 0v1m1 0v1m1 0v1m1 0v1m1 0v1m1 -1v1m1 -1v1m1 -1v1m1 -1v1m1 -1v1m1 -2v1m1 -1v1m1 -1v1m1 -2v1m1 -1v1m1 -2v1m1 -1v1m1 -2v1m1 -1v1m1 -2v1m1 -1v1m1 -2v1m1 -3v2m1 -3v1m1 -2v1m1 -2v1m1 -2v1m1 -1v1m1 -2v1m1 -2v1m1 -3v2m1 -3v1m1 -2v1m1 -1v1m1 -1v1m1 -1v1m1 -1v1m1 -3v2m1 -3v1m1 -3v2m1 -4v2m1 -5v3m1 -5v2m1 -5v3m1 -6v3m1 -5v2m1 -4v2m1 -4v2m1 -4v2m1 -3v1m1 -3v2m1 -3v1m1 -2v1m1 -3v2m1 -4v2m1 -4v2m1 -4v2m1 -3v1m1 -1v1m1 -2v1m1 -1v1m1 -1v1m1 -1v1m1 -1v1m1 -1v1m1 0v2m1 0v2m1 0v2m1 0v2m1 0v1m1 0v2m1 0v1m1 0v1m1 0v2m1 0v2m1 0v2m1 0v2m1 0v2m1 0v2m1 0v2m1 0v2m1 0v2m1 0v2m1 0v2m1 0v2m1 -1v1m1 -2v1m1 -1v1m1 -1v1m1 -1v1m1 -2v1m1 -1v1m1 -1v1m1 -1v1m1 -2v1m1 -1v1m1 -1v1m1 -1v1m1 -2v1m1 -1v1m1 -1v1m1 -2v1m1 -2v1m1 -2v1m1 -2v1m1 -2v1m1 -2v1m1 -1v1m1 -2v1m1 -2v1m1 -2v1m1 -2v1m1 -2v1m1 -2v1m1 -2v1m1 -2v1m1 -2v1m1 -2v1m1 -3v2m1 -3v1m1 -2v1m1 -3v2m1 -3v1m1 -3v2m1 -3v1m1 -2v1m1 -1v1m1 -2v1m1 -1v1m1 0v2m1 0v1m1 0v2m1 0v1m1 0v1m1 0v2m1 0v1m1 0v1m1 0v1m1 0v2m1 0v1m1 0v1m1 -2v1m1 -2v1m1 -1v1m1 -2v1m1 -1v1m1 -2v1m1 -1v1m1 -1v1m1 -1v1m1 0v1m1 -1v1m1 -1v1m1 0v1m1 0v1m1 -1v1m1 0v1m1 0v1m1 0v2m1 0v1m1 0v1m1 -1v1m1 -1v1m1 -1v1m1 -1v1m1 0v2m1 0v2m1 0v2m1 0v1m1 -1v1m1 0v1m1 -1v1m1 -1v1m1 -2v1m1 -1v1m1 -2v1m1 -1v1m1 -1v1m1 -2v1m1 -1v1m1 -1v1m1 -2v1m1 -1v1m1 -2v1m1 -1v1m1 -2v1m1 -2v1m1 -1v1m1 -2v1m1 -2v1m1 -3v2m1 -3v1m1 -2v1m1 -3v2m1 -4v2m1 -4v2m1 -3v1m1 -3v2m1 -3v1m1 -3v2m1 -3v1m1 -2v1m1 -1v1m1 -2v1m1 -1v1m1 -1v1m1 0v1m1 -1v1m1 -1v2m1 0v3m1 0v4m1 0v3m1 0v2m1 0v1m1 0v2m1 0v1m1 0v1m1 -2v1m1 -2v1m1 -1v1m1 -2v1m1 -1v1m1 -1v1m1 -1v1m1 -1v1m1 -2v1m1 -2v1m1 -1v1m1 -2v1m1 -2v1m1 -2v1m1 -1v1m1 -2v1m1 -3v2m1 -4v2m1 -4v2m1 -4v2m1 -4v2m1 -5v3m1 -5v2m1 -4v2m1 -3v1m1 -3v2m1 -3v1m1 -2v1m1 -1v1m1 0v1m1 -1v1m1 -1v1m1 0v2m1 0v2m1 0v2m1 0v1m1 0v1m1 0v2m1 0v1m1 0v1m1 0v1m1 0v2m1 0v1m1 0v1m1 -2v1m1 -1v1m1 -2v1m1 -1v1m1 -2v1m1 -1v1m1 -2v1m1 -1v1m1 -3v2m1 -4v2m1 -4v2m1 -3v1m1 -1v1m1 -1v1m1 -1v1m1 -1v1m1 -1v1m1 0v1m1 -1v1m1 -1v1m1 -2v1m1 -1v1m1 -2v1m1 -1v1m1 -3v2m1 -4v2m1 -4v2m1 -5v3m1 -7v4m1 -8v4m1 -8v4m1 -6v2m1 -3v1m1 -2v1m1 -2v1m1 -2v1m1 -2v1m1 -2v1m1 -1v1m1 -2v1m1 -2v1m1 -2v1m1 -1v1m1 -2v1m1 -1v1m1 0v1m1 -1v1m1 -1v1m1 0v1m1 0v1m1 0v1m1 0v2m1 0v3m1 0v2m1 0v3m1 0v3m1 0v3m1 0v4m1 0v3m1 0v3m1 0v2m1 0v3m1 0v2m1 0v3m1 0v4m1 0v4m1 0v4m1 0v6m1 0v8m1 0v8m1 0v8m1 0v7m1 0v8m1 0v7m1 0v8m1 0v5m1 0v4m1 0v3m1 0v4m1 0v2m1 0v1m1 0v1m1 0v1m1 0v1m1 -2v1m1 -3v2m1 -3v1m1 -2v1m1 -2v1m1 -2v1m1 -1v1m1 -2v1m1 -2v1m1 -3v2m1 -3v1m1 -3v2m1 -4v2m1 -5v3m1 -5v2m1 -5v3m1 -5v2m1 -5v3m1 -5v2m1 -4v2m1 -2v1m1 -2v1m1 -1v1m1 -1v1m1 0v1m1 -1v1m1 0v1m1 -1v1m1 -1v1m1 -1v1m1 -1v1m1 -1v1m1 0v1m1 0v1m1 0v1m1 0v1m1 0v1m1 -1v1m1 0v1m1 -1v1m1 0v1m1 0v1m1 -1v1m1 0v1m1 0v2m1 0v1m1 0v2m1 0v1m1 -2v1m1 -2v1m1 -2v1m1 -2v1m1 -2v1m1 -2v1m1 -1v1m1 -2v1m1 -3v2m1 -4v2m1 -4v2m1 -3v1m1 -2v1m1 -3v2m1 -3v1m1 -2v1m1 0v2m1 0v1m1 0v2m1 0v1m1 0v2m1 0v1m1 0v2m1 0v1m1 0v1m1 0v1m1 0v1m1 0v1m1 0v1m1 0v1m1 0v1m1 0v1m1 -1v1m1 -2v1m1 -1v1m1 -1v1m1 -2v1m1 -2v1m1 -1v1m1 -2v1m1 -2v1m1 -1v1m1 -2v1m1 -1v1m1 0v1m1 -1v1m1 0v1m1 -1v1m1 -2v1m1 -2v1m1 -2v1m1 -2v1m1 -2v1m1 -2v1m1 -1v1m1 -2v1m1 -1v1m1 -1v1m1 -1v1m1 -1v1m1 -1v1m1 -1v1m1 -1v1m1 -1v1m1 0v1m1 0v2m1 0v1m1 0v1m1 0v2m1 0v2m1 0v2m1 0v2m1 0v1m1 0v2m1 0v1m1 0v1m1 0v2m1 0v2m1 0v2m1 0v2m1 0v2m1 0v3m1 0v2m1 0v2m1 0v1m1 0v2m1 0v1m1 0v2m1 0v3m1 0v2m1 0v3m1 0v3m1 0v2m1 0v3m1 0v2m1 0v2m1 0v1m1 0v1m1 -1v1m1 0v1m1 -2v1m1 -1v1m1 -2v1m1 -1v1m1 -2v1m1 -1v1m1 -2v1m1 -1v1m1 -2v1m1 -3v2m1 -3v1m1 -3v2m1 -4v2m1 -4v2m1 -4v2m1 -4v2m1 -4v2m1 -3v1m1 -3v2m1 -3v1m1 -1v1m1 -2v1m1 -1v1m1 -1v1m1 0v1m1 -1v1m1 0v1m1 -1v1m1 -1v1m1 -2v1m1 -1v1m1 -1v2m1 0v3m1 0v3m1 0v3m1 0v3m1 0v2m1 0v2m1 0v2m1 0v3m1 0v4m1 0v3m1 0v4m1 0v2" fill="none" stroke="#0000ff" stroke-width="1"/>
<path d="M3.5 481v1m1 0v1m1 0v1m1 0v1m1 0v2m1 0v2m1 0v3m1 0v2m1 0v2m1 0v1m1 -1v1m1 0v1m1 -1v1m1 0v1m1 0v1m1 0v1m1 0v1m1 0v2m1 0v1m1 0v2m1 0v1m1 0v2m1 0v2m1 0v2m1 0v2m1 0v2m1 0v2m1 0v2m1 0v3m1 0v4m1 0v3m1 0v4m1 0v2m1 0v1m1 0v1m1 0v1m1 -1v2m1 -4v2m1 -5v3m1 -5v2m1 -4v2m1 -1v2m1 0v1m1 0v2m1 0v1m1 0v1m1 0v2m1 0v1m1 0v2m1 0v3m1 0v2m1 0v3m1 0v2m1 -4v2m1 -4v2m1 -4v2m1 -4v2m1 -4v2m1 -3v1m1 -3v2m1 -3v1m1 -3v2m1 -4v2m1 -4v2m1 -3v1m1 -2v1m1 -1v1m1 -2v1m1 -1v1m1 -3v2m1 -4v2m1 -4v2m1 -4v2m1 -3v1m1 -3v2m1 -3v1m1 -2v1m1 -2v1m1 -2v1m1 -1v1m1 -2v1m1 0v1m1 0v2m1 0v1m1 -1v2m1 -5v3m1 -6v3m1 -6v3m1 -6v3m1 -7v4m1 -8v4m1 -8v4m1 -7v3m1 -5v2m1 -3v1m1 -3v2m1 -3v1m1 0v1m1 0v1m1 0v1m1 0v1m1 0v1m1 0v1m1 0v1m1 0v1m1 -1v1m1 0v1m1 -1v1m1 -1v1m1 0v1m1 0v1m1 0v1m1 0v1m1 -2v1m1 -3v2m1 -3v1m1 -3v2m1 -5v3m1 -7v4m1 -7v3m1 -6v3m1 -5v2m1 -4v2m1 -4v2m1 -5v3m1 -6v3m1 -5v2m1 -5v3m1 -7v4m1 -8v4m1 -8v4m1 -8v4m1 -10v6m1 -13v7m1 -14v7m1 -14v7m1 -13v6m1 -11v5m1 -11v6m1 -11v5m1 -9v4m1 -8v4m1 -7v3m1 -7v4m1 -6v2m1 -4v2m1 -3v1m1 -3v2m1 -3v1m1 -3v2m1 -4v2m1 -4v2m1 -3v1m1 0v1m1 0v2m1 0v1m1 0v2m1 0v4m1 0v4m1 0v4m1 0v4m1 0v4m1 0v5m1 0v4m1 0v3m1 0v2m1 0v2m1 0v2m1 0v1m1 -1v1m1 -1v1m1 -1v1m1 -1v2m1 0v2m1 0v2m1 0v2m1 0v2m1 -4v2m1 -4v2m1 -4v2m1 -4v2m1 -3v1m1 -3v2m1 -3v1m1 -2v1m1 -1v1m1 -2v1m1 -1v1m1 -1v1m1 -1v1m1 0v1m1 -1v1m1 -1v1m1 0v1m1 0v1m1 -1v1m1 0v1m1 0v2m1 0v2m1 0v2m1 0v2m1 0v3m1 0v3m1 0v3m1 0v3m1 0v3m1 0v2m1 0v3m1 0v2m1 0v1m1 0v1m1 -1v1m1 0v1m1 0v1m1 -1v1m1 0v1m1 -1v1m1 0v1m1 0v1m1 -1v1m1 0v1m1 -1v1m1 -1v1m1 -1v1m1 -1v1m1 -1v1m1 -1v1m1 -1v1m1 -1v1m1 -2v1m1 -3v2m1 -3v1m1 -2v1m1 -3v2m1 -4v2m1 -4v2m1 -4v2m1 -4v2m1 -4v2m1 -4v2m1 -3v1m1 -2v1m1 -3v2m1 -3v1m1 -2v1m1 -1v1m1 -2v1m1 -1v1m1 -1v1m1 -3v2m1 -4v2m1 -4v2m1 -3v1m1 0v2m1 0v2m1 0v2m1 0v2m1 0v2m1 0v2m1 0v2m1 0v3m1 0v2m1 0v2m1 0v2m1 0v3m1 0v2m1 0v3m1 0v2m1 0v2m1 0v2m1 0v1m1 0v2m1 0v1m1 -2v1m1 -1v1m1 -2v1m1 -2v2m1 -6v4m1 -8v4m1 -8v4m1 -7v3m1 -3v1m1 -1v1m1 -1v1m1 -5v5m1 -13v8m1 -17v9m1 -17v8m1 -15v7m1 -11v4m1 -8v4m1 -8v4m1 -9v5m1 -10v5m1 -11v6m1 -11v5m1 -9v4m1 -8v4m1 -7v3m1 -7v4m1 -7v3m1 -5v2m1 -5v3m1 -5v2m1 -5v3m1 -5v2m1 -4v2m1 -4v2m1 -4v2m1 -1v2m1 0v2m1 0v2m1 0v1m1 -2v1m1 -1v1m1 -2v1m1 -1v1m1 0v2m1 0v2m1 0v2m1 0v3m1 0v5m1 0v4m1 0v5m1 0v3m1 0v1m1 0v1m1 -1v1m1 0v1m1 0v1m1 0v2m1 0v1m1 0v1m1 -1v1m1 -1v1m1 -1v1m1 -2v2m1 -4v2m1 -5v3m1 -5v2m1 -5v3m1 -5v2m1 -4v2m1 -4v2m1 -4v2m1 -2v1m1 -2v1m1 -1v1m1 -1v1m1 -1v1m1 -1v1m1 -1v1m1 -1v1m1 -1v1m1 -2v1m1 -1v1m1 -1v1m1 -2v1m1 -2v1m1 -2v1m1 -3v2m1 -5v3m1 -6v3m1 -6v3m1 -6v3m1 -7v4m1 -8v4m1 -8v4m1 -7v3m1 -3v1m1 -1v1m1 -1v1m1 -1v1m1 0v2m1 0v2m1 0v2m1 0v1m1 -3v2m1 -4v2m1 -4v2m1 -3v3m1 0v4m1 0v5m1 0v4m1 0v3m1 0v2m1 0v2m1 0v2m1 0v3m1 0v4m1 0v4m1 0v4m1 0v2m1 0v2m1 0v1m1 0v2m1 0v1m1 0v2m1 0v2m1 0v2m1 0v2m1 0v1m1 0v1m1 0v1m1 0v1m1 0v1m1 0v2m1 0v1m1 0v2m1 0v2m1 0v2m1 0v2m1 0v2m1 0v1m1 0v1m1 -1v1m1 0v1m1 0v2m1 0v1m1 0v2m1 0v2m1 0v3m1 0v2m1 0v3m1 0v3m1 0v2m1 0v3m1 0v2m1 0v2m1 -2v1m1 -1v1m1 -2v1m1 -1v1m1 -1v1m1 0v1m1 -1v1m1 -1v1m1 -2v1m1 -1v1m1 -2v1m1 -1v1m1 -2v1m1 -1v1m1 -2v1m1 -2v2m1 -5v3m1 -7v4m1 -7v3m1 -7v4m1 -8v4m1 -9v5m1 -9v4m1 -9v5m1 -11v6m1 -11v5m1 -11v6m1 -11v5m1 -9v4m1 -8v4m1 -8v4m1 -8v4m1 -7v3m1 -5v2m1 -5v3m1 -6v3m1 -7v4m1 -8v4m1 -8v4m1 -7v3m1 -6v3m1 -7v4m1 -7v3m1 -5v2m1 -4v2m1 -3v1m1 -3v2m1 -3v1m1 -3v2m1 -4v2m1 -4v2m1 -4v2m1 -4v2m1 -4v2m1 -4v2m1 -4v2m1 -2v1m1 -2v1m1 -1v1m1 -1v1m1 -3v2m1 -4v2m1 -4v2m1 -5v3m1 -7v4m1 -8v4m1 -8v4m1 -8v4m1 -8v4m1 -7v3m1 -7v4m1 -7v3m1 -6v3m1 -7v4m1 -7v3m1 -7v4m1 -9v5m1 -9v4m1 -9v5m1 -11v6m1 -12v6m1 -12v6m1 -12v6m1 -12v6m1 -11v5m1 -11v6m1 -11v5m1 -8v3m1 -4v1m1 -3v2m1 -3v1m1 -2v1m1 -3v2m1 -4v2m1 -4v2m1 -3v1m1 -3v2m1 -3v1m1 -3v2m1 -4v2m1 -4v2m1 -5v3m1 -5v2m1 -5v3m1 -7v4m1 -8v4m1 -8v4m1 -7v3m1 -7v4m1 -8v4m1 -8v4m1 -8v4m1 -7v3m1 -6v3m1 -6v3m1 -5v2m1 -1v1m1 -1v1m1 0v1m1 -1v1m1 0v1m1 0v1m1 -1v1m1 -1v2m1 -4v2m1 -5v3m1 -5v2m1 -4v2m1 -4v2m1 -4v2m1 -4v2m1 -3v1m1 -3v2m1 -4v2m1 -4v2m1 -4v2m1 -3v1m1 -1v1m1 -2v1m1 -1v1m1 -1v1m1 -1v1m1 -1v1m1 -1v1m1 -1v1m1 0v1m1 -1v1m1 -1v1m1 0v1m1 0v1m1 -1v1m1 0v1m1 0v2m1 0v1m1 0v2m1 -1v2m1 -4v2m1 -4v2m1 -4v2m1 -4v2m1 -4v2m1 -4v2m1 -4v2m1 -4v2m1 0v2m1 0v3m1 0v2m1 0v2m1 0v2m1 0v2m1 0v2m1 0v3m1 0v4m1 0v3m1 0v4m1 0v2m1 0v1m1 0v1m1 -1v1m1 0v1m1 0v1m1 0v1m1 0v1m1 0v1m1 0v1m1 -1v1m1 0v1m1 -1v1m1 0v1m1 0v2m1 0v1m1 0v1m1 -2v1m1 -3v2m1 -3v1m1 -2v1m1 -1v1m1 -1v1m1 -1v1m1 -1v1m1 -3v2m1 -4v2m1 -4v2m1 -3v1m1 -1v1m1 -2v1m1 -1v1m1 -1v2m1 0v2m1 0v3m1 0v2m1 0v3m1 0v2m1 0v2m1 0v2m1 0v3m1 0v3m1 0v2m1 0v3m1 0v2m1 -2v1m1 -2v1m1 -2v1m1 -2v1m1 0v2m1 0v1m1 0v2m1 0v2m1 0v3m1 0v3m1 0v3m1 0v4m1 0v5m1 0v6m1 0v5m1 0v4m1 0v3m1 0v4m1 0v3m1 0v3m1 0v3m1 0v3m1 0v3m1 0v2m1 -2v1m1 -1v1m1 -2v1m1 -1v1m1 -3v2m1 -4v2m1 -4v2m1 -4v2m1 -3v1m1 -2v1m1 -2v1m1 -2v1m1 -3v2m1 -4v2m1 -4v2m1 -4v2m1 -4v2m1 -4v2m1 -4v2m1 -4v2m1 -4v2m1 -4v2m1 -4v2m1 -4v2m1 -5v3m1 -5v2m1 -5v3m1 -5v2m1 -4v2m1 -4v2m1 -4v2m1 -4v2m1 -1v2m1 0v1m1 0v2m1 0v5m1 0v8m1 0v9m1 0v8m1 0v7m1 0v5m1 0v5m1 0v5m1 0v5m1 0v5m1 0v4m1 0v5m1 0v4m1 0v2m1 0v3m1 0v2m1 0v3m1 0v3m1 0v2m1 0v3m1 0v2m1 0v1m1 0v2m1 0v1m1 0v2m1 0v2m1 0v2m1 0v2m1 0v3m1 0v4m1 0v4m1 0v4m1 0v4m1 0v4m1 0v4m1 0v4m1 0v3m1 0v2m1 0v3m1 0v2m1 0v2m1 0v1m1 0v2m1 0v1m1 0v3m1 0v5m1 0v5m1 0v5m1 0v3m1 0v1m1 -1v1m1 0v1m1 -1v2m1 0v2m1 0v3m1 0v2m1 0v4m1 0v4m1 0v4m1 0v4m1 0v3m1 0v2m1 0v2m1 0v2m1 0v2m1 0v1m1 -1v1m1 0v1m1 -1v1m1 -2v1m1 -3v2m1 -3v1m1 -2v1m1 -2v1m1 -2v1m1 -2v1m1 -2v1m1 -2v1m1 -2v1m1 -2v1m1 -2v1m1 0v1m1 -1v1m1 0v1m1 -1v1m1 -1v1m1 -2v1m1 -1v1m1 -1v1m1 -1v1m1 -2v1m1 -1v1m1 -1v1m1 0v2m1 0v2m1 0v2m1 0v2m1 0v1m1 -1v1m1 0v1m1 -1v1m1 -1v1m1 -1v1m1 -1v1m1 -2v2m1 -4v2m1 -4v2m1 -4v2m1 -6v4m1 -9v5m1 -9v4m1 -9v5m1 -9v4m1 -7v3m1 -5v2m1 -5v3m1 -5v2m1 -3v1m1 -2v1m1 -1v1m1 -2v1m1 0v1m1 0v1m1 -1v1m1 0v2m1 0v2m1 0v2m1 0v2m1 0v2m1 -1v1m1 -1v1m1 -1v1m1 -1v1m1 -2v1m1 -2v1m1 -1v1m1 -2v2m1 0v3m1 0v2m1 0v3m1 0v2m1 0v2m1 0v2m1 0v2m1 0v3m1 0v2m1 0v3m1 0v2m1 0v3m1 0v4m1 0v4m1 0v4m1 0v3m1 0v1m1 0v1m1 0v1m1 0v2m1 0v3m1 0v2m1 0v3m1 0v2m1 0v2m1 0v2m1 0v2m1 0v1m1 -2v1m1 -3v2m1 -3v1m1 -2v1m1 -3v2m1 -4v2m1 -4v2m1 -3v1m1 -2v1m1 -3v2m1 -3v1m1 -2v1m1 0v1m1 0v2m1 0v1m1 0v1m1 0v1m1 0v1m1 0v1m1 0v2m1 0v2m1 0v3m1 0v2m1 0v3m1 0v3m1 0v4m1 0v3m1 0v3m1 0v3m1 0v4m1 0v3m1 0v2m1 0v1m1 -1v1m1 0v1m1 -1v1m1 -1v1m1 -1v1m1 -1v1m1 -2v2m1 -4v2m1 -5v3m1 -5v2m1 -4v2m1 -4v2m1 -4v2m1 -4v2m1 -3v1m1 -2v1m1 -2v1m1 -1v1m1 -3v2m1 -5v3m1 -7v4m1 -7v3m1 -6v3m1 -7v4m1 -8v4m1 -8v4m1 -6v2m1 -3v1m1 -1v1m1 -2v1m1 -1v1m1 -2v1m1 -1v1m1 -2v1m1 -1v1m1 -1v1m1 -2v1m1 -1v1m1 -1v1m1 -1v1m1 0v1m1 -1v1m1 -1v1m1 -2v1m1 -2v1m1 -2v1m1 -2v1m1 0v2m1 0v1m1 0v2m1 0v1m1 0v1m1 0v1m1 -1v1m1 0v1m1 0v1m1 0v1m1 -1v1m1 0v1m1 -3v2m1 -4v2m1 -4v2m1 -4v2m1 -4v2m1 -4v2m1 -4v2m1 -3v1m1 -2v1m1 -2v1m1 -2v1m1 -2v1m1 -2v1m1 -1v1m1 -2v1m1 -1v1m1 -2v1m1 -2v1m1 -2v1m1 -2v1m1 0v1m1 0v2m1 0v1m1 0v2m1 0v2m1 0v3m1 0v2m1 0v2m1 -2v1m1 -2v1m1 -1v1m1 -2v1m1 -1v1m1 -1v1m1 -1v1m1 -1v1m1 0v1m1 0v2m1 0v1m1 -2v3m1 -7v4m1 -8v4m1 -8v4m1 -8v4m1 -8v4m1 -8v4m1 -8v4m1 -7v3m1 -2v1m1 0v2m1 0v1m1 0v1m1 0v1m1 0v1m1 -1v1m1 0v1m1 -3v2m1 -3v1m1 -3v2m1 -4v2m1 -6v4m1 -8v4m1 -8v4m1 -8v4m1 -6v2m1 -5v3m1 -5v2m1 -4v2m1 -3v1m1 -2v1m1 -1v1m1 -2v1m1 -3v2m1 -4v2m1 -4v2m1 -4v2m1 -3v1m1 -2v1m1 -1v1m1 -2v1m1 0v1m1 0v1m1 -1v1m1 0v1m1 -2v1m1 -3v2m1 -3v1m1 -2v1m1 -2v1m1 -3v2m1 -3v1m1 -2v1m1 -2v1m1 -2v1m1 -2v1m1 -2v1m1 -1v1m1 0v1m1 -1v1m1 -2v2m1 -4v2m1 -4v2m1 -4v2m1 -4v2m1 -4v2m1 -4v2m1 -4v2m1 -5v3m1 -6v3m1 -5v2m1 -5v3m1 -5v2m1 -4v2m1 -4v2m1 -4v2m1 -5v3m1 -6v3m1 -6v3m1 -6v3m1 -6v3m1 -5v2m1 -5v3m1 -5v2m1 -4v2m1 -3v1m1 -1v1m1 -2v1m1 -1v1m1 -1v1m1 -2v1m1 -1v1m1 -1v1m1 -2v1m1 -3v2m1 -3v1m1 -2v1m1 0v1m1 0v2m1 0v1m1 0v1m1 0v1m1 0v1m1 0v1m1 0v1m1 -2v1m1 -1v1m1 -2v1m1 -1v1m1 0v2m1 0v1m1 0v2m1 0v1m1 0v1m1 0v2m1 0v1m1 0v1m1 0v1m1 0v1m1 0v1m1 0v1m1 0v1m1 0v1m1 -1v1m1 0v1m1 -1v1m1 0v1m1 -1v1m1 -2v2m1 -4v2m1 -5v3m1 -5v2m1 -5v3m1 -6v3m1 -5v2m1 -5v3m1 -5v2m1 -3v1m1 -3v2m1 -3v1m1 -3v2m1 -4v2m1 -5v3m1 -5v2m1 -4v2m1 -3v1m1 -2v1m1 -2v1m1 -2v1m1 -2v1m1 -3v2m1 -3v1m1 -2v1m1 -2v1m1 -3v2m1 -3v1m1 -2v1m1 0v1m1 0v2m1 0v1m1 0v1m1 -1v1m1 -2v1m1 -1v1m1 -1v1m1 -1v1m1 -2v1m1 -1v1m1 -1v1m1 0v1m1 0v2m1 0v1m1 0v1m1 0v1m1 0v1m1 -1v1m1 0v1m1 -1v1m1 0v1m1 -1v1m1 -1v1m1 -1v1m1 0v1m1 -1v1m1 -2v2m1 -4v2m1 -4v2m1 -4v2m1 -5v3m1 -7v4m1 -8v4m1 -8v4m1 -7v3m1 -5v2m1 -4v2m1 -4v2m1 -5v3m1 -7v4m1 -7v3m1 -7v4m1 -7v3m1 -6v3m1 -5v2m1 -5v3m1 -5v2m1 -2v1m1 -1v1m1 -1v1m1 -1v1m1 0v1m1 0v2m1 0v1m1 0v1m1 0v2m1 0v2m1 0v2m1 0v3m1 0v2m1 0v2m1 0v2m1 0v2m1 0v2m1 0v1m1 0v2m1 0v1m1 -1v1m1 -1v1m1 -1v1m1 -1v1m1 -2v1m1 -1v1m1 -2v1m1 -1v1m1 -2v1m1 -3v2m1 -3v1m1 -2v1m1 -2v1m1 -1v1m1 -2v1m1 -1v1m1 -3v2m1 -4v2m1 -4v2m1 -4v2m1 -3v1m1 -2v1m1 -1v1m1 -2v1m1 -2v1m1 -3v2m1 -3v1m1 -2v1m1 -1v1m1 -1v1m1 -1v1m1 -1v1m1 -3v2m1 -4v2m1 -4v2m1 -5v3m1 -7v4m1 -7v3m1 -7v4m1 -7v3m1 -6v3m1 -5v2m1 -5v3m1 -5v2m1 -3v1m1 -2v1m1 -2v1m1 -2v1m1 -3v2m1 -4v2m1 -4v2m1 -3v1m1 -1v1m1 -2v1m1 -1v1m1 -1v1m1 0v1m1 -1v1m1 0v1m1 -1v2m1 0v4m1 0v3m1 0v4m1 0v2m1 0v2m1 0v2m1 0v2m1 0v3m1 0v2m1 0v3m1 0v2m1 0v3m1 0v2m1 0v3m1 0v2m1 0v3m1 0v2m1 0v3m1 0v2m1 0v2m1 -2v1m1 -2v1m1 -2v1m1 -2v1m1 -2v1m1 -2v1m1 -1v1m1 -2v1m1 -2v1m1 -2v1m1 -2v1m1 -2v1m1 -2v1m1 -1v1m1 -2v1m1 -1v1m1 -2v1m1 -3v2m1 -3v1m1 -2v1m1 -2v1m1 -2v1m1 -2v1m1 -2v1m1 -3v2m1 -3v1m1 -3v2m1 -3v1m1 -2v1m1 -2v1m1 -2v1m1 -2v1m1 -3v2m1 -4v2m1 -4v2m1 -3v1m1 -3v2m1 -4v2m1 -4v2m1 -3v1m1 -1v1m1 -2v1m1 -1v1m1 -1v2m1 0v3m1 0v2m1 0v3m1 0v3m1 0v2m1 0v2m1 0v2m1 0v2m1 0v2m1 0v1m1 0v2m1 0v1m1 -3v2m1 -3v1m1 -3v2m1 -3v1m1 -2v1m1 -1v1m1 -2v1m1 -1v1m1 -1v1m1 0v1m1 -1v1m1 -1v1m1 0v1m1 0v2m1 0v1m1 0v1m1 0v2m1 0v2m1 0v2m1 0v1m1 -2v1m1 -1v1m1 -2v1m1 -1v2m1 0v2m1 0v3m1 0v2m1 0v2m1 -1v1m1 -1v1m1 -1v1m1 -1v1m1 -2v1m1 -3v2m1 -3v1m1 -2v1m1 -1v1m1 -2v1m1 -1v1m1 -1v1m1 -2v1m1 -2v1m1 -1v1m1 -2v1m1 -2v1m1 -2v1m1 -2v1m1 -2v1m1 -3v2m1 -4v2m1 -4v2m1 -4v2m1 -4v2m1 -5v3m1 -5v2m1 -4v2m1 -4v2m1 -4v2m1 -4v2m1 -3v1m1 -1v1m1 -1v1m1 -1v1m1 -1v1m1 0v1m1 0v1m1 -1v1m1 0v3m1 0v5m1 0v6m1 0v5m1 0v3m1 0v2m1 0v1m1 0v2m1 0v1m1 -3v2m1 -4v2m1 -4v2m1 -4v2m1 -2v1m1 -1v1m1 -1v1m1 -1v1m1 -2v1m1 -2v1m1 -2v1m1 -2v1m1 -2v1m1 -3v2m1 -3v1m1 -3v2m1 -4v2m1 -5v3m1 -5v2m1 -5v3m1 -7v4m1 -7v3m1 -7v4m1 -6v2m1 -3v1m1 -2v1m1 -2v1m1 -2v1m1 0v1m1 0v1m1 0v1m1 0v2m1 0v3m1 0v3m1 0v3m1 0v2m1 0v2m1 0v2m1 0v2m1 0v2m1 0v2m1 0v1m1 0v2m1 0v1m1 -2v1m1 -3v2m1 -3v1m1 -2v1m1 -2v1m1 -2v1m1 -1v1m1 -3v2m1 -4v2m1 -5v3m1 -5v2m1 -4v2m1 -2v1m1 0v1m1 -1v1m1 -1v1m1 0v1m1 0v1m1 -1v1m1 0v1m1 -2v1m1 -2v1m1 -1v1m1 -3v2m1 -5v3m1 -6v3m1 -6v3m1 -7v4m1 -9v5m1 -11v6m1 -11v5m1 -8v3m1 -4v1m1 -2v1m1 -1v1m1 -2v1m1 -1v1m1 -2v1m1 -1v1m1 -1v1m1 -1v1m1 -2v1m1 -1v1m1 -1v1m1 0v1m1 -1v1m1 0v1m1 -1v2m1 0v2m1 0v2m1 0v2m1 0v3m1 0v4m1 0v4m1 0v4m1 0v4m1 0v5m1 0v4m1 0v5m1 0v4m1 0v3m1 0v3m1 0v3m1 0v4m1 0v5m1 0v5m1 0v5m1 0v8m1 0v10m1 0v10m1 0v10m1 0v10m1 0v9m1 0v10m1 0v9m1 0v6m1 0v2m1 0v2m1 0v2m1 0v2m1 -2v1m1 -2v1m1 -1v1m1 -3v2m1 -6v4m1 -7v3m1 -7v4m1 -7v3m1 -5v2m1 -4v2m1 -4v2m1 -5v3m1 -5v2m1 -4v2m1 -4v2m1 -5v3m1 -7v4m1 -8v4m1 -8v4m1 -8v4m1 -8v4m1 -7v3m1 -7v4m1 -6v2m1 -1v1m1 -1v1m1 0v1m1 -1v1m1 0v1m1 0v1m1 0v1m1 0v1m1 0v1m1 -1v1m1 0v1m1 -1v1m1 0v2m1 0v1m1 0v2m1 0v1m1 0v1m1 0v1m1 -1v1m1 0v1m1 0v1m1 0v1m1 -1v1m1 0v1m1 0v2m1 0v2m1 0v2m1 0v2m1 -3v2m1 -4v2m1 -4v2m1 -3v1m1 -2v1m1 -2v1m1 -2v1m1 -3v2m1 -5v3m1 -6v3m1 -6v3m1 -5v2m1 -3v1m1 -3v2m1 -3v1m1 -2v2m1 0v3m1 0v2m1 0v3m1 0v3m1 0v2m1 0v2m1 0v2m1 0v2m1 0v1m1 0v2m1 0v1m1 0v1m1 0v1m1 0v1m1 0v1m1 0v1m1 -2v1m1 -2v1m1 -1v1m1 -2v1m1 -2v1m1 -3v2m1 -3v1m1 -2v1m1 -2v1m1 -2v1m1 -1v1m1 -2v1m1 0v1m1 0v1m1 -1v1m1 0v1m1 -3v2m1 -3v1m1 -3v2m1 -3v1m1 -2v1m1 -2v1m1 -1v1m1 -2v1m1 -1v1m1 0v1m1 -1v1m1 -1v1m1 -1v1m1 -1v1m1 -1v1m1 -1v1m1 0v2m1 0v2m1 0v2m1 0v3m1 0v3m1 0v3m1 0v3m1 0v2m1 0v1m1 0v2m1 0v1m1 0v2m1 0v2m1 0v2m1 0v2m1 0v3m1 0v3m1 0v3m1 0v3m1 0v2m1 0v1m1 0v1m1 0v1m1 0v2m1 0v4m1 0v3m1 0v4m1 0v3m1 0v3m1 0v2m1 0v3m1 0v2m1 -1v1m1 -1v1m1 -1v1m1 -1v1m1 -3v2m1 -3v1m1 -3v2m1 -3v1m1 -2v1m1 -3v2m1 -3v1m1 -2v1m1 -3v2m1 -4v2m1 -4v2m1 -5v3m1 -7v4m1 -7v3m1 -7v4m1 -6v2m1 -4v2m1 -4v2m1 -4v2m1 -3v1m1 -1v1m1 -1v1m1 -1v1m1 -1v1m1 0v1m1 0v2m1 0v1m1 0v1m1 -1v1m1 -1v1m1 -1v1m1 -1v3m1 0v4m1 0v4m1 0v4m1 0v4m1 0v3m1 0v3m1 0v3m1 0v4m1 0v5m1 0v4m1 0v5m1 0v3" fill="none" stroke="#0000ff" stroke-width="1"/>
<path d="M3.5 490v1m1 -1v1m1 0v1m1 -1v1m1 -1v2m1 0v3m1 0v3m1 0v3m1 0v2m1 -1v1m1 -2v1m1 -1v1m1 -1v1m1 0v1m1 0v1m1 0v1m1 0v1m1 0v2m1 0v1m1 0v2m1 0v2m1 0v2m1 0v2m1 0v2m1 0v3m1 0v2m1 0v3m1 0v2m1 0v3m1 0v4m1 0v4m1 0v4m1 0v3m1 0v1m1 -1v1m1 0v1m1 -3v3m1 -8v5m1 -10v5m1 -10v5m1 -8v3m1 -1v2m1 0v3m1 0v2m1 0v2m1 0v2m1 0v2m1 0v2m1 0v2m1 0v4m1 0v3m1 0v4m1 -1v3m1 -7v4m1 -9v5m1 -9v4m1 -7v3m1 -5v2m1 -4v2m1 -4v2m1 -4v2m1 -4v2m1 -4v2m1 -4v2m1 -4v2m1 -2v1m1 -1v1m1 -1v1m1 -2v2m1 -4v2m1 -5v3m1 -5v2m1 -4v2m1 -3v1m1 -3v2m1 -3v1m1 -2v1m1 -2v1m1 -2v1m1 -1v1m1 -2v2m1 0v2m1 0v3m1 0v2m1 -1v3m1 -7v4m1 -8v4m1 -8v4m1 -9v5m1 -11v6m1 -11v5m1 -11v6m1 -9v3m1 -4v1m1 -2v1m1 -2v1m1 -2v2m1 0v3m1 0v2m1 0v3m1 0v2m1 0v2m1 0v1m1 0v2m1 0v1m1 0v1m1 -1v1m1 0v1m1 -1v1m1 0v1m1 0v2m1 0v1m1 0v1m1 -3v2m1 -4v2m1 -4v2m1 -5v3m1 -8v5m1 -10v5m1 -10v5m1 -9v4m1 -6v2m1 -5v3m1 -5v2m1 -5v3m1 -6v3m1 -6v3m1 -6v3m1 -7v4m1 -9v5m1 -11v6m1 -11v5m1 -12v7m1 -16v9m1 -18v9m1 -18v9m1 -16v7m1 -12v5m1 -11v6m1 -11v5m1 -9v4m1 -6v2m1 -5v3m1 -5v2m1 -4v2m1 -2v1m1 -2v1m1 -1v1m1 -1v1m1 -2v1m1 -3v2m1 -3v1m1 -2v2m1 0v4m1 0v3m1 0v4m1 0v4m1 0v6m1 0v5m1 0v6m1 0v6m1 0v6m1 0v6m1 0v6m1 0v4m1 0v1m1 0v1m1 -1v1m1 0v1m1 -2v1m1 -2v1m1 -2v1m1 -2v2m1 0v3m1 0v2m1 0v3m1 -1v3m1 -7v4m1 -8v4m1 -8v4m1 -7v3m1 -5v2m1 -4v2m1 -4v2m1 -3v1m1 -1v1m1 -1v1m1 -1v1m1 -1v1m1 0v1m1 0v1m1 -1v1m1 0v1m1 0v1m1 0v1m1 0v1m1 0v2m1 0v2m1 0v3m1 0v2m1 0v3m1 0v4m1 0v4m1 0v4m1 0v4m1 0v3m1 0v4m1 0v3m1 0v2m1 -1v1m1 -2v1m1 -1v1m1 -1v1m1 -1v1m1 -1v1m1 -1v1m1 -1v1m1 0v1m1 0v1m1 -1v1m1 0v1m1 -2v1m1 -1v1m1 -2v1m1 -1v1m1 -2v1m1 -1v1m1 -2v1m1 -1v1m1 -3v2m1 -3v1m1 -3v2m1 -4v2m1 -5v3m1 -6v3m1 -6v3m1 -5v2m1 -4v2m1 -4v2m1 -4v2m1 -4v2m1 -3v1m1 -2v1m1 -2v1m1 -2v1m1 -1v1m1 0v1m1 -1v1m1 -2v2m1 -4v2m1 -4v2m1 -4v2m1 -4v2m1 0v4m1 0v4m1 0v4m1 0v3m1 0v3m1 0v2m1 0v3m1 0v3m1 0v2m1 0v3m1 0v2m1 0v3m1 0v3m1 0v4m1 0v3m1 0v2m1 0v1m1 0v2m1 0v1m1 0v1m1 -3v2m1 -4v2m1 -4v2m1 -6v4m1 -10v6m1 -13v7m1 -13v6m1 -10v4m1 -3v1m1 0v1m1 -1v1m1 -6v7m1 -19v12m1 -24v12m1 -24v12m1 -20v8m1 -12v4m1 -8v4m1 -8v4m1 -9v5m1 -11v6m1 -12v6m1 -12v6m1 -10v4m1 -7v3m1 -5v2m1 -5v3m1 -5v2m1 -4v2m1 -3v1m1 -3v2m1 -3v1m1 -3v2m1 -4v2m1 -4v2m1 -3v2m1 0v4m1 0v4m1 0v4m1 0v3m1 -2v1m1 -2v1m1 -1v1m1 -2v2m1 0v3m1 0v4m1 0v3m1 0v5m1 0v6m1 0v7m1 0v6m1 0v4m1 -1v1m1 -1v1m1 -1v1m1 -1v1m1 0v1m1 0v1m1 0v1m1 0v1m1 -2v1m1 -1v1m1 -2v1m1 -3v3m1 -7v4m1 -8v4m1 -8v4m1 -8v4m1 -7v3m1 -7v4m1 -7v3m1 -5v2m1 -1v1m1 -1v1m1 0v1m1 -1v1m1 0v1m1 -1v1m1 0v1m1 -1v1m1 -1v1m1 -2v1m1 -1v1m1 -1v1m1 -2v1m1 -3v2m1 -3v1m1 -4v3m1 -7v4m1 -8v4m1 -8v4m1 -9v5m1 -10v5m1 -10v5m1 -10v5m1 -8v3m1 -2v2m1 0v1m1 0v2m1 0v2m1 0v4m1 0v3m1 0v4m1 0v2m1 -5v3m1 -5v2m1 -5v3m1 -5v4m1 0v7m1 0v7m1 0v7m1 0v5m1 0v2m1 0v2m1 0v2m1 0v4m1 0v5m1 0v4m1 0v5m1 0v3m1 0v1m1 0v1m1 -1v1m1 0v1m1 0v2m1 0v2m1 0v2m1 0v1m1 0v1m1 0v1m1 -1v1m1 0v1m1 0v1m1 0v1m1 -1v1m1 0v2m1 0v3m1 0v2m1 0v3m1 0v2m1 0v1m1 -1v1m1 0v1m1 -1v1m1 0v2m1 0v1m1 0v2m1 0v2m1 0v3m1 0v4m1 0v3m1 0v3m1 0v2m1 0v3m1 0v2m1 0v2m1 -3v2m1 -3v1m1 -3v2m1 -3v1m1 -1v1m1 -1v1m1 -1v1m1 -1v1m1 -3v2m1 -3v1m1 -3v2m1 -3v1m1 -2v1m1 -1v1m1 -2v1m1 -3v3m1 -8v5m1 -9v4m1 -9v5m1 -10v5m1 -11v6m1 -12v6m1 -12v6m1 -13v7m1 -13v6m1 -13v7m1 -13v6m1 -11v5m1 -9v4m1 -8v4m1 -8v4m1 -8v4m1 -6v2m1 -4v2m1 -4v2m1 -5v3m1 -7v4m1 -8v4m1 -8v4m1 -8v4m1 -7v3m1 -5v2m1 -5v3m1 -5v2m1 -3v1m1 -2v1m1 -2v1m1 -2v1m1 -2v1m1 -2v1m1 -2v1m1 -3v2m1 -4v2m1 -5v3m1 -5v2m1 -4v2m1 -1v1m1 0v1m1 -1v1m1 -1v2m1 -4v2m1 -4v2m1 -4v2m1 -6v4m1 -9v5m1 -11v6m1 -11v5m1 -9v4m1 -8v4m1 -8v4m1 -8v4m1 -8v4m1 -7v3m1 -6v3m1 -6v3m1 -7v4m1 -10v6m1 -12v6m1 -12v6m1 -12v6m1 -13v7m1 -15v8m1 -15v7m1 -13v6m1 -12v6m1 -11v5m1 -11v6m1 -9v3m1 -2v1m1 0v1m1 -1v1m1 0v1m1 -2v1m1 -2v1m1 -1v1m1 -2v1m1 -2v1m1 -3v2m1 -3v1m1 -3v2m1 -5v3m1 -5v2m1 -5v3m1 -7v4m1 -8v4m1 -9v5m1 -9v4m1 -9v5m1 -9v4m1 -9v5m1 -9v4m1 -8v4m1 -7v3m1 -5v2m1 -5v3m1 -5v2m1 0v2m1 0v3m1 0v2m1 0v2m1 0v2m1 0v2m1 0v2m1 -1v2m1 -6v4m1 -8v4m1 -8v4m1 -6v2m1 -4v2m1 -4v2m1 -4v2m1 -4v2m1 -4v2m1 -4v2m1 -4v2m1 -4v2m1 -2v1m1 -1v1m1 -1v1m1 -1v1m1 0v1m1 0v1m1 -1v1m1 0v1m1 0v1m1 0v1m1 -1v1m1 0v1m1 0v1m1 0v2m1 0v1m1 0v1m1 0v2m1 0v2m1 0v2m1 -1v2m1 -6v4m1 -8v4m1 -8v4m1 -7v3m1 -5v2m1 -5v3m1 -5v2m1 -4v3m1 0v4m1 0v4m1 0v4m1 0v4m1 0v3m1 0v2m1 0v3m1 0v4m1 0v4m1 0v5m1 0v4m1 0v3m1 -1v1m1 -1v1m1 -1v1m1 -1v1m1 0v1m1 0v1m1 -1v1m1 0v1m1 -1v1m1 -1v1m1 -1v1m1 -1v1m1 0v2m1 0v2m1 0v2m1 -1v2m1 -5v3m1 -5v2m1 -5v3m1 -5v2m1 -2v1m1 0v1m1 -1v1m1 -2v2m1 -5v3m1 -5v2m1 -5v3m1 -5v2m1 -2v1m1 0v1m1 -1v1m1 -1v2m1 0v4m1 0v4m1 0v4m1 0v3m1 0v3m1 0v4m1 0v3m1 0v3m1 0v3m1 0v4m1 0v3m1 0v2m1 -5v3m1 -5v2m1 -5v3m1 -5v2m1 -1v2m1 0v2m1 0v2m1 0v4m1 0v4m1 0v4m1 0v4m1 0v6m1 0v6m1 0v7m1 0v6m1 0v5m1 0v3m1 0v4m1 0v3m1 0v3m1 0v2m1 0v3m1 0v2m1 0v2m1 -4v2m1 -4v2m1 -4v2m1 -5v3m1 -6v3m1 -7v4m1 -7v3m1 -5v2m1 -4v2m1 -4v2m1 -4v2m1 -4v2m1 -4v2m1 -4v2m1 -4v2m1 -5v3m1 -5v2m1 -5v3m1 -5v2m1 -4v2m1 -4v2m1 -4v2m1 -4v2m1 -5v3m1 -6v3m1 -7v4m1 -7v3m1 -5v2m1 -4v2m1 -4v2m1 -4v2m1 -4v2m1 0v3m1 0v4m1 0v3m1 0v8m1 0v13m1 0v14m1 0v13m1 0v9m1 0v5m1 0v6m1 0v5m1 0v5m1 0v5m1 0v5m1 0v5m1 0v3m1 0v1m1 0v2m1 0v1m1 0v2m1 0v2m1 0v3m1 0v2m1 0v2m1 -1v1m1 0v1m1 -1v1m1 -1v2m1 0v2m1 0v2m1 0v2m1 0v4m1 0v5m1 0v4m1 0v5m1 0v5m1 0v4m1 0v4m1 0v4m1 0v3m1 0v2m1 0v2m1 0v2m1 0v1m1 0v1m1 0v1m1 -1v1m1 0v4m1 0v6m1 0v7m1 0v6m1 0v4m1 -3v2m1 -3v1m1 -3v2m1 -3v2m1 0v3m1 0v3m1 0v3m1 0v4m1 0v5m1 0v6m1 0v5m1 0v3m1 0v1m1 0v2m1 0v1m1 0v1m1 -1v1m1 -2v1m1 -1v1m1 -2v2m1 -5v3m1 -5v2m1 -5v3m1 -5v2m1 -4v2m1 -3v1m1 -3v2m1 -3v1m1 -3v2m1 -3v1m1 -3v2m1 -3v1m1 0v1m1 0v2m1 0v1m1 0v1m1 -1v1m1 -2v1m1 -1v1m1 -1v1m1 -2v1m1 -1v1m1 -2v1m1 -1v2m1 0v3m1 0v3m1 0v3m1 0v2m1 -1v1m1 0v1m1 -1v1m1 -1v1m1 -1v1m1 -1v1m1 -1v1m1 -2v2m1 -6v4m1 -7v3m1 -7v4m1 -9v5m1 -12v7m1 -14v7m1 -14v7m1 -12v5m1 -7v2m1 -5v3m1 -5v2m1 -4v2m1 -2v1m1 -1v1m1 -1v1m1 -1v2m1 0v2m1 0v2m1 0v2m1 0v3m1 0v4m1 0v3m1 0v4m1 0v2m1 -1v1m1 -2v1m1 -1v1m1 -1v1m1 -3v2m1 -3v1m1 -3v2m1 -3v3m1 0v4m1 0v4m1 0v4m1 0v4m1 0v2m1 0v3m1 0v2m1 0v3m1 0v3m1 0v3m1 0v3m1 0v4m1 0v5m1 0v4m1 0v5m1 0v3m1 -1v1m1 -2v1m1 -1v1m1 -1v2m1 0v4m1 0v3m1 0v4m1 0v2m1 0v1m1 0v2m1 0v1m1 -1v2m1 -5v3m1 -6v3m1 -6v3m1 -6v3m1 -5v2m1 -5v3m1 -5v2m1 -4v2m1 -4v2m1 -3v1m1 -3v2m1 -3v1m1 0v2m1 0v2m1 0v2m1 0v2m1 0v2m1 0v1m1 0v2m1 0v2m1 0v4m1 0v4m1 0v4m1 0v3m1 0v4m1 0v4m1 0v4m1 0v3m1 0v4m1 0v4m1 0v4m1 0v2m1 -2v1m1 -2v1m1 -1v1m1 -2v1m1 -2v1m1 -1v1m1 -2v1m1 -3v3m1 -7v4m1 -8v4m1 -8v4m1 -8v4m1 -6v2m1 -5v3m1 -5v2m1 -4v2m1 -2v1m1 -1v1m1 -1v1m1 -3v3m1 -8v5m1 -9v4m1 -9v5m1 -10v5m1 -9v4m1 -8v4m1 -8v4m1 -7v3m1 -3v1m1 0v1m1 -1v1m1 -1v1m1 0v1m1 -1v1m1 0v1m1 -1v1m1 -1v1m1 0v1m1 -1v1m1 -1v1m1 0v1m1 -1v1m1 0v1m1 -1v1m1 -3v2m1 -3v1m1 -3v2m1 -3v2m1 0v3m1 0v2m1 0v3m1 0v2m1 0v1m1 0v1m1 -1v1m1 0v1m1 0v1m1 0v1m1 0v1m1 -1v2m1 -6v4m1 -7v3m1 -7v4m1 -6v2m1 -4v2m1 -4v2m1 -4v2m1 -4v2m1 -3v1m1 -3v2m1 -3v1m1 -2v1m1 -1v1m1 -1v1m1 -1v1m1 -1v1m1 -2v1m1 -2v1m1 -2v1m1 -2v2m1 0v2m1 0v2m1 0v2m1 0v3m1 0v4m1 0v4m1 0v4m1 0v2m1 -3v2m1 -4v2m1 -4v2m1 -4v2m1 -2v1m1 -1v1m1 -1v1m1 -1v1m1 0v2m1 0v1m1 0v2m1 -3v4m1 -10v6m1 -13v7m1 -13v6m1 -12v6m1 -11v5m1 -10v5m1 -10v5m1 -8v3m1 -1v3m1 0v3m1 0v3m1 0v2m1 0v2m1 0v2m1 0v2m1 -1v2m1 -4v2m1 -4v2m1 -4v2m1 -6v4m1 -10v6m1 -12v6m1 -12v6m1 -10v4m1 -6v2m1 -4v2m1 -4v2m1 -4v2m1 -2v1m1 -1v1m1 -1v1m1 -2v2m1 -4v2m1 -5v3m1 -5v2m1 -4v2m1 -2v1m1 -1v1m1 -1v1m1 -1v1m1 0v2m1 0v2m1 0v2m1 0v1m1 -3v2m1 -4v2m1 -4v2m1 -3v1m1 -3v2m1 -3v1m1 -3v2m1 -3v1m1 -2v1m1 -3v2m1 -3v1m1 -2v1m1 0v1m1 0v2m1 0v1m1 -1v2m1 -5v3m1 -7v4m1 -7v3m1 -6v3m1 -5v2m1 -5v3m1 -5v2m1 -5v3m1 -6v3m1 -7v4m1 -7v3m1 -5v2m1 -4v2m1 -4v2m1 -4v2m1 -5v3m1 -6v3m1 -7v4m1 -7v3m1 -6v3m1 -5v2m1 -5v3m1 -5v2m1 -4v2m1 -2v1m1 0v1m1 -1v1m1 -1v1m1 0v1m1 -1v1m1 0v1m1 -1v1m1 -2v1m1 -3v2m1 -3v1m1 -2v2m1 0v2m1 0v2m1 0v2m1 0v2m1 0v2m1 0v1m1 0v2m1 0v1m1 -2v1m1 -2v1m1 -2v1m1 -2v2m1 0v2m1 0v3m1 0v2m1 0v2m1 0v1m1 0v1m1 0v1m1 0v1m1 0v1m1 0v2m1 0v1m1 0v1m1 0v1m1 -1v1m1 0v1m1 -1v1m1 -1v1m1 -1v1m1 -1v1m1 -2v2m1 -6v4m1 -8v4m1 -8v4m1 -7v3m1 -7v4m1 -8v4m1 -8v4m1 -6v2m1 -3v1m1 -2v1m1 -2v1m1 -3v2m1 -5v3m1 -6v3m1 -6v3m1 -5v2m1 -3v1m1 -1v1m1 -2v1m1 -1v1m1 -2v1m1 -3v2m1 -3v1m1 -2v1m1 -2v1m1 -2v1m1 -2v1m1 -2v2m1 0v2m1 0v3m1 0v2m1 0v2m1 -2v1m1 -1v1m1 -2v1m1 -1v1m1 -1v1m1 -2v1m1 -1v1m1 -1v1m1 0v2m1 0v2m1 0v2m1 0v2m1 0v1m1 0v1m1 0v1m1 0v1m1 -1v1m1 -2v1m1 -1v1m1 -1v1m1 -1v1m1 0v1m1 -1v1m1 -2v2m1 -6v4m1 -7v3m1 -7v4m1 -8v4m1 -10v6m1 -11v5m1 -11v6m1 -9v3m1 -5v2m1 -4v2m1 -4v2m1 -5v3m1 -7v4m1 -8v4m1 -8v4m1 -8v4m1 -6v2m1 -5v3m1 -5v2m1 -4v2m1 -1v1m1 0v2m1 0v1m1 0v2m1 0v2m1 0v3m1 0v2m1 0v3m1 0v4m1 0v3m1 0v4m1 0v3m1 0v3m1 0v2m1 0v3m1 0v2m1 0v1m1 0v2m1 0v1m1 0v1m1 -2v1m1 -2v1m1 -1v1m1 -2v1m1 -2v1m1 -3v2m1 -3v1m1 -2v1m1 -3v2m1 -4v2m1 -4v2m1 -3v1m1 -2v1m1 -2v1m1 -1v1m1 -3v2m1 -4v2m1 -4v2m1 -4v2m1 -4v2m1 -3v1m1 -2v1m1 -2v1m1 -2v1m1 -2v1m1 -3v2m1 -3v1m1 -2v1m1 0v1m1 0v1m1 0v1m1 -1v2m1 -5v3m1 -6v3m1 -6v3m1 -7v4m1 -9v5m1 -9v4m1 -9v5m1 -9v4m1 -7v3m1 -5v2m1 -5v3m1 -5v2m1 -2v1m1 -2v1m1 -1v1m1 -1v1m1 -3v2m1 -4v2m1 -4v2m1 -4v2m1 -1v1m1 0v1m1 0v1m1 0v1m1 0v1m1 0v1m1 0v1m1 0v3m1 0v5m1 0v6m1 0v5m1 0v4m1 0v2m1 0v2m1 0v2m1 0v3m1 0v3m1 0v3m1 0v3m1 0v3m1 0v3m1 0v2m1 0v3m1 0v3m1 0v2m1 0v3m1 0v2m1 0v2m1 -5v3m1 -6v3m1 -6v3m1 -5v2m1 -3v1m1 -3v2m1 -3v1m1 -2v1m1 -3v2m1 -3v1m1 -3v2m1 -3v1m1 -1v1m1 -2v1m1 -1v1m1 -1v1m1 -3v2m1 -4v2m1 -4v2m1 -4v2m1 -3v1m1 -2v1m1 -2v1m1 -2v1m1 -3v2m1 -4v2m1 -4v2m1 -3v1m1 -2v1m1 -2v1m1 -1v1m1 -3v2m1 -4v2m1 -4v2m1 -4v2m1 -4v2m1 -4v2m1 -4v2m1 -4v2m1 -4v2m1 -1v1m1 0v1m1 -1v1m1 0v3m1 0v4m1 0v5m1 0v4m1 0v4m1 0v3m1 0v2m1 0v3m1 0v2m1 0v2m1 0v1m1 0v2m1 -1v2m1 -5v3m1 -5v2m1 -5v3m1 -5v2m1 -3v1m1 -2v1m1 -2v1m1 -2v1m1 0v1m1 -1v1m1 0v1m1 -1v1m1 0v2m1 0v2m1 0v2m1 0v2m1 0v2m1 0v2m1 0v2m1 0v2m1 -2v1m1 -2v1m1 -2v1m1 -2v2m1 0v4m1 0v3m1 0v4m1 0v2m1 -2v1m1 -2v1m1 -2v1m1 -2v1m1 -3v2m1 -4v2m1 -4v2m1 -4v2m1 -2v1m1 -2v1m1 -1v1m1 -1v1m1 -2v1m1 -2v1m1 -2v1m1 -2v1m1 -2v1m1 -3v2m1 -3v1m1 -3v2m1 -4v2m1 -4v2m1 -4v2m1 -5v3m1 -6v3m1 -7v4m1 -7v3m1 -5v2m1 -4v2m1 -3v1m1 -3v2m1 -3v1m1 0v1m1 0v1m1 -1v1m1 0v1m1 0v2m1 0v1m1 0v2m1 0v4m1 0v8m1 0v8m1 0v8m1 0v5m1 0v1m1 0v1m1 0v1m1 -1v2m1 -6v4m1 -8v4m1 -8v4m1 -6v2m1 -2v1m1 -2v1m1 -1v1m1 -1v1m1 -3v2m1 -4v2m1 -4v2m1 -3v1m1 -2v1m1 -3v2m1 -3v1m1 -3v2m1 -6v4m1 -7v3m1 -7v4m1 -8v4m1 -8v4m1 -8v4m1 -8v4m1 -7v3m1 -3v1m1 -2v1m1 -1v1m1 -1v2m1 0v2m1 0v3m1 0v2m1 0v4m1 0v5m1 0v4m1 0v5m1 0v3m1 0v2m1 0v2m1 0v2m1 0v2m1 0v2m1 0v2m1 0v2m1 -1v2m1 -5v3m1 -5v2m1 -5v3m1 -5v2m1 -4v2m1 -3v1m1 -3v2m1 -4v2m1 -6v4m1 -7v3m1 -7v4m1 -6v2m1 -1v1m1 0v1m1 0v1m1 0v1m1 0v2m1 0v1m1 0v2m1 0v1m1 -2v1m1 -2v1m1 -2v1m1 -4v3m1 -7v4m1 -8v4m1 -8v4m1 -10v6m1 -13v7m1 -15v8m1 -15v7m1 -11v4m1 -3v1m1 0v1m1 -1v1m1 0v1m1 0v1m1 -1v1m1 0v1m1 -1v1m1 -1v1m1 0v1m1 -1v1m1 -1v1m1 0v1m1 0v2m1 0v1m1 0v2m1 0v3m1 0v4m1 0v3m1 0v4m1 0v5m1 0v6m1 0v5m1 0v5m1 0v6m1 0v6m1 0v6m1 0v4m1 0v3m1 0v2m1 0v3m1 0v4m1 0v6m1 0v6m1 0v6m1 0v9m1 0v14m1 0v13m1 0v14m1 0v11m1 0v10m1 0v10m1 0v10m1 0v6m1 -1v1m1 -2v1m1 -1v1m1 -2v2m1 -6v4m1 -8v4m1 -8v4m1 -10v6m1 -12v6m1 -12v6m1 -12v6m1 -11v5m1 -8v3m1 -7v4m1 -7v3m1 -6v3m1 -5v2m1 -5v3m1 -5v2m1 -6v4m1 -9v5m1 -10v5m1 -10v5m1 -9v4m1 -8v4m1 -8v4m1 -8v4m1 -7v3m1 -1v2m1 0v2m1 0v2m1 0v3m1 0v2m1 0v2m1 0v2m1 0v2m1 0v1m1 0v1m1 -1v1m1 0v2m1 0v2m1 0v3m1 0v2m1 0v2m1 0v1m1 -1v1m1 0v1m1 -1v1m1 0v1m1 0v1m1 -1v1m1 0v2m1 0v3m1 0v2m1 0v3m1 0v2m1 -5v3m1 -7v4m1 -7v3m1 -5v2m1 -4v2m1 -4v2m1 -4v2m1 -4v2m1 -6v4m1 -8v4m1 -8v4m1 -7v3m1 -4v1m1 -2v1m1 -2v1m1 -2v3m1 0v5m1 0v4m1 0v5m1 0v4m1 0v3m1 0v3m1 0v3m1 0v2m1 0v2m1 0v1m1 0v2m1 0v1m1 0v1m1 0v1m1 -1v1m1 0v1m1 -3v2m1 -4v2m1 -4v2m1 -4v2m1 -4v2m1 -4v2m1 -4v2m1 -4v2m1 -3v1m1 -1v1m1 -2v1m1 -1v1m1 0v1m1 0v2m1 0v1m1 0v1m1 -3v2m1 -4v2m1 -4v2m1 -4v2m1 -3v1m1 -2v1m1 -2v1m1 -2v1m1 0v1m1 -1v1m1 0v1m1 -1v1m1 0v1m1 -1v1m1 0v1m1 -1v2m1 0v3m1 0v2m1 0v3m1 0v4m1 0v4m1 0v4m1 0v4m1 0v3m1 0v1m1 0v1m1 0v1m1 0v2m1 0v2m1 0v3m1 0v2m1 0v3m1 0v4m1 0v3m1 0v4m1 0v2m1 -1v1m1 0v1m1 -1v1m1 -1v3m1 0v4m1 0v4m1 0v4m1 0v4m1 0v3m1 0v2m1 0v3m1 0v2m1 -2v1m1 -2v1m1 -2v1m1 -3v2m1 -5v3m1 -7v4m1 -7v3m1 -5v2m1 -4v2m1 -4v2m1 -4v2m1 -4v2m1 -4v2m1 -5v3m1 -5v2m1 -6v4m1 -8v4m1 -9v5m1 -9v4m1 -7v3m1 -5v2m1 -3v1m1 -3v2m1 -3v1m1 0v1m1 0v1m1 0v1m1 0v2m1 0v2m1 0v3m1 0v2m1 0v2m1 -2v1m1 -1v1m1 -2v1m1 -1v4m1 0v7m1 0v6m1 0v7m1 0v5m1 0v4m1 0v3m1 0v4m1 0v4m1 0v6m1 0v5m1 0v6m1 0v3" fill="none" stroke="#0000ff" stroke-width="1"/>
</g>
<g fill="#000" shape-rendering="crispEdges">
<rect x="2" y="2" width="1764" height="1"/>
<rect x="2" y="2" width="1" height="594"/>
<rect x="1765" y="2" width="1" height="594"/>
<rect x="2" y="595" width="1764" height="1"/>
<rect x="2" y="597" width="1764" height="1"/>
<rect x="2" y="597" width="1" height="192"/>
<rect x="1765" y="597" width="1" height="192"/>
<rect x="2" y="788" width="1764" height="1"/>
<rect x="2" y="790" width="1764" height="1"/>
<rect x="2" y="790" width="1" height="22"/>
<rect x="1765" y="790" width="1" height="22"/>
<rect x="2" y="811" width="1764" height="1"/>
<rect x="1766" y="13" width="2" height="1"/>
<rect x="1766" y="50" width="2" height="1"/>
<rect x="1766" y="83" width="2" height="1"/>
<rect x="1766" y="116" width="2" height="1"/>
<rect x="1766" y="149" width="2" height="1"/>
<rect x="1766" y="186" width="2" height="1"/>
<rect x="1766" y="219" width="2" height="1"/>
<rect x="1766" y="252" width="2" height="1"/>
<rect x="1766" y="322" width="2" height="1"/>
<rect x="1766" y="355" width="2" height="1"/>
<rect x="1766" y="388" width="2" height="1"/>
<rect x="1766" y="421" width="2" height="1"/>
<rect x="1766" y="458" width="2" height="1"/>
<rect x="1766" y="491" width="2" height="1"/>
<rect x="1766" y="524" width="2" height="1"/>
<rect x="1766" y="557" width="2" height="1"/>
<rect x="1766" y="590" width="2" height="1"/>
<rect x="1766" y="599" width="1" height="1"/>
<rect x="1766" y="617" width="2" height="1"/>
<rect x="1766" y="693" width="2" height="1"/>
<rect x="1766" y="769" width="2" height="1"/>
<rect x="1766" y="787" width="1" height="1"/>
<rect x="1766" y="792" width="1" height="1"/><rect x="1766" y="804" width="1" height="1"/><rect x="1766" y="810" width="1" height="1"/>
<rect x="3" y="812" width="1" height="3"/>
<rect x="67" y="812" width="1" height="3"/>
<rect x="131" y="812" width="1" height="3"/>
<rect x="195" y="812" width="1" height="3"/>
<rect x="259" y="812" width="1" height="3"/>
<rect x="323" y="812" width="1" height="3"/>
<rect x="387" y="812" width="1" height="3"/>
<rect x="451" y="812" width="1" height="3"/>
<rect x="515" y="812" width="1" height="3"/>
<rect x="579" y="812" width="1" height="3"/>
<rect x="643" y="812" width="1" height="3"/>
<rect x="707" y="812" width="1" height="3"/>
<rect x="771" y="812" width="1" height="3"/>
<rect x="835" y="812" width="1" height="3"/>
<rect x="899" y="812" width="1" height="3"/>
<rect x="963" y="812" width="1" height="3"/>
<rect x="1027" y="812" width="1" height="3"/>
<rect x="1091" y="812" width="1" height="3"/>
<rect x="1155" y="812" width="1" height="3"/>
<rect x="1219" y="812" width="1" height="3"/>
<rect x="1283" y="812" width="1" height="3"/>
<rect x="1347" y="812" width="1" height="3"/>
<rect x="1411" y="812" width="1" height="3"/>
<rect x="1475" y="812" width="1" height="3"/>
<rect x="1539" y="812" width="1" height="3"/>
<rect x="1603" y="812" width="1" height="3"/>
<rect x="1667" y="812" width="1" height="3"/>
<rect x="1731" y="812" width="1" height="3"/>
</g>
<g clip-path="url(#ci)" shape-rendering="crispEdges">
<line x1="4" x2="1765" y1="617.5" y2="617.5" stroke="#000" stroke-width="1" stroke-dasharray="3 3"/>
<line x1="4" x2="1765" y1="769.5" y2="769.5" stroke="#000" stroke-width="1" stroke-dasharray="3 3"/>
<path d="M3.5 750v1m1 -1v1m1 -2v1m1 -1v1m1 -1v1m1 -1v1m1 -2v1m1 -1v1m1 -1v1m1 -1v1m1 -2v1m1 -1v1m1 -1v1m1 -1v1m1 -2v1m1 -1v1m1 -1v1m1 -1v1m1 -1v1m1 -1v1m1 -1v1m1 -1v1m1 -1v1m1 -1v1m1 -1v1m1 -1v1m1 -1v1m1 -1v1m1 -1v1m1 -1v1m1 -1v1m1 -1v1m1 -1v1m1 -1v1m1 -1v1m1 -1v1m1 -1v1m1 -1v1m1 -2v1m1 -1v1m1 -1v1m1 -1v1m1 -1v1m1 -1v1m1 -1v1m1 -1v1m1 -1v1m1 -1v1m1 -1v1m1 -1v1m1 -1v1m1 -1v1m1 -1v1m1 -1v1m1 -2v1m1 -1v1m1 -1v1m1 -1v1m1 -1v1m1 -1v1m1 -1v1m1 -1v1m1 -2v1m1 -1v1m1 -1v1m1 -1v1m1 -1v1m1 -1v1m1 -1v1m1 -2v1m1 -1v1m1 -2v1m1 -1v1m1 -1v1m1 -2v1m1 -1v1m1 -1v1m1 -1v1m1 -2v1m1 -1v1m1 -1v1m1 -1v1m1 0v1m1 -1v1m1 -1v1m1 -2v1m1 -2v1m1 -2v1m1 -2v1m1 -3v2m1 -3v1m1 -3v2m1 -3v1m1 -2v1m1 -3v2m1 -3v1m1 -2v1m1 -1v1m1 -2v1m1 -1v1m1 -1v1m1 -2v1m1 -1v1m1 -2v1m1 -1v1m1 -1v1m1 -2v1m1 -1v1m1 -1v1m1 0v1m1 0v1m1 -1v1m1 0v1m1 -1v1m1 0v1m1 -1v1m1 -1v1m1 -2v1m1 -1v1m1 -2v1m1 -1v1m1 -2v1m1 -1v1m1 -2v1m1 -1v1m1 -2v1m1 -2v1m1 -2v1m1 -2v1m1 -2v1m1 -3v2m1 -3v1m1 -2v1m1 -3v2m1 -3v1m1 -3v2m1 -3v1m1 -3v2m1 -4v2m1 -4v2m1 -3v1m1 -3v2m1 -3v1m1 -3v2m1 -3v1m1 -3v2m1 -4v2m1 -4v2m1 -3v1m1 -3v2m1 -4v2m1 -4v2m1 -3v1m1 -3v2m1 -3v1m1 -3v2m1 -3v1m1 -3v2m1 -4v2m1 -4v2m1 -3v1m1 -3v2m1 -3v1m1 -3v2m1 -3v1m1 -3v2m1 -3v1m1 -3v2m1 -3v1m1 -3v2m1 -3v1m1 -3v2m1 -3v1m1 -3v2m1 -3v1m1 -3v2m1 -3v1m1 -3v2m1 -3v1m1 -3v2m1 -3v1m1 -2v1m1 -3v2m1 -3v1m1 -2v1m1 -2v1m1 -2v1m1 -2v1m1 -2v1m1 -2v1m1 -2v1m1 -2v1m1 -2v1m1 -2v1m1 -2v1m1 -1v1m1 -2v1m1 -2v1m1 -1v1m1 -2v1m1 -1v1m1 -2v1m1 -1v1m1 -2v1m1 -1v1m1 -1v1m1 0v1m1 -1v1m1 -1v1m1 -1v1m1 -2v1m1 -1v1m1 -1v1m1 -1v1m1 0v1m1 -1v1m1 -1v1m1 -1v1m1 0v1m1 -1v1m1 -1v1m1 -1v1m1 0v1m1 -1v1m1 -1v1m1 0v1m1 -1v1m1 0v1m1 -1v1m1 0v1m1 -1v1m1 0v1m1 -1v1m1 0v1m1 -1v1m1 0v1m1 -1v1m1 0v1m1 -1v1m1 0v1m1 -1v1m1 0v1m1 -1v1m1 0v1m1 -1v1m1 0v1m1 -1v1m1 0v1m1 -1v1m1 -1v1m1 0v1m1 -1v1m1 -1v1m1 0v1m1 0v1m1 0v1m1 0v1m1 0v1m1 0v1m1 0v1m1 0v1m1 0v1m1 0v2m1 0v1m1 0v1m1 0v2m1 0v1m1 0v2m1 0v1m1 0v2m1 0v1m1 0v2m1 0v1m1 0v1m1 0v2m1 0v1m1 0v1m1 0v1m1 -1v1m1 0v1m1 -1v1m1 0v1m1 0v2m1 0v1m1 0v1m1 -1v1m1 -1v1m1 -1v1m1 -1v1m1 -1v1m1 -1v1m1 -1v1m1 -1v1m1 -1v1m1 -1v1m1 -1v1m1 -1v1m1 -1v1m1 -2v1m1 -1v1m1 -1v1m1 -1v1m1 -1v1m1 -1v1m1 -1v1m1 -1v1m1 -1v1m1 -1v1m1 -1v1m1 -1v1m1 0v1m1 -1v1m1 -1v1m1 -1v1m1 -1v1m1 -1v1m1 -1v1m1 -1v1m1 0v1m1 -1v1m1 -1v1m1 0v1m1 0v1m1 0v1m1 0v1m1 -1v1m1 -1v1m1 -1v1m1 -1v1m1 0v1m1 -1v1m1 0v1m1 -1v1m1 -1v1m1 -2v1m1 -1v1m1 -1v1m1 -2v1m1 -2v1m1 -2v1m1 -2v1m1 -3v2m1 -4v2m1 -4v2m1 -3v1m1 -3v2m1 -4v2m1 -4v2m1 -4v2m1 -4v2m1 -3v1m1 -3v2m1 -3v1m1 -2v1m1 -3v2m1 -3v1m1 -2v1m1 -3v2m1 -3v1m1 -3v2m1 -3v1m1 -2v1m1 -3v2m1 -3v1m1 -2v1m1 -2v1m1 -2v1m1 -1v1m1 -2v1m1 -1v1m1 -2v1m1 -1v1m1 -1v1m1 -2v1m1 -1v1m1 -2v1m1 -1v1m1 -2v1m1 -1v1m1 -2v1m1 -1v1m1 -1v1m1 -1v1m1 -1v1m1 -1v1m1 -1v1m1 -2v1m1 -1v1m1 -1v1m1 -1v1m1 -1v1m1 -1v1m1 -1v1m1 -1v1m1 -1v1m1 -1v1m1 -1v1m1 0v1m1 -1v1m1 0v1m1 -1v1m1 -1v1m1 0v1m1 -1v1m1 -1v1m1 0v1m1 0v1m1 -1v1m1 0v1m1 0v1m1 0v1m1 0v1m1 0v1m1 0v1m1 0v1m1 0v1m1 0v1m1 0v1m1 0v2m1 0v1m1 0v1m1 0v2m1 0v1m1 0v2m1 0v1m1 0v2m1 0v2m1 0v2m1 0v2m1 0v2m1 0v2m1 0v2m1 0v1m1 0v2m1 0v2m1 0v2m1 0v1m1 0v2m1 0v1m1 0v2m1 0v1m1 0v1m1 0v2m1 0v1m1 0v1m1 0v1m1 0v1m1 -1v1m1 0v1m1 0v1m1 -1v1m1 0v1m1 -1v1m1 -1v1m1 -2v1m1 -1v1m1 -1v1m1 -2v1m1 -2v1m1 -1v1m1 -2v1m1 -1v1m1 -1v1m1 -1v1m1 -1v1m1 -1v1m1 0v1m1 -1v1m1 -1v1m1 -1v1m1 -1v1m1 -1v1m1 -1v1m1 -1v1m1 -1v1m1 -1v1m1 -1v1m1 -1v1m1 -1v1m1 -1v1m1 -1v1m1 -1v1m1 -1v1m1 -1v1m1 -1v1m1 -2v1m1 -2v1m1 -1v1m1 -2v1m1 -1v1m1 -1v1m1 -1v1m1 -1v1m1 -3v2m1 -3v1m1 -3v2m1 -3v1m1 -2v1m1 -3v2m1 -3v1m1 -2v1m1 -2v1m1 -3v2m1 -3v1m1 -2v1m1 -2v1m1 -3v2m1 -3v1m1 -2v1m1 -3v2m1 -3v1m1 -3v2m1 -3v1m1 -2v1m1 -3v2m1 -3v1m1 -2v1m1 -2v1m1 -2v1m1 -1v1m1 -2v1m1 -2v1m1 -3v2m1 -3v1m1 -2v1m1 -2v1m1 -2v1m1 -1v1m1 -2v1m1 -2v1m1 -1v1m1 -2v1m1 -1v1m1 -2v1m1 -2v1m1 -1v1m1 -2v1m1 -2v1m1 -1v1m1 -2v1m1 -1v1m1 -2v1m1 -2v1m1 -1v1m1 -2v1m1 -2v1m1 -2v1m1 -1v1m1 -2v1m1 -2v1m1 -1v1m1 -2v1m1 -1v1m1 -2v1m1 -2v1m1 -1v1m1 -2v1m1 -2v1m1 -1v1m1 -2v1m1 -1v1m1 -2v1m1 -1v1m1 -2v1m1 -1v1m1 -2v1m1 -1v1m1 -2v1m1 -1v1m1 -2v1m1 -2v1m1 -1v1m1 -2v1m1 -2v1m1 -1v1m1 -2v1m1 -1v1m1 -2v1m1 -1v1m1 -2v1m1 -1v1m1 -1v1m1 -2v1m1 -1v1m1 -1v1m1 -2v1m1 -1v1m1 -2v1m1 -1v1m1 -1v1m1 -2v1m1 -1v1m1 -1v1m1 -1v1m1 -1v1m1 -1v1m1 -1v1m1 -1v1m1 -1v1m1 -1v1m1 -1v1m1 -1v1m1 0v1m1 -1v1m1 -1v1m1 -1v1m1 0v1m1 -1v1m1 -1v1m1 -1v1m1 0v1m1 -1v1m1 -1v1m1 -1v1m1 0v1m1 -1v1m1 -1v1m1 0v1m1 -1v1m1 0v1m1 -1v1m1 -1v1m1 0v1m1 -1v1m1 -1v1m1 0v1m1 -1v1m1 0v1m1 -1v1m1 0v1m1 -1v1m1 0v1m1 -1v1m1 0v1m1 -1v1m1 0v1m1 -1v1m1 0v1m1 0v1m1 -1v1m1 0v1m1 0v1m1 0v1m1 0v1m1 0v1m1 0v1m1 0v1m1 0v1m1 0v1m1 0v1m1 0v1m1 0v1m1 0v1m1 0v1m1 0v2m1 0v1m1 0v1m1 0v1m1 0v2m1 0v1m1 0v1m1 0v2m1 0v2m1 0v2m1 0v1m1 0v2m1 0v1m1 0v2m1 0v1m1 0v2m1 0v2m1 0v2m1 0v1m1 0v2m1 0v2m1 0v2m1 0v2m1 0v2m1 0v2m1 0v2m1 0v1m1 0v2m1 0v2m1 0v2m1 0v1m1 0v2m1 0v2m1 0v2m1 0v2m1 0v2m1 0v2m1 0v2m1 0v1m1 0v2m1 0v2m1 0v2m1 0v2m1 0v2m1 0v1m1 0v2m1 0v1m1 0v1m1 0v2m1 0v1m1 0v2m1 0v2m1 0v2m1 0v2m1 0v3m1 0v3m1 0v2m1 0v3m1 0v2m1 0v2m1 0v2m1 0v2m1 0v2m1 0v2m1 0v1m1 0v2m1 0v1m1 0v1m1 0v1m1 0v1m1 0v1m1 0v2m1 0v2m1 0v2m1 0v1m1 0v1m1 0v2m1 0v1m1 0v1m1 0v1m1 0v1m1 0v1m1 0v1m1 0v1m1 0v1m1 -1v1m1 0v1m1 -1v1m1 0v1m1 -1v1m1 -1v1m1 -1v1m1 0v1m1 -1v1m1 -1v1m1 -1v1m1 -1v1m1 -1v1m1 -1v1m1 -1v1m1 0v1m1 -1v1m1 -1v1m1 -1v1m1 0v1m1 -1v1m1 -1v1m1 -1v1m1 -1v1m1 -1v1m1 -1v1m1 -1v1m1 0v1m1 -1v1m1 -1v1m1 -1v1m1 -1v1m1 -1v1m1 -1v1m1 -1v1m1 -1v1m1 -1v1m1 -1v1m1 -1v1m1 -1v1m1 -1v1m1 -1v1m1 -1v1m1 -1v1m1 -1v1m1 -1v1m1 -1v1m1 -2v1m1 -1v1m1 -1v1m1 -1v1m1 -1v1m1 -1v1m1 -1v1m1 -1v1m1 -1v1m1 -1v1m1 -1v1m1 -1v1m1 -1v1m1 -1v1m1 -1v1m1 -1v1m1 -2v1m1 -1v1m1 -1v1m1 -1v1m1 -1v1m1 -1v1m1 -1v1m1 -1v1m1 0v1m1 -1v1m1 -1v1m1 -1v1m1 -2v1m1 -1v1m1 -1v1m1 -1v1m1 -2v1m1 -1v1m1 -1v1m1 -2v1m1 -1v1m1 -2v1m1 -1v1m1 -2v1m1 -1v1m1 -2v1m1 -1v1m1 -1v1m1 -2v1m1 -1v1m1 -1v1m1 -1v1m1 -2v1m1 -1v1m1 -1v1m1 -2v1m1 -1v1m1 -2v1m1 -1v1m1 -2v1m1 -1v1m1 -2v1m1 -1v1m1 -1v1m1 -1v1m1 -1v1m1 -1v1m1 -1v1m1 -2v1m1 -1v1m1 -1v1m1 -1v1m1 0v1m1 -1v1m1 -1v1m1 -1v1m1 -1v1m1 -1v1m1 -1v1m1 -1v1m1 -1v1m1 -1v1m1 -1v1m1 -1v1m1 -1v1m1 -1v1m1 -1v1m1 -1v1m1 0v1m1 -1v1m1 -1v1m1 -1v1m1 -1v1m1 -1v1m1 -1v1m1 -1v1m1 -2v1m1 -1v1m1 -1v1m1 -1v1m1 -1v1m1 -1v1m1 -1v1m1 -1v1m1 -1v1m1 -1v1m1 -1v1m1 -1v1m1 -1v1m1 -1v1m1 -1v1m1 -1v1m1 -1v1m1 -1v1m1 -1v1m1 -1v1m1 -1v1m1 -1v1m1 -1v1m1 -1v1m1 -1v1m1 -1v1m1 -1v1m1 -1v1m1 -1v1m1 -1v1m1 -1v1m1 -1v1m1 -1v1m1 -1v1m1 -1v1m1 -1v1m1 -1v1m1 -1v1m1 -1v1m1 -1v1m1 -2v1m1 -1v1m1 -1v1m1 -1v1m1 -1v1m1 -1v1m1 -1v1m1 -2v1m1 -2v1m1 -1v1m1 -2v1m1 -3v2m1 -3v1m1 -3v2m1 -3v1m1 -2v1m1 -2v1m1 -1v1m1 -2v1m1 -2v1m1 -1v1m1 -2v1m1 -1v1m1 -2v1m1 -2v1m1 -1v1m1 -2v1m1 -2v1m1 -1v1m1 -2v1m1 -1v1m1 -2v1m1 -3v2m1 -3v1m1 -2v1m1 -1v1m1 -2v1m1 -1v1m1 -1v1m1 -2v1m1 -1v1m1 -2v1m1 -1v1m1 -1v1m1 0v1m1 -1v1m1 -1v1m1 -3v2m1 -3v1m1 -3v2m1 -3v1m1 -2v1m1 -2v1m1 -2v1m1 -2v1m1 -1v1m1 0v1m1 -1v1m1 -1v1m1 -1v1m1 -2v1m1 -1v1m1 -1v1m1 -2v1m1 -1v1m1 -2v1m1 -1v1m1 -2v1m1 -2v1m1 -1v1m1 -2v1m1 -1v1m1 -2v1m1 -1v1m1 -1v1m1 -3v2m1 -3v1m1 -3v2m1 -3v1m1 -2v1m1 -1v1m1 -2v1m1 -1v1m1 -2v1m1 -1v1m1 -2v1m1 -1v1m1 -3v2m1 -4v2m1 -4v2m1 -4v2m1 -3v1m1 -2v1m1 -2v1m1 -2v1m1 -2v1m1 -2v1m1 -2v1m1 -2v1m1 -2v1m1 -2v1m1 -1v1m1 -2v1m1 -3v2m1 -4v2m1 -4v2m1 -5v3m1 -5v2m1 -5v3m1 -5v2m1 -5v3m1 -5v2m1 -5v3m1 -5v2m1 -5v3m1 -5v2m1 -5v3m1 -5v2m1 -5v3m1 -5v2m1 -4v2m1 -4v2m1 -4v2m1 -4v2m1 -4v2m1 -4v2m1 -3v1m1 -3v2m1 -4v2m1 -4v2m1 -3v1m1 -3v2m1 -4v2m1 -4v2m1 -4v2m1 -3v1m1 -3v2m1 -3v1m1 -2v1m1 -2v1m1 -2v1m1 -2v1m1 -2v1m1 -2v1m1 -1v1m1 -2v1m1 -1v1m1 -1v1m1 -2v1m1 -1v1m1 -1v1m1 -1v1m1 -2v1m1 -1v1m1 -1v1m1 -1v1m1 -2v1m1 -1v1m1 -1v1m1 -1v1m1 -1v1m1 -1v1m1 -1v1m1 -2v1m1 -1v1m1 -2v1m1 -1v1m1 -2v1m1 -1v1m1 -2v1m1 -1v1m1 -2v1m1 -1v1m1 -2v1m1 -1v1m1 -1v1m1 -1v1m1 -1v1m1 -1v1m1 -1v1m1 -1v1m1 -1v1m1 -1v1m1 -1v1m1 -1v1m1 -1v1m1 -1v1m1 -1v1m1 -1v1m1 -1v1m1 -1v1m1 -1v1m1 -1v1m1 -1v1m1 -1v1m1 -1v1m1 0v1m1 -1v1m1 -1v1m1 -1v1m1 -1v1m1 -1v1m1 -1v1m1 -1v1m1 0v1m1 -1v1m1 -1v1m1 -1v1m1 0v1m1 -1v1m1 -1v1m1 -1v1m1 0v1m1 -1v1m1 -1v1m1 -1v1m1 -2v1m1 -1v1m1 -1v1m1 -2v1m1 -1v1m1 -2v1m1 -1v1m1 -1v1m1 -1v1m1 -1v1m1 -1v1m1 -1v1m1 -2v1m1 -1v1m1 -1v1m1 -1v1m1 -1v1m1 -1v1m1 -1v1m1 -1v1m1 -1v1m1 -1v1m1 -1v1m1 -1v1m1 -2v1m1 -1v1m1 -1v1m1 -1v1m1 -1v1m1 -1v1m1 -1v1m1 -1v1m1 -1v1m1 -1v1m1 -1v1m1 -1v1m1 0v1m1 -1v1m1 -1v1m1 -1v1m1 -1v1m1 -1v1m1 -1v1m1 -1v1m1 -1v1m1 -1v1m1 -1v1m1 -1v1m1 0v1m1 -1v1m1 -1v1m1 -1v1m1 -1v1m1 -1v1m1 -1v1m1 -1v1m1 -1v1m1 -1v1m1 -1v1m1 -1v1m1 -1v1m1 -1v1m1 -1v1m1 -1v1m1 -1v1m1 -1v1m1 -1v1m1 -1v1m1 -1v1m1 -1v1m1 -1v1m1 -1v1m1 -1v1m1 -1v1m1 -1v1m1 -1v1m1 -1v1m1 -1v1m1 -1v1m1 -1v1m1 -1v1m1 -1v1m1 -1v1m1 -1v1m1 -1v1m1 -1v1m1 -1v1m1 -1v1m1 0v1m1 -1v1m1 -1v1m1 -1v1m1 -1v1m1 -1v1m1 -1v1m1 -1v1m1 0v1m1 -1v1m1 -1v1m1 -1v1m1 -1v1m1 -1v1m1 -1v1m1 -1v1m1 -1v1m1 -1v1m1 -1v1m1 -1v1m1 0v1m1 -1v1m1 -1v1m1 -1v1m1 -1v1m1 -1v1m1 -1v1m1 -1v1m1 -1v1m1 -1v1m1 -1v1m1 -1v1m1 -1v1m1 -1v1m1 -1v1m1 -1v1m1 -1v1m1 -1v1m1 -1v1m1 -1v1m1 0v1m1 -1v1m1 -1v1m1 -1v1m1 -1v1m1 -1v1m1 -1v1m1 -1v1m1 -1v1m1 -1v1m1 -1v1m1 -1v1m1 -1v1m1 -1v1m1 -1v1m1 -1v1m1 -1v1m1 -1v1m1 -1v1m1 -1v1m1 -2v1m1 -1v1m1 -1v1m1 -1v1m1 -1v1m1 -1v1m1 -1v1m1 -1v1m1 -1v1m1 -1v1m1 -1v1m1 -1v1m1 -2v1m1 -1v1m1 -1v1m1 0v1m1 -1v1m1 0v1m1 -1v1m1 0v1m1 -1v1m1 0v1m1 -1v1m1 0v1m1 -1v1m1 0v1m1 -1v1m1 -1v1m1 0v1m1 -1v1m1 -1v1m1 -1v1m1 0v1m1 -1v1m1 -1v1m1 -1v1m1 0v1m1 -1v1m1 -1v1m1 0v1m1 -1v1m1 0v1m1 -1v1m1 -1v1m1 -1v1m1 -1v1m1 -1v1m1 -1v1m1 0v1m1 -1v1m1 -1v1m1 -1v1m1 0v1m1 -1v1m1 -1v1m1 -1v1m1 0v1m1 -1v1m1 -1v1m1 -1v1m1 0v1m1 -1v1m1 -1v1m1 -1v1m1 -2v1m1 -1v1m1 -1v1m1 -1v1m1 0v1m1 -1v1m1 -1v1m1 0v1m1 -1v1m1 0v1m1 -1v1m1 0v1m1 0v1m1 0v1m1 0v1m1 0v1m1 0v1m1 -1v1m1 0v1m1 -1v1m1 0v1m1 -1v1m1 -1v1m1 0v1m1 -1v1m1 0v1m1 -1v1m1 0v1m1 -1v1m1 0v1m1 -1v1m1 0v1m1 0v1m1 0v1m1 0v1m1 0v2m1 0v1m1 0v2m1 0v1m1 0v1m1 0v1m1 -1v1m1 0v1m1 0v2m1 0v2m1 0v2m1 0v2m1 0v2m1 0v1m1 0v2m1 0v1m1 0v1m1 0v1m1 -1v1m1 0v1m1 0v1m1 -1v1m1 0v1m1 -1v1m1 0v1m1 -1v1m1 0v1m1 -1v1m1 -2v1m1 -2v1m1 -2v1m1 -2v1m1 -3v2m1 -3v1m1 -3v2m1 -3v1m1 -2v1m1 -1v1m1 -2v1m1 -1v1m1 -1v1m1 -1v1m1 -1v1m1 -1v1m1 0v1m1 -1v1m1 0v1m1 -1v1m1 0v1m1 0v1m1 -1v1m1 0v2m1 0v3m1 0v2m1 0v3m1 0v2m1 0v2m1 0v2m1 0v2m1 0v2m1 0v1m1 -1v1m1 0v1m1 -1v1m1 0v1m1 0v1m1 0v1m1 0v1m1 0v1m1 -1v1m1 0v1m1 -1v1m1 -1v1m1 -1v1m1 -1v1m1 -1v1m1 -2v1m1 -1v1m1 -2v1m1 -1v1m1 -2v1m1 -2v1m1 -1v1m1 -2v1m1 -1v1m1 -2v1m1 -1v1m1 -1v1m1 -2v1m1 -2v1m1 -1v1m1 -2v1m1 -2v1m1 -2v1m1 -1v1m1 -2v1m1 -2v1m1 -2v1m1 -2v1m1 -2v1m1 -2v1m1 -2v1m1 -1v1m1 -2v1m1 -3v2m1 -4v2m1 -4v2m1 -4v2m1 -4v2m1 -4v2m1 -4v2m1 -3v1m1 -3v2m1 -4v2m1 -4v2m1 -4v2m1 -2v1m1 -1v1m1 -1v1m1 -1v1m1 -1v1m1 0v1m1 -1v1m1 -1v1m1 -1v1m1 0v1m1 -1v1m1 -1v1m1 -1v1m1 -2v1m1 -1v1m1 -1v1m1 -1v1m1 -1v1m1 -1v1m1 -1v1m1 -1v1m1 -2v1m1 -1v1m1 -1v1m1 -1v1m1 -2v1m1 -1v1m1 -1v1m1 -2v1m1 -1v1m1 -2v1m1 -1v1m1 -1v1m1 -2v1m1 -1v1m1 -1v1m1 -2v1m1 -1v1m1 -2v1m1 -1v1m1 0v1m1 0v1m1 -1v1m1 0v1m1 0v2m1 0v1m1 0v2m1 0v1m1 0v1m1 0v2m1 0v1m1 0v1m1 0v1m1 0v1m1 0v1m1 0v1m1 0v1m1 0v1m1 -1v1m1 0v1m1 0v1m1 0v1m1 0v1m1 0v1m1 0v2m1 0v2m1 0v2m1 0v2m1 0v2m1 0v2m1 0v2m1 0v2m1 0v2m1 0v2m1 0v2m1 0v1m1 0v1m1 0v2m1 0v1m1 0v1m1 0v2m1 0v1m1 0v2m1 0v1m1 0v1m1 0v1m1 0v1m1 0v1m1 0v1m1 0v1m1 0v1m1 0v1m1 0v2m1 0v2m1 0v2m1 0v1m1 0v1m1 0v1m1 0v1m1 0v1m1 0v2m1 0v2m1 0v2m1 0v1m1 0v1m1 0v2m1 0v1m1 0v1m1 0v1m1 0v1m1 0v1m1 0v1m1 0v1m1 0v1m1 0v1m1 0v1m1 0v1m1 0v1m1 0v1m1 0v1m1 0v1m1 -1v1m1 0v1m1 -1v1m1 -1v1m1 0v1m1 -1v1m1 -1v1m1 -1v1m1 -1v1m1 -1v1m1 -1v1m1 -1v1m1 -1v1m1 -1v1m1 -1v1m1 -1v1m1 0v1m1 -1v1m1 -1v1m1 0v1m1 -1v1m1 0v1m1 -1v1m1 0v1m1 0v2m1 0v1m1 0v1m1 0v1m1 -1v1m1 0v1m1 -1v1m1 -1v1m1 -1v1m1 -1v1m1 -1v1m1 -1v1m1 -1v1m1 -1v1m1 -1v1m1 -1v1m1 -1v1m1 -1v1m1 -1v1m1 -1v1m1 -1v1m1 -1v1m1 -1v1m1 -2v1m1 -1v1m1 -2v1m1 -1v1m1 -2v1m1 -2v1m1 -1v1m1 -2v1m1 -1v1m1 -2v1m1 -1v1m1 -1v1m1 -2v1m1 -1v1m1 -2v1m1 -1v1m1 -1v1m1 -1v1m1 -1v1m1 -1v1m1 -1v1m1 -1v1m1 -1v1m1 -1v1m1 -1v1m1 -1v1m1 -1v1m1 -1v1m1 -1v1m1 -2v1m1 -1v1m1 -1v1m1 -1v1m1 -1v1m1 -1v1m1 -1v1m1 -1v1m1 -2v1m1 -1v1m1 -1v1m1 -1v1m1 0v1m1 -1v1m1 -1v1m1 -1v1m1 -2v1m1 -1v1m1 -1v1m1 -1v1m1 -1v1m1 -1v1m1 -1v1m1 -1v1m1 -2v1m1 -1v1m1 -1v1m1 -1v1m1 -2v1m1 -1v1m1 -1v1m1 -2v1m1 -1v1m1 -2v1m1 -1v1m1 -2v1m1 -2v1m1 -1v1m1 -2v1m1 -2v1m1 -2v1m1 -1v1m1 -2v1m1 -2v1m1 -1v1m1 -2v1m1 -1v1m1 -2v1m1 -1v1m1 -2v1m1 -1v1m1 -2v1m1 -1v1m1 -2v1m1 -1v1m1 -1v1m1 -1v1m1 -1v1m1 -1v1m1 -1v1m1 -1v1m1 -1v1m1 -1v1m1 0v1m1 -1v1m1 0v1m1 -1v1" fill="none" stroke="#00ff00" stroke-width="1"/>
<path d="M3.5 634v1m1 0v2m1 0v2m1 0v2m1 0v4m1 0v4m1 0v5m1 0v4m1 0v4m1 0v4m1 0v4m1 0v4m1 0v4m1 0v5m1 0v4m1 0v5m1 0v5m1 0v5m1 0v4m1 0v5m1 0v5m1 0v4m1 0v4m1 0v4m1 0v4m1 0v3m1 0v4m1 0v3m1 0v3m1 0v3m1 0v2m1 0v3m1 0v2m1 0v2m1 0v2m1 0v2m1 0v2m1 0v1m1 0v2m1 0v1m1 0v1m1 0v2m1 0v1m1 0v2m1 0v1m1 0v1m1 0v1m1 0v1m1 0v1m1 0v1m1 0v1m1 -1v1m1 0v1m1 -1v1m1 -2v1m1 -1v1m1 -1v1m1 -1v1m1 -2v1m1 -1v1m1 -1v1m1 -2v1m1 -2v1m1 -1v1m1 -2v1m1 -2v1m1 -2v1m1 -2v1m1 -2v1m1 -3v2m1 -4v2m1 -4v2m1 -4v2m1 -4v2m1 -4v2m1 -4v2m1 -5v3m1 -5v2m1 -5v3m1 -5v2m1 -4v2m1 -3v1m1 -3v2m1 -3v1m1 -4v3m1 -7v4m1 -8v4m1 -8v4m1 -9v5m1 -10v5m1 -11v6m1 -11v5m1 -10v5m1 -10v5m1 -9v4m1 -9v5m1 -9v4m1 -8v4m1 -8v4m1 -8v4m1 -7v3m1 -6v3m1 -7v4m1 -7v3m1 -6v3m1 -7v4m1 -8v4m1 -8v4m1 -7v3m1 -4v1m1 -3v2m1 -3v1m1 -3v2m1 -5v3m1 -6v3m1 -6v3m1 -5v2m1 -4v2m1 -3v1m1 -3v2m1 -3v1m1 -2v1m1 -3v2m1 -3v1m1 -2v1m1 -2v1m1 -1v1m1 -2v1m1 -1v1m1 -1v1m1 -2v1m1 -1v1m1 -1v1m1 -1v1m1 -1v1m1 -1v1m1 -1v1m1 -1v1m1 -2v1m1 -1v1m1 -1v1m1 -2v1m1 -1v1m1 -2v1m1 -1v1m1 -1v1m1 -1v1m1 -1v1m1 -1v1m1 -1v1m1 -1v1m1 -1v1m1 -1v1m1 -1v1m1 0v1m1 -1v1m1 -1v1m1 -1v1m1 0v1m1 -1v1m1 -1v1m1 0v1m1 0v1m1 -1v1m1 0v1m1 0v1m1 -1v1m1 0v1m1 -1v1m1 0v1m1 0v1m1 -1v1m1 0v1m1 0v1m1 0v1m1 0v1m1 0v1m1 0v1m1 0v1m1 0v1m1 0v1m1 0v1m1 0v1m1 -1v1m1 0v1m1 0v1m1 0v1m1 0v1m1 0v1m1 0v1m1 0v1m1 0v1m1 0v1m1 0v2m1 0v1m1 0v2m1 0v1m1 0v2m1 0v2m1 0v2m1 0v3m1 0v3m1 0v3m1 0v3m1 0v3m1 0v4m1 0v4m1 0v4m1 0v4m1 0v4m1 0v4m1 0v4m1 0v3m1 0v4m1 0v4m1 0v4m1 0v5m1 0v5m1 0v6m1 0v5m1 0v4m1 0v4m1 0v3m1 0v4m1 0v4m1 0v4m1 0v4m1 0v4m1 0v3m1 0v2m1 0v1m1 0v2m1 0v1m1 -2v1m1 -1v1m1 -2v1m1 -2v2m1 -4v2m1 -4v2m1 -4v2m1 -5v3m1 -5v2m1 -5v3m1 -5v2m1 -5v3m1 -5v2m1 -4v2m1 -4v2m1 -5v3m1 -7v4m1 -8v4m1 -8v4m1 -6v2m1 -4v2m1 -3v1m1 -3v2m1 -3v1m1 -2v1m1 -2v1m1 -2v1m1 -2v1m1 0v1m1 0v2m1 0v1m1 0v2m1 0v3m1 0v3m1 0v3m1 0v2m1 0v2m1 0v2m1 0v2m1 0v2m1 -1v1m1 -1v1m1 -1v1m1 -1v1m1 -3v2m1 -4v2m1 -4v2m1 -5v3m1 -5v2m1 -4v2m1 -4v2m1 -6v4m1 -9v5m1 -11v6m1 -11v5m1 -10v5m1 -9v4m1 -9v5m1 -9v4m1 -8v4m1 -8v4m1 -8v4m1 -8v4m1 -8v4m1 -7v3m1 -6v3m1 -6v3m1 -6v3m1 -5v2m1 -5v3m1 -5v2m1 -4v2m1 -3v1m1 -2v1m1 -2v1m1 -2v1m1 -1v1m1 -1v1m1 -1v1m1 -1v1m1 -2v1m1 -2v1m1 -1v1m1 -2v1m1 -2v1m1 -1v1m1 -2v1m1 -1v1m1 0v1m1 -1v1m1 0v1m1 -1v1m1 -1v1m1 -1v1m1 -1v1m1 -1v1m1 -1v1m1 0v1m1 -1v1m1 -1v1m1 -1v1m1 -1v1m1 -1v1m1 -1v1m1 -1v1m1 -1v1m1 -1v1m1 -1v1m1 -1v1m1 -1v1m1 -1v1m1 -1v1m1 0v1m1 -1v1m1 0v1m1 -1v1m1 0v1m1 0v1m1 -1v1m1 0v1m1 0v1m1 0v1m1 -1v1m1 0v1m1 0v1m1 0v2m1 0v1m1 0v1m1 -1v1m1 -2v1m1 -1v1m1 -1v1m1 -1v1m1 -1v1m1 -1v1m1 -1v1m1 -1v1m1 0v1m1 -1v1m1 -1v2m1 0v2m1 0v2m1 0v2m1 0v2m1 -1v1m1 -1v1m1 -1v1m1 -1v2m1 0v4m1 0v4m1 0v4m1 0v5m1 0v4m1 0v4m1 0v4m1 0v3m1 0v2m1 0v2m1 0v2m1 0v2m1 0v2m1 0v3m1 0v2m1 0v2m1 0v1m1 0v1m1 0v1m1 0v1m1 0v1m1 0v1m1 -1v1m1 0v1m1 0v1m1 0v1m1 -1v1m1 0v1m1 0v1m1 0v1m1 -1v1m1 0v2m1 0v2m1 0v2m1 0v2m1 0v2m1 0v1m1 0v1m1 -1v1m1 0v1m1 0v2m1 0v2m1 0v2m1 0v2m1 0v4m1 0v4m1 0v4m1 0v2m1 0v2m1 0v2m1 0v2m1 0v1m1 0v2m1 0v2m1 0v2m1 0v1m1 0v1m1 0v2m1 0v1m1 0v1m1 0v1m1 -1v1m1 0v1m1 -1v1m1 -2v1m1 -3v2m1 -3v1m1 -3v2m1 -4v2m1 -4v2m1 -4v2m1 -5v3m1 -6v3m1 -6v3m1 -6v3m1 -6v3m1 -7v4m1 -7v3m1 -7v4m1 -7v3m1 -6v3m1 -6v3m1 -6v3m1 -7v4m1 -9v5m1 -9v4m1 -9v5m1 -10v5m1 -10v5m1 -11v6m1 -11v5m1 -9v4m1 -8v4m1 -8v4m1 -8v4m1 -7v3m1 -6v3m1 -6v3m1 -6v3m1 -6v3m1 -7v4m1 -8v4m1 -8v4m1 -6v2m1 -4v2m1 -4v2m1 -4v2m1 -4v2m1 -4v2m1 -4v2m1 -4v2m1 -4v2m1 -3v1m1 -3v2m1 -3v1m1 -2v1m1 -2v1m1 -3v2m1 -3v1m1 -2v1m1 -2v1m1 -3v2m1 -3v1m1 -2v1m1 -2v1m1 -2v1m1 -1v1m1 -2v1m1 -2v1m1 -2v1m1 -1v1m1 -2v1m1 -2v1m1 -1v1m1 -2v1m1 -1v1m1 -2v1m1 -1v1m1 -2v1m1 -1v1m1 -1v1m1 -1v1m1 -1v1m1 -1v1m1 -1v1m1 -1v1m1 -1v1m1 -1v1m1 -1v1m1 -1v1m1 -1v1m1 -1v1m1 -1v1m1 -1v1m1 -1v1m1 -1v1m1 -1v1m1 -1v1m1 -1v1m1 -1v1m1 -1v1m1 -1v1m1 -1v1m1 -1v1m1 -1v1m1 -1v1m1 -1v1m1 -1v1m1 -1v1m1 0v1m1 -1v1m1 -1v1m1 -1v1m1 -1v1m1 -1v1m1 -1v1m1 -1v1m1 -1v1m1 -1v1m1 -1v1m1 -1v1m1 -1v1m1 -1v1m1 -1v1m1 -1v1m1 -1v1m1 -1v1m1 -1v1m1 -1v1m1 0v1m1 -1v1m1 -1v1m1 0v1m1 -1v1m1 0v1m1 -1v1m1 0v1m1 0v1m1 -1v1m1 0v1m1 0v1m1 0v1m1 -1v1m1 0v1m1 -1v1m1 -1v1m1 -1v1m1 -1v1m1 -1v1m1 -1v1m1 -1v1m1 -1v1m1 0v2m1 0v1m1 0v2m1 0v1m1 0v2m1 0v2m1 0v2m1 0v2m1 0v3m1 0v4m1 0v3m1 0v3m1 0v2m1 0v3m1 0v2m1 0v3m1 0v3m1 0v3m1 0v3m1 0v3m1 0v3m1 0v4m1 0v3m1 0v3m1 0v4m1 0v3m1 0v4m1 0v3m1 0v3m1 0v4m1 0v3m1 0v3m1 0v4m1 0v4m1 0v4m1 0v4m1 0v3m1 0v2m1 0v3m1 0v3m1 0v3m1 0v4m1 0v3m1 0v2m1 0v2m1 0v2m1 0v2m1 0v2m1 0v1m1 0v1m1 -1v1m1 0v1m1 0v1m1 0v1m1 -1v1m1 0v1m1 0v2m1 0v2m1 0v2m1 0v3m1 0v2m1 0v2m1 0v2m1 0v2m1 0v1m1 -1v1m1 0v1m1 -1v1m1 -1v1m1 0v1m1 -1v1m1 -1v1m1 -1v1m1 0v1m1 -1v1m1 -1v1m1 -1v1m1 -1v1m1 -1v1m1 -1v1m1 -1v1m1 0v1m1 -1v1m1 -1v1m1 -1v1m1 -2v1m1 -1v1m1 -1v1m1 -1v1m1 -2v1m1 -1v1m1 -1v1m1 -1v1m1 -2v1m1 -1v1m1 -1v1m1 -2v1m1 -2v1m1 -1v1m1 -2v1m1 -2v1m1 -3v2m1 -3v1m1 -3v2m1 -4v2m1 -4v2m1 -4v2m1 -5v3m1 -5v2m1 -5v3m1 -5v2m1 -4v2m1 -2v1m1 0v1m1 -1v1m1 -1v1m1 0v1m1 -1v1m1 0v1m1 -1v1m1 -1v1m1 0v1m1 -1v1m1 -1v1m1 -1v1m1 0v1m1 -1v1m1 -1v1m1 0v1m1 0v1m1 -1v1m1 0v1m1 -1v1m1 -1v1m1 -1v1m1 -1v1m1 -1v1m1 -1v1m1 -1v1m1 -1v1m1 -1v1m1 -1v1m1 -1v1m1 -1v1m1 -1v1m1 -1v1m1 -1v1m1 -1v1m1 0v1m1 -1v1m1 0v1m1 -1v1m1 0v1m1 0v1m1 -1v1m1 0v1m1 0v1m1 0v1m1 0v1m1 0v1m1 -1v1m1 -1v1m1 -1v1m1 -1v1m1 0v1m1 0v1m1 -1v1m1 0v1m1 0v1m1 0v1m1 0v1m1 0v1m1 0v1m1 0v1m1 0v1m1 0v1m1 0v1m1 0v1m1 -1v1m1 0v1m1 0v1m1 0v1m1 -1v1m1 0v1m1 -1v1m1 0v1m1 -1v1m1 -1v1m1 -1v1m1 0v1m1 -1v1m1 -1v1m1 -1v1m1 -2v1m1 -1v1m1 -1v1m1 -1v1m1 -1v1m1 -1v1m1 -1v1m1 -2v1m1 -2v1m1 -1v1m1 -2v1m1 -2v1m1 -2v1m1 -1v1m1 -2v1m1 -1v1m1 -2v1m1 -1v1m1 -1v1m1 -2v1m1 -1v1m1 -2v1m1 -1v1m1 -2v1m1 -2v1m1 -1v1m1 -2v1m1 -3v2m1 -4v2m1 -4v2m1 -4v2m1 -5v3m1 -7v4m1 -7v3m1 -6v3m1 -7v4m1 -8v4m1 -8v4m1 -7v3m1 -7v4m1 -7v3m1 -7v4m1 -7v3m1 -6v3m1 -6v3m1 -6v3m1 -6v3m1 -5v2m1 -5v3m1 -5v2m1 -5v3m1 -6v3m1 -6v3m1 -6v3m1 -6v3m1 -6v3m1 -7v4m1 -7v3m1 -5v2m1 -3v1m1 -2v1m1 -1v1m1 -2v1m1 -2v1m1 -1v1m1 -2v1m1 -1v1m1 -1v1m1 0v1m1 -1v1m1 -1v3m1 0v4m1 0v5m1 0v4m1 0v3m1 0v1m1 0v1m1 0v1m1 0v2m1 0v2m1 0v3m1 0v2m1 0v4m1 0v4m1 0v5m1 0v4m1 0v4m1 0v4m1 0v3m1 0v4m1 0v3m1 0v2m1 0v2m1 0v2m1 0v2m1 0v1m1 0v1m1 0v1m1 0v1m1 0v1m1 0v1m1 0v1m1 0v1m1 0v1m1 0v1m1 -1v1m1 0v1m1 0v1m1 0v2m1 0v1m1 0v1m1 0v1m1 0v2m1 0v1m1 0v1m1 0v1m1 0v1m1 -1v1m1 0v1m1 0v2m1 0v2m1 0v2m1 0v2m1 0v1m1 0v1m1 -1v1m1 0v1m1 -1v1m1 -2v1m1 -1v1m1 -1v1m1 -2v1m1 -2v1m1 -1v1m1 -2v1m1 -2v1m1 -2v1m1 -2v1m1 -3v2m1 -5v3m1 -6v3m1 -6v3m1 -6v3m1 -7v4m1 -8v4m1 -8v4m1 -8v4m1 -7v3m1 -7v4m1 -7v3m1 -6v3m1 -6v3m1 -5v2m1 -5v3m1 -6v3m1 -7v4m1 -7v3m1 -7v4m1 -7v3m1 -7v4m1 -7v3m1 -7v4m1 -8v4m1 -9v5m1 -10v5m1 -10v5m1 -8v3m1 -5v2m1 -4v2m1 -4v2m1 -4v2m1 -3v1m1 -3v2m1 -3v1m1 -2v1m1 0v1m1 0v2m1 0v1m1 -1v2m1 -4v2m1 -5v3m1 -5v2m1 -4v2m1 -3v1m1 -1v1m1 -2v1m1 -1v1m1 -2v1m1 -1v1m1 -2v1m1 -1v1m1 -3v2m1 -4v2m1 -4v2m1 -5v3m1 -5v2m1 -4v2m1 -4v2m1 -4v2m1 -3v1m1 -3v2m1 -3v1m1 -2v1m1 0v2m1 0v1m1 0v2m1 0v1m1 -1v1m1 0v1m1 -1v1m1 -1v1m1 0v1m1 0v2m1 0v1m1 0v2m1 0v2m1 0v3m1 0v2m1 0v2m1 -1v1m1 -1v1m1 -1v1m1 -1v1m1 -1v1m1 -1v1m1 -1v1m1 -1v1m1 0v1m1 0v1m1 -1v1m1 0v1m1 0v1m1 0v1m1 -1v1m1 0v1m1 -1v1m1 0v1m1 -1v1m1 -1v1m1 -1v1m1 -1v1m1 -1v1m1 -1v1m1 -3v2m1 -4v2m1 -4v2m1 -4v2m1 -6v4m1 -7v3m1 -7v4m1 -6v2m1 -3v1m1 -2v1m1 -2v1m1 -2v1m1 -2v1m1 -2v1m1 -2v1m1 -2v1m1 -2v1m1 -1v1m1 -2v1m1 -1v1m1 -2v1m1 -1v1m1 -2v1m1 -1v1m1 -2v1m1 -2v1m1 -1v1m1 -2v1m1 -1v1m1 -2v1m1 -1v1m1 -1v1m1 -1v1m1 0v1m1 -1v1m1 -1v1m1 -1v1m1 -2v1m1 -1v1m1 -1v1m1 -2v1m1 -1v1m1 -2v1m1 -1v1m1 -2v1m1 -2v1m1 -1v1m1 -2v1m1 -2v1m1 -2v1m1 -1v1m1 -2v1m1 -1v1m1 -2v1m1 -1v1m1 -1v1m1 -2v1m1 -1v1m1 -2v1m1 -1v1m1 -1v1m1 -1v1m1 -1v1m1 -1v1m1 -1v1m1 -1v1m1 -1v1m1 -1v1m1 -1v1m1 -1v1m1 -1v1m1 -1v1m1 0v1m1 -1v1m1 0v1m1 -1v1m1 0v1m1 -1v1m1 0v1m1 -1v1m1 -1v1m1 0v1m1 -1v1m1 -1v1m1 0v1m1 -1v1m1 0v1m1 -1v1m1 0v1m1 0v2m1 0v1m1 0v1m1 0v1m1 0v2m1 0v1m1 0v1m1 0v1m1 0v2m1 0v1m1 0v1m1 0v2m1 0v1m1 0v2m1 0v1m1 -1v1m1 0v1m1 -1v1m1 -1v1m1 -1v1m1 -1v1m1 -1v1m1 -1v1m1 -1v1m1 0v1m1 -1v1m1 -1v1m1 -1v1m1 -1v1m1 -1v1m1 -1v1m1 -1v1m1 -1v1m1 -1v1m1 -1v1m1 -1v1m1 -2v1m1 -1v1m1 -1v1m1 -1v1m1 -1v1m1 -1v1m1 -1v1m1 0v1m1 0v1m1 -1v1m1 0v1m1 -1v1m1 0v1m1 -1v1m1 -1v1m1 -1v1m1 0v1m1 -1v1m1 -1v1m1 0v1m1 0v2m1 0v1m1 0v1m1 0v1m1 -1v1m1 0v1m1 -1v1m1 -1v1m1 -1v1m1 -1v1m1 -1v1m1 -1v1m1 0v1m1 -1v1m1 -2v2m1 -5v3m1 -7v4m1 -7v3m1 -5v2m1 -3v1m1 -2v1m1 -1v1m1 -2v1m1 -2v1m1 -2v1m1 -1v1m1 -2v1m1 -3v2m1 -4v2m1 -4v2m1 -3v1m1 -2v1m1 -1v1m1 -2v1m1 -1v1m1 -1v1m1 -2v1m1 -1v1m1 -1v1m1 -1v1m1 -1v1m1 -1v1m1 -1v1m1 -1v1m1 0v1m1 -1v1m1 -1v1m1 0v2m1 0v1m1 0v2m1 0v1m1 0v1m1 0v2m1 0v1m1 0v1m1 0v1m1 -1v1m1 0v1m1 -1v1m1 0v1m1 0v1m1 -1v1m1 0v1m1 0v1m1 0v1m1 -1v1m1 0v1m1 -1v1m1 -1v1m1 -1v1m1 -1v1m1 -1v1m1 -1v1m1 -1v1m1 -1v1m1 -2v1m1 -2v1m1 -1v1m1 -2v1m1 -1v1m1 -2v1m1 -1v1m1 -1v1m1 -1v1m1 -1v1m1 -1v1m1 -1v1m1 -2v1m1 -2v1m1 -1v1m1 -2v1m1 -1v1m1 -2v1m1 -1v1m1 -1v1m1 -1v1m1 -2v1m1 -1v1m1 -1v1m1 -1v1m1 -1v1m1 -1v1m1 -1v1m1 -1v1m1 -1v1m1 -1v1m1 -1v1m1 -1v1m1 -1v1m1 -1v1m1 -1v1m1 -1v1m1 0v1m1 -1v1m1 -1v2m1 0v2m1 0v2m1 0v2m1 0v2m1 0v1m1 0v2m1 0v1m1 0v1m1 0v2m1 0v2m1 0v2m1 0v2m1 0v2m1 0v3m1 0v2m1 0v2m1 0v1m1 0v2m1 0v1m1 0v1m1 -3v2m1 -4v2m1 -4v2m1 -3v1m1 -2v1m1 -1v1m1 -2v1m1 -1v1m1 -1v1m1 0v1m1 -1v1m1 -1v1m1 0v1m1 0v2m1 0v1m1 0v1m1 0v2m1 0v1m1 0v2m1 0v1m1 0v2m1 0v2m1 0v2m1 0v1m1 0v1m1 0v1m1 0v1m1 0v1m1 0v1m1 0v1m1 0v1m1 0v1m1 0v1m1 -1v1m1 0v1m1 -1v1m1 -1v1m1 -1v1m1 -1v1m1 -1v1m1 -1v1m1 -1v1m1 -1v1m1 -1v2m1 0v3m1 0v2m1 0v3m1 0v2m1 0v2m1 0v2m1 0v2m1 0v2m1 0v4m1 0v4m1 0v4m1 0v3m1 -2v1m1 -1v1m1 -2v1m1 -2v2m1 -4v2m1 -5v3m1 -5v2m1 -5v3m1 -5v2m1 -5v3m1 -5v2m1 -4v2m1 -4v2m1 -4v2m1 -4v2m1 -3v1m1 -2v1m1 -2v1m1 -2v1m1 -3v2m1 -5v3m1 -6v3m1 -6v3m1 -5v2m1 -2v1m1 0v1m1 -1v1m1 -1v2m1 0v2m1 0v3m1 0v2m1 0v2m1 -1v1m1 -2v1m1 -1v1m1 -1v2m1 0v2m1 0v2m1 0v2m1 0v2m1 0v2m1 0v2m1 0v2m1 0v2m1 0v2m1 0v2m1 0v2m1 0v2m1 -2v1m1 -1v1m1 -2v1m1 -1v1m1 -2v1m1 -2v1m1 -2v1m1 -2v1m1 -3v2m1 -4v2m1 -4v2m1 -3v1m1 -2v1m1 -1v1m1 -2v1m1 -1v1m1 -2v1m1 -1v1m1 -2v1m1 -1v2m1 0v2m1 0v3m1 0v2m1 0v2m1 0v1m1 0v1m1 0v1m1 0v1m1 -3v2m1 -4v2m1 -4v2m1 -5v3m1 -5v2m1 -4v2m1 -4v2m1 -5v3m1 -7v4m1 -8v4m1 -8v4m1 -8v4m1 -8v4m1 -8v4m1 -8v4m1 -7v3m1 -4v1m1 -3v2m1 -3v1m1 -2v1m1 -2v1m1 -2v1m1 -2v1m1 -2v1m1 -2v1m1 -2v1m1 -1v1m1 -3v2m1 -4v2m1 -4v2m1 -4v2m1 -4v2m1 -1v2m1 0v1m1 0v2m1 0v1m1 0v1m1 0v2m1 0v1m1 0v2m1 0v3m1 0v2m1 0v3m1 0v2m1 0v1m1 0v1m1 0v1m1 0v1m1 -1v1m1 -2v1m1 -1v1m1 -1v1m1 -1v1m1 -1v1m1 -1v1m1 -1v1m1 0v1m1 0v1m1 0v1m1 0v1m1 0v1m1 0v1m1 0v1m1 0v1m1 0v1m1 0v1m1 -1v1m1 0v1m1 -2v1m1 -2v1m1 -2v1m1 -2v1m1 -2v1m1 -2v1m1 -2v1m1 -2v1m1 -3v2m1 -4v2m1 -4v2m1 -5v3m1 -6v3m1 -7v4m1 -7v3m1 -6v3m1 -6v3m1 -5v2m1 -5v3m1 -5v2m1 -4v2m1 -3v1m1 -3v2m1 -3v1m1 0v1m1 0v1m1 -1v1m1 0v2m1 0v4m1 0v3m1 0v4m1 0v4m1 0v5m1 0v6m1 0v5m1 0v4m1 0v4m1 0v4m1 0v4m1 0v4m1 0v4m1 0v4m1 0v4m1 0v4m1 0v4m1 0v3m1 0v4m1 0v3m1 0v3m1 0v2m1 0v3m1 0v2m1 0v2m1 0v2m1 0v2m1 0v1m1 0v1m1 0v1m1 0v1m1 0v1m1 0v1m1 0v1m1 0v1m1 0v1m1 0v2m1 0v1m1 0v2m1 0v1m1 0v2m1 0v2m1 0v2m1 0v1m1 0v1m1 0v2m1 0v1m1 0v1m1 0v1m1 0v1m1 -1v1m1 0v1m1 -1v1m1 0v1m1 -1v1m1 -1v1m1 -1v1m1 -1v1m1 -1v1m1 -1v1m1 -1v1m1 -2v1m1 -1v1m1 -1v1m1 -1v1m1 -1v1m1 -1v1m1 -1v1m1 -1v1m1 -2v1m1 -1v1m1 -1v1m1 -1v1m1 -2v1m1 -1v1m1 -1v1m1 -2v1m1 -2v1m1 -1v1m1 -3v2m1 -4v2m1 -4v2m1 -4v2m1 -5v3m1 -5v2m1 -4v2m1 -4v2m1 -5v3m1 -6v3m1 -6v3m1 -6v3m1 -6v3m1 -6v3m1 -6v3m1 -6v3m1 -5v2m1 -3v1m1 -3v2m1 -3v1m1 -2v1m1 -2v1m1 -3v2m1 -3v1m1 -2v1m1 -3v2m1 -3v1m1 -3v2m1 -3v1m1 -2v1m1 -3v2m1 -3v1m1 -3v2m1 -4v2m1 -5v3m1 -5v2m1 -4v2m1 -4v2m1 -4v2m1 -4v2m1 -4v2m1 0v2m1 0v2m1 0v2m1 0v3m1 0v4m1 0v4m1 0v4m1 0v2m1 0v1m1 0v1m1 0v1m1 0v1m1 0v1m1 0v2m1 0v1m1 0v1m1 0v1m1 0v1m1 -1v1m1 0v1m1 0v2m1 0v1m1 0v2m1 0v1m1 0v1m1 0v1m1 0v1m1 0v1m1 -1v1m1 0v1m1 -1v1m1 -1v1m1 -1v1m1 -1v1m1 -1v1m1 -1v1m1 0v1m1 0v1m1 -1v1m1 0v1m1 0v1m1 0v2m1 0v1m1 0v1m1 0v1m1 0v2m1 0v1m1 0v2m1 0v2m1 0v2m1 0v2m1 0v2m1 0v2m1 0v2m1 0v2m1 0v2m1 0v2m1 0v2m1 0v2m1 0v2m1 0v2m1 0v2m1 0v2m1 0v2m1 -1v1m1 -1v1m1 -1v1m1 -1v1m1 -1v1m1 -2v1m1 -1v1m1 -2v2m1 -5v3m1 -5v2m1 -5v3m1 -6v3m1 -5v2m1 -5v3m1 -5v2m1 -4v2m1 -2v1m1 -1v1m1 -1v1m1 -1v1m1 0v1m1 0v1m1 -1v1m1 0v1m1 -1v1m1 -1v1m1 -1v1m1 -1v1m1 0v1m1 0v2m1 0v1m1 0v1m1 -1v1m1 0v1m1 -1v1m1 -1v1m1 -1v1m1 -1v1m1 -1v1m1 -1v1" fill="none" stroke="#ff0000" stroke-width="1"/>
<path d="M3.5 782v1m1 -1v1m1 0v1m1 -1v1m1 -1v1m1 0v1m1 -1v1m1 0v1m1 -1v1m1 -3v2m1 -4v2m1 -4v2m1 -3v1m1 -2v1m1 -2v1m1 -1v1m1 -2v1m1 -1v1m1 -1v1m1 -1v1m1 -1v1m1 -1v1m1 -1v1m1 -1v1m1 -1v1m1 -1v1m1 -1v1m1 -1v1m1 -1v1m1 -1v1m1 -1v1m1 -1v1m1 -1v1m1 0v1m1 0v2m1 0v1m1 -5v6m1 -16v10m1 -20v10m1 -20v10m1 -16v6m1 -4v2m1 0v2m1 0v2m1 0v2m1 -3v2m1 -3v1m1 -3v2m1 -3v1m1 0v1m1 0v2m1 0v1m1 -5v6m1 -16v10m1 -21v11m1 -21v10m1 -19v9m1 -16v7m1 -14v7m1 -14v7m1 -13v6m1 -11v5m1 -9v4m1 -9v5m1 -8v3m1 -2v2m1 0v2m1 0v2m1 -1v2m1 -5v3m1 -5v2m1 -5v3m1 -10v7m1 -18v11m1 -22v11m1 -22v11m1 -17v6m1 -7v1m1 -2v1m1 -2v1m1 -2v5m1 0v9m1 0v10m1 0v9m1 0v5m1 -1v1m1 -1v1m1 -1v1m1 -2v2m1 -6v4m1 -8v4m1 -8v4m1 -6v2m1 -3v1m1 -2v1m1 -1v1m1 -2v1m1 -1v1m1 -1v1m1 -1v1m1 -1v2m1 0v2m1 0v3m1 0v2m1 0v3m1 0v4m1 0v3m1 0v4m1 0v5m1 0v7m1 0v8m1 0v7m1 0v6m1 0v5m1 0v6m1 0v5m1 0v3m1 -1v1m1 -1v1m1 -1v1m1 -4v4m1 -12v8m1 -16v8m1 -16v8m1 -17v9m1 -17v8m1 -16v8m1 -16v8m1 -15v7m1 -13v6m1 -12v6m1 -12v6m1 -9v3m1 -5v2m1 -3v1m1 -3v2m1 -3v1m1 -2v1m1 -2v1m1 -1v1m1 -2v1m1 -1v1m1 -1v1m1 -1v1m1 -1v2m1 0v2m1 0v2m1 0v2m1 0v2m1 0v1m1 -1v1m1 0v1m1 -1v3m1 0v6m1 0v5m1 0v6m1 0v8m1 0v11m1 0v11m1 0v11m1 0v12m1 0v14m1 0v14m1 0v14m1 0v11m1 0v8m1 0v8m1 0v8m1 0v4m1 0v1m1 -1v1m1 0v1m1 -1v1m1 -2v1m1 -1v1m1 -2v1m1 -3v3m1 -8v5m1 -10v5m1 -10v5m1 -11v6m1 -14v8m1 -15v7m1 -15v8m1 -16v8m1 -18v10m1 -20v10m1 -20v10m1 -20v10m1 -22v12m1 -24v12m1 -24v12m1 -18v6m1 -4v2m1 0v2m1 0v2m1 0v7m1 0v12m1 0v12m1 0v12m1 0v10m1 0v10m1 0v10m1 0v10m1 0v9m1 0v7m1 0v6m1 0v7m1 0v7m1 0v7m1 0v8m1 0v7m1 0v4m1 -3v2m1 -4v2m1 -4v2m1 -4v2m1 -3v1m1 -3v2m1 -3v1m1 -4v3m1 -9v6m1 -12v6m1 -12v6m1 -13v7m1 -15v8m1 -16v8m1 -16v8m1 -18v10m1 -21v11m1 -22v11m1 -22v11m1 -23v12m1 -26v14m1 -28v14m1 -28v14m1 -22v8m1 -10v2m1 -4v2m1 -4v2m1 -4v2m1 -1v1m1 -1v1m1 0v1m1 -1v1m1 0v1m1 0v1m1 0v1m1 0v1m1 -1v1m1 -2v1m1 -1v1m1 -1v5m1 0v8m1 0v8m1 0v8m1 0v11m1 0v12m1 0v12m1 0v12m1 0v13m1 0v12m1 0v13m1 0v12m1 0v9m1 0v6m1 0v6m1 0v6m1 0v5m1 0v2m1 0v2m1 0v2m1 0v2m1 -2v1m1 -2v1m1 -2v1m1 -7v6m1 -17v11m1 -21v10m1 -21v11m1 -20v9m1 -16v7m1 -14v7m1 -14v7m1 -17v10m1 -24v14m1 -28v14m1 -28v14m1 -24v10m1 -16v6m1 -11v5m1 -11v6m1 -10v4m1 -8v4m1 -8v4m1 -8v4m1 -7v3m1 -4v1m1 -2v1m1 -2v1m1 -2v1m1 0v1m1 -1v1m1 0v1m1 -1v1m1 -1v1m1 -1v1m1 -1v1m1 -1v5m1 0v8m1 0v8m1 0v8m1 0v7m1 0v5m1 0v6m1 0v5m1 0v9m1 0v14m1 0v14m1 0v14m1 0v12m1 0v8m1 0v8m1 0v8m1 0v7m1 0v6m1 0v6m1 0v6m1 0v3m1 0v1m1 0v2m1 0v1m1 0v1m1 -2v1m1 -3v2m1 -3v1m1 -6v5m1 -13v8m1 -16v8m1 -16v8m1 -18v10m1 -21v11m1 -23v12m1 -23v11m1 -18v7m1 -11v4m1 -7v3m1 -7v4m1 -11v7m1 -19v12m1 -24v12m1 -24v12m1 -18v6m1 -7v1m1 -2v1m1 -2v1m1 -2v1m1 0v2m1 0v2m1 0v2m1 0v1m1 -2v1m1 -2v1m1 -1v1m1 -2v1m1 -1v1m1 -1v1m1 -1v1m1 -1v1m1 0v1m1 0v2m1 0v1m1 0v2m1 0v4m1 0v3m1 0v4m1 -1v3m1 -9v6m1 -12v6m1 -12v6m1 -10v7m1 0v14m1 0v13m1 0v14m1 0v12m1 0v10m1 0v11m1 0v10m1 0v10m1 0v8m1 0v8m1 0v8m1 0v6m1 0v4m1 0v4m1 0v4m1 0v3m1 0v1m1 0v1m1 0v1m1 0v1m1 -3v2m1 -3v1m1 -3v2m1 -3v1m1 0v1m1 0v1m1 0v1m1 0v1m1 -1v1m1 0v1m1 -1v1m1 -1v1m1 -1v1m1 -2v1m1 -1v1m1 -1v1m1 -1v1m1 0v1m1 -1v1m1 -1v1m1 -1v1m1 -1v1m1 -1v1m1 -1v2m1 0v2m1 0v3m1 0v2m1 0v2m1 -2v1m1 -3v2m1 -3v1m1 -2v1m1 -3v2m1 -4v2m1 -4v2m1 -5v3m1 -8v5m1 -10v5m1 -10v5m1 -11v6m1 -13v7m1 -14v7m1 -14v7m1 -17v10m1 -24v14m1 -28v14m1 -28v14m1 -26v12m1 -23v11m1 -22v11m1 -22v11m1 -19v8m1 -14v6m1 -12v6m1 -12v6m1 -9v3m1 -4v1m1 -1v1m1 -2v1m1 -1v1m1 -1v1m1 -1v1m1 -1v1m1 -1v1m1 -1v1m1 -2v1m1 -1v1m1 -1v1m1 -1v1m1 -1v1m1 -1v1m1 -1v1m1 -1v1m1 0v1m1 -1v1m1 -1v1m1 -1v1m1 -1v1m1 -1v1m1 -1v1m1 -1v1m1 -1v1m1 -1v1m1 -1v1m1 0v2m1 0v2m1 0v2m1 0v1m1 -1v1m1 -1v1m1 -1v1m1 -1v1m1 -1v1m1 -1v1m1 -1v1m1 -1v1m1 -1v1m1 -1v1m1 -1v1m1 -1v1m1 -1v1m1 -1v1m1 -1v1m1 -1v1m1 -2v1m1 -2v1m1 -2v1m1 -2v1m1 -1v1m1 -1v1m1 -1v1m1 -1v1m1 -2v1m1 -2v1m1 -1v1m1 -2v1m1 0v1m1 0v1m1 -1v1m1 0v1m1 0v2m1 0v2m1 0v2m1 0v2m1 0v1m1 0v2m1 0v1m1 0v1m1 -1v1m1 -1v1m1 -1v1m1 -1v1m1 -1v1m1 -1v1m1 -1v1m1 -1v1m1 -1v1m1 -1v1m1 -1v1m1 -1v1m1 -1v1m1 -1v1m1 -1v1m1 -1v1m1 -1v1m1 0v1m1 -1v1m1 -1v1m1 0v2m1 0v2m1 0v2m1 0v1m1 -1v1m1 -1v1m1 -1v1m1 -1v1m1 -1v1m1 0v1m1 -1v1m1 -1v1m1 -1v1m1 -1v1m1 -1v1m1 -1v1m1 0v2m1 0v1m1 0v2m1 0v3m1 0v6m1 0v5m1 0v6m1 0v5m1 0v6m1 0v5m1 0v6m1 0v3m1 0v1m1 0v2m1 0v1m1 0v6m1 0v10m1 0v11m1 0v10m1 0v6m1 -1v1m1 -1v1m1 -1v1m1 -6v6m1 -16v10m1 -20v10m1 -20v10m1 -16v6m1 -2v7m1 0v8m1 0v7m1 0v6m1 0v5m1 0v5m1 0v5m1 0v5m1 0v4m1 0v4m1 0v4m1 0v4m1 0v3m1 0v4m1 0v3m1 0v2m1 0v2m1 0v2m1 0v2m1 0v2m1 -1v1m1 0v1m1 -1v1m1 -1v1m1 -1v1m1 -2v1m1 -1v1m1 -4v4m1 -12v8m1 -16v8m1 -16v8m1 -16v8m1 -15v7m1 -14v7m1 -14v7m1 -17v10m1 -24v14m1 -28v14m1 -28v14m1 -25v11m1 -18v7m1 -14v7m1 -14v7m1 -11v7m1 0v14m1 0v14m1 0v14m1 0v11m1 0v8m1 0v8m1 0v8m1 0v7m1 0v8m1 0v7m1 0v8m1 0v4m1 -1v1m1 -1v1m1 -1v1m1 -1v4m1 0v6m1 0v6m1 0v6m1 0v4m1 0v1m1 0v1m1 -1v1m1 0v1m1 0v1m1 0v2m1 0v1m1 0v1m1 -1v1m1 -1v1m1 -1v1m1 -1v1m1 -1v1m1 -1v1m1 -1v1m1 -1v1m1 -2v1m1 -3v2m1 -3v1m1 -4v3m1 -8v5m1 -10v5m1 -10v5m1 -11v6m1 -13v7m1 -13v6m1 -13v7m1 -16v9m1 -20v11m1 -22v11m1 -22v11m1 -23v12m1 -26v14m1 -28v14m1 -28v14m1 -23v9m1 -13v4m1 -8v4m1 -8v4m1 -7v3m1 -4v1m1 -2v1m1 -2v1m1 -2v1m1 -2v1m1 -1v1m1 -2v1m1 -1v2m1 0v4m1 0v4m1 0v4m1 0v9m1 0v14m1 0v14m1 0v14m1 0v13m1 0v10m1 0v10m1 0v10m1 0v10m1 0v8m1 0v8m1 0v8m1 0v7m1 0v4m1 0v4m1 0v4m1 0v4m1 0v2m1 0v2m1 0v2m1 0v2m1 -1v1m1 -2v1m1 -1v1m1 -1v1m1 -1v1m1 0v1m1 -1v1m1 -1v1m1 -1v1m1 -1v1m1 -1v1m1 -1v1m1 -1v1m1 -1v1m1 -1v1m1 -1v1m1 0v1m1 0v2m1 0v1m1 0v1m1 -2v1m1 -3v2m1 -3v1m1 -2v1m1 0v2m1 0v1m1 0v2m1 0v1m1 -1v1m1 -2v1m1 -1v1m1 -1v1m1 -2v1m1 -1v1m1 -2v1m1 -1v1m1 -1v1m1 -1v1m1 -1v1m1 -1v1m1 -1v1m1 -2v1m1 -1v1m1 -1v1m1 -2v1m1 -3v2m1 -3v1m1 -4v3m1 -8v5m1 -10v5m1 -10v5m1 -12v7m1 -15v8m1 -16v8m1 -16v8m1 -18v10m1 -22v12m1 -23v11m1 -23v12m1 -18v6m1 -4v4m1 0v4m1 0v4m1 -4v6m1 -18v12m1 -23v11m1 -23v12m1 -19v7m1 -9v2m1 -5v3m1 -5v2m1 -4v6m1 0v11m1 0v11m1 0v11m1 0v11m1 0v10m1 0v11m1 0v10m1 0v11m1 0v10m1 0v10m1 0v10m1 0v6m1 -15v10m1 -20v10m1 -20v10m1 -21v11m1 -21v10m1 -21v11m1 -21v10m1 -19v9m1 -17v8m1 -16v8m1 -16v8m1 -14v6m1 -10v4m1 -7v3m1 -7v4m1 -6v2m1 -3v1m1 -2v1m1 -2v1m1 -2v2m1 0v4m1 0v3m1 0v4m1 0v4m1 0v6m1 0v5m1 0v6m1 0v5m1 0v6m1 0v6m1 0v6m1 0v9m1 0v14m1 0v14m1 0v14m1 0v12m1 0v9m1 0v9m1 0v9m1 0v5m1 -1v1m1 -1v1m1 -1v1m1 -1v1m1 -1v1m1 -1v1m1 -1v1m1 -1v1m1 -1v1m1 -2v1m1 -1v1m1 -1v1m1 0v1m1 0v1m1 0v1m1 0v1m1 0v1m1 0v1m1 0v1m1 -1v2m1 -6v4m1 -7v3m1 -7v4m1 -10v6m1 -14v8m1 -16v8m1 -16v8m1 -18v10m1 -21v11m1 -22v11m1 -22v11m1 -20v9m1 -15v6m1 -12v6m1 -12v6m1 -11v5m1 -7v2m1 -5v3m1 -5v2m1 -4v7m1 0v12m1 0v12m1 0v12m1 0v9m1 0v5m1 0v4m1 0v5m1 0v7m1 0v8m1 0v8m1 0v8m1 0v7m1 0v4m1 0v5m1 0v4m1 0v3m1 -2v1m1 -2v1m1 -2v1m1 -5v4m1 -11v7m1 -13v6m1 -13v7m1 -16v9m1 -20v11m1 -22v11m1 -22v11m1 -21v10m1 -20v10m1 -20v10m1 -20v10m1 -20v10m1 -20v10m1 -20v10m1 -20v10m1 -17v7m1 -11v4m1 -8v4m1 -8v4m1 -6v2m1 -1v1m1 0v1m1 -1v1m1 0v2m1 0v2m1 0v2m1 0v2m1 0v3m1 0v4m1 0v3m1 0v4m1 0v4m1 0v6m1 0v6m1 0v6m1 0v4m1 0v1m1 0v2m1 0v1m1 0v6m1 0v10m1 0v11m1 0v10m1 0v12m1 0v14m1 0v14m1 0v14m1 0v8m1 0v2m1 0v2m1 0v2m1 -6v8m1 -22v14m1 -28v14m1 -28v14m1 -26v12m1 -21v9m1 -19v10m1 -19v9m1 -17v8m1 -15v7m1 -13v6m1 -13v7m1 -12v5m1 -8v3m1 -7v4m1 -7v3m1 -6v3m1 -7v4m1 -7v3m1 -7v4m1 -6v2m1 0v4m1 0v3m1 0v4m1 0v8m1 0v14m1 0v14m1 0v14m1 0v10m1 0v6m1 0v6m1 0v6m1 0v8m1 0v10m1 0v9m1 0v10m1 0v6m1 0v2m1 0v2m1 0v2m1 -5v7m1 -20v13m1 -25v12m1 -25v13m1 -25v12m1 -22v10m1 -20v10m1 -20v10m1 -17v7m1 -11v4m1 -7v3m1 -7v4m1 -9v5m1 -11v6m1 -13v7m1 -13v6m1 -10v4m1 -3v1m1 0v1m1 -1v1m1 0v1m1 -1v1m1 -1v1m1 -1v1m1 -1v1m1 -2v1m1 -2v1m1 -1v1m1 -2v1m1 0v1m1 0v1m1 -1v1m1 0v1m1 -1v1m1 -1v1m1 -1v1m1 -1v1m1 -3v2m1 -3v1m1 -3v2m1 -3v2m1 0v4m1 0v3m1 0v4m1 0v2m1 0v1m1 0v1m1 -1v1m1 0v1m1 -1v1m1 -1v1m1 -1v1m1 -1v1m1 -1v1m1 -1v1m1 -1v1m1 -1v1m1 0v1m1 0v1m1 -1v1m1 0v1m1 -3v2m1 -4v2m1 -4v2m1 -4v2m1 -3v1m1 -2v1m1 -2v1m1 -4v3m1 -8v5m1 -9v4m1 -9v5m1 -8v3m1 -4v1m1 -3v2m1 -3v1m1 -2v1m1 -1v1m1 -1v1m1 -1v1m1 -1v1m1 -2v1m1 -3v2m1 -3v1m1 -2v1m1 0v1m1 -1v1m1 0v1m1 -1v1m1 0v2m1 0v2m1 0v2m1 0v2m1 0v1m1 0v1m1 0v1m1 0v5m1 0v10m1 0v9m1 0v10m1 0v12m1 0v14m1 0v14m1 0v14m1 0v10m1 0v4m1 0v5m1 0v4m1 0v7m1 0v9m1 0v9m1 0v9m1 0v5m1 0v2m1 0v1m1 0v2m1 0v1m1 -1v1m1 -1v1m1 -1v1m1 -1v1m1 0v1m1 0v1m1 -1v1m1 0v1m1 -1v1m1 -1v1m1 -1v1m1 -7v7m1 -21v14m1 -28v14m1 -28v14m1 -27v13m1 -23v10m1 -20v10m1 -20v10m1 -19v9m1 -16v7m1 -15v8m1 -15v7m1 -13v6m1 -12v6m1 -12v6m1 -12v6m1 -11v5m1 -8v3m1 -6v3m1 -6v3m1 -6v3m1 -5v2m1 -4v2m1 -4v2m1 -4v2m1 -2v1m1 -2v1m1 -1v1m1 -1v4m1 0v7m1 0v7m1 0v7m1 0v5m1 0v4m1 0v4m1 0v4m1 0v6m1 0v6m1 0v6m1 0v6m1 0v9m1 0v12m1 0v11m1 0v12m1 0v10m1 0v10m1 0v10m1 0v10m1 0v6m1 -3v2m1 -3v1m1 -3v2m1 -3v1m1 0v1m1 0v1m1 -1v1m1 -6v7m1 -21v14m1 -28v14m1 -28v14m1 -26v12m1 -23v11m1 -22v11m1 -22v11m1 -18v7m1 -11v4m1 -7v3m1 -7v4m1 -8v4m1 -10v6m1 -12v6m1 -12v6m1 -10v4m1 -8v4m1 -8v4m1 -8v4m1 -7v3m1 -2v1m1 0v1m1 -1v1m1 0v3m1 0v6m1 0v6m1 0v6m1 0v8m1 0v9m1 0v9m1 0v9m1 0v12m1 0v14m1 0v14m1 0v14m1 0v12m1 0v9m1 0v10m1 0v9m1 0v5m1 0v1m1 0v1m1 0v1m1 0v1m1 -3v2m1 -3v1m1 -3v2m1 -6v4m1 -12v8m1 -16v8m1 -16v8m1 -17v9m1 -20v11m1 -22v11m1 -22v11m1 -23v12m1 -26v14m1 -28v14m1 -28v14m1 -24v10m1 -16v6m1 -11v5m1 -11v6m1 -9v3m1 -4v1m1 -3v2m1 -3v1m1 -2v2m1 0v2m1 0v3m1 0v2m1 0v2m1 -1v1m1 -1v1m1 -1v1m1 -1v1m1 -1v1m1 -1v1m1 -1v1m1 -1v1m1 -1v1m1 -1v1m1 -1v1m1 -1v1m1 0v1m1 0v1m1 0v1m1 0v1m1 -1v1m1 -1v1m1 -1v1m1 -1v1m1 0v2m1 0v1m1 0v2m1 0v3m1 0v5m1 0v6m1 0v5m1 0v8m1 0v10m1 0v11m1 0v10m1 0v12m1 0v14m1 0v14m1 0v14m1 0v11m1 0v8m1 0v8m1 0v8m1 0v5m1 0v2m1 0v1m1 0v2m1 0v1m1 0v1m1 0v1m1 -1v1m1 -1v2m1 -5v3m1 -6v3m1 -6v3m1 -7v4m1 -10v6m1 -12v6m1 -12v6m1 -15v9m1 -20v11m1 -22v11m1 -22v11m1 -23v12m1 -26v14m1 -28v14m1 -28v14m1 -22v8m1 -12v4m1 -7v3m1 -7v4m1 -8v4m1 -10v6m1 -12v6m1 -12v6m1 -9v3m1 -4v1m1 -2v1m1 -2v1m1 -2v1m1 -2v1m1 -1v1m1 -2v1m1 -1v1m1 -1v1m1 -1v1m1 -1v1m1 -1v1m1 -2v1m1 -1v1m1 -2v1m1 -1v1m1 0v1m1 0v2m1 0v1m1 0v7m1 0v14m1 0v14m1 0v14m1 0v12m1 0v11m1 0v11m1 0v11m1 0v9m1 0v8m1 0v8m1 0v8m1 0v6m1 0v4m1 0v3m1 0v4m1 0v2m1 0v1m1 -1v1m1 0v1m1 -2v2m1 -4v2m1 -5v3m1 -5v2m1 -6v4m1 -9v5m1 -11v6m1 -11v5m1 -8v3m1 -3v1m1 -1v1m1 -1v1m1 -5v5m1 -15v10m1 -19v9m1 -19v10m1 -15v6m1 0v10m1 0v10m1 0v10m1 0v8m1 0v5m1 0v5m1 0v5m1 0v3m1 0v2m1 0v2m1 0v2m1 -2v4m1 -10v6m1 -12v6m1 -12v6m1 -15v9m1 -20v11m1 -21v10m1 -21v11m1 -23v12m1 -26v14m1 -28v14m1 -28v14m1 -23v9m1 -12v3m1 -7v4m1 -7v3m1 -5v2m1 -3v1m1 -2v1m1 -1v1m1 -3v2m1 -4v2m1 -4v2m1 -4v2m1 -4v2m1 -1v1m1 0v1m1 0v1m1 0v2m1 0v4m1 0v4m1 0v4m1 0v9m1 0v14m1 0v13m1 0v14m1 0v12m1 0v10m1 0v11m1 0v10m1 0v7m1 0v3m1 0v2m1 0v3m1 0v5m1 0v7m1 0v7m1 0v7m1 0v4m1 -3v2m1 -4v2m1 -4v2m1 -7v5m1 -13v8m1 -16v8m1 -16v8m1 -20v12m1 -26v14m1 -28v14m1 -28v14m1 -27v13m1 -24v11m1 -21v10m1 -21v11m1 -18v7m1 -10v3m1 -7v4m1 -7v3m1 -5v2m1 0v2m1 0v2m1 0v2m1 0v8m1 0v14m1 0v14m1 0v14m1 0v12m1 0v10m1 0v9m1 0v10m1 0v9m1 0v8m1 0v8m1 0v8m1 0v5m1 -1v1m1 0v1m1 -1v1m1 -1v2m1 0v3m1 0v4m1 0v3m1 -3v5m1 -13v8m1 -17v9m1 -17v8m1 -16v8m1 -16v8m1 -16v8m1 -16v8m1 -14v6m1 -12v6m1 -11v5m1 -11v6m1 -14v8m1 -19v11m1 -21v10m1 -21v11m1 -17v6m1 -7v1m1 -2v1m1 -1v1m1 -2v1m1 -1v1m1 -2v1m1 -1v1m1 -1v1m1 -1v1m1 0v1m1 -1v1m1 -1v1m1 -2v1m1 -1v1m1 -2v1m1 -1v1m1 0v1m1 0v2m1 0v1m1 0v2m1 0v4m1 0v3m1 0v4m1 0v5m1 0v8m1 0v8m1 0v8m1 0v11m1 0v14m1 0v14m1 0v14m1 0v13m1 0v11m1 0v11m1 0v11m1 0v7m1 0v4m1 0v4m1 0v4m1 0v2m1 -1v1m1 -1v1m1 -1v1m1 -1v1m1 -1v1m1 -1v1m1 -1v1m1 -1v1m1 -1v1m1 -1v1m1 -1v1m1 -1v1m1 -2v1m1 -2v1m1 -2v1m1 -3v2m1 -4v2m1 -5v3m1 -5v2m1 -5v3m1 -7v4m1 -8v4m1 -8v4m1 -8v4m1 -10v6m1 -12v6m1 -12v6m1 -15v9m1 -20v11m1 -21v10m1 -21v11m1 -24v13m1 -27v14m1 -28v14m1 -28v14m1 -26v12m1 -20v8m1 -16v8m1 -16v8m1 -13v5m1 -4v1m1 0v1m1 0v1m1 0v2m1 0v4m1 0v4m1 0v4m1 0v4m1 0v4m1 0v5m1 0v4m1 0v9m1 0v14m1 0v14m1 0v14m1 0v13m1 0v10m1 0v11m1 0v10m1 0v9m1 0v8m1 0v7m1 0v8m1 0v5m1 0v3m1 0v4m1 0v3m1 -2v4m1 -12v8m1 -16v8m1 -16v8m1 -17v9m1 -20v11m1 -22v11m1 -22v11m1 -23v12m1 -26v14m1 -28v14m1 -28v14m1 -24v10m1 -15v5m1 -10v5m1 -10v5m1 -8v5m1 0v8m1 0v8m1 0v8m1 0v8m1 0v7m1 0v8m1 0v7m1 0v5m1 0v4m1 0v4m1 0v4m1 0v3m1 0v1m1 0v2m1 0v1m1 0v5m1 0v10m1 0v10m1 0v10m1 0v6m1 -6v4m1 -7v3m1 -7v4m1 -9v5m1 -11v6m1 -13v7m1 -13v6m1 -14v8m1 -17v9m1 -17v8m1 -17v9m1 -20v11m1 -25v14m1 -28v14m1 -28v14m1 -22v8m1 -10v2m1 -4v2m1 -4v2m1 -4v2m1 0v4m1 0v4m1 0v4m1 0v5m1 0v7m1 0v6m1 0v7m1 0v10m1 0v14m1 0v14m1 0v14m1 0v12m1 0v10m1 0v10m1 0v10m1 0v6m1 0v2m1 0v3m1 0v2m1 0v3m1 0v3m1 0v2m1 0v3m1 0v3m1 0v4m1 0v4m1 0v4m1 0v3m1 -2v1m1 -1v1m1 -2v1m1 -1v1m1 -1v1m1 -1v1m1 -1v1m1 -1v1m1 -1v1m1 -1v1m1 -1v1m1 -1v1m1 -2v1m1 -3v2m1 -3v1m1 -4v3m1 -9v6m1 -12v6m1 -12v6m1 -12v6m1 -14v8m1 -16v8m1 -16v8m1 -19v11m1 -25v14m1 -28v14m1 -28v14m1 -27v13m1 -24v11m1 -21v10m1 -21v11m1 -18v7m1 -10v3m1 -7v4m1 -7v3m1 -5v2m1 -3v1m1 -3v2m1 -3v1m1 -2v2m1 0v4m1 0v3m1 0v4m1 0v3m1 0v4m1 0v3m1 0v4m1 0v9m1 0v14m1 0v14m1 0v14m1 0v13m1 0v11m1 0v11m1 0v11m1 0v10m1 0v8m1 0v8m1 0v8m1 0v5" fill="none" stroke="#00008b" stroke-width="1"/>
</g>
<g font-family="Liberation Sans, sans-serif" font-size="9.9" fill="#000" stroke="#000" stroke-width="0.15" text-rendering="geometricPrecision">
<text x="17.8" y="14" textLength="51" lengthAdjust="spacingAndGlyphs">GBPJPY,M1</text>
<text x="74.6" y="14" textLength="33.4" lengthAdjust="spacingAndGlyphs">212.920</text>
<text x="110.6" y="14" textLength="33.4" lengthAdjust="spacingAndGlyphs">212.932</text>
<text x="146.6" y="14" textLength="33.4" lengthAdjust="spacingAndGlyphs">212.920</text>
<text x="182.6" y="14" textLength="33.4" lengthAdjust="spacingAndGlyphs">212.926</text>
<text x="1771" y="16.8" textLength="33.3" lengthAdjust="spacingAndGlyphs">213.220</text>
<text x="1771" y="53.8" textLength="33.3" lengthAdjust="spacingAndGlyphs">213.180</text>
<text x="1771" y="86.8" textLength="33.3" lengthAdjust="spacingAndGlyphs">213.145</text>
<text x="1771" y="119.8" textLength="33.3" lengthAdjust="spacingAndGlyphs">213.110</text>
<text x="1771" y="152.8" textLength="33.3" lengthAdjust="spacingAndGlyphs">213.075</text>
<text x="1771" y="189.8" textLength="33.3" lengthAdjust="spacingAndGlyphs">213.035</text>
<text x="1771" y="222.8" textLength="33.3" lengthAdjust="spacingAndGlyphs">213.000</text>
<text x="1771" y="255.8" textLength="33.3" lengthAdjust="spacingAndGlyphs">212.965</text>
<text x="1771" y="325.8" textLength="33.3" lengthAdjust="spacingAndGlyphs">212.890</text>
<text x="1771" y="358.8" textLength="33.3" lengthAdjust="spacingAndGlyphs">212.855</text>
<text x="1771" y="391.8" textLength="33.3" lengthAdjust="spacingAndGlyphs">212.820</text>
<text x="1771" y="424.8" textLength="33.3" lengthAdjust="spacingAndGlyphs">212.785</text>
<text x="1771" y="461.8" textLength="33.3" lengthAdjust="spacingAndGlyphs">212.745</text>
<text x="1771" y="494.8" textLength="33.3" lengthAdjust="spacingAndGlyphs">212.710</text>
<text x="1771" y="527.8" textLength="33.3" lengthAdjust="spacingAndGlyphs">212.675</text>
<text x="1771" y="560.8" textLength="33.3" lengthAdjust="spacingAndGlyphs">212.640</text>
<text x="1771" y="593.8" textLength="33.3" lengthAdjust="spacingAndGlyphs">212.605</text>
<rect x="1766" y="285" width="2" height="1" fill="#000" shape-rendering="crispEdges"/>
<text x="1771" y="289.2" textLength="33.3" lengthAdjust="spacingAndGlyphs">212.930</text>
<rect x="1767" y="284" width="41" height="11" fill="#000" shape-rendering="crispEdges"/>
<text x="1771" y="292.6" textLength="33.3" lengthAdjust="spacingAndGlyphs" fill="#fff" stroke="#fff">212.926</text>
<text x="7.2" y="609.7" textLength="86.5" lengthAdjust="spacingAndGlyphs">Spearman(9) -0.5042</text>
<text x="100.6" y="609.7" textLength="91" lengthAdjust="spacingAndGlyphs">Spearman(26) -0.2882</text>
<text x="198.1" y="609.7" textLength="91.2" lengthAdjust="spacingAndGlyphs">Spearman(52) -0.2641</text>
<text x="1769" y="608">1</text>
<text x="1768" y="621" textLength="13.5" lengthAdjust="spacingAndGlyphs" font-weight="bold">0.8</text>
<text x="1769.4" y="697" textLength="19" lengthAdjust="spacingAndGlyphs">0.00</text>
<text x="1768" y="773" textLength="17" lengthAdjust="spacingAndGlyphs" font-weight="bold">-0.8</text>
<text x="1768.6" y="784.8">-1</text>
<text x="1769.3" y="801.5">2</text>
<text x="1769" y="808">0</text>
<text x="1769" y="808" textLength="17.6" lengthAdjust="spacingAndGlyphs">1.00</text>
<text x="45.2" y="802" textLength="12.7" lengthAdjust="spacingAndGlyphs" font-size="11">15</text>
<text x="285.2" y="802" textLength="12.7" lengthAdjust="spacingAndGlyphs" font-size="11">16</text>
<text x="525.2" y="802" textLength="12.7" lengthAdjust="spacingAndGlyphs" font-size="11">17</text>
<text x="765.2" y="802" textLength="12.7" lengthAdjust="spacingAndGlyphs" font-size="11">18</text>
<text x="1005.2" y="802" textLength="12.7" lengthAdjust="spacingAndGlyphs" font-size="11">19</text>
<text x="1245.2" y="802" textLength="12.7" lengthAdjust="spacingAndGlyphs" font-size="11">20</text>
<text x="1485.2" y="802" textLength="12.7" lengthAdjust="spacingAndGlyphs" font-size="11">21</text>
<text x="1725.2" y="802" textLength="12.7" lengthAdjust="spacingAndGlyphs" font-size="11">22</text>
<text x="2" y="824" textLength="52.8" lengthAdjust="spacingAndGlyphs">25 Mar 2026</text>
<text x="66" y="824" textLength="55.4" lengthAdjust="spacingAndGlyphs">25 Mar 09:04</text>
<text x="130" y="824" textLength="55.4" lengthAdjust="spacingAndGlyphs">25 Mar 09:20</text>
<text x="194" y="824" textLength="55.4" lengthAdjust="spacingAndGlyphs">25 Mar 09:36</text>
<text x="258" y="824" textLength="55.4" lengthAdjust="spacingAndGlyphs">25 Mar 09:52</text>
<text x="322" y="824" textLength="55.4" lengthAdjust="spacingAndGlyphs">25 Mar 10:08</text>
<text x="386" y="824" textLength="55.4" lengthAdjust="spacingAndGlyphs">25 Mar 10:24</text>
<text x="450" y="824" textLength="55.4" lengthAdjust="spacingAndGlyphs">25 Mar 10:40</text>
<text x="514" y="824" textLength="55.4" lengthAdjust="spacingAndGlyphs">25 Mar 10:56</text>
<text x="578" y="824" textLength="55.4" lengthAdjust="spacingAndGlyphs">25 Mar 11:12</text>
<text x="642" y="824" textLength="55.4" lengthAdjust="spacingAndGlyphs">25 Mar 11:28</text>
<text x="706" y="824" textLength="55.4" lengthAdjust="spacingAndGlyphs">25 Mar 11:44</text>
<text x="770" y="824" textLength="55.4" lengthAdjust="spacingAndGlyphs">25 Mar 12:00</text>
<text x="834" y="824" textLength="55.4" lengthAdjust="spacingAndGlyphs">25 Mar 12:16</text>
<text x="898" y="824" textLength="55.4" lengthAdjust="spacingAndGlyphs">25 Mar 12:32</text>
<text x="962" y="824" textLength="55.4" lengthAdjust="spacingAndGlyphs">25 Mar 12:48</text>
<text x="1026" y="824" textLength="55.4" lengthAdjust="spacingAndGlyphs">25 Mar 13:04</text>
<text x="1090" y="824" textLength="55.4" lengthAdjust="spacingAndGlyphs">25 Mar 13:20</text>
<text x="1154" y="824" textLength="55.4" lengthAdjust="spacingAndGlyphs">25 Mar 13:36</text>
<text x="1218" y="824" textLength="55.4" lengthAdjust="spacingAndGlyphs">25 Mar 13:52</text>
<text x="1282" y="824" textLength="55.4" lengthAdjust="spacingAndGlyphs">25 Mar 14:08</text>
<text x="1346" y="824" textLength="55.4" lengthAdjust="spacingAndGlyphs">25 Mar 14:24</text>
<text x="1410" y="824" textLength="55.4" lengthAdjust="spacingAndGlyphs">25 Mar 14:40</text>
<text x="1474" y="824" textLength="55.4" lengthAdjust="spacingAndGlyphs">25 Mar 14:56</text>
<text x="1538" y="824" textLength="55.4" lengthAdjust="spacingAndGlyphs">25 Mar 15:12</text>
<text x="1602" y="824" textLength="55.4" lengthAdjust="spacingAndGlyphs">25 Mar 15:28</text>
<text x="1666" y="824" textLength="55.4" lengthAdjust="spacingAndGlyphs">25 Mar 15:44</text>
<text x="1730" y="824" textLength="55.4" lengthAdjust="spacingAndGlyphs">25 Mar 16:00</text>
</g></svg></body></html>
